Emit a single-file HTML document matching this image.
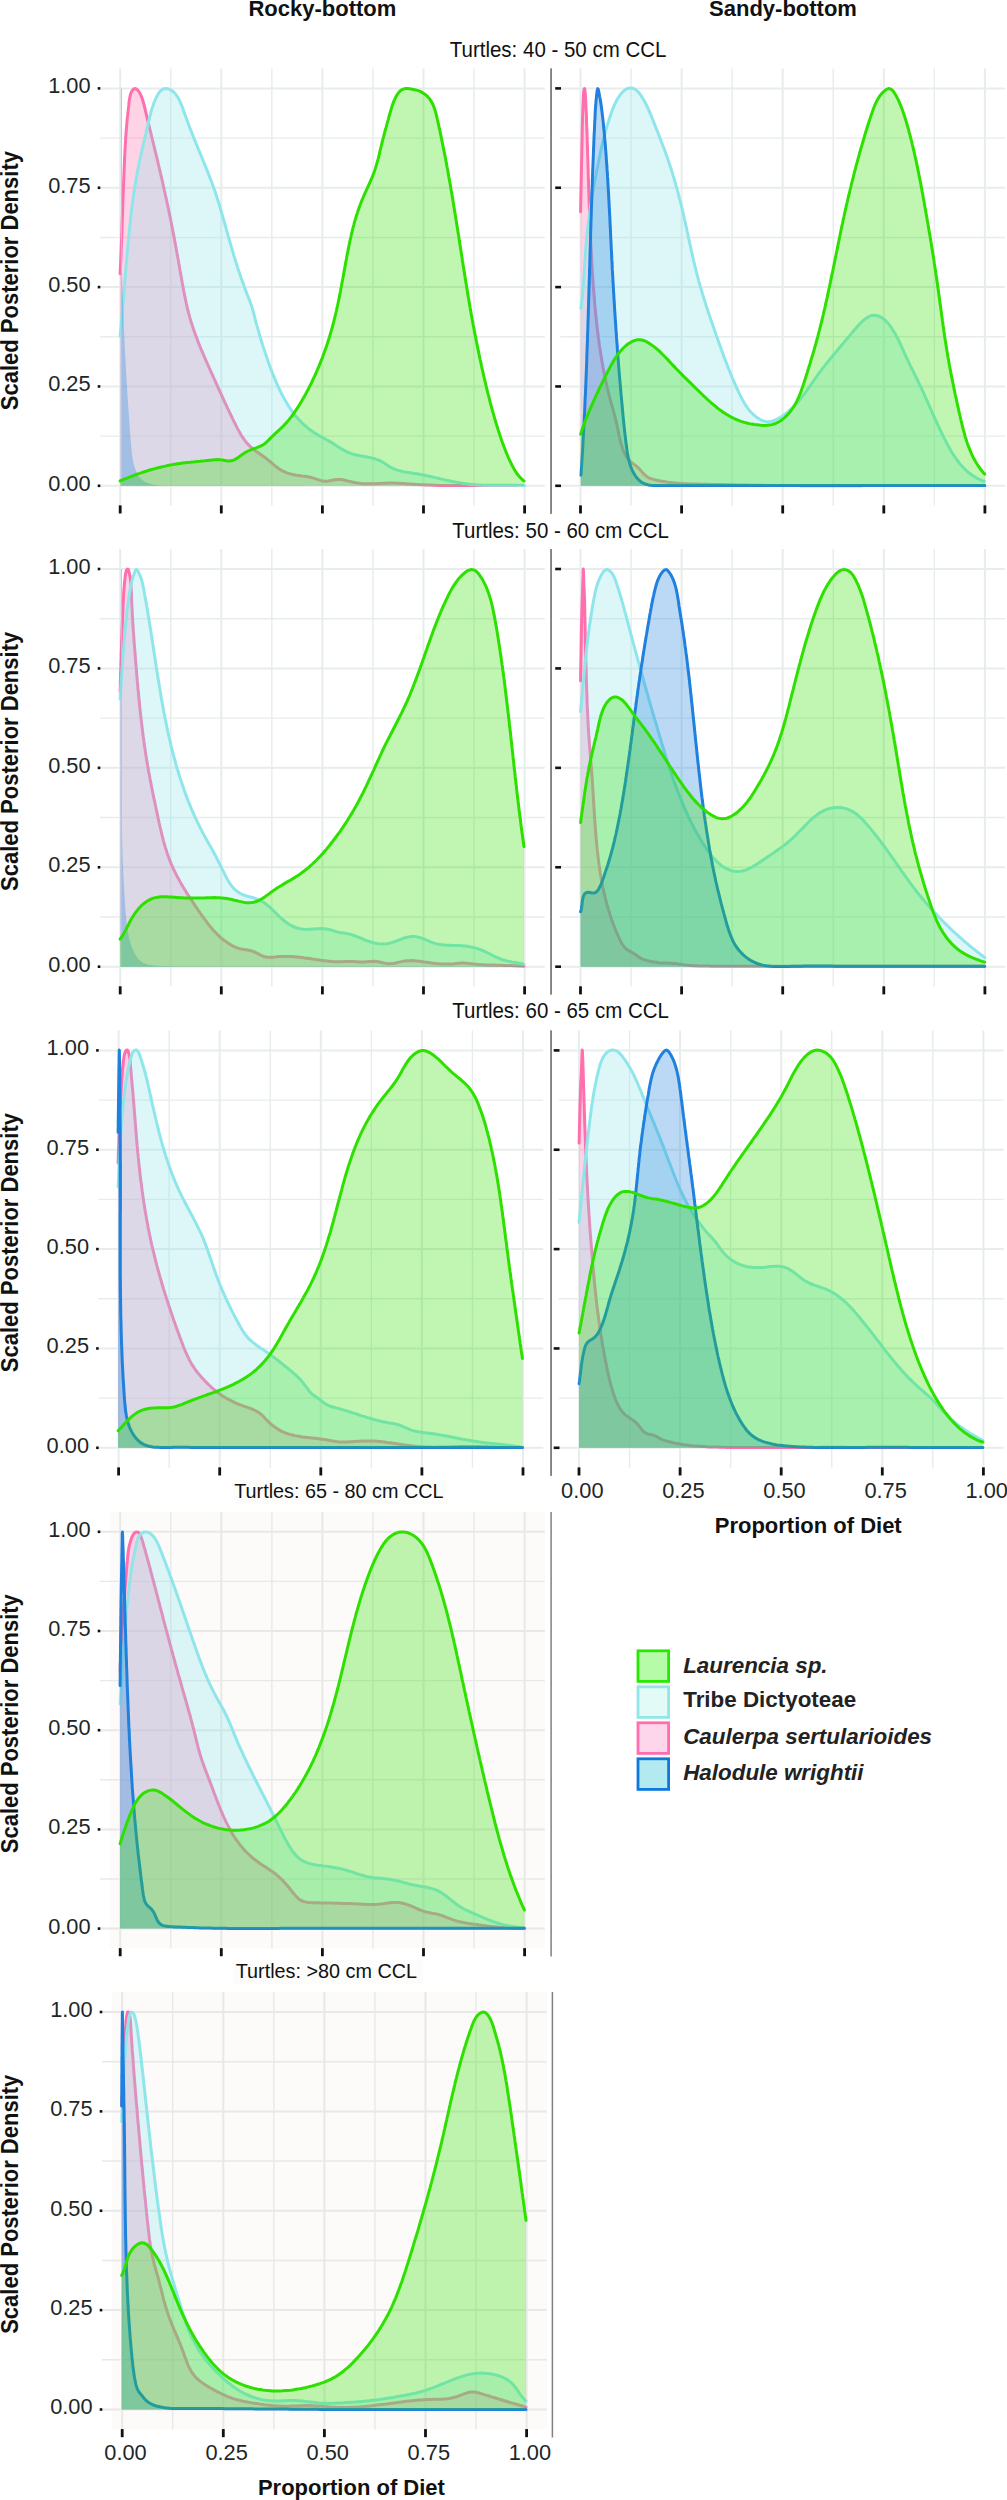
<!DOCTYPE html><html><head><meta charset="utf-8"><style>html,body{margin:0;padding:0;background:#fff;}svg{display:block;}</style></head><body>
<svg width="1007" height="2500" viewBox="0 0 1007 2500" font-family='"Liberation Sans", sans-serif'>
<rect width="1007" height="2500" fill="#fff"/>
<text x="322.4" y="16" font-size="22" font-weight="bold" text-anchor="middle" fill="#111">Rocky-bottom</text>
<text x="783" y="16" font-size="22" font-weight="bold" text-anchor="middle" fill="#111">Sandy-bottom</text>
<text transform="translate(558.1,56.6) scale(1,1.05)" font-size="20.5" text-anchor="middle" fill="#111">Turtles: 40 - 50 cm CCL</text>
<text transform="translate(560.6,537.8) scale(1,1.05)" font-size="20.5" text-anchor="middle" fill="#111">Turtles: 50 - 60 cm CCL</text>
<text transform="translate(560.6,1017.9) scale(1,1.05)" font-size="20.5" text-anchor="middle" fill="#111">Turtles: 60 - 65 cm CCL</text>
<rect x="233" y="1480" width="214" height="24" fill="#fcfcfb"/>
<text transform="translate(338.9,1497.9) scale(1,1.05)" font-size="19.8" text-anchor="middle" fill="#111">Turtles: 65 - 80 cm CCL</text>
<rect x="233" y="1960" width="190" height="24" fill="#fcfcfb"/>
<text transform="translate(326.4,1978.4) scale(1,1.05)" font-size="19.8" text-anchor="middle" fill="#111">Turtles: &gt;80 cm CCL</text>
<line x1="120.2" y1="68.53" x2="120.2" y2="505.67" stroke="#e6edeb" stroke-width="2.0"/>
<line x1="99.98" y1="485.8" x2="544.82" y2="485.8" stroke="#e6edeb" stroke-width="2.0"/>
<line x1="170.75" y1="68.53" x2="170.75" y2="505.67" stroke="#e6edeb" stroke-width="1.4"/>
<line x1="99.98" y1="436.12" x2="544.82" y2="436.12" stroke="#e6edeb" stroke-width="1.4"/>
<line x1="221.3" y1="68.53" x2="221.3" y2="505.67" stroke="#e6edeb" stroke-width="2.0"/>
<line x1="99.98" y1="386.45" x2="544.82" y2="386.45" stroke="#e6edeb" stroke-width="2.0"/>
<line x1="271.85" y1="68.53" x2="271.85" y2="505.67" stroke="#e6edeb" stroke-width="1.4"/>
<line x1="99.98" y1="336.78" x2="544.82" y2="336.78" stroke="#e6edeb" stroke-width="1.4"/>
<line x1="322.4" y1="68.53" x2="322.4" y2="505.67" stroke="#e6edeb" stroke-width="2.0"/>
<line x1="99.98" y1="287.1" x2="544.82" y2="287.1" stroke="#e6edeb" stroke-width="2.0"/>
<line x1="372.95" y1="68.53" x2="372.95" y2="505.67" stroke="#e6edeb" stroke-width="1.4"/>
<line x1="99.98" y1="237.43" x2="544.82" y2="237.43" stroke="#e6edeb" stroke-width="1.4"/>
<line x1="423.5" y1="68.53" x2="423.5" y2="505.67" stroke="#e6edeb" stroke-width="2.0"/>
<line x1="99.98" y1="187.75" x2="544.82" y2="187.75" stroke="#e6edeb" stroke-width="2.0"/>
<line x1="474.05" y1="68.53" x2="474.05" y2="505.67" stroke="#e6edeb" stroke-width="1.4"/>
<line x1="99.98" y1="138.08" x2="544.82" y2="138.08" stroke="#e6edeb" stroke-width="1.4"/>
<line x1="524.6" y1="68.53" x2="524.6" y2="505.67" stroke="#e6edeb" stroke-width="2.0"/>
<line x1="99.98" y1="88.4" x2="544.82" y2="88.4" stroke="#e6edeb" stroke-width="2.0"/>
<path d="M120.1,485.8 120.1,273.8 120.2,271.3 120.3,268.8 120.5,266.3 120.6,263.8 120.7,261.3 120.8,258.7 120.9,256.2 121.0,253.7 121.1,251.2 121.2,248.6 121.3,246.1 121.4,243.6 121.5,241.1 121.6,238.6 121.7,236.0 121.8,233.5 121.9,231.0 122.0,228.5 122.0,225.9 122.1,223.4 122.2,220.9 122.3,218.4 122.4,215.8 122.5,213.3 122.6,210.8 122.7,208.3 122.7,205.7 122.8,203.2 122.9,200.7 123.0,198.2 123.1,195.6 123.2,193.1 123.3,190.6 123.4,188.1 123.5,185.6 123.6,183.0 123.7,180.5 123.8,178.0 123.9,175.5 124.0,173.0 124.1,170.4 124.2,167.9 124.3,165.4 124.4,162.9 124.5,160.4 124.6,157.9 124.7,155.4 124.9,152.8 125.0,150.3 125.1,147.8 125.3,145.3 125.4,142.7 125.6,140.2 125.7,137.7 125.9,135.1 126.1,132.5 126.3,130.0 126.5,127.4 126.7,124.9 126.9,122.4 127.1,120.0 127.4,117.6 127.7,115.2 127.9,112.8 128.2,110.4 128.5,107.9 128.8,105.2 129.0,102.5 129.4,99.7 129.9,96.9 130.5,94.3 131.4,92.0 132.7,90.0 134.2,88.7 135.8,88.6 137.3,89.7 138.7,91.4 139.9,93.2 140.9,95.3 141.8,97.4 142.6,99.8 143.3,102.2 144.0,104.6 144.6,107.2 145.2,109.7 145.8,112.2 146.4,114.7 147.0,117.2 147.6,119.7 148.2,122.1 148.8,124.6 149.4,127.1 150.0,129.6 150.6,132.1 151.2,134.5 151.8,137.0 152.4,139.5 153.0,141.9 153.6,144.4 154.2,146.9 154.8,149.3 155.4,151.8 156.0,154.2 156.6,156.7 157.2,159.2 157.8,161.6 158.3,164.1 158.9,166.5 159.5,169.0 160.1,171.4 160.6,173.9 161.2,176.3 161.8,178.8 162.3,181.2 162.9,183.6 163.4,186.1 164.0,188.5 164.5,191.0 165.1,193.5 165.6,195.9 166.2,198.4 166.7,200.8 167.2,203.3 167.7,205.7 168.3,208.2 168.8,210.7 169.3,213.1 169.8,215.6 170.3,218.1 170.8,220.5 171.3,223.0 171.8,225.5 172.3,228.0 172.7,230.4 173.2,232.9 173.7,235.4 174.2,237.9 174.6,240.4 175.1,242.9 175.6,245.4 176.0,247.9 176.5,250.3 176.9,252.8 177.4,255.3 177.8,257.8 178.3,260.3 178.7,262.8 179.2,265.3 179.6,267.8 180.0,270.3 180.5,272.8 180.9,275.3 181.4,277.8 181.8,280.2 182.2,282.7 182.7,285.2 183.2,287.7 183.6,290.2 184.1,292.7 184.6,295.1 185.1,297.6 185.6,300.1 186.1,302.5 186.7,305.0 187.2,307.4 187.8,309.9 188.4,312.3 189.1,314.7 189.7,317.2 190.4,319.6 191.1,322.0 191.9,324.4 192.7,326.8 193.5,329.2 194.3,331.5 195.1,333.9 196.0,336.3 196.9,338.6 197.8,341.0 198.7,343.4 199.7,345.7 200.6,348.0 201.6,350.4 202.6,352.7 203.6,355.0 204.6,357.4 205.6,359.7 206.6,362.0 207.7,364.3 208.7,366.6 209.7,368.9 210.7,371.2 211.8,373.5 212.8,375.8 213.8,378.1 214.9,380.4 215.9,382.7 216.9,385.0 218.0,387.3 219.0,389.6 220.1,391.9 221.1,394.2 222.1,396.4 223.2,398.7 224.2,401.0 225.3,403.3 226.4,405.6 227.4,407.9 228.5,410.1 229.6,412.4 230.7,414.7 231.8,417.0 232.9,419.3 234.0,421.5 235.1,423.8 236.3,426.1 237.4,428.4 238.6,430.6 239.9,432.8 241.1,435.0 242.5,437.1 243.9,439.2 245.4,441.2 247.0,443.1 248.6,444.9 250.4,446.6 252.3,448.3 254.2,449.9 256.2,451.4 258.3,452.8 260.4,454.3 262.5,455.8 264.6,457.2 266.6,458.7 268.6,460.3 270.5,461.9 272.4,463.5 274.3,465.2 276.2,466.8 278.2,468.3 280.3,469.6 282.4,470.9 284.7,471.9 287.0,472.8 289.4,473.6 291.8,474.3 294.2,474.8 296.7,475.2 299.2,475.5 301.7,475.9 304.1,476.2 306.6,476.6 309.1,477.0 311.5,477.6 314.0,478.3 316.4,479.1 318.8,479.9 321.2,480.6 323.6,481.1 326.1,481.2 328.6,481.0 331.1,480.5 333.6,480.0 336.1,479.6 338.6,479.5 341.1,479.6 343.5,480.0 345.9,480.5 348.3,481.1 350.8,481.6 353.2,482.2 355.7,482.7 358.2,483.1 360.7,483.4 363.2,483.7 365.7,483.8 368.2,483.8 370.7,483.8 373.2,483.8 375.8,483.7 378.3,483.5 380.8,483.4 383.3,483.3 385.8,483.2 388.3,483.1 390.8,483.1 393.4,483.1 395.9,483.2 398.4,483.3 400.9,483.4 403.4,483.5 405.9,483.7 408.4,483.9 410.9,484.0 413.4,484.2 415.9,484.4 418.4,484.5 420.9,484.7 423.4,484.8 425.9,484.9 428.4,485.0 431.0,485.1 433.5,485.2 436.0,485.3 438.5,485.4 441.0,485.4 443.5,485.5 446.0,485.5 448.5,485.6 451.0,485.6 453.6,485.6 456.1,485.6 458.6,485.6 461.1,485.6 463.6,485.6 466.1,485.6 468.6,485.6 471.2,485.6 473.7,485.6 476.2,485.6 478.7,485.6 481.2,485.6 483.7,485.6 486.3,485.6 488.8,485.5 491.3,485.5 493.8,485.5 496.3,485.5 498.8,485.5 501.3,485.5 503.9,485.5 506.4,485.5 508.9,485.5 511.4,485.5 513.9,485.5 516.4,485.5 518.9,485.5 521.5,485.5 524.0,485.6 524.0,485.8 Z" fill="rgba(255,110,173,0.3)" stroke="none"/>
<path d="M120.1,273.8 120.2,271.3 120.3,268.8 120.5,266.3 120.6,263.8 120.7,261.3 120.8,258.7 120.9,256.2 121.0,253.7 121.1,251.2 121.2,248.6 121.3,246.1 121.4,243.6 121.5,241.1 121.6,238.6 121.7,236.0 121.8,233.5 121.9,231.0 122.0,228.5 122.0,225.9 122.1,223.4 122.2,220.9 122.3,218.4 122.4,215.8 122.5,213.3 122.6,210.8 122.7,208.3 122.7,205.7 122.8,203.2 122.9,200.7 123.0,198.2 123.1,195.6 123.2,193.1 123.3,190.6 123.4,188.1 123.5,185.6 123.6,183.0 123.7,180.5 123.8,178.0 123.9,175.5 124.0,173.0 124.1,170.4 124.2,167.9 124.3,165.4 124.4,162.9 124.5,160.4 124.6,157.9 124.7,155.4 124.9,152.8 125.0,150.3 125.1,147.8 125.3,145.3 125.4,142.7 125.6,140.2 125.7,137.7 125.9,135.1 126.1,132.5 126.3,130.0 126.5,127.4 126.7,124.9 126.9,122.4 127.1,120.0 127.4,117.6 127.7,115.2 127.9,112.8 128.2,110.4 128.5,107.9 128.8,105.2 129.0,102.5 129.4,99.7 129.9,96.9 130.5,94.3 131.4,92.0 132.7,90.0 134.2,88.7 135.8,88.6 137.3,89.7 138.7,91.4 139.9,93.2 140.9,95.3 141.8,97.4 142.6,99.8 143.3,102.2 144.0,104.6 144.6,107.2 145.2,109.7 145.8,112.2 146.4,114.7 147.0,117.2 147.6,119.7 148.2,122.1 148.8,124.6 149.4,127.1 150.0,129.6 150.6,132.1 151.2,134.5 151.8,137.0 152.4,139.5 153.0,141.9 153.6,144.4 154.2,146.9 154.8,149.3 155.4,151.8 156.0,154.2 156.6,156.7 157.2,159.2 157.8,161.6 158.3,164.1 158.9,166.5 159.5,169.0 160.1,171.4 160.6,173.9 161.2,176.3 161.8,178.8 162.3,181.2 162.9,183.6 163.4,186.1 164.0,188.5 164.5,191.0 165.1,193.5 165.6,195.9 166.2,198.4 166.7,200.8 167.2,203.3 167.7,205.7 168.3,208.2 168.8,210.7 169.3,213.1 169.8,215.6 170.3,218.1 170.8,220.5 171.3,223.0 171.8,225.5 172.3,228.0 172.7,230.4 173.2,232.9 173.7,235.4 174.2,237.9 174.6,240.4 175.1,242.9 175.6,245.4 176.0,247.9 176.5,250.3 176.9,252.8 177.4,255.3 177.8,257.8 178.3,260.3 178.7,262.8 179.2,265.3 179.6,267.8 180.0,270.3 180.5,272.8 180.9,275.3 181.4,277.8 181.8,280.2 182.2,282.7 182.7,285.2 183.2,287.7 183.6,290.2 184.1,292.7 184.6,295.1 185.1,297.6 185.6,300.1 186.1,302.5 186.7,305.0 187.2,307.4 187.8,309.9 188.4,312.3 189.1,314.7 189.7,317.2 190.4,319.6 191.1,322.0 191.9,324.4 192.7,326.8 193.5,329.2 194.3,331.5 195.1,333.9 196.0,336.3 196.9,338.6 197.8,341.0 198.7,343.4 199.7,345.7 200.6,348.0 201.6,350.4 202.6,352.7 203.6,355.0 204.6,357.4 205.6,359.7 206.6,362.0 207.7,364.3 208.7,366.6 209.7,368.9 210.7,371.2 211.8,373.5 212.8,375.8 213.8,378.1 214.9,380.4 215.9,382.7 216.9,385.0 218.0,387.3 219.0,389.6 220.1,391.9 221.1,394.2 222.1,396.4 223.2,398.7 224.2,401.0 225.3,403.3 226.4,405.6 227.4,407.9 228.5,410.1 229.6,412.4 230.7,414.7 231.8,417.0 232.9,419.3 234.0,421.5 235.1,423.8 236.3,426.1 237.4,428.4 238.6,430.6 239.9,432.8 241.1,435.0 242.5,437.1 243.9,439.2 245.4,441.2 247.0,443.1 248.6,444.9 250.4,446.6 252.3,448.3 254.2,449.9 256.2,451.4 258.3,452.8 260.4,454.3 262.5,455.8 264.6,457.2 266.6,458.7 268.6,460.3 270.5,461.9 272.4,463.5 274.3,465.2 276.2,466.8 278.2,468.3 280.3,469.6 282.4,470.9 284.7,471.9 287.0,472.8 289.4,473.6 291.8,474.3 294.2,474.8 296.7,475.2 299.2,475.5 301.7,475.9 304.1,476.2 306.6,476.6 309.1,477.0 311.5,477.6 314.0,478.3 316.4,479.1 318.8,479.9 321.2,480.6 323.6,481.1 326.1,481.2 328.6,481.0 331.1,480.5 333.6,480.0 336.1,479.6 338.6,479.5 341.1,479.6 343.5,480.0 345.9,480.5 348.3,481.1 350.8,481.6 353.2,482.2 355.7,482.7 358.2,483.1 360.7,483.4 363.2,483.7 365.7,483.8 368.2,483.8 370.7,483.8 373.2,483.8 375.8,483.7 378.3,483.5 380.8,483.4 383.3,483.3 385.8,483.2 388.3,483.1 390.8,483.1 393.4,483.1 395.9,483.2 398.4,483.3 400.9,483.4 403.4,483.5 405.9,483.7 408.4,483.9 410.9,484.0 413.4,484.2 415.9,484.4 418.4,484.5 420.9,484.7 423.4,484.8 425.9,484.9 428.4,485.0 431.0,485.1 433.5,485.2 436.0,485.3 438.5,485.4 441.0,485.4 443.5,485.5 446.0,485.5 448.5,485.6 451.0,485.6 453.6,485.6 456.1,485.6 458.6,485.6 461.1,485.6 463.6,485.6 466.1,485.6 468.6,485.6 471.2,485.6 473.7,485.6 476.2,485.6 478.7,485.6 481.2,485.6 483.7,485.6 486.3,485.6 488.8,485.5 491.3,485.5 493.8,485.5 496.3,485.5 498.8,485.5 501.3,485.5 503.9,485.5 506.4,485.5 508.9,485.5 511.4,485.5 513.9,485.5 516.4,485.5 518.9,485.5 521.5,485.5 524.0,485.6" fill="none" stroke="#ff6ead" stroke-width="3" stroke-linejoin="round" stroke-linecap="round"/>
<path d="M120.1,485.8 120.1,336.2 120.3,333.7 120.6,331.2 120.8,328.7 121.1,326.2 121.3,323.7 121.5,321.1 121.8,318.6 122.0,316.1 122.2,313.6 122.4,311.1 122.6,308.6 122.8,306.1 123.1,303.6 123.3,301.1 123.5,298.5 123.7,296.0 123.9,293.5 124.1,291.0 124.3,288.5 124.5,286.0 124.7,283.5 124.9,281.0 125.1,278.4 125.3,275.9 125.5,273.4 125.7,270.9 125.9,268.4 126.1,265.9 126.3,263.4 126.6,260.9 126.8,258.3 127.0,255.8 127.2,253.3 127.4,250.8 127.7,248.3 127.9,245.8 128.1,243.3 128.3,240.8 128.6,238.3 128.8,235.7 129.1,233.2 129.3,230.7 129.6,228.2 129.8,225.7 130.1,223.2 130.4,220.7 130.6,218.2 130.9,215.7 131.2,213.2 131.5,210.7 131.8,208.2 132.1,205.7 132.5,203.2 132.8,200.7 133.1,198.2 133.5,195.7 133.8,193.2 134.2,190.7 134.6,188.2 135.0,185.7 135.4,183.2 135.8,180.7 136.2,178.3 136.7,175.8 137.1,173.3 137.6,170.8 138.1,168.3 138.6,165.9 139.1,163.4 139.6,160.9 140.2,158.5 140.7,156.0 141.2,153.5 141.8,151.1 142.3,148.6 142.9,146.1 143.5,143.7 144.0,141.2 144.6,138.8 145.2,136.3 145.8,133.9 146.3,131.4 146.9,129.0 147.5,126.5 148.0,124.1 148.6,121.6 149.2,119.2 149.7,116.8 150.4,114.3 151.0,111.9 151.7,109.5 152.5,107.1 153.3,104.6 154.2,102.3 155.2,99.9 156.3,97.5 157.6,95.1 158.9,92.9 160.5,91.0 162.2,89.6 164.2,88.7 166.4,88.6 168.6,89.0 170.8,90.0 172.8,91.3 174.5,92.9 176.1,94.8 177.5,96.8 178.8,99.0 179.9,101.3 180.9,103.7 181.9,106.1 182.8,108.6 183.7,111.1 184.6,113.5 185.4,115.9 186.3,118.3 187.2,120.7 188.1,123.0 188.9,125.4 189.8,127.7 190.7,130.0 191.6,132.3 192.5,134.6 193.4,136.9 194.4,139.3 195.3,141.6 196.2,143.9 197.2,146.2 198.1,148.5 199.1,150.8 200.1,153.2 201.0,155.5 202.0,157.8 202.9,160.2 203.9,162.5 204.9,164.8 205.8,167.2 206.8,169.5 207.7,171.9 208.6,174.2 209.5,176.6 210.4,179.0 211.3,181.3 212.2,183.7 213.1,186.1 213.9,188.4 214.8,190.8 215.6,193.2 216.4,195.6 217.1,198.0 217.9,200.4 218.7,202.8 219.4,205.2 220.1,207.6 220.8,210.0 221.5,212.4 222.2,214.9 222.9,217.3 223.6,219.7 224.3,222.1 225.0,224.6 225.7,227.0 226.3,229.4 227.0,231.8 227.7,234.3 228.4,236.7 229.1,239.1 229.8,241.5 230.5,244.0 231.2,246.4 231.9,248.8 232.6,251.2 233.3,253.6 234.0,256.1 234.8,258.5 235.5,260.9 236.3,263.3 237.1,265.7 237.8,268.1 238.6,270.5 239.4,272.9 240.2,275.3 241.0,277.7 241.9,280.0 242.7,282.4 243.6,284.8 244.4,287.1 245.3,289.5 246.2,291.9 247.1,294.2 248.0,296.5 248.9,298.9 249.9,301.2 250.7,303.5 251.6,305.9 252.3,308.3 253.0,310.7 253.7,313.2 254.3,315.6 254.9,318.1 255.5,320.5 256.1,323.0 256.8,325.4 257.5,327.8 258.2,330.2 258.9,332.7 259.6,335.1 260.3,337.5 261.1,339.9 261.8,342.3 262.6,344.7 263.3,347.1 264.1,349.5 264.9,351.9 265.7,354.3 266.5,356.6 267.3,359.0 268.1,361.4 269.0,363.8 269.8,366.2 270.7,368.6 271.6,370.9 272.5,373.3 273.4,375.6 274.4,378.0 275.4,380.3 276.4,382.6 277.4,384.9 278.4,387.2 279.5,389.5 280.6,391.7 281.7,394.0 282.9,396.2 284.1,398.4 285.3,400.6 286.6,402.8 287.9,404.9 289.2,407.0 290.6,409.1 292.0,411.2 293.5,413.2 295.0,415.2 296.6,417.1 298.3,419.0 300.0,420.8 301.7,422.6 303.6,424.4 305.5,426.0 307.4,427.7 309.4,429.2 311.5,430.7 313.5,432.2 315.7,433.5 317.8,434.9 320.0,436.1 322.2,437.3 324.3,438.5 326.5,439.7 328.7,440.9 330.9,442.1 333.0,443.4 335.1,444.8 337.2,446.2 339.3,447.6 341.5,448.9 343.7,450.1 345.9,451.3 348.2,452.3 350.5,453.3 352.9,454.1 355.3,454.8 357.7,455.3 360.2,455.8 362.7,456.3 365.1,456.7 367.6,457.1 370.1,457.6 372.6,458.2 375.0,458.8 377.3,459.6 379.7,460.6 381.9,461.7 384.1,463.1 386.2,464.5 388.4,465.9 390.6,467.2 392.8,468.3 395.1,469.3 397.4,470.1 399.8,470.8 402.2,471.4 404.6,471.9 407.1,472.3 409.6,472.7 412.1,473.1 414.5,473.4 417.0,473.8 419.5,474.2 422.0,474.7 424.4,475.2 426.9,475.7 429.3,476.2 431.8,476.8 434.2,477.4 436.7,477.9 439.1,478.5 441.5,479.1 444.0,479.6 446.4,480.2 448.9,480.7 451.4,481.2 453.8,481.7 456.3,482.2 458.8,482.6 461.2,483.1 463.7,483.4 466.2,483.8 468.7,484.1 471.2,484.4 473.7,484.6 476.2,484.8 478.7,484.9 481.2,485.1 483.7,485.2 486.2,485.2 488.7,485.3 491.3,485.3 493.8,485.3 496.3,485.3 498.8,485.3 501.3,485.3 503.9,485.3 506.4,485.3 508.9,485.3 511.4,485.3 513.9,485.3 516.4,485.3 519.0,485.4 521.5,485.5 524.0,485.6 524.0,485.8 Z" fill="rgba(143,230,234,0.3)" stroke="none"/>
<path d="M120.1,336.2 120.3,333.7 120.6,331.2 120.8,328.7 121.1,326.2 121.3,323.7 121.5,321.1 121.8,318.6 122.0,316.1 122.2,313.6 122.4,311.1 122.6,308.6 122.8,306.1 123.1,303.6 123.3,301.1 123.5,298.5 123.7,296.0 123.9,293.5 124.1,291.0 124.3,288.5 124.5,286.0 124.7,283.5 124.9,281.0 125.1,278.4 125.3,275.9 125.5,273.4 125.7,270.9 125.9,268.4 126.1,265.9 126.3,263.4 126.6,260.9 126.8,258.3 127.0,255.8 127.2,253.3 127.4,250.8 127.7,248.3 127.9,245.8 128.1,243.3 128.3,240.8 128.6,238.3 128.8,235.7 129.1,233.2 129.3,230.7 129.6,228.2 129.8,225.7 130.1,223.2 130.4,220.7 130.6,218.2 130.9,215.7 131.2,213.2 131.5,210.7 131.8,208.2 132.1,205.7 132.5,203.2 132.8,200.7 133.1,198.2 133.5,195.7 133.8,193.2 134.2,190.7 134.6,188.2 135.0,185.7 135.4,183.2 135.8,180.7 136.2,178.3 136.7,175.8 137.1,173.3 137.6,170.8 138.1,168.3 138.6,165.9 139.1,163.4 139.6,160.9 140.2,158.5 140.7,156.0 141.2,153.5 141.8,151.1 142.3,148.6 142.9,146.1 143.5,143.7 144.0,141.2 144.6,138.8 145.2,136.3 145.8,133.9 146.3,131.4 146.9,129.0 147.5,126.5 148.0,124.1 148.6,121.6 149.2,119.2 149.7,116.8 150.4,114.3 151.0,111.9 151.7,109.5 152.5,107.1 153.3,104.6 154.2,102.3 155.2,99.9 156.3,97.5 157.6,95.1 158.9,92.9 160.5,91.0 162.2,89.6 164.2,88.7 166.4,88.6 168.6,89.0 170.8,90.0 172.8,91.3 174.5,92.9 176.1,94.8 177.5,96.8 178.8,99.0 179.9,101.3 180.9,103.7 181.9,106.1 182.8,108.6 183.7,111.1 184.6,113.5 185.4,115.9 186.3,118.3 187.2,120.7 188.1,123.0 188.9,125.4 189.8,127.7 190.7,130.0 191.6,132.3 192.5,134.6 193.4,136.9 194.4,139.3 195.3,141.6 196.2,143.9 197.2,146.2 198.1,148.5 199.1,150.8 200.1,153.2 201.0,155.5 202.0,157.8 202.9,160.2 203.9,162.5 204.9,164.8 205.8,167.2 206.8,169.5 207.7,171.9 208.6,174.2 209.5,176.6 210.4,179.0 211.3,181.3 212.2,183.7 213.1,186.1 213.9,188.4 214.8,190.8 215.6,193.2 216.4,195.6 217.1,198.0 217.9,200.4 218.7,202.8 219.4,205.2 220.1,207.6 220.8,210.0 221.5,212.4 222.2,214.9 222.9,217.3 223.6,219.7 224.3,222.1 225.0,224.6 225.7,227.0 226.3,229.4 227.0,231.8 227.7,234.3 228.4,236.7 229.1,239.1 229.8,241.5 230.5,244.0 231.2,246.4 231.9,248.8 232.6,251.2 233.3,253.6 234.0,256.1 234.8,258.5 235.5,260.9 236.3,263.3 237.1,265.7 237.8,268.1 238.6,270.5 239.4,272.9 240.2,275.3 241.0,277.7 241.9,280.0 242.7,282.4 243.6,284.8 244.4,287.1 245.3,289.5 246.2,291.9 247.1,294.2 248.0,296.5 248.9,298.9 249.9,301.2 250.7,303.5 251.6,305.9 252.3,308.3 253.0,310.7 253.7,313.2 254.3,315.6 254.9,318.1 255.5,320.5 256.1,323.0 256.8,325.4 257.5,327.8 258.2,330.2 258.9,332.7 259.6,335.1 260.3,337.5 261.1,339.9 261.8,342.3 262.6,344.7 263.3,347.1 264.1,349.5 264.9,351.9 265.7,354.3 266.5,356.6 267.3,359.0 268.1,361.4 269.0,363.8 269.8,366.2 270.7,368.6 271.6,370.9 272.5,373.3 273.4,375.6 274.4,378.0 275.4,380.3 276.4,382.6 277.4,384.9 278.4,387.2 279.5,389.5 280.6,391.7 281.7,394.0 282.9,396.2 284.1,398.4 285.3,400.6 286.6,402.8 287.9,404.9 289.2,407.0 290.6,409.1 292.0,411.2 293.5,413.2 295.0,415.2 296.6,417.1 298.3,419.0 300.0,420.8 301.7,422.6 303.6,424.4 305.5,426.0 307.4,427.7 309.4,429.2 311.5,430.7 313.5,432.2 315.7,433.5 317.8,434.9 320.0,436.1 322.2,437.3 324.3,438.5 326.5,439.7 328.7,440.9 330.9,442.1 333.0,443.4 335.1,444.8 337.2,446.2 339.3,447.6 341.5,448.9 343.7,450.1 345.9,451.3 348.2,452.3 350.5,453.3 352.9,454.1 355.3,454.8 357.7,455.3 360.2,455.8 362.7,456.3 365.1,456.7 367.6,457.1 370.1,457.6 372.6,458.2 375.0,458.8 377.3,459.6 379.7,460.6 381.9,461.7 384.1,463.1 386.2,464.5 388.4,465.9 390.6,467.2 392.8,468.3 395.1,469.3 397.4,470.1 399.8,470.8 402.2,471.4 404.6,471.9 407.1,472.3 409.6,472.7 412.1,473.1 414.5,473.4 417.0,473.8 419.5,474.2 422.0,474.7 424.4,475.2 426.9,475.7 429.3,476.2 431.8,476.8 434.2,477.4 436.7,477.9 439.1,478.5 441.5,479.1 444.0,479.6 446.4,480.2 448.9,480.7 451.4,481.2 453.8,481.7 456.3,482.2 458.8,482.6 461.2,483.1 463.7,483.4 466.2,483.8 468.7,484.1 471.2,484.4 473.7,484.6 476.2,484.8 478.7,484.9 481.2,485.1 483.7,485.2 486.2,485.2 488.7,485.3 491.3,485.3 493.8,485.3 496.3,485.3 498.8,485.3 501.3,485.3 503.9,485.3 506.4,485.3 508.9,485.3 511.4,485.3 513.9,485.3 516.4,485.3 519.0,485.4 521.5,485.5 524.0,485.6" fill="none" stroke="#8fe6ea" stroke-width="3" stroke-linejoin="round" stroke-linecap="round"/>
<path d="M121.2,485.8 121.2,88.6 121.3,91.1 121.3,93.6 121.3,96.1 121.4,98.6 121.4,101.1 121.4,103.6 121.4,106.2 121.4,108.7 121.5,111.2 121.5,113.7 121.5,116.2 121.5,118.7 121.5,121.2 121.5,123.7 121.5,126.3 121.5,128.8 121.5,131.3 121.5,133.8 121.5,136.3 121.5,138.8 121.5,141.3 121.5,143.9 121.5,146.4 121.5,148.9 121.5,151.4 121.5,153.9 121.4,156.4 121.4,158.9 121.4,161.4 121.4,164.0 121.4,166.5 121.4,169.0 121.4,171.5 121.4,174.0 121.4,176.5 121.3,179.0 121.3,181.5 121.3,184.1 121.3,186.6 121.3,189.1 121.3,191.6 121.3,194.1 121.3,196.6 121.3,199.1 121.3,201.6 121.3,204.2 121.3,206.7 121.3,209.2 121.3,211.7 121.3,214.2 121.3,216.7 121.3,219.2 121.3,221.7 121.3,224.3 121.4,226.8 121.4,229.3 121.4,231.8 121.4,234.3 121.4,236.8 121.5,239.3 121.5,241.8 121.5,244.4 121.6,246.9 121.6,249.4 121.7,251.9 121.7,254.4 121.7,256.9 121.8,259.4 121.8,262.0 121.9,264.5 121.9,267.0 122.0,269.5 122.1,272.0 122.1,274.5 122.2,277.0 122.3,279.6 122.3,282.1 122.4,284.6 122.5,287.1 122.5,289.6 122.6,292.1 122.7,294.6 122.8,297.1 122.9,299.7 123.0,302.2 123.0,304.7 123.1,307.2 123.2,309.7 123.3,312.2 123.4,314.7 123.5,317.2 123.6,319.7 123.7,322.3 123.8,324.8 123.9,327.3 124.0,329.8 124.1,332.3 124.3,334.8 124.4,337.3 124.5,339.8 124.6,342.3 124.7,344.8 124.8,347.4 125.0,349.9 125.1,352.4 125.2,354.9 125.3,357.4 125.5,359.9 125.6,362.4 125.7,364.9 125.9,367.4 126.0,369.9 126.2,372.4 126.3,374.9 126.4,377.4 126.6,379.9 126.7,382.4 126.9,384.9 127.0,387.4 127.2,389.9 127.3,392.4 127.5,395.0 127.6,397.5 127.8,400.0 128.0,402.5 128.1,405.0 128.3,407.5 128.5,410.0 128.6,412.5 128.8,415.0 129.0,417.5 129.2,420.0 129.3,422.5 129.5,425.1 129.7,427.6 129.9,430.1 130.1,432.6 130.3,435.1 130.5,437.7 130.7,440.2 130.9,442.7 131.1,445.3 131.3,447.8 131.6,450.3 131.8,452.8 132.1,455.3 132.5,457.8 132.9,460.3 133.4,462.7 134.0,465.1 134.7,467.4 135.4,469.7 136.4,471.9 137.4,474.1 138.6,476.2 140.0,478.1 141.7,479.7 143.7,481.1 145.9,482.3 148.3,483.2 150.8,484.0 153.3,484.5 155.8,484.9 158.3,485.2 160.8,485.3 163.3,485.4 165.8,485.4 168.3,485.5 170.8,485.5 173.3,485.5 175.8,485.5 178.3,485.5 180.8,485.5 183.3,485.5 185.9,485.6 188.4,485.6 190.9,485.6 193.4,485.6 195.9,485.6 198.4,485.6 200.9,485.6 203.4,485.6 205.9,485.6 208.4,485.6 211.0,485.6 213.5,485.6 216.0,485.6 218.5,485.6 221.0,485.6 223.5,485.6 226.0,485.6 228.5,485.6 231.1,485.6 233.6,485.6 236.1,485.6 238.6,485.6 241.1,485.6 243.6,485.6 246.2,485.6 248.7,485.6 251.2,485.6 253.7,485.6 256.2,485.5 258.7,485.5 261.3,485.5 263.8,485.5 266.3,485.5 268.8,485.5 271.3,485.5 273.8,485.5 276.3,485.5 278.9,485.5 281.4,485.5 283.9,485.5 286.4,485.5 288.9,485.5 291.4,485.5 293.9,485.5 296.4,485.5 298.9,485.5 301.5,485.6 304.0,485.6 304.0,485.8 Z" fill="rgba(31,128,222,0.3)" stroke="none"/>
<line x1="121.4" y1="88.4" x2="121.4" y2="485.8" stroke="#a8c8f0" stroke-width="1"/>
<path d="M120.1,485.8 120.1,481.0 122.4,480.0 124.7,479.0 127.1,478.1 129.4,477.2 131.7,476.3 134.1,475.4 136.4,474.5 138.8,473.7 141.2,472.8 143.6,472.0 145.9,471.3 148.3,470.5 150.7,469.8 153.2,469.1 155.6,468.4 158.0,467.8 160.4,467.2 162.9,466.6 165.3,466.1 167.7,465.5 170.2,465.1 172.7,464.6 175.1,464.2 177.6,463.8 180.1,463.4 182.6,463.1 185.1,462.8 187.6,462.5 190.1,462.3 192.6,462.0 195.1,461.8 197.6,461.5 200.0,461.3 202.5,461.0 205.0,460.8 207.5,460.5 210.0,460.2 212.4,459.9 214.9,459.7 217.4,459.6 219.9,459.8 222.4,460.1 224.9,460.5 227.4,460.9 229.8,461.0 232.1,460.6 234.3,459.8 236.4,458.7 238.5,457.3 240.6,455.7 242.7,454.2 244.9,452.8 247.1,451.5 249.3,450.5 251.6,449.5 254.0,448.6 256.3,447.8 258.7,446.9 261.0,445.9 263.2,444.7 265.2,443.3 267.0,441.7 268.8,439.9 270.5,438.1 272.3,436.3 274.1,434.6 276.0,432.9 277.9,431.2 279.7,429.5 281.6,427.7 283.4,426.0 285.1,424.1 286.8,422.3 288.4,420.4 290.0,418.4 291.5,416.5 293.0,414.5 294.4,412.4 295.8,410.4 297.2,408.3 298.6,406.2 299.9,404.0 301.2,401.9 302.4,399.7 303.7,397.5 304.9,395.4 306.1,393.2 307.3,390.9 308.5,388.7 309.6,386.5 310.8,384.2 311.9,382.0 312.9,379.7 314.0,377.4 315.1,375.1 316.1,372.8 317.1,370.5 318.1,368.2 319.1,365.9 320.0,363.6 320.9,361.2 321.9,358.9 322.8,356.5 323.6,354.2 324.5,351.8 325.3,349.5 326.2,347.1 327.0,344.7 327.8,342.3 328.5,339.9 329.3,337.5 330.0,335.1 330.7,332.7 331.4,330.3 332.1,327.9 332.8,325.5 333.4,323.0 334.0,320.6 334.6,318.2 335.2,315.7 335.8,313.3 336.4,310.8 336.9,308.4 337.5,305.9 338.0,303.5 338.5,301.0 339.0,298.6 339.5,296.1 340.0,293.6 340.5,291.2 340.9,288.7 341.4,286.2 341.8,283.8 342.3,281.3 342.8,278.8 343.2,276.3 343.7,273.9 344.1,271.4 344.6,268.9 345.0,266.4 345.5,263.9 345.9,261.5 346.4,259.0 346.8,256.5 347.3,254.0 347.8,251.6 348.3,249.1 348.8,246.6 349.3,244.2 349.8,241.7 350.3,239.3 350.9,236.8 351.4,234.4 352.0,231.9 352.6,229.5 353.2,227.1 353.9,224.6 354.5,222.2 355.2,219.8 355.9,217.4 356.7,215.0 357.5,212.6 358.2,210.3 359.1,207.9 359.9,205.5 360.8,203.2 361.7,200.9 362.7,198.5 363.7,196.2 364.7,193.9 365.7,191.6 366.8,189.3 367.8,187.1 368.8,184.8 369.9,182.5 370.9,180.2 371.9,177.8 372.8,175.5 373.7,173.2 374.6,170.8 375.4,168.4 376.1,166.0 376.8,163.6 377.5,161.2 378.2,158.8 378.8,156.3 379.4,153.9 379.9,151.4 380.5,149.0 381.1,146.5 381.7,144.1 382.3,141.6 382.9,139.2 383.6,136.8 384.2,134.3 384.8,131.9 385.5,129.5 386.2,127.1 386.8,124.7 387.5,122.2 388.2,119.8 388.8,117.4 389.5,115.0 390.2,112.6 390.9,110.1 391.6,107.7 392.3,105.3 393.2,102.9 394.1,100.6 395.2,98.3 396.3,96.0 397.7,93.9 399.2,91.9 400.9,90.3 402.8,89.2 405.0,88.6 407.3,88.6 409.7,88.8 412.2,89.2 414.8,89.7 417.3,90.4 419.7,91.2 422.0,92.4 424.1,93.7 426.1,95.2 427.9,96.9 429.4,98.7 430.8,100.7 432.0,102.8 433.1,104.9 434.0,107.2 434.8,109.5 435.5,111.9 436.2,114.3 436.8,116.8 437.3,119.3 437.9,121.7 438.4,124.2 439.0,126.7 439.5,129.2 440.1,131.7 440.6,134.1 441.1,136.6 441.6,139.1 442.1,141.6 442.6,144.0 443.1,146.5 443.6,149.0 444.1,151.5 444.6,153.9 445.1,156.4 445.6,158.9 446.0,161.4 446.5,163.8 446.9,166.3 447.4,168.8 447.9,171.3 448.3,173.7 448.7,176.2 449.2,178.7 449.6,181.2 450.1,183.6 450.5,186.1 450.9,188.6 451.3,191.1 451.8,193.5 452.2,196.0 452.6,198.5 453.0,201.0 453.4,203.4 453.8,205.9 454.2,208.4 454.6,210.9 455.0,213.3 455.4,215.8 455.8,218.3 456.2,220.8 456.6,223.3 457.0,225.7 457.4,228.2 457.8,230.7 458.2,233.2 458.6,235.6 459.0,238.1 459.3,240.6 459.7,243.1 460.1,245.6 460.5,248.1 460.9,250.5 461.3,253.0 461.7,255.5 462.1,258.0 462.4,260.5 462.8,263.0 463.2,265.5 463.6,267.9 464.0,270.4 464.4,272.9 464.8,275.4 465.2,277.9 465.6,280.4 466.0,282.9 466.4,285.3 466.8,287.8 467.2,290.3 467.6,292.8 468.0,295.3 468.4,297.8 468.9,300.3 469.3,302.7 469.7,305.2 470.1,307.7 470.6,310.2 471.0,312.6 471.4,315.1 471.9,317.6 472.3,320.1 472.8,322.5 473.2,325.0 473.7,327.5 474.2,329.9 474.6,332.4 475.1,334.9 475.6,337.3 476.1,339.8 476.6,342.3 477.1,344.7 477.6,347.2 478.1,349.6 478.6,352.1 479.1,354.6 479.6,357.0 480.1,359.5 480.7,361.9 481.2,364.4 481.7,366.8 482.3,369.3 482.8,371.7 483.4,374.2 483.9,376.7 484.5,379.1 485.1,381.6 485.7,384.0 486.2,386.4 486.8,388.9 487.4,391.3 488.0,393.8 488.7,396.2 489.3,398.7 489.9,401.1 490.5,403.5 491.2,406.0 491.8,408.4 492.5,410.8 493.2,413.2 493.9,415.7 494.6,418.1 495.3,420.5 496.0,422.9 496.7,425.3 497.5,427.7 498.2,430.1 499.0,432.5 499.8,434.9 500.6,437.2 501.4,439.6 502.2,442.0 503.1,444.3 504.0,446.7 504.9,449.0 505.8,451.4 506.7,453.7 507.7,456.0 508.7,458.3 509.8,460.6 510.9,462.9 512.0,465.2 513.2,467.4 514.4,469.6 515.7,471.7 517.1,473.8 518.7,475.7 520.3,477.6 522.1,479.3 524.0,481.0 524.0,485.8 Z" fill="rgba(45,224,0,0.3)" stroke="none"/>
<path d="M120.1,481.0 122.4,480.0 124.7,479.0 127.1,478.1 129.4,477.2 131.7,476.3 134.1,475.4 136.4,474.5 138.8,473.7 141.2,472.8 143.6,472.0 145.9,471.3 148.3,470.5 150.7,469.8 153.2,469.1 155.6,468.4 158.0,467.8 160.4,467.2 162.9,466.6 165.3,466.1 167.7,465.5 170.2,465.1 172.7,464.6 175.1,464.2 177.6,463.8 180.1,463.4 182.6,463.1 185.1,462.8 187.6,462.5 190.1,462.3 192.6,462.0 195.1,461.8 197.6,461.5 200.0,461.3 202.5,461.0 205.0,460.8 207.5,460.5 210.0,460.2 212.4,459.9 214.9,459.7 217.4,459.6 219.9,459.8 222.4,460.1 224.9,460.5 227.4,460.9 229.8,461.0 232.1,460.6 234.3,459.8 236.4,458.7 238.5,457.3 240.6,455.7 242.7,454.2 244.9,452.8 247.1,451.5 249.3,450.5 251.6,449.5 254.0,448.6 256.3,447.8 258.7,446.9 261.0,445.9 263.2,444.7 265.2,443.3 267.0,441.7 268.8,439.9 270.5,438.1 272.3,436.3 274.1,434.6 276.0,432.9 277.9,431.2 279.7,429.5 281.6,427.7 283.4,426.0 285.1,424.1 286.8,422.3 288.4,420.4 290.0,418.4 291.5,416.5 293.0,414.5 294.4,412.4 295.8,410.4 297.2,408.3 298.6,406.2 299.9,404.0 301.2,401.9 302.4,399.7 303.7,397.5 304.9,395.4 306.1,393.2 307.3,390.9 308.5,388.7 309.6,386.5 310.8,384.2 311.9,382.0 312.9,379.7 314.0,377.4 315.1,375.1 316.1,372.8 317.1,370.5 318.1,368.2 319.1,365.9 320.0,363.6 320.9,361.2 321.9,358.9 322.8,356.5 323.6,354.2 324.5,351.8 325.3,349.5 326.2,347.1 327.0,344.7 327.8,342.3 328.5,339.9 329.3,337.5 330.0,335.1 330.7,332.7 331.4,330.3 332.1,327.9 332.8,325.5 333.4,323.0 334.0,320.6 334.6,318.2 335.2,315.7 335.8,313.3 336.4,310.8 336.9,308.4 337.5,305.9 338.0,303.5 338.5,301.0 339.0,298.6 339.5,296.1 340.0,293.6 340.5,291.2 340.9,288.7 341.4,286.2 341.8,283.8 342.3,281.3 342.8,278.8 343.2,276.3 343.7,273.9 344.1,271.4 344.6,268.9 345.0,266.4 345.5,263.9 345.9,261.5 346.4,259.0 346.8,256.5 347.3,254.0 347.8,251.6 348.3,249.1 348.8,246.6 349.3,244.2 349.8,241.7 350.3,239.3 350.9,236.8 351.4,234.4 352.0,231.9 352.6,229.5 353.2,227.1 353.9,224.6 354.5,222.2 355.2,219.8 355.9,217.4 356.7,215.0 357.5,212.6 358.2,210.3 359.1,207.9 359.9,205.5 360.8,203.2 361.7,200.9 362.7,198.5 363.7,196.2 364.7,193.9 365.7,191.6 366.8,189.3 367.8,187.1 368.8,184.8 369.9,182.5 370.9,180.2 371.9,177.8 372.8,175.5 373.7,173.2 374.6,170.8 375.4,168.4 376.1,166.0 376.8,163.6 377.5,161.2 378.2,158.8 378.8,156.3 379.4,153.9 379.9,151.4 380.5,149.0 381.1,146.5 381.7,144.1 382.3,141.6 382.9,139.2 383.6,136.8 384.2,134.3 384.8,131.9 385.5,129.5 386.2,127.1 386.8,124.7 387.5,122.2 388.2,119.8 388.8,117.4 389.5,115.0 390.2,112.6 390.9,110.1 391.6,107.7 392.3,105.3 393.2,102.9 394.1,100.6 395.2,98.3 396.3,96.0 397.7,93.9 399.2,91.9 400.9,90.3 402.8,89.2 405.0,88.6 407.3,88.6 409.7,88.8 412.2,89.2 414.8,89.7 417.3,90.4 419.7,91.2 422.0,92.4 424.1,93.7 426.1,95.2 427.9,96.9 429.4,98.7 430.8,100.7 432.0,102.8 433.1,104.9 434.0,107.2 434.8,109.5 435.5,111.9 436.2,114.3 436.8,116.8 437.3,119.3 437.9,121.7 438.4,124.2 439.0,126.7 439.5,129.2 440.1,131.7 440.6,134.1 441.1,136.6 441.6,139.1 442.1,141.6 442.6,144.0 443.1,146.5 443.6,149.0 444.1,151.5 444.6,153.9 445.1,156.4 445.6,158.9 446.0,161.4 446.5,163.8 446.9,166.3 447.4,168.8 447.9,171.3 448.3,173.7 448.7,176.2 449.2,178.7 449.6,181.2 450.1,183.6 450.5,186.1 450.9,188.6 451.3,191.1 451.8,193.5 452.2,196.0 452.6,198.5 453.0,201.0 453.4,203.4 453.8,205.9 454.2,208.4 454.6,210.9 455.0,213.3 455.4,215.8 455.8,218.3 456.2,220.8 456.6,223.3 457.0,225.7 457.4,228.2 457.8,230.7 458.2,233.2 458.6,235.6 459.0,238.1 459.3,240.6 459.7,243.1 460.1,245.6 460.5,248.1 460.9,250.5 461.3,253.0 461.7,255.5 462.1,258.0 462.4,260.5 462.8,263.0 463.2,265.5 463.6,267.9 464.0,270.4 464.4,272.9 464.8,275.4 465.2,277.9 465.6,280.4 466.0,282.9 466.4,285.3 466.8,287.8 467.2,290.3 467.6,292.8 468.0,295.3 468.4,297.8 468.9,300.3 469.3,302.7 469.7,305.2 470.1,307.7 470.6,310.2 471.0,312.6 471.4,315.1 471.9,317.6 472.3,320.1 472.8,322.5 473.2,325.0 473.7,327.5 474.2,329.9 474.6,332.4 475.1,334.9 475.6,337.3 476.1,339.8 476.6,342.3 477.1,344.7 477.6,347.2 478.1,349.6 478.6,352.1 479.1,354.6 479.6,357.0 480.1,359.5 480.7,361.9 481.2,364.4 481.7,366.8 482.3,369.3 482.8,371.7 483.4,374.2 483.9,376.7 484.5,379.1 485.1,381.6 485.7,384.0 486.2,386.4 486.8,388.9 487.4,391.3 488.0,393.8 488.7,396.2 489.3,398.7 489.9,401.1 490.5,403.5 491.2,406.0 491.8,408.4 492.5,410.8 493.2,413.2 493.9,415.7 494.6,418.1 495.3,420.5 496.0,422.9 496.7,425.3 497.5,427.7 498.2,430.1 499.0,432.5 499.8,434.9 500.6,437.2 501.4,439.6 502.2,442.0 503.1,444.3 504.0,446.7 504.9,449.0 505.8,451.4 506.7,453.7 507.7,456.0 508.7,458.3 509.8,460.6 510.9,462.9 512.0,465.2 513.2,467.4 514.4,469.6 515.7,471.7 517.1,473.8 518.7,475.7 520.3,477.6 522.1,479.3 524.0,481.0" fill="none" stroke="#2de000" stroke-width="3" stroke-linejoin="round" stroke-linecap="round"/>
<rect x="97.7" y="484.5" width="2.6" height="2.6" fill="#111"/>
<text transform="translate(90.6,490.7) scale(1,1.02)" font-size="21.8" text-anchor="end" fill="#1c2626">0.00</text>
<rect x="97.7" y="385.15" width="2.6" height="2.6" fill="#111"/>
<text transform="translate(90.6,391.35) scale(1,1.02)" font-size="21.8" text-anchor="end" fill="#1c2626">0.25</text>
<rect x="97.7" y="285.8" width="2.6" height="2.6" fill="#111"/>
<text transform="translate(90.6,292) scale(1,1.02)" font-size="21.8" text-anchor="end" fill="#1c2626">0.50</text>
<rect x="97.7" y="186.45" width="2.6" height="2.6" fill="#111"/>
<text transform="translate(90.6,192.65) scale(1,1.02)" font-size="21.8" text-anchor="end" fill="#1c2626">0.75</text>
<rect x="97.7" y="87.1" width="2.6" height="2.6" fill="#111"/>
<text transform="translate(90.6,93.3) scale(1,1.02)" font-size="21.8" text-anchor="end" fill="#1c2626">1.00</text>
<rect x="118.8" y="505.37" width="2.8" height="8.1" fill="#111"/>
<rect x="219.9" y="505.37" width="2.8" height="8.1" fill="#111"/>
<rect x="321" y="505.37" width="2.8" height="8.1" fill="#111"/>
<rect x="422.1" y="505.37" width="2.8" height="8.1" fill="#111"/>
<rect x="523.2" y="505.37" width="2.8" height="8.1" fill="#111"/>
<line x1="551.1" y1="68.53" x2="551.1" y2="513.67" stroke="#808080" stroke-width="1.5"/>
<line x1="580.5" y1="68.53" x2="580.5" y2="505.67" stroke="#e6edeb" stroke-width="2.0"/>
<line x1="560.28" y1="485.8" x2="1005.12" y2="485.8" stroke="#e6edeb" stroke-width="2.0"/>
<line x1="631.05" y1="68.53" x2="631.05" y2="505.67" stroke="#e6edeb" stroke-width="1.4"/>
<line x1="560.28" y1="436.12" x2="1005.12" y2="436.12" stroke="#e6edeb" stroke-width="1.4"/>
<line x1="681.6" y1="68.53" x2="681.6" y2="505.67" stroke="#e6edeb" stroke-width="2.0"/>
<line x1="560.28" y1="386.45" x2="1005.12" y2="386.45" stroke="#e6edeb" stroke-width="2.0"/>
<line x1="732.15" y1="68.53" x2="732.15" y2="505.67" stroke="#e6edeb" stroke-width="1.4"/>
<line x1="560.28" y1="336.78" x2="1005.12" y2="336.78" stroke="#e6edeb" stroke-width="1.4"/>
<line x1="782.7" y1="68.53" x2="782.7" y2="505.67" stroke="#e6edeb" stroke-width="2.0"/>
<line x1="560.28" y1="287.1" x2="1005.12" y2="287.1" stroke="#e6edeb" stroke-width="2.0"/>
<line x1="833.25" y1="68.53" x2="833.25" y2="505.67" stroke="#e6edeb" stroke-width="1.4"/>
<line x1="560.28" y1="237.43" x2="1005.12" y2="237.43" stroke="#e6edeb" stroke-width="1.4"/>
<line x1="883.8" y1="68.53" x2="883.8" y2="505.67" stroke="#e6edeb" stroke-width="2.0"/>
<line x1="560.28" y1="187.75" x2="1005.12" y2="187.75" stroke="#e6edeb" stroke-width="2.0"/>
<line x1="934.35" y1="68.53" x2="934.35" y2="505.67" stroke="#e6edeb" stroke-width="1.4"/>
<line x1="560.28" y1="138.08" x2="1005.12" y2="138.08" stroke="#e6edeb" stroke-width="1.4"/>
<line x1="984.9" y1="68.53" x2="984.9" y2="505.67" stroke="#e6edeb" stroke-width="2.0"/>
<line x1="560.28" y1="88.4" x2="1005.12" y2="88.4" stroke="#e6edeb" stroke-width="2.0"/>
<path d="M580.6,485.8 580.6,211.8 580.6,209.3 580.7,206.8 580.7,204.3 580.8,201.8 580.8,199.2 580.9,196.7 580.9,194.2 581.0,191.6 581.0,189.1 581.1,186.6 581.2,184.0 581.2,181.5 581.3,179.0 581.3,176.4 581.4,173.9 581.4,171.3 581.5,168.8 581.5,166.3 581.6,163.7 581.6,161.2 581.7,158.7 581.7,156.2 581.8,153.7 581.8,151.2 581.9,148.6 581.9,146.1 582.0,143.6 582.0,141.1 582.1,138.6 582.1,136.1 582.2,133.6 582.2,131.1 582.3,128.6 582.3,126.1 582.4,123.6 582.5,121.0 582.5,118.5 582.6,115.9 582.7,113.4 582.8,110.8 582.9,108.2 583.0,105.6 583.1,103.0 583.2,100.4 583.3,97.8 583.4,95.2 583.6,92.7 583.9,90.5 584.2,88.9 584.5,88.6 584.9,89.8 585.1,92.1 585.4,95.0 585.6,97.8 585.7,100.4 585.8,102.9 585.9,105.5 586.0,108.0 586.1,110.6 586.3,113.1 586.4,115.6 586.5,118.1 586.5,120.6 586.6,123.2 586.7,125.7 586.8,128.2 586.9,130.7 587.0,133.2 587.1,135.7 587.2,138.3 587.2,140.8 587.3,143.3 587.4,145.8 587.5,148.3 587.6,150.9 587.6,153.4 587.7,155.9 587.8,158.4 587.9,161.0 587.9,163.5 588.0,166.0 588.1,168.5 588.2,171.1 588.2,173.6 588.3,176.1 588.4,178.6 588.5,181.2 588.6,183.7 588.6,186.2 588.7,188.7 588.8,191.3 588.9,193.8 589.0,196.3 589.0,198.8 589.1,201.4 589.2,203.9 589.3,206.4 589.4,208.9 589.5,211.5 589.6,214.0 589.7,216.5 589.7,219.0 589.8,221.6 589.9,224.1 590.0,226.6 590.1,229.1 590.3,231.6 590.4,234.2 590.5,236.7 590.6,239.2 590.7,241.7 590.8,244.3 590.9,246.8 591.1,249.3 591.2,251.8 591.3,254.3 591.5,256.9 591.6,259.4 591.7,261.9 591.9,264.4 592.0,266.9 592.2,269.5 592.3,272.0 592.5,274.5 592.7,277.0 592.8,279.5 593.0,282.1 593.2,284.6 593.4,287.1 593.6,289.6 593.8,292.1 594.0,294.6 594.2,297.2 594.4,299.7 594.6,302.2 594.8,304.7 595.0,307.2 595.3,309.7 595.5,312.2 595.7,314.8 596.0,317.3 596.3,319.8 596.5,322.3 596.8,324.8 597.1,327.3 597.4,329.8 597.7,332.3 598.0,334.8 598.3,337.3 598.7,339.8 599.0,342.3 599.3,344.8 599.7,347.3 600.1,349.8 600.5,352.3 600.9,354.8 601.3,357.3 601.7,359.8 602.1,362.3 602.6,364.7 603.0,367.2 603.5,369.7 604.0,372.2 604.5,374.7 605.0,377.1 605.5,379.6 606.0,382.1 606.6,384.5 607.1,387.0 607.7,389.4 608.3,391.9 608.9,394.4 609.6,396.8 610.2,399.2 610.9,401.7 611.5,404.1 612.2,406.6 612.9,409.0 613.6,411.5 614.2,413.9 614.9,416.3 615.5,418.8 616.1,421.2 616.7,423.7 617.2,426.1 617.7,428.6 618.2,431.1 618.7,433.5 619.2,436.0 619.8,438.4 620.3,440.9 621.0,443.3 621.7,445.8 622.5,448.2 623.4,450.6 624.4,453.0 625.5,455.3 626.8,457.4 628.3,459.4 630.0,461.1 631.9,462.7 633.8,464.1 635.8,465.6 637.7,467.3 639.5,469.1 641.3,471.1 643.0,473.1 644.8,474.9 646.7,476.5 648.8,477.8 651.1,478.7 653.4,479.4 655.8,480.0 658.3,480.5 660.7,481.0 663.2,481.4 665.6,481.8 668.1,482.2 670.6,482.5 673.1,482.8 675.5,483.0 678.0,483.2 680.5,483.4 683.0,483.6 685.5,483.7 688.1,483.8 690.6,483.9 693.1,484.0 695.6,484.1 698.1,484.1 700.6,484.2 703.2,484.2 705.7,484.3 708.2,484.3 710.7,484.4 713.2,484.4 715.7,484.5 718.3,484.5 720.8,484.6 723.3,484.6 725.8,484.7 728.3,484.7 730.8,484.8 733.3,484.8 735.9,484.9 738.4,484.9 740.9,485.0 743.4,485.0 745.9,485.1 748.4,485.1 750.9,485.2 753.4,485.2 755.9,485.2 758.5,485.3 761.0,485.3 763.5,485.3 766.0,485.4 768.5,485.4 771.0,485.4 773.5,485.5 776.0,485.5 778.5,485.5 781.1,485.5 783.6,485.6 786.1,485.6 788.6,485.6 791.1,485.6 793.6,485.6 796.1,485.6 798.7,485.6 801.2,485.7 803.7,485.7 806.2,485.7 808.7,485.7 811.2,485.7 813.7,485.7 816.2,485.7 818.8,485.7 821.3,485.7 823.8,485.7 826.3,485.7 828.8,485.7 831.3,485.7 833.8,485.7 836.4,485.7 838.9,485.7 841.4,485.7 843.9,485.7 846.4,485.7 848.9,485.7 851.4,485.7 854.0,485.7 856.5,485.7 859.0,485.7 861.5,485.7 864.0,485.6 866.5,485.6 869.0,485.6 871.6,485.6 874.1,485.6 876.6,485.6 879.1,485.6 881.6,485.6 884.1,485.6 886.6,485.6 889.2,485.6 891.7,485.6 894.2,485.5 896.7,485.5 899.2,485.5 901.7,485.5 904.2,485.5 906.8,485.5 909.3,485.5 911.8,485.5 914.3,485.5 916.8,485.5 919.3,485.5 921.8,485.5 924.4,485.5 926.9,485.4 929.4,485.4 931.9,485.4 934.4,485.4 936.9,485.4 939.4,485.4 941.9,485.4 944.5,485.4 947.0,485.4 949.5,485.4 952.0,485.4 954.5,485.4 957.0,485.4 959.5,485.5 962.1,485.5 964.6,485.5 967.1,485.5 969.6,485.5 972.1,485.5 974.6,485.5 977.1,485.5 979.6,485.5 982.2,485.6 984.7,485.6 984.7,485.8 Z" fill="rgba(255,110,173,0.3)" stroke="none"/>
<path d="M580.6,211.8 580.6,209.3 580.7,206.8 580.7,204.3 580.8,201.8 580.8,199.2 580.9,196.7 580.9,194.2 581.0,191.6 581.0,189.1 581.1,186.6 581.2,184.0 581.2,181.5 581.3,179.0 581.3,176.4 581.4,173.9 581.4,171.3 581.5,168.8 581.5,166.3 581.6,163.7 581.6,161.2 581.7,158.7 581.7,156.2 581.8,153.7 581.8,151.2 581.9,148.6 581.9,146.1 582.0,143.6 582.0,141.1 582.1,138.6 582.1,136.1 582.2,133.6 582.2,131.1 582.3,128.6 582.3,126.1 582.4,123.6 582.5,121.0 582.5,118.5 582.6,115.9 582.7,113.4 582.8,110.8 582.9,108.2 583.0,105.6 583.1,103.0 583.2,100.4 583.3,97.8 583.4,95.2 583.6,92.7 583.9,90.5 584.2,88.9 584.5,88.6 584.9,89.8 585.1,92.1 585.4,95.0 585.6,97.8 585.7,100.4 585.8,102.9 585.9,105.5 586.0,108.0 586.1,110.6 586.3,113.1 586.4,115.6 586.5,118.1 586.5,120.6 586.6,123.2 586.7,125.7 586.8,128.2 586.9,130.7 587.0,133.2 587.1,135.7 587.2,138.3 587.2,140.8 587.3,143.3 587.4,145.8 587.5,148.3 587.6,150.9 587.6,153.4 587.7,155.9 587.8,158.4 587.9,161.0 587.9,163.5 588.0,166.0 588.1,168.5 588.2,171.1 588.2,173.6 588.3,176.1 588.4,178.6 588.5,181.2 588.6,183.7 588.6,186.2 588.7,188.7 588.8,191.3 588.9,193.8 589.0,196.3 589.0,198.8 589.1,201.4 589.2,203.9 589.3,206.4 589.4,208.9 589.5,211.5 589.6,214.0 589.7,216.5 589.7,219.0 589.8,221.6 589.9,224.1 590.0,226.6 590.1,229.1 590.3,231.6 590.4,234.2 590.5,236.7 590.6,239.2 590.7,241.7 590.8,244.3 590.9,246.8 591.1,249.3 591.2,251.8 591.3,254.3 591.5,256.9 591.6,259.4 591.7,261.9 591.9,264.4 592.0,266.9 592.2,269.5 592.3,272.0 592.5,274.5 592.7,277.0 592.8,279.5 593.0,282.1 593.2,284.6 593.4,287.1 593.6,289.6 593.8,292.1 594.0,294.6 594.2,297.2 594.4,299.7 594.6,302.2 594.8,304.7 595.0,307.2 595.3,309.7 595.5,312.2 595.7,314.8 596.0,317.3 596.3,319.8 596.5,322.3 596.8,324.8 597.1,327.3 597.4,329.8 597.7,332.3 598.0,334.8 598.3,337.3 598.7,339.8 599.0,342.3 599.3,344.8 599.7,347.3 600.1,349.8 600.5,352.3 600.9,354.8 601.3,357.3 601.7,359.8 602.1,362.3 602.6,364.7 603.0,367.2 603.5,369.7 604.0,372.2 604.5,374.7 605.0,377.1 605.5,379.6 606.0,382.1 606.6,384.5 607.1,387.0 607.7,389.4 608.3,391.9 608.9,394.4 609.6,396.8 610.2,399.2 610.9,401.7 611.5,404.1 612.2,406.6 612.9,409.0 613.6,411.5 614.2,413.9 614.9,416.3 615.5,418.8 616.1,421.2 616.7,423.7 617.2,426.1 617.7,428.6 618.2,431.1 618.7,433.5 619.2,436.0 619.8,438.4 620.3,440.9 621.0,443.3 621.7,445.8 622.5,448.2 623.4,450.6 624.4,453.0 625.5,455.3 626.8,457.4 628.3,459.4 630.0,461.1 631.9,462.7 633.8,464.1 635.8,465.6 637.7,467.3 639.5,469.1 641.3,471.1 643.0,473.1 644.8,474.9 646.7,476.5 648.8,477.8 651.1,478.7 653.4,479.4 655.8,480.0 658.3,480.5 660.7,481.0 663.2,481.4 665.6,481.8 668.1,482.2 670.6,482.5 673.1,482.8 675.5,483.0 678.0,483.2 680.5,483.4 683.0,483.6 685.5,483.7 688.1,483.8 690.6,483.9 693.1,484.0 695.6,484.1 698.1,484.1 700.6,484.2 703.2,484.2 705.7,484.3 708.2,484.3 710.7,484.4 713.2,484.4 715.7,484.5 718.3,484.5 720.8,484.6 723.3,484.6 725.8,484.7 728.3,484.7 730.8,484.8 733.3,484.8 735.9,484.9 738.4,484.9 740.9,485.0 743.4,485.0 745.9,485.1 748.4,485.1 750.9,485.2 753.4,485.2 755.9,485.2 758.5,485.3 761.0,485.3 763.5,485.3 766.0,485.4 768.5,485.4 771.0,485.4 773.5,485.5 776.0,485.5 778.5,485.5 781.1,485.5 783.6,485.6 786.1,485.6 788.6,485.6 791.1,485.6 793.6,485.6 796.1,485.6 798.7,485.6 801.2,485.7 803.7,485.7 806.2,485.7 808.7,485.7 811.2,485.7 813.7,485.7 816.2,485.7 818.8,485.7 821.3,485.7 823.8,485.7 826.3,485.7 828.8,485.7 831.3,485.7 833.8,485.7 836.4,485.7 838.9,485.7 841.4,485.7 843.9,485.7 846.4,485.7 848.9,485.7 851.4,485.7 854.0,485.7 856.5,485.7 859.0,485.7 861.5,485.7 864.0,485.6 866.5,485.6 869.0,485.6 871.6,485.6 874.1,485.6 876.6,485.6 879.1,485.6 881.6,485.6 884.1,485.6 886.6,485.6 889.2,485.6 891.7,485.6 894.2,485.5 896.7,485.5 899.2,485.5 901.7,485.5 904.2,485.5 906.8,485.5 909.3,485.5 911.8,485.5 914.3,485.5 916.8,485.5 919.3,485.5 921.8,485.5 924.4,485.5 926.9,485.4 929.4,485.4 931.9,485.4 934.4,485.4 936.9,485.4 939.4,485.4 941.9,485.4 944.5,485.4 947.0,485.4 949.5,485.4 952.0,485.4 954.5,485.4 957.0,485.4 959.5,485.5 962.1,485.5 964.6,485.5 967.1,485.5 969.6,485.5 972.1,485.5 974.6,485.5 977.1,485.5 979.6,485.5 982.2,485.6 984.7,485.6" fill="none" stroke="#ff6ead" stroke-width="3" stroke-linejoin="round" stroke-linecap="round"/>
<path d="M581.0,485.8 581.0,308.1 581.3,305.6 581.6,303.2 581.9,300.7 582.2,298.2 582.4,295.7 582.7,293.2 582.9,290.7 583.1,288.2 583.3,285.6 583.5,283.1 583.6,280.6 583.8,278.1 584.0,275.6 584.1,273.1 584.3,270.6 584.4,268.1 584.6,265.6 584.8,263.0 584.9,260.5 585.1,258.0 585.2,255.5 585.4,253.0 585.6,250.5 585.8,248.0 586.0,245.5 586.2,243.0 586.4,240.5 586.6,238.0 586.9,235.5 587.1,233.0 587.4,230.5 587.7,228.0 588.0,225.5 588.3,223.0 588.6,220.5 588.9,218.0 589.2,215.5 589.6,213.1 590.0,210.6 590.3,208.1 590.7,205.6 591.1,203.1 591.5,200.7 591.9,198.2 592.3,195.7 592.7,193.2 593.1,190.7 593.6,188.3 594.0,185.8 594.4,183.3 594.9,180.8 595.3,178.4 595.8,175.9 596.3,173.4 596.7,170.9 597.2,168.5 597.7,166.0 598.2,163.5 598.6,161.0 599.1,158.6 599.7,156.1 600.2,153.6 600.7,151.2 601.3,148.7 601.8,146.3 602.4,143.8 603.0,141.4 603.6,138.9 604.2,136.5 604.8,134.1 605.5,131.7 606.1,129.3 606.8,126.8 607.5,124.5 608.3,122.1 609.0,119.7 609.8,117.3 610.6,115.0 611.4,112.6 612.3,110.3 613.2,107.9 614.1,105.6 615.2,103.3 616.3,101.1 617.6,98.8 619.0,96.6 620.5,94.5 622.2,92.5 624.0,90.7 626.0,89.2 628.1,88.3 630.3,87.9 632.5,88.2 634.5,89.0 636.5,90.3 638.2,92.0 639.9,94.0 641.4,96.2 642.8,98.5 644.2,100.7 645.4,103.0 646.5,105.2 647.6,107.5 648.7,109.8 649.7,112.1 650.6,114.4 651.6,116.7 652.5,119.0 653.4,121.3 654.3,123.6 655.2,125.9 656.1,128.2 657.1,130.6 658.0,132.9 658.9,135.2 659.8,137.6 660.7,139.9 661.6,142.3 662.5,144.6 663.4,147.0 664.3,149.3 665.2,151.7 666.0,154.1 666.9,156.5 667.7,158.8 668.5,161.2 669.3,163.6 670.1,166.0 670.9,168.4 671.7,170.8 672.4,173.2 673.1,175.6 673.9,178.0 674.6,180.4 675.3,182.8 675.9,185.2 676.6,187.6 677.3,190.0 677.9,192.5 678.6,194.9 679.2,197.3 679.8,199.8 680.5,202.2 681.1,204.6 681.7,207.1 682.3,209.5 682.8,211.9 683.4,214.4 684.0,216.8 684.5,219.3 685.1,221.8 685.6,224.2 686.2,226.7 686.7,229.1 687.2,231.6 687.8,234.0 688.3,236.5 688.8,239.0 689.4,241.4 689.9,243.9 690.4,246.3 691.0,248.8 691.5,251.3 692.1,253.7 692.6,256.2 693.2,258.6 693.7,261.1 694.3,263.5 694.9,266.0 695.5,268.4 696.1,270.8 696.7,273.3 697.3,275.7 698.0,278.1 698.6,280.6 699.3,283.0 700.0,285.4 700.7,287.8 701.4,290.2 702.1,292.6 702.8,295.0 703.6,297.4 704.3,299.8 705.1,302.2 705.8,304.6 706.6,307.0 707.4,309.3 708.2,311.7 709.0,314.1 709.8,316.5 710.6,318.9 711.4,321.2 712.2,323.6 713.0,326.0 713.9,328.3 714.7,330.7 715.5,333.1 716.3,335.5 717.2,337.8 718.0,340.2 718.9,342.6 719.7,344.9 720.6,347.3 721.4,349.7 722.3,352.0 723.1,354.4 724.0,356.7 724.9,359.1 725.8,361.5 726.7,363.8 727.6,366.1 728.5,368.5 729.5,370.8 730.4,373.1 731.4,375.5 732.3,377.8 733.3,380.1 734.3,382.4 735.3,384.7 736.3,387.0 737.4,389.3 738.4,391.6 739.5,393.8 740.6,396.1 741.7,398.3 742.9,400.6 744.1,402.7 745.4,404.8 746.8,406.9 748.2,408.9 749.8,410.9 751.5,412.7 753.3,414.5 755.2,416.1 757.3,417.7 759.5,419.1 761.8,420.3 764.1,421.2 766.5,421.7 769.0,421.7 771.4,421.3 773.7,420.6 776.0,419.6 778.3,418.4 780.5,417.2 782.6,415.8 784.6,414.4 786.6,412.9 788.5,411.4 790.3,409.7 792.1,408.0 793.9,406.3 795.6,404.5 797.2,402.6 798.9,400.7 800.5,398.8 802.0,396.8 803.6,394.8 805.1,392.8 806.6,390.8 808.1,388.7 809.5,386.6 811.0,384.6 812.5,382.5 813.9,380.4 815.4,378.3 816.8,376.3 818.3,374.2 819.8,372.2 821.3,370.2 822.8,368.2 824.4,366.2 825.9,364.2 827.5,362.3 829.0,360.3 830.6,358.4 832.2,356.5 833.8,354.5 835.4,352.6 837.0,350.7 838.6,348.8 840.2,346.9 841.8,345.0 843.4,343.1 845.0,341.1 846.6,339.2 848.3,337.3 849.9,335.4 851.5,333.4 853.1,331.5 854.8,329.5 856.4,327.6 858.1,325.7 859.8,323.8 861.6,322.0 863.5,320.3 865.4,318.8 867.5,317.4 869.7,316.2 871.9,315.4 874.3,315.2 876.6,315.5 878.8,316.2 880.9,317.1 882.9,318.4 884.8,319.9 886.6,321.7 888.3,323.6 889.9,325.6 891.4,327.8 892.8,330.0 894.2,332.2 895.5,334.5 896.7,336.7 897.9,339.0 899.0,341.2 900.1,343.4 901.1,345.7 902.1,347.9 903.1,350.1 904.1,352.4 905.1,354.6 906.2,356.9 907.2,359.1 908.3,361.4 909.3,363.6 910.4,365.9 911.6,368.2 912.7,370.4 913.8,372.7 915.0,375.0 916.1,377.3 917.2,379.5 918.3,381.8 919.4,384.1 920.5,386.4 921.6,388.7 922.6,390.9 923.7,393.2 924.7,395.5 925.7,397.8 926.8,400.1 927.8,402.4 928.8,404.7 929.8,407.0 930.8,409.2 931.8,411.5 932.8,413.8 933.9,416.1 934.9,418.4 935.9,420.7 936.9,422.9 938.0,425.2 939.0,427.5 940.1,429.8 941.2,432.0 942.3,434.3 943.4,436.6 944.5,438.8 945.7,441.1 946.8,443.3 948.0,445.6 949.3,447.8 950.5,450.0 951.8,452.2 953.1,454.3 954.5,456.4 955.9,458.5 957.4,460.5 958.9,462.5 960.4,464.4 962.1,466.3 963.8,468.1 965.5,469.8 967.3,471.5 969.2,473.0 971.2,474.5 973.2,475.9 975.3,477.2 977.5,478.5 979.8,479.6 982.2,480.6 984.7,481.4 984.7,485.8 Z" fill="rgba(143,230,234,0.3)" stroke="none"/>
<path d="M581.0,308.1 581.3,305.6 581.6,303.2 581.9,300.7 582.2,298.2 582.4,295.7 582.7,293.2 582.9,290.7 583.1,288.2 583.3,285.6 583.5,283.1 583.6,280.6 583.8,278.1 584.0,275.6 584.1,273.1 584.3,270.6 584.4,268.1 584.6,265.6 584.8,263.0 584.9,260.5 585.1,258.0 585.2,255.5 585.4,253.0 585.6,250.5 585.8,248.0 586.0,245.5 586.2,243.0 586.4,240.5 586.6,238.0 586.9,235.5 587.1,233.0 587.4,230.5 587.7,228.0 588.0,225.5 588.3,223.0 588.6,220.5 588.9,218.0 589.2,215.5 589.6,213.1 590.0,210.6 590.3,208.1 590.7,205.6 591.1,203.1 591.5,200.7 591.9,198.2 592.3,195.7 592.7,193.2 593.1,190.7 593.6,188.3 594.0,185.8 594.4,183.3 594.9,180.8 595.3,178.4 595.8,175.9 596.3,173.4 596.7,170.9 597.2,168.5 597.7,166.0 598.2,163.5 598.6,161.0 599.1,158.6 599.7,156.1 600.2,153.6 600.7,151.2 601.3,148.7 601.8,146.3 602.4,143.8 603.0,141.4 603.6,138.9 604.2,136.5 604.8,134.1 605.5,131.7 606.1,129.3 606.8,126.8 607.5,124.5 608.3,122.1 609.0,119.7 609.8,117.3 610.6,115.0 611.4,112.6 612.3,110.3 613.2,107.9 614.1,105.6 615.2,103.3 616.3,101.1 617.6,98.8 619.0,96.6 620.5,94.5 622.2,92.5 624.0,90.7 626.0,89.2 628.1,88.3 630.3,87.9 632.5,88.2 634.5,89.0 636.5,90.3 638.2,92.0 639.9,94.0 641.4,96.2 642.8,98.5 644.2,100.7 645.4,103.0 646.5,105.2 647.6,107.5 648.7,109.8 649.7,112.1 650.6,114.4 651.6,116.7 652.5,119.0 653.4,121.3 654.3,123.6 655.2,125.9 656.1,128.2 657.1,130.6 658.0,132.9 658.9,135.2 659.8,137.6 660.7,139.9 661.6,142.3 662.5,144.6 663.4,147.0 664.3,149.3 665.2,151.7 666.0,154.1 666.9,156.5 667.7,158.8 668.5,161.2 669.3,163.6 670.1,166.0 670.9,168.4 671.7,170.8 672.4,173.2 673.1,175.6 673.9,178.0 674.6,180.4 675.3,182.8 675.9,185.2 676.6,187.6 677.3,190.0 677.9,192.5 678.6,194.9 679.2,197.3 679.8,199.8 680.5,202.2 681.1,204.6 681.7,207.1 682.3,209.5 682.8,211.9 683.4,214.4 684.0,216.8 684.5,219.3 685.1,221.8 685.6,224.2 686.2,226.7 686.7,229.1 687.2,231.6 687.8,234.0 688.3,236.5 688.8,239.0 689.4,241.4 689.9,243.9 690.4,246.3 691.0,248.8 691.5,251.3 692.1,253.7 692.6,256.2 693.2,258.6 693.7,261.1 694.3,263.5 694.9,266.0 695.5,268.4 696.1,270.8 696.7,273.3 697.3,275.7 698.0,278.1 698.6,280.6 699.3,283.0 700.0,285.4 700.7,287.8 701.4,290.2 702.1,292.6 702.8,295.0 703.6,297.4 704.3,299.8 705.1,302.2 705.8,304.6 706.6,307.0 707.4,309.3 708.2,311.7 709.0,314.1 709.8,316.5 710.6,318.9 711.4,321.2 712.2,323.6 713.0,326.0 713.9,328.3 714.7,330.7 715.5,333.1 716.3,335.5 717.2,337.8 718.0,340.2 718.9,342.6 719.7,344.9 720.6,347.3 721.4,349.7 722.3,352.0 723.1,354.4 724.0,356.7 724.9,359.1 725.8,361.5 726.7,363.8 727.6,366.1 728.5,368.5 729.5,370.8 730.4,373.1 731.4,375.5 732.3,377.8 733.3,380.1 734.3,382.4 735.3,384.7 736.3,387.0 737.4,389.3 738.4,391.6 739.5,393.8 740.6,396.1 741.7,398.3 742.9,400.6 744.1,402.7 745.4,404.8 746.8,406.9 748.2,408.9 749.8,410.9 751.5,412.7 753.3,414.5 755.2,416.1 757.3,417.7 759.5,419.1 761.8,420.3 764.1,421.2 766.5,421.7 769.0,421.7 771.4,421.3 773.7,420.6 776.0,419.6 778.3,418.4 780.5,417.2 782.6,415.8 784.6,414.4 786.6,412.9 788.5,411.4 790.3,409.7 792.1,408.0 793.9,406.3 795.6,404.5 797.2,402.6 798.9,400.7 800.5,398.8 802.0,396.8 803.6,394.8 805.1,392.8 806.6,390.8 808.1,388.7 809.5,386.6 811.0,384.6 812.5,382.5 813.9,380.4 815.4,378.3 816.8,376.3 818.3,374.2 819.8,372.2 821.3,370.2 822.8,368.2 824.4,366.2 825.9,364.2 827.5,362.3 829.0,360.3 830.6,358.4 832.2,356.5 833.8,354.5 835.4,352.6 837.0,350.7 838.6,348.8 840.2,346.9 841.8,345.0 843.4,343.1 845.0,341.1 846.6,339.2 848.3,337.3 849.9,335.4 851.5,333.4 853.1,331.5 854.8,329.5 856.4,327.6 858.1,325.7 859.8,323.8 861.6,322.0 863.5,320.3 865.4,318.8 867.5,317.4 869.7,316.2 871.9,315.4 874.3,315.2 876.6,315.5 878.8,316.2 880.9,317.1 882.9,318.4 884.8,319.9 886.6,321.7 888.3,323.6 889.9,325.6 891.4,327.8 892.8,330.0 894.2,332.2 895.5,334.5 896.7,336.7 897.9,339.0 899.0,341.2 900.1,343.4 901.1,345.7 902.1,347.9 903.1,350.1 904.1,352.4 905.1,354.6 906.2,356.9 907.2,359.1 908.3,361.4 909.3,363.6 910.4,365.9 911.6,368.2 912.7,370.4 913.8,372.7 915.0,375.0 916.1,377.3 917.2,379.5 918.3,381.8 919.4,384.1 920.5,386.4 921.6,388.7 922.6,390.9 923.7,393.2 924.7,395.5 925.7,397.8 926.8,400.1 927.8,402.4 928.8,404.7 929.8,407.0 930.8,409.2 931.8,411.5 932.8,413.8 933.9,416.1 934.9,418.4 935.9,420.7 936.9,422.9 938.0,425.2 939.0,427.5 940.1,429.8 941.2,432.0 942.3,434.3 943.4,436.6 944.5,438.8 945.7,441.1 946.8,443.3 948.0,445.6 949.3,447.8 950.5,450.0 951.8,452.2 953.1,454.3 954.5,456.4 955.9,458.5 957.4,460.5 958.9,462.5 960.4,464.4 962.1,466.3 963.8,468.1 965.5,469.8 967.3,471.5 969.2,473.0 971.2,474.5 973.2,475.9 975.3,477.2 977.5,478.5 979.8,479.6 982.2,480.6 984.7,481.4" fill="none" stroke="#8fe6ea" stroke-width="3" stroke-linejoin="round" stroke-linecap="round"/>
<path d="M581.0,485.8 581.0,475.2 581.2,472.7 581.3,470.2 581.5,467.7 581.7,465.2 581.8,462.7 582.0,460.2 582.1,457.6 582.3,455.1 582.4,452.6 582.6,450.1 582.7,447.6 582.9,445.1 583.0,442.5 583.1,440.0 583.3,437.5 583.4,435.0 583.6,432.5 583.7,430.0 583.8,427.5 583.9,424.9 584.1,422.4 584.2,419.9 584.3,417.4 584.4,414.9 584.6,412.4 584.7,409.8 584.8,407.3 584.9,404.8 585.0,402.3 585.1,399.8 585.2,397.3 585.4,394.7 585.5,392.2 585.6,389.7 585.7,387.2 585.8,384.7 585.9,382.2 586.0,379.7 586.1,377.1 586.2,374.6 586.3,372.1 586.4,369.6 586.5,367.1 586.6,364.6 586.7,362.0 586.8,359.5 586.8,357.0 586.9,354.5 587.0,352.0 587.1,349.5 587.2,346.9 587.3,344.4 587.4,341.9 587.5,339.4 587.5,336.9 587.6,334.4 587.7,331.8 587.8,329.3 587.9,326.8 587.9,324.3 588.0,321.8 588.1,319.3 588.2,316.7 588.3,314.2 588.3,311.7 588.4,309.2 588.5,306.7 588.6,304.2 588.6,301.6 588.7,299.1 588.8,296.6 588.9,294.1 588.9,291.6 589.0,289.1 589.1,286.5 589.2,284.0 589.2,281.5 589.3,279.0 589.4,276.5 589.5,273.9 589.5,271.4 589.6,268.9 589.7,266.4 589.8,263.9 589.8,261.4 589.9,258.8 590.0,256.3 590.0,253.8 590.1,251.3 590.2,248.8 590.3,246.2 590.3,243.7 590.4,241.2 590.5,238.7 590.6,236.2 590.6,233.6 590.7,231.1 590.8,228.6 590.9,226.1 590.9,223.6 591.0,221.0 591.1,218.5 591.2,216.0 591.3,213.5 591.3,211.0 591.4,208.5 591.5,205.9 591.6,203.4 591.7,200.9 591.7,198.4 591.8,195.9 591.9,193.3 592.0,190.8 592.1,188.3 592.2,185.8 592.3,183.2 592.3,180.7 592.4,178.2 592.5,175.7 592.6,173.2 592.7,170.6 592.8,168.1 592.9,165.6 593.0,163.1 593.1,160.6 593.2,158.1 593.3,155.5 593.4,153.0 593.5,150.5 593.6,148.0 593.7,145.5 593.8,143.0 593.9,140.5 594.0,138.0 594.1,135.5 594.2,133.0 594.4,130.5 594.5,128.0 594.6,125.5 594.7,123.0 594.8,120.5 595.0,118.0 595.1,115.5 595.2,113.0 595.3,110.5 595.5,108.0 595.7,105.4 595.9,102.8 596.1,100.1 596.4,97.3 596.7,94.5 597.0,92.0 597.4,89.8 597.7,88.6 598.2,89.2 598.7,91.3 599.2,93.8 599.6,96.2 600.1,98.7 600.5,101.1 600.9,103.6 601.2,106.1 601.6,108.6 601.9,111.1 602.2,113.6 602.5,116.1 602.8,118.6 603.1,121.1 603.3,123.6 603.6,126.1 603.8,128.7 604.1,131.2 604.3,133.7 604.5,136.2 604.7,138.7 605.0,141.2 605.2,143.8 605.4,146.3 605.6,148.8 605.8,151.3 606.0,153.8 606.2,156.3 606.3,158.8 606.5,161.4 606.7,163.9 606.9,166.4 607.0,168.9 607.2,171.4 607.4,173.9 607.5,176.4 607.7,178.9 607.8,181.5 608.0,184.0 608.1,186.5 608.3,189.0 608.4,191.5 608.6,194.0 608.7,196.5 608.8,199.1 609.0,201.6 609.1,204.1 609.2,206.6 609.4,209.1 609.5,211.6 609.6,214.1 609.8,216.6 609.9,219.2 610.0,221.7 610.1,224.2 610.2,226.7 610.4,229.2 610.5,231.7 610.6,234.2 610.7,236.8 610.8,239.3 611.0,241.8 611.1,244.3 611.2,246.8 611.3,249.3 611.5,251.8 611.6,254.4 611.7,256.9 611.8,259.4 612.0,261.9 612.1,264.4 612.2,266.9 612.3,269.4 612.5,272.0 612.6,274.5 612.8,277.0 612.9,279.5 613.0,282.0 613.2,284.5 613.3,287.1 613.5,289.6 613.6,292.1 613.8,294.6 613.9,297.1 614.1,299.6 614.2,302.2 614.4,304.7 614.5,307.2 614.7,309.7 614.8,312.2 615.0,314.7 615.2,317.3 615.3,319.8 615.5,322.3 615.7,324.8 615.8,327.3 616.0,329.8 616.2,332.4 616.4,334.9 616.5,337.4 616.7,339.9 616.9,342.4 617.1,344.9 617.3,347.4 617.4,349.9 617.6,352.5 617.8,355.0 618.0,357.5 618.2,360.0 618.4,362.5 618.6,365.0 618.8,367.5 619.0,370.0 619.2,372.5 619.4,375.0 619.6,377.6 619.8,380.1 620.1,382.6 620.3,385.1 620.5,387.6 620.7,390.1 620.9,392.6 621.1,395.1 621.4,397.6 621.6,400.1 621.8,402.6 622.1,405.1 622.3,407.6 622.5,410.1 622.8,412.6 623.0,415.1 623.2,417.6 623.5,420.1 623.7,422.6 624.0,425.1 624.3,427.6 624.5,430.1 624.8,432.6 625.1,435.1 625.4,437.7 625.7,440.2 626.0,442.7 626.3,445.3 626.7,447.8 627.0,450.3 627.4,452.9 627.8,455.4 628.3,457.9 628.9,460.3 629.5,462.7 630.2,465.1 631.0,467.4 631.9,469.6 633.0,471.8 634.1,473.9 635.4,475.9 636.8,477.8 638.4,479.6 640.1,481.1 642.0,482.5 644.0,483.5 646.2,484.3 648.4,484.9 650.8,485.3 653.3,485.5 655.8,485.6 658.3,485.6 660.8,485.6 663.4,485.6 665.9,485.6 668.5,485.6 671.0,485.6 673.5,485.6 676.0,485.6 678.6,485.6 681.1,485.6 683.6,485.6 686.1,485.6 688.6,485.6 691.1,485.6 693.6,485.6 696.1,485.6 698.6,485.6 701.1,485.6 703.6,485.6 706.1,485.6 708.7,485.6 711.2,485.6 713.7,485.6 716.2,485.6 718.7,485.6 721.2,485.6 723.7,485.6 726.2,485.6 728.7,485.6 731.2,485.6 733.7,485.6 736.2,485.6 738.7,485.6 741.2,485.6 743.8,485.6 746.3,485.6 748.8,485.6 751.3,485.6 753.8,485.6 756.3,485.6 758.8,485.6 761.3,485.6 763.8,485.6 766.3,485.6 768.8,485.6 771.4,485.6 773.9,485.6 776.4,485.6 778.9,485.6 781.4,485.6 783.9,485.6 786.4,485.6 788.9,485.6 791.4,485.6 793.9,485.6 796.4,485.6 799.0,485.6 801.5,485.6 804.0,485.6 806.5,485.6 809.0,485.6 811.5,485.6 814.0,485.6 816.5,485.6 819.0,485.6 821.5,485.6 824.1,485.6 826.6,485.6 829.1,485.6 831.6,485.6 834.1,485.6 836.6,485.6 839.1,485.6 841.6,485.6 844.1,485.6 846.6,485.6 849.2,485.6 851.7,485.6 854.2,485.6 856.7,485.6 859.2,485.6 861.7,485.6 864.2,485.6 866.7,485.6 869.2,485.6 871.7,485.6 874.3,485.6 876.8,485.6 879.3,485.6 881.8,485.6 884.3,485.6 886.8,485.6 889.3,485.6 891.8,485.6 894.3,485.6 896.8,485.6 899.4,485.6 901.9,485.6 904.4,485.6 906.9,485.6 909.4,485.6 911.9,485.6 914.4,485.6 916.9,485.6 919.4,485.6 921.9,485.6 924.5,485.6 927.0,485.6 929.5,485.6 932.0,485.6 934.5,485.6 937.0,485.6 939.5,485.6 942.0,485.6 944.5,485.6 947.0,485.6 949.5,485.6 952.1,485.6 954.6,485.6 957.1,485.6 959.6,485.6 962.1,485.6 964.6,485.6 967.1,485.6 969.6,485.6 972.1,485.6 974.6,485.6 977.1,485.6 979.7,485.6 982.2,485.6 984.7,485.6 984.7,485.8 Z" fill="rgba(31,128,222,0.3)" stroke="none"/>
<path d="M581.0,475.2 581.2,472.7 581.3,470.2 581.5,467.7 581.7,465.2 581.8,462.7 582.0,460.2 582.1,457.6 582.3,455.1 582.4,452.6 582.6,450.1 582.7,447.6 582.9,445.1 583.0,442.5 583.1,440.0 583.3,437.5 583.4,435.0 583.6,432.5 583.7,430.0 583.8,427.5 583.9,424.9 584.1,422.4 584.2,419.9 584.3,417.4 584.4,414.9 584.6,412.4 584.7,409.8 584.8,407.3 584.9,404.8 585.0,402.3 585.1,399.8 585.2,397.3 585.4,394.7 585.5,392.2 585.6,389.7 585.7,387.2 585.8,384.7 585.9,382.2 586.0,379.7 586.1,377.1 586.2,374.6 586.3,372.1 586.4,369.6 586.5,367.1 586.6,364.6 586.7,362.0 586.8,359.5 586.8,357.0 586.9,354.5 587.0,352.0 587.1,349.5 587.2,346.9 587.3,344.4 587.4,341.9 587.5,339.4 587.5,336.9 587.6,334.4 587.7,331.8 587.8,329.3 587.9,326.8 587.9,324.3 588.0,321.8 588.1,319.3 588.2,316.7 588.3,314.2 588.3,311.7 588.4,309.2 588.5,306.7 588.6,304.2 588.6,301.6 588.7,299.1 588.8,296.6 588.9,294.1 588.9,291.6 589.0,289.1 589.1,286.5 589.2,284.0 589.2,281.5 589.3,279.0 589.4,276.5 589.5,273.9 589.5,271.4 589.6,268.9 589.7,266.4 589.8,263.9 589.8,261.4 589.9,258.8 590.0,256.3 590.0,253.8 590.1,251.3 590.2,248.8 590.3,246.2 590.3,243.7 590.4,241.2 590.5,238.7 590.6,236.2 590.6,233.6 590.7,231.1 590.8,228.6 590.9,226.1 590.9,223.6 591.0,221.0 591.1,218.5 591.2,216.0 591.3,213.5 591.3,211.0 591.4,208.5 591.5,205.9 591.6,203.4 591.7,200.9 591.7,198.4 591.8,195.9 591.9,193.3 592.0,190.8 592.1,188.3 592.2,185.8 592.3,183.2 592.3,180.7 592.4,178.2 592.5,175.7 592.6,173.2 592.7,170.6 592.8,168.1 592.9,165.6 593.0,163.1 593.1,160.6 593.2,158.1 593.3,155.5 593.4,153.0 593.5,150.5 593.6,148.0 593.7,145.5 593.8,143.0 593.9,140.5 594.0,138.0 594.1,135.5 594.2,133.0 594.4,130.5 594.5,128.0 594.6,125.5 594.7,123.0 594.8,120.5 595.0,118.0 595.1,115.5 595.2,113.0 595.3,110.5 595.5,108.0 595.7,105.4 595.9,102.8 596.1,100.1 596.4,97.3 596.7,94.5 597.0,92.0 597.4,89.8 597.7,88.6 598.2,89.2 598.7,91.3 599.2,93.8 599.6,96.2 600.1,98.7 600.5,101.1 600.9,103.6 601.2,106.1 601.6,108.6 601.9,111.1 602.2,113.6 602.5,116.1 602.8,118.6 603.1,121.1 603.3,123.6 603.6,126.1 603.8,128.7 604.1,131.2 604.3,133.7 604.5,136.2 604.7,138.7 605.0,141.2 605.2,143.8 605.4,146.3 605.6,148.8 605.8,151.3 606.0,153.8 606.2,156.3 606.3,158.8 606.5,161.4 606.7,163.9 606.9,166.4 607.0,168.9 607.2,171.4 607.4,173.9 607.5,176.4 607.7,178.9 607.8,181.5 608.0,184.0 608.1,186.5 608.3,189.0 608.4,191.5 608.6,194.0 608.7,196.5 608.8,199.1 609.0,201.6 609.1,204.1 609.2,206.6 609.4,209.1 609.5,211.6 609.6,214.1 609.8,216.6 609.9,219.2 610.0,221.7 610.1,224.2 610.2,226.7 610.4,229.2 610.5,231.7 610.6,234.2 610.7,236.8 610.8,239.3 611.0,241.8 611.1,244.3 611.2,246.8 611.3,249.3 611.5,251.8 611.6,254.4 611.7,256.9 611.8,259.4 612.0,261.9 612.1,264.4 612.2,266.9 612.3,269.4 612.5,272.0 612.6,274.5 612.8,277.0 612.9,279.5 613.0,282.0 613.2,284.5 613.3,287.1 613.5,289.6 613.6,292.1 613.8,294.6 613.9,297.1 614.1,299.6 614.2,302.2 614.4,304.7 614.5,307.2 614.7,309.7 614.8,312.2 615.0,314.7 615.2,317.3 615.3,319.8 615.5,322.3 615.7,324.8 615.8,327.3 616.0,329.8 616.2,332.4 616.4,334.9 616.5,337.4 616.7,339.9 616.9,342.4 617.1,344.9 617.3,347.4 617.4,349.9 617.6,352.5 617.8,355.0 618.0,357.5 618.2,360.0 618.4,362.5 618.6,365.0 618.8,367.5 619.0,370.0 619.2,372.5 619.4,375.0 619.6,377.6 619.8,380.1 620.1,382.6 620.3,385.1 620.5,387.6 620.7,390.1 620.9,392.6 621.1,395.1 621.4,397.6 621.6,400.1 621.8,402.6 622.1,405.1 622.3,407.6 622.5,410.1 622.8,412.6 623.0,415.1 623.2,417.6 623.5,420.1 623.7,422.6 624.0,425.1 624.3,427.6 624.5,430.1 624.8,432.6 625.1,435.1 625.4,437.7 625.7,440.2 626.0,442.7 626.3,445.3 626.7,447.8 627.0,450.3 627.4,452.9 627.8,455.4 628.3,457.9 628.9,460.3 629.5,462.7 630.2,465.1 631.0,467.4 631.9,469.6 633.0,471.8 634.1,473.9 635.4,475.9 636.8,477.8 638.4,479.6 640.1,481.1 642.0,482.5 644.0,483.5 646.2,484.3 648.4,484.9 650.8,485.3 653.3,485.5 655.8,485.6 658.3,485.6 660.8,485.6 663.4,485.6 665.9,485.6 668.5,485.6 671.0,485.6 673.5,485.6 676.0,485.6 678.6,485.6 681.1,485.6 683.6,485.6 686.1,485.6 688.6,485.6 691.1,485.6 693.6,485.6 696.1,485.6 698.6,485.6 701.1,485.6 703.6,485.6 706.1,485.6 708.7,485.6 711.2,485.6 713.7,485.6 716.2,485.6 718.7,485.6 721.2,485.6 723.7,485.6 726.2,485.6 728.7,485.6 731.2,485.6 733.7,485.6 736.2,485.6 738.7,485.6 741.2,485.6 743.8,485.6 746.3,485.6 748.8,485.6 751.3,485.6 753.8,485.6 756.3,485.6 758.8,485.6 761.3,485.6 763.8,485.6 766.3,485.6 768.8,485.6 771.4,485.6 773.9,485.6 776.4,485.6 778.9,485.6 781.4,485.6 783.9,485.6 786.4,485.6 788.9,485.6 791.4,485.6 793.9,485.6 796.4,485.6 799.0,485.6 801.5,485.6 804.0,485.6 806.5,485.6 809.0,485.6 811.5,485.6 814.0,485.6 816.5,485.6 819.0,485.6 821.5,485.6 824.1,485.6 826.6,485.6 829.1,485.6 831.6,485.6 834.1,485.6 836.6,485.6 839.1,485.6 841.6,485.6 844.1,485.6 846.6,485.6 849.2,485.6 851.7,485.6 854.2,485.6 856.7,485.6 859.2,485.6 861.7,485.6 864.2,485.6 866.7,485.6 869.2,485.6 871.7,485.6 874.3,485.6 876.8,485.6 879.3,485.6 881.8,485.6 884.3,485.6 886.8,485.6 889.3,485.6 891.8,485.6 894.3,485.6 896.8,485.6 899.4,485.6 901.9,485.6 904.4,485.6 906.9,485.6 909.4,485.6 911.9,485.6 914.4,485.6 916.9,485.6 919.4,485.6 921.9,485.6 924.5,485.6 927.0,485.6 929.5,485.6 932.0,485.6 934.5,485.6 937.0,485.6 939.5,485.6 942.0,485.6 944.5,485.6 947.0,485.6 949.5,485.6 952.1,485.6 954.6,485.6 957.1,485.6 959.6,485.6 962.1,485.6 964.6,485.6 967.1,485.6 969.6,485.6 972.1,485.6 974.6,485.6 977.1,485.6 979.7,485.6 982.2,485.6 984.7,485.6" fill="none" stroke="#1f80de" stroke-width="3" stroke-linejoin="round" stroke-linecap="round"/>
<path d="M580.6,485.8 580.6,434.1 581.4,431.7 582.2,429.3 583.1,426.9 583.9,424.5 584.8,422.2 585.7,419.8 586.7,417.5 587.6,415.2 588.5,412.8 589.5,410.5 590.5,408.2 591.5,405.9 592.5,403.6 593.5,401.3 594.5,399.0 595.6,396.7 596.6,394.5 597.7,392.2 598.7,389.9 599.8,387.6 600.9,385.4 602.0,383.1 603.1,380.9 604.2,378.6 605.4,376.3 606.5,374.1 607.6,371.8 608.8,369.6 610.0,367.4 611.1,365.1 612.4,362.9 613.6,360.8 614.9,358.6 616.3,356.5 617.7,354.5 619.3,352.5 620.9,350.6 622.6,348.8 624.4,347.0 626.3,345.3 628.3,343.8 630.5,342.4 632.7,341.2 635.0,340.4 637.3,339.8 639.6,339.7 641.9,340.0 644.2,340.7 646.5,341.7 648.7,343.0 650.8,344.4 652.9,345.9 654.9,347.4 656.9,349.0 658.8,350.7 660.6,352.4 662.4,354.2 664.2,356.0 666.0,357.8 667.7,359.6 669.4,361.4 671.1,363.3 672.8,365.1 674.5,366.9 676.2,368.7 678.0,370.5 679.7,372.3 681.5,374.1 683.2,375.9 685.0,377.6 686.8,379.4 688.6,381.1 690.4,382.9 692.1,384.6 693.9,386.4 695.7,388.2 697.6,390.0 699.4,391.7 701.2,393.5 703.0,395.3 704.9,397.0 706.7,398.8 708.6,400.5 710.5,402.2 712.4,403.8 714.3,405.4 716.2,407.0 718.2,408.6 720.2,410.1 722.2,411.5 724.3,412.9 726.4,414.3 728.5,415.5 730.6,416.8 732.8,417.9 735.1,419.0 737.3,419.9 739.6,420.9 742.0,421.7 744.4,422.4 746.8,423.0 749.3,423.6 751.8,424.1 754.3,424.5 756.9,424.8 759.4,425.1 761.9,425.3 764.4,425.4 766.9,425.3 769.4,425.1 771.7,424.6 774.1,424.0 776.3,423.1 778.5,422.0 780.6,420.7 782.6,419.2 784.6,417.6 786.4,415.9 788.2,414.0 789.8,412.1 791.4,410.0 792.9,407.9 794.3,405.8 795.5,403.6 796.7,401.4 797.8,399.1 798.9,396.8 799.8,394.5 800.7,392.2 801.6,389.9 802.4,387.5 803.2,385.1 804.0,382.8 804.7,380.4 805.5,378.0 806.2,375.6 807.0,373.2 807.7,370.8 808.5,368.4 809.2,366.0 810.0,363.6 810.7,361.2 811.4,358.7 812.2,356.3 812.9,353.9 813.6,351.5 814.3,349.1 815.0,346.6 815.7,344.2 816.3,341.8 817.0,339.4 817.7,336.9 818.3,334.5 818.9,332.1 819.6,329.6 820.2,327.2 820.8,324.7 821.4,322.3 822.0,319.9 822.6,317.4 823.2,315.0 823.7,312.5 824.3,310.1 824.9,307.6 825.4,305.2 826.0,302.7 826.5,300.3 827.1,297.8 827.6,295.4 828.1,292.9 828.6,290.4 829.2,288.0 829.7,285.5 830.2,283.1 830.7,280.6 831.2,278.1 831.7,275.7 832.2,273.2 832.8,270.8 833.3,268.3 833.8,265.8 834.3,263.4 834.8,260.9 835.3,258.4 835.8,256.0 836.3,253.5 836.8,251.0 837.3,248.6 837.8,246.1 838.3,243.6 838.8,241.2 839.3,238.7 839.8,236.2 840.3,233.8 840.8,231.3 841.3,228.9 841.8,226.4 842.4,223.9 842.9,221.5 843.4,219.0 844.0,216.5 844.5,214.1 845.0,211.6 845.6,209.2 846.1,206.7 846.7,204.2 847.3,201.8 847.8,199.3 848.4,196.9 849.0,194.4 849.6,192.0 850.2,189.5 850.8,187.1 851.3,184.6 852.0,182.2 852.6,179.7 853.2,177.3 853.8,174.9 854.4,172.4 855.1,170.0 855.7,167.6 856.3,165.1 857.0,162.7 857.6,160.3 858.3,157.9 859.0,155.4 859.6,153.0 860.3,150.6 861.0,148.2 861.7,145.8 862.4,143.4 863.1,141.0 863.8,138.6 864.5,136.2 865.2,133.8 865.9,131.4 866.7,129.0 867.4,126.6 868.2,124.2 869.0,121.8 869.8,119.4 870.6,116.9 871.4,114.5 872.2,112.1 873.1,109.7 874.0,107.3 874.9,104.9 876.0,102.6 877.1,100.4 878.3,98.3 879.7,96.2 881.1,94.3 882.7,92.5 884.5,90.9 886.4,89.4 888.5,88.6 890.5,88.9 892.4,90.3 894.0,92.3 895.4,94.5 896.7,96.8 897.9,99.2 899.0,101.5 900.0,103.8 900.9,106.1 901.8,108.4 902.7,110.7 903.5,113.1 904.3,115.4 905.0,117.8 905.8,120.2 906.5,122.6 907.2,125.0 907.9,127.4 908.6,129.8 909.2,132.3 909.9,134.7 910.5,137.1 911.1,139.6 911.8,142.0 912.3,144.5 912.9,146.9 913.5,149.4 914.1,151.8 914.6,154.3 915.2,156.8 915.7,159.2 916.3,161.7 916.8,164.1 917.3,166.6 917.8,169.1 918.3,171.5 918.8,174.0 919.3,176.5 919.8,178.9 920.3,181.4 920.8,183.9 921.2,186.4 921.7,188.8 922.1,191.3 922.6,193.8 923.1,196.2 923.5,198.7 924.0,201.2 924.4,203.7 924.8,206.2 925.3,208.6 925.7,211.1 926.1,213.6 926.6,216.1 927.0,218.5 927.4,221.0 927.9,223.5 928.3,226.0 928.7,228.5 929.1,230.9 929.5,233.4 930.0,235.9 930.4,238.4 930.8,240.9 931.2,243.3 931.6,245.8 932.0,248.3 932.4,250.8 932.8,253.3 933.2,255.8 933.6,258.2 934.0,260.7 934.3,263.2 934.7,265.7 935.1,268.2 935.5,270.7 935.8,273.2 936.2,275.7 936.6,278.1 936.9,280.6 937.3,283.1 937.6,285.6 938.0,288.1 938.3,290.6 938.7,293.1 939.0,295.6 939.4,298.1 939.7,300.6 940.0,303.1 940.4,305.6 940.7,308.1 941.1,310.6 941.4,313.1 941.7,315.6 942.1,318.1 942.4,320.5 942.8,323.0 943.1,325.5 943.5,328.0 943.8,330.5 944.2,333.0 944.5,335.5 944.9,338.0 945.3,340.5 945.7,343.0 946.1,345.4 946.5,347.9 946.9,350.4 947.3,352.9 947.7,355.4 948.1,357.8 948.6,360.3 949.0,362.8 949.4,365.3 949.9,367.7 950.4,370.2 950.8,372.7 951.3,375.1 951.8,377.6 952.3,380.1 952.8,382.5 953.3,385.0 953.8,387.5 954.3,389.9 954.8,392.4 955.3,394.8 955.9,397.3 956.4,399.8 956.9,402.2 957.5,404.7 958.0,407.2 958.6,409.6 959.1,412.1 959.7,414.5 960.3,417.0 960.8,419.5 961.4,421.9 962.0,424.4 962.6,426.8 963.2,429.3 963.9,431.7 964.6,434.1 965.2,436.6 966.0,439.0 966.7,441.4 967.5,443.7 968.4,446.1 969.3,448.4 970.2,450.7 971.2,453.0 972.2,455.3 973.3,457.5 974.5,459.7 975.7,461.9 977.0,464.0 978.4,466.1 979.8,468.2 981.4,470.2 983.0,472.2 984.7,474.1 984.7,485.8 Z" fill="rgba(45,224,0,0.3)" stroke="none"/>
<path d="M580.6,434.1 581.4,431.7 582.2,429.3 583.1,426.9 583.9,424.5 584.8,422.2 585.7,419.8 586.7,417.5 587.6,415.2 588.5,412.8 589.5,410.5 590.5,408.2 591.5,405.9 592.5,403.6 593.5,401.3 594.5,399.0 595.6,396.7 596.6,394.5 597.7,392.2 598.7,389.9 599.8,387.6 600.9,385.4 602.0,383.1 603.1,380.9 604.2,378.6 605.4,376.3 606.5,374.1 607.6,371.8 608.8,369.6 610.0,367.4 611.1,365.1 612.4,362.9 613.6,360.8 614.9,358.6 616.3,356.5 617.7,354.5 619.3,352.5 620.9,350.6 622.6,348.8 624.4,347.0 626.3,345.3 628.3,343.8 630.5,342.4 632.7,341.2 635.0,340.4 637.3,339.8 639.6,339.7 641.9,340.0 644.2,340.7 646.5,341.7 648.7,343.0 650.8,344.4 652.9,345.9 654.9,347.4 656.9,349.0 658.8,350.7 660.6,352.4 662.4,354.2 664.2,356.0 666.0,357.8 667.7,359.6 669.4,361.4 671.1,363.3 672.8,365.1 674.5,366.9 676.2,368.7 678.0,370.5 679.7,372.3 681.5,374.1 683.2,375.9 685.0,377.6 686.8,379.4 688.6,381.1 690.4,382.9 692.1,384.6 693.9,386.4 695.7,388.2 697.6,390.0 699.4,391.7 701.2,393.5 703.0,395.3 704.9,397.0 706.7,398.8 708.6,400.5 710.5,402.2 712.4,403.8 714.3,405.4 716.2,407.0 718.2,408.6 720.2,410.1 722.2,411.5 724.3,412.9 726.4,414.3 728.5,415.5 730.6,416.8 732.8,417.9 735.1,419.0 737.3,419.9 739.6,420.9 742.0,421.7 744.4,422.4 746.8,423.0 749.3,423.6 751.8,424.1 754.3,424.5 756.9,424.8 759.4,425.1 761.9,425.3 764.4,425.4 766.9,425.3 769.4,425.1 771.7,424.6 774.1,424.0 776.3,423.1 778.5,422.0 780.6,420.7 782.6,419.2 784.6,417.6 786.4,415.9 788.2,414.0 789.8,412.1 791.4,410.0 792.9,407.9 794.3,405.8 795.5,403.6 796.7,401.4 797.8,399.1 798.9,396.8 799.8,394.5 800.7,392.2 801.6,389.9 802.4,387.5 803.2,385.1 804.0,382.8 804.7,380.4 805.5,378.0 806.2,375.6 807.0,373.2 807.7,370.8 808.5,368.4 809.2,366.0 810.0,363.6 810.7,361.2 811.4,358.7 812.2,356.3 812.9,353.9 813.6,351.5 814.3,349.1 815.0,346.6 815.7,344.2 816.3,341.8 817.0,339.4 817.7,336.9 818.3,334.5 818.9,332.1 819.6,329.6 820.2,327.2 820.8,324.7 821.4,322.3 822.0,319.9 822.6,317.4 823.2,315.0 823.7,312.5 824.3,310.1 824.9,307.6 825.4,305.2 826.0,302.7 826.5,300.3 827.1,297.8 827.6,295.4 828.1,292.9 828.6,290.4 829.2,288.0 829.7,285.5 830.2,283.1 830.7,280.6 831.2,278.1 831.7,275.7 832.2,273.2 832.8,270.8 833.3,268.3 833.8,265.8 834.3,263.4 834.8,260.9 835.3,258.4 835.8,256.0 836.3,253.5 836.8,251.0 837.3,248.6 837.8,246.1 838.3,243.6 838.8,241.2 839.3,238.7 839.8,236.2 840.3,233.8 840.8,231.3 841.3,228.9 841.8,226.4 842.4,223.9 842.9,221.5 843.4,219.0 844.0,216.5 844.5,214.1 845.0,211.6 845.6,209.2 846.1,206.7 846.7,204.2 847.3,201.8 847.8,199.3 848.4,196.9 849.0,194.4 849.6,192.0 850.2,189.5 850.8,187.1 851.3,184.6 852.0,182.2 852.6,179.7 853.2,177.3 853.8,174.9 854.4,172.4 855.1,170.0 855.7,167.6 856.3,165.1 857.0,162.7 857.6,160.3 858.3,157.9 859.0,155.4 859.6,153.0 860.3,150.6 861.0,148.2 861.7,145.8 862.4,143.4 863.1,141.0 863.8,138.6 864.5,136.2 865.2,133.8 865.9,131.4 866.7,129.0 867.4,126.6 868.2,124.2 869.0,121.8 869.8,119.4 870.6,116.9 871.4,114.5 872.2,112.1 873.1,109.7 874.0,107.3 874.9,104.9 876.0,102.6 877.1,100.4 878.3,98.3 879.7,96.2 881.1,94.3 882.7,92.5 884.5,90.9 886.4,89.4 888.5,88.6 890.5,88.9 892.4,90.3 894.0,92.3 895.4,94.5 896.7,96.8 897.9,99.2 899.0,101.5 900.0,103.8 900.9,106.1 901.8,108.4 902.7,110.7 903.5,113.1 904.3,115.4 905.0,117.8 905.8,120.2 906.5,122.6 907.2,125.0 907.9,127.4 908.6,129.8 909.2,132.3 909.9,134.7 910.5,137.1 911.1,139.6 911.8,142.0 912.3,144.5 912.9,146.9 913.5,149.4 914.1,151.8 914.6,154.3 915.2,156.8 915.7,159.2 916.3,161.7 916.8,164.1 917.3,166.6 917.8,169.1 918.3,171.5 918.8,174.0 919.3,176.5 919.8,178.9 920.3,181.4 920.8,183.9 921.2,186.4 921.7,188.8 922.1,191.3 922.6,193.8 923.1,196.2 923.5,198.7 924.0,201.2 924.4,203.7 924.8,206.2 925.3,208.6 925.7,211.1 926.1,213.6 926.6,216.1 927.0,218.5 927.4,221.0 927.9,223.5 928.3,226.0 928.7,228.5 929.1,230.9 929.5,233.4 930.0,235.9 930.4,238.4 930.8,240.9 931.2,243.3 931.6,245.8 932.0,248.3 932.4,250.8 932.8,253.3 933.2,255.8 933.6,258.2 934.0,260.7 934.3,263.2 934.7,265.7 935.1,268.2 935.5,270.7 935.8,273.2 936.2,275.7 936.6,278.1 936.9,280.6 937.3,283.1 937.6,285.6 938.0,288.1 938.3,290.6 938.7,293.1 939.0,295.6 939.4,298.1 939.7,300.6 940.0,303.1 940.4,305.6 940.7,308.1 941.1,310.6 941.4,313.1 941.7,315.6 942.1,318.1 942.4,320.5 942.8,323.0 943.1,325.5 943.5,328.0 943.8,330.5 944.2,333.0 944.5,335.5 944.9,338.0 945.3,340.5 945.7,343.0 946.1,345.4 946.5,347.9 946.9,350.4 947.3,352.9 947.7,355.4 948.1,357.8 948.6,360.3 949.0,362.8 949.4,365.3 949.9,367.7 950.4,370.2 950.8,372.7 951.3,375.1 951.8,377.6 952.3,380.1 952.8,382.5 953.3,385.0 953.8,387.5 954.3,389.9 954.8,392.4 955.3,394.8 955.9,397.3 956.4,399.8 956.9,402.2 957.5,404.7 958.0,407.2 958.6,409.6 959.1,412.1 959.7,414.5 960.3,417.0 960.8,419.5 961.4,421.9 962.0,424.4 962.6,426.8 963.2,429.3 963.9,431.7 964.6,434.1 965.2,436.6 966.0,439.0 966.7,441.4 967.5,443.7 968.4,446.1 969.3,448.4 970.2,450.7 971.2,453.0 972.2,455.3 973.3,457.5 974.5,459.7 975.7,461.9 977.0,464.0 978.4,466.1 979.8,468.2 981.4,470.2 983.0,472.2 984.7,474.1" fill="none" stroke="#2de000" stroke-width="3" stroke-linejoin="round" stroke-linecap="round"/>
<rect x="555.2" y="484.5" width="5.8" height="2.6" fill="#111"/>
<rect x="555.2" y="385.15" width="5.8" height="2.6" fill="#111"/>
<rect x="555.2" y="285.8" width="5.8" height="2.6" fill="#111"/>
<rect x="555.2" y="186.45" width="5.8" height="2.6" fill="#111"/>
<rect x="555.2" y="87.1" width="5.8" height="2.6" fill="#111"/>
<rect x="579.1" y="505.37" width="2.8" height="8.1" fill="#111"/>
<rect x="680.2" y="505.37" width="2.8" height="8.1" fill="#111"/>
<rect x="781.3" y="505.37" width="2.8" height="8.1" fill="#111"/>
<rect x="882.4" y="505.37" width="2.8" height="8.1" fill="#111"/>
<rect x="983.5" y="505.37" width="2.8" height="8.1" fill="#111"/>
<line x1="551.1" y1="68.53" x2="551.1" y2="513.67" stroke="#808080" stroke-width="1.5"/>
<line x1="120.2" y1="549.12" x2="120.2" y2="986.59" stroke="#e6edeb" stroke-width="2.0"/>
<line x1="99.98" y1="966.7" x2="544.82" y2="966.7" stroke="#e6edeb" stroke-width="2.0"/>
<line x1="170.75" y1="549.12" x2="170.75" y2="986.59" stroke="#e6edeb" stroke-width="1.4"/>
<line x1="99.98" y1="916.99" x2="544.82" y2="916.99" stroke="#e6edeb" stroke-width="1.4"/>
<line x1="221.3" y1="549.12" x2="221.3" y2="986.59" stroke="#e6edeb" stroke-width="2.0"/>
<line x1="99.98" y1="867.28" x2="544.82" y2="867.28" stroke="#e6edeb" stroke-width="2.0"/>
<line x1="271.85" y1="549.12" x2="271.85" y2="986.59" stroke="#e6edeb" stroke-width="1.4"/>
<line x1="99.98" y1="817.56" x2="544.82" y2="817.56" stroke="#e6edeb" stroke-width="1.4"/>
<line x1="322.4" y1="549.12" x2="322.4" y2="986.59" stroke="#e6edeb" stroke-width="2.0"/>
<line x1="99.98" y1="767.85" x2="544.82" y2="767.85" stroke="#e6edeb" stroke-width="2.0"/>
<line x1="372.95" y1="549.12" x2="372.95" y2="986.59" stroke="#e6edeb" stroke-width="1.4"/>
<line x1="99.98" y1="718.14" x2="544.82" y2="718.14" stroke="#e6edeb" stroke-width="1.4"/>
<line x1="423.5" y1="549.12" x2="423.5" y2="986.59" stroke="#e6edeb" stroke-width="2.0"/>
<line x1="99.98" y1="668.42" x2="544.82" y2="668.42" stroke="#e6edeb" stroke-width="2.0"/>
<line x1="474.05" y1="549.12" x2="474.05" y2="986.59" stroke="#e6edeb" stroke-width="1.4"/>
<line x1="99.98" y1="618.71" x2="544.82" y2="618.71" stroke="#e6edeb" stroke-width="1.4"/>
<line x1="524.6" y1="549.12" x2="524.6" y2="986.59" stroke="#e6edeb" stroke-width="2.0"/>
<line x1="99.98" y1="569" x2="544.82" y2="569" stroke="#e6edeb" stroke-width="2.0"/>
<path d="M120.1,966.7 120.1,692.0 120.2,689.5 120.3,687.0 120.3,684.5 120.4,682.0 120.5,679.4 120.6,676.9 120.6,674.4 120.7,671.9 120.8,669.4 120.9,666.9 120.9,664.3 121.0,661.8 121.1,659.3 121.2,656.8 121.2,654.3 121.3,651.8 121.4,649.2 121.5,646.7 121.6,644.2 121.6,641.7 121.7,639.2 121.8,636.7 121.9,634.2 122.0,631.6 122.1,629.1 122.2,626.6 122.3,624.1 122.4,621.6 122.5,619.1 122.6,616.6 122.7,614.1 122.8,611.5 122.9,609.0 123.0,606.5 123.1,604.0 123.2,601.4 123.3,598.9 123.5,596.4 123.6,593.9 123.8,591.4 124.0,588.9 124.2,586.5 124.4,584.0 124.6,581.6 124.9,579.1 125.2,576.3 125.6,573.5 126.3,570.8 127.3,569.1 128.2,569.3 128.9,571.2 129.4,573.6 129.9,576.0 130.3,578.4 130.6,580.9 130.8,583.4 131.0,585.9 131.2,588.4 131.3,590.9 131.5,593.5 131.5,596.0 131.6,598.6 131.7,601.1 131.8,603.6 131.9,606.2 132.0,608.7 132.2,611.2 132.3,613.7 132.4,616.3 132.6,618.8 132.7,621.3 132.9,623.8 133.1,626.3 133.2,628.8 133.4,631.3 133.6,633.8 133.8,636.3 133.9,638.8 134.1,641.3 134.3,643.8 134.5,646.3 134.7,648.8 134.9,651.3 135.1,653.8 135.3,656.3 135.5,658.8 135.7,661.3 135.9,663.8 136.1,666.4 136.3,668.9 136.5,671.4 136.7,673.9 136.9,676.4 137.1,678.9 137.3,681.4 137.6,683.9 137.8,686.4 138.0,688.9 138.3,691.5 138.5,694.0 138.7,696.5 139.0,699.0 139.2,701.5 139.5,704.0 139.7,706.5 140.0,709.0 140.3,711.5 140.5,714.0 140.8,716.5 141.1,719.0 141.4,721.5 141.7,724.0 142.0,726.5 142.3,729.0 142.6,731.5 142.9,734.0 143.2,736.5 143.6,739.0 143.9,741.5 144.3,744.0 144.6,746.5 145.0,749.0 145.4,751.5 145.7,754.0 146.1,756.4 146.5,758.9 146.9,761.4 147.4,763.9 147.8,766.3 148.2,768.8 148.6,771.3 149.1,773.8 149.6,776.2 150.0,778.7 150.5,781.1 151.0,783.6 151.4,786.1 151.9,788.5 152.4,791.0 152.9,793.5 153.4,795.9 153.9,798.4 154.5,800.8 155.0,803.3 155.5,805.8 156.0,808.2 156.5,810.7 157.1,813.2 157.6,815.6 158.1,818.1 158.7,820.6 159.2,823.1 159.8,825.5 160.3,828.0 160.9,830.5 161.5,833.0 162.1,835.4 162.7,837.9 163.3,840.3 164.0,842.7 164.7,845.2 165.4,847.6 166.2,850.0 166.9,852.4 167.7,854.7 168.6,857.1 169.4,859.4 170.4,861.8 171.3,864.1 172.3,866.4 173.3,868.6 174.4,870.9 175.5,873.1 176.6,875.3 177.8,877.5 179.0,879.7 180.2,881.9 181.4,884.1 182.7,886.2 184.0,888.4 185.3,890.5 186.6,892.7 188.0,894.8 189.3,896.9 190.7,899.0 192.1,901.1 193.5,903.2 194.9,905.3 196.3,907.4 197.8,909.5 199.2,911.6 200.6,913.7 202.1,915.8 203.6,917.9 205.1,919.9 206.6,921.9 208.1,923.9 209.7,925.9 211.3,927.8 212.9,929.7 214.6,931.5 216.3,933.3 218.1,935.1 219.9,936.8 221.7,938.4 223.7,940.0 225.6,941.4 227.7,942.9 229.8,944.2 232.0,945.5 234.2,946.6 236.5,947.6 238.9,948.4 241.2,949.1 243.7,949.5 246.1,949.8 248.5,950.2 250.9,950.7 253.3,951.5 255.6,952.5 257.9,953.7 260.2,954.9 262.5,956.0 264.9,956.8 267.3,957.2 269.7,957.3 272.2,957.2 274.8,957.0 277.3,956.7 279.8,956.5 282.3,956.4 284.8,956.4 287.3,956.4 289.8,956.5 292.3,956.6 294.8,956.8 297.3,957.0 299.8,957.3 302.2,957.6 304.7,957.9 307.2,958.2 309.7,958.6 312.2,959.0 314.6,959.3 317.1,959.7 319.6,960.1 322.1,960.4 324.6,960.7 327.1,961.1 329.6,961.3 332.0,961.6 334.5,961.7 337.0,961.8 339.5,961.8 342.0,961.7 344.5,961.5 347.0,961.4 349.5,961.4 352.0,961.4 354.5,961.6 357.0,961.7 359.5,961.9 362.0,962.0 364.5,962.0 367.0,961.8 369.4,961.6 371.9,961.4 374.4,961.3 376.9,961.5 379.4,962.0 381.8,962.5 384.3,963.1 386.8,963.6 389.2,963.8 391.7,963.6 394.1,963.3 396.6,962.7 399.1,962.1 401.6,961.6 404.1,961.1 406.6,960.8 409.1,960.7 411.6,960.6 414.1,960.7 416.6,960.9 419.0,961.2 421.5,961.5 424.0,961.9 426.5,962.2 428.9,962.6 431.4,963.0 433.9,963.3 436.4,963.6 438.9,963.8 441.4,964.0 443.9,964.1 446.4,964.1 448.9,964.1 451.4,963.9 453.9,963.7 456.4,963.4 458.9,963.2 461.4,963.1 463.9,963.1 466.4,963.2 468.9,963.4 471.3,963.7 473.8,964.0 476.3,964.2 478.8,964.4 481.4,964.6 483.9,964.7 486.4,964.9 488.9,965.0 491.4,965.1 493.9,965.1 496.4,965.2 498.9,965.3 501.4,965.3 503.9,965.4 506.4,965.4 508.9,965.5 511.4,965.6 513.9,965.7 516.4,965.8 519.0,965.9 521.5,966.1 524.0,966.2 524.0,966.7 Z" fill="rgba(255,110,173,0.3)" stroke="none"/>
<path d="M120.1,692.0 120.2,689.5 120.3,687.0 120.3,684.5 120.4,682.0 120.5,679.4 120.6,676.9 120.6,674.4 120.7,671.9 120.8,669.4 120.9,666.9 120.9,664.3 121.0,661.8 121.1,659.3 121.2,656.8 121.2,654.3 121.3,651.8 121.4,649.2 121.5,646.7 121.6,644.2 121.6,641.7 121.7,639.2 121.8,636.7 121.9,634.2 122.0,631.6 122.1,629.1 122.2,626.6 122.3,624.1 122.4,621.6 122.5,619.1 122.6,616.6 122.7,614.1 122.8,611.5 122.9,609.0 123.0,606.5 123.1,604.0 123.2,601.4 123.3,598.9 123.5,596.4 123.6,593.9 123.8,591.4 124.0,588.9 124.2,586.5 124.4,584.0 124.6,581.6 124.9,579.1 125.2,576.3 125.6,573.5 126.3,570.8 127.3,569.1 128.2,569.3 128.9,571.2 129.4,573.6 129.9,576.0 130.3,578.4 130.6,580.9 130.8,583.4 131.0,585.9 131.2,588.4 131.3,590.9 131.5,593.5 131.5,596.0 131.6,598.6 131.7,601.1 131.8,603.6 131.9,606.2 132.0,608.7 132.2,611.2 132.3,613.7 132.4,616.3 132.6,618.8 132.7,621.3 132.9,623.8 133.1,626.3 133.2,628.8 133.4,631.3 133.6,633.8 133.8,636.3 133.9,638.8 134.1,641.3 134.3,643.8 134.5,646.3 134.7,648.8 134.9,651.3 135.1,653.8 135.3,656.3 135.5,658.8 135.7,661.3 135.9,663.8 136.1,666.4 136.3,668.9 136.5,671.4 136.7,673.9 136.9,676.4 137.1,678.9 137.3,681.4 137.6,683.9 137.8,686.4 138.0,688.9 138.3,691.5 138.5,694.0 138.7,696.5 139.0,699.0 139.2,701.5 139.5,704.0 139.7,706.5 140.0,709.0 140.3,711.5 140.5,714.0 140.8,716.5 141.1,719.0 141.4,721.5 141.7,724.0 142.0,726.5 142.3,729.0 142.6,731.5 142.9,734.0 143.2,736.5 143.6,739.0 143.9,741.5 144.3,744.0 144.6,746.5 145.0,749.0 145.4,751.5 145.7,754.0 146.1,756.4 146.5,758.9 146.9,761.4 147.4,763.9 147.8,766.3 148.2,768.8 148.6,771.3 149.1,773.8 149.6,776.2 150.0,778.7 150.5,781.1 151.0,783.6 151.4,786.1 151.9,788.5 152.4,791.0 152.9,793.5 153.4,795.9 153.9,798.4 154.5,800.8 155.0,803.3 155.5,805.8 156.0,808.2 156.5,810.7 157.1,813.2 157.6,815.6 158.1,818.1 158.7,820.6 159.2,823.1 159.8,825.5 160.3,828.0 160.9,830.5 161.5,833.0 162.1,835.4 162.7,837.9 163.3,840.3 164.0,842.7 164.7,845.2 165.4,847.6 166.2,850.0 166.9,852.4 167.7,854.7 168.6,857.1 169.4,859.4 170.4,861.8 171.3,864.1 172.3,866.4 173.3,868.6 174.4,870.9 175.5,873.1 176.6,875.3 177.8,877.5 179.0,879.7 180.2,881.9 181.4,884.1 182.7,886.2 184.0,888.4 185.3,890.5 186.6,892.7 188.0,894.8 189.3,896.9 190.7,899.0 192.1,901.1 193.5,903.2 194.9,905.3 196.3,907.4 197.8,909.5 199.2,911.6 200.6,913.7 202.1,915.8 203.6,917.9 205.1,919.9 206.6,921.9 208.1,923.9 209.7,925.9 211.3,927.8 212.9,929.7 214.6,931.5 216.3,933.3 218.1,935.1 219.9,936.8 221.7,938.4 223.7,940.0 225.6,941.4 227.7,942.9 229.8,944.2 232.0,945.5 234.2,946.6 236.5,947.6 238.9,948.4 241.2,949.1 243.7,949.5 246.1,949.8 248.5,950.2 250.9,950.7 253.3,951.5 255.6,952.5 257.9,953.7 260.2,954.9 262.5,956.0 264.9,956.8 267.3,957.2 269.7,957.3 272.2,957.2 274.8,957.0 277.3,956.7 279.8,956.5 282.3,956.4 284.8,956.4 287.3,956.4 289.8,956.5 292.3,956.6 294.8,956.8 297.3,957.0 299.8,957.3 302.2,957.6 304.7,957.9 307.2,958.2 309.7,958.6 312.2,959.0 314.6,959.3 317.1,959.7 319.6,960.1 322.1,960.4 324.6,960.7 327.1,961.1 329.6,961.3 332.0,961.6 334.5,961.7 337.0,961.8 339.5,961.8 342.0,961.7 344.5,961.5 347.0,961.4 349.5,961.4 352.0,961.4 354.5,961.6 357.0,961.7 359.5,961.9 362.0,962.0 364.5,962.0 367.0,961.8 369.4,961.6 371.9,961.4 374.4,961.3 376.9,961.5 379.4,962.0 381.8,962.5 384.3,963.1 386.8,963.6 389.2,963.8 391.7,963.6 394.1,963.3 396.6,962.7 399.1,962.1 401.6,961.6 404.1,961.1 406.6,960.8 409.1,960.7 411.6,960.6 414.1,960.7 416.6,960.9 419.0,961.2 421.5,961.5 424.0,961.9 426.5,962.2 428.9,962.6 431.4,963.0 433.9,963.3 436.4,963.6 438.9,963.8 441.4,964.0 443.9,964.1 446.4,964.1 448.9,964.1 451.4,963.9 453.9,963.7 456.4,963.4 458.9,963.2 461.4,963.1 463.9,963.1 466.4,963.2 468.9,963.4 471.3,963.7 473.8,964.0 476.3,964.2 478.8,964.4 481.4,964.6 483.9,964.7 486.4,964.9 488.9,965.0 491.4,965.1 493.9,965.1 496.4,965.2 498.9,965.3 501.4,965.3 503.9,965.4 506.4,965.4 508.9,965.5 511.4,965.6 513.9,965.7 516.4,965.8 519.0,965.9 521.5,966.1 524.0,966.2" fill="none" stroke="#ff6ead" stroke-width="3" stroke-linejoin="round" stroke-linecap="round"/>
<path d="M120.1,966.7 120.1,698.9 120.3,696.4 120.4,693.9 120.6,691.3 120.8,688.8 120.9,686.3 121.1,683.8 121.3,681.3 121.4,678.8 121.6,676.3 121.8,673.8 121.9,671.3 122.1,668.7 122.3,666.2 122.5,663.7 122.6,661.2 122.8,658.7 123.0,656.2 123.2,653.7 123.4,651.2 123.6,648.7 123.8,646.2 123.9,643.7 124.2,641.2 124.4,638.6 124.6,636.1 124.8,633.6 125.0,631.1 125.2,628.6 125.5,626.1 125.7,623.6 126.0,621.1 126.2,618.5 126.5,616.0 126.8,613.5 127.1,611.0 127.4,608.6 127.7,606.1 128.0,603.6 128.3,601.1 128.7,598.6 129.0,596.2 129.4,593.7 129.8,591.2 130.2,588.8 130.7,586.3 131.2,583.8 131.8,581.3 132.5,578.8 133.3,576.2 134.1,573.8 134.9,571.4 135.8,569.7 136.8,569.6 138.0,571.1 139.2,573.6 140.3,576.1 141.2,578.5 141.9,580.9 142.5,583.4 143.0,585.8 143.5,588.3 144.0,590.8 144.4,593.2 144.9,595.7 145.3,598.1 145.8,600.6 146.2,603.1 146.6,605.6 147.1,608.0 147.5,610.5 147.9,613.0 148.3,615.5 148.7,618.0 149.1,620.4 149.5,622.9 149.9,625.4 150.3,627.9 150.7,630.4 151.1,632.9 151.5,635.4 151.9,637.9 152.2,640.3 152.6,642.8 153.0,645.3 153.4,647.8 153.7,650.3 154.1,652.8 154.5,655.3 154.9,657.8 155.3,660.3 155.6,662.8 156.0,665.2 156.4,667.7 156.8,670.2 157.2,672.7 157.6,675.2 158.0,677.7 158.4,680.2 158.8,682.6 159.2,685.1 159.6,687.6 160.0,690.1 160.4,692.6 160.8,695.1 161.2,697.5 161.7,700.0 162.1,702.5 162.6,705.0 163.0,707.4 163.5,709.9 163.9,712.4 164.4,714.8 164.9,717.3 165.4,719.8 165.9,722.2 166.4,724.7 166.9,727.2 167.4,729.6 167.9,732.1 168.5,734.5 169.0,737.0 169.6,739.5 170.2,741.9 170.7,744.4 171.3,746.8 171.9,749.2 172.6,751.7 173.2,754.1 173.8,756.6 174.5,759.0 175.2,761.4 175.8,763.8 176.5,766.3 177.2,768.7 178.0,771.1 178.7,773.5 179.4,775.9 180.2,778.3 181.0,780.7 181.8,783.1 182.6,785.5 183.4,787.8 184.2,790.2 185.1,792.6 185.9,794.9 186.8,797.3 187.7,799.6 188.6,802.0 189.6,804.3 190.5,806.6 191.5,809.0 192.5,811.3 193.5,813.6 194.5,815.9 195.6,818.1 196.6,820.4 197.7,822.7 198.8,825.0 199.9,827.2 201.1,829.4 202.2,831.7 203.4,833.9 204.6,836.1 205.8,838.3 207.0,840.5 208.3,842.7 209.5,844.9 210.7,847.1 212.0,849.3 213.2,851.5 214.4,853.7 215.6,855.9 216.7,858.2 217.9,860.4 219.0,862.6 220.1,864.9 221.2,867.1 222.3,869.4 223.5,871.6 224.6,873.9 225.7,876.2 226.9,878.4 228.1,880.6 229.4,882.7 230.8,884.8 232.3,886.8 234.0,888.7 235.8,890.4 237.8,891.9 239.9,893.2 242.1,894.4 244.4,895.3 246.7,896.0 249.2,896.7 251.6,897.3 254.0,898.0 256.4,898.8 258.7,899.8 261.0,900.9 263.2,902.2 265.3,903.6 267.3,905.1 269.2,906.7 271.0,908.4 272.8,910.1 274.6,911.9 276.4,913.7 278.2,915.4 280.0,917.2 281.9,918.9 283.8,920.5 285.8,922.0 287.8,923.5 290.0,924.8 292.1,926.0 294.4,927.0 296.7,927.9 299.0,928.6 301.4,929.0 303.8,929.3 306.3,929.4 308.8,929.3 311.4,929.2 313.9,929.0 316.5,928.8 319.0,928.7 321.5,928.6 324.1,928.7 326.5,929.0 329.0,929.4 331.4,930.1 333.8,930.8 336.2,931.6 338.6,932.2 341.1,932.7 343.6,933.0 346.1,933.4 348.5,933.9 350.9,934.5 353.3,935.3 355.7,936.2 358.0,937.1 360.4,938.0 362.7,939.0 365.0,940.0 367.4,940.8 369.8,941.7 372.1,942.4 374.5,943.0 377.0,943.5 379.4,943.8 381.9,943.9 384.3,943.9 386.7,943.7 389.2,943.2 391.6,942.6 394.1,941.8 396.5,940.9 398.9,940.0 401.3,939.1 403.8,938.2 406.2,937.5 408.6,936.9 411.0,936.5 413.4,936.4 415.7,936.6 418.1,937.1 420.5,937.8 422.9,938.7 425.3,939.7 427.7,940.7 430.1,941.7 432.5,942.6 434.9,943.4 437.3,944.0 439.8,944.4 442.2,944.8 444.7,945.0 447.2,945.2 449.6,945.3 452.1,945.4 454.6,945.4 457.1,945.5 459.6,945.6 462.0,945.8 464.5,946.0 467.0,946.3 469.4,946.7 471.8,947.2 474.3,947.7 476.6,948.4 479.0,949.2 481.3,950.0 483.7,951.0 485.9,952.1 488.2,953.2 490.5,954.3 492.7,955.5 495.0,956.6 497.3,957.6 499.6,958.6 501.9,959.5 504.3,960.2 506.7,960.9 509.2,961.4 511.7,961.9 514.2,962.3 516.6,962.7 519.1,963.2 521.6,963.8 524.0,964.4 524.0,966.7 Z" fill="rgba(143,230,234,0.3)" stroke="none"/>
<path d="M120.1,698.9 120.3,696.4 120.4,693.9 120.6,691.3 120.8,688.8 120.9,686.3 121.1,683.8 121.3,681.3 121.4,678.8 121.6,676.3 121.8,673.8 121.9,671.3 122.1,668.7 122.3,666.2 122.5,663.7 122.6,661.2 122.8,658.7 123.0,656.2 123.2,653.7 123.4,651.2 123.6,648.7 123.8,646.2 123.9,643.7 124.2,641.2 124.4,638.6 124.6,636.1 124.8,633.6 125.0,631.1 125.2,628.6 125.5,626.1 125.7,623.6 126.0,621.1 126.2,618.5 126.5,616.0 126.8,613.5 127.1,611.0 127.4,608.6 127.7,606.1 128.0,603.6 128.3,601.1 128.7,598.6 129.0,596.2 129.4,593.7 129.8,591.2 130.2,588.8 130.7,586.3 131.2,583.8 131.8,581.3 132.5,578.8 133.3,576.2 134.1,573.8 134.9,571.4 135.8,569.7 136.8,569.6 138.0,571.1 139.2,573.6 140.3,576.1 141.2,578.5 141.9,580.9 142.5,583.4 143.0,585.8 143.5,588.3 144.0,590.8 144.4,593.2 144.9,595.7 145.3,598.1 145.8,600.6 146.2,603.1 146.6,605.6 147.1,608.0 147.5,610.5 147.9,613.0 148.3,615.5 148.7,618.0 149.1,620.4 149.5,622.9 149.9,625.4 150.3,627.9 150.7,630.4 151.1,632.9 151.5,635.4 151.9,637.9 152.2,640.3 152.6,642.8 153.0,645.3 153.4,647.8 153.7,650.3 154.1,652.8 154.5,655.3 154.9,657.8 155.3,660.3 155.6,662.8 156.0,665.2 156.4,667.7 156.8,670.2 157.2,672.7 157.6,675.2 158.0,677.7 158.4,680.2 158.8,682.6 159.2,685.1 159.6,687.6 160.0,690.1 160.4,692.6 160.8,695.1 161.2,697.5 161.7,700.0 162.1,702.5 162.6,705.0 163.0,707.4 163.5,709.9 163.9,712.4 164.4,714.8 164.9,717.3 165.4,719.8 165.9,722.2 166.4,724.7 166.9,727.2 167.4,729.6 167.9,732.1 168.5,734.5 169.0,737.0 169.6,739.5 170.2,741.9 170.7,744.4 171.3,746.8 171.9,749.2 172.6,751.7 173.2,754.1 173.8,756.6 174.5,759.0 175.2,761.4 175.8,763.8 176.5,766.3 177.2,768.7 178.0,771.1 178.7,773.5 179.4,775.9 180.2,778.3 181.0,780.7 181.8,783.1 182.6,785.5 183.4,787.8 184.2,790.2 185.1,792.6 185.9,794.9 186.8,797.3 187.7,799.6 188.6,802.0 189.6,804.3 190.5,806.6 191.5,809.0 192.5,811.3 193.5,813.6 194.5,815.9 195.6,818.1 196.6,820.4 197.7,822.7 198.8,825.0 199.9,827.2 201.1,829.4 202.2,831.7 203.4,833.9 204.6,836.1 205.8,838.3 207.0,840.5 208.3,842.7 209.5,844.9 210.7,847.1 212.0,849.3 213.2,851.5 214.4,853.7 215.6,855.9 216.7,858.2 217.9,860.4 219.0,862.6 220.1,864.9 221.2,867.1 222.3,869.4 223.5,871.6 224.6,873.9 225.7,876.2 226.9,878.4 228.1,880.6 229.4,882.7 230.8,884.8 232.3,886.8 234.0,888.7 235.8,890.4 237.8,891.9 239.9,893.2 242.1,894.4 244.4,895.3 246.7,896.0 249.2,896.7 251.6,897.3 254.0,898.0 256.4,898.8 258.7,899.8 261.0,900.9 263.2,902.2 265.3,903.6 267.3,905.1 269.2,906.7 271.0,908.4 272.8,910.1 274.6,911.9 276.4,913.7 278.2,915.4 280.0,917.2 281.9,918.9 283.8,920.5 285.8,922.0 287.8,923.5 290.0,924.8 292.1,926.0 294.4,927.0 296.7,927.9 299.0,928.6 301.4,929.0 303.8,929.3 306.3,929.4 308.8,929.3 311.4,929.2 313.9,929.0 316.5,928.8 319.0,928.7 321.5,928.6 324.1,928.7 326.5,929.0 329.0,929.4 331.4,930.1 333.8,930.8 336.2,931.6 338.6,932.2 341.1,932.7 343.6,933.0 346.1,933.4 348.5,933.9 350.9,934.5 353.3,935.3 355.7,936.2 358.0,937.1 360.4,938.0 362.7,939.0 365.0,940.0 367.4,940.8 369.8,941.7 372.1,942.4 374.5,943.0 377.0,943.5 379.4,943.8 381.9,943.9 384.3,943.9 386.7,943.7 389.2,943.2 391.6,942.6 394.1,941.8 396.5,940.9 398.9,940.0 401.3,939.1 403.8,938.2 406.2,937.5 408.6,936.9 411.0,936.5 413.4,936.4 415.7,936.6 418.1,937.1 420.5,937.8 422.9,938.7 425.3,939.7 427.7,940.7 430.1,941.7 432.5,942.6 434.9,943.4 437.3,944.0 439.8,944.4 442.2,944.8 444.7,945.0 447.2,945.2 449.6,945.3 452.1,945.4 454.6,945.4 457.1,945.5 459.6,945.6 462.0,945.8 464.5,946.0 467.0,946.3 469.4,946.7 471.8,947.2 474.3,947.7 476.6,948.4 479.0,949.2 481.3,950.0 483.7,951.0 485.9,952.1 488.2,953.2 490.5,954.3 492.7,955.5 495.0,956.6 497.3,957.6 499.6,958.6 501.9,959.5 504.3,960.2 506.7,960.9 509.2,961.4 511.7,961.9 514.2,962.3 516.6,962.7 519.1,963.2 521.6,963.8 524.0,964.4" fill="none" stroke="#8fe6ea" stroke-width="3" stroke-linejoin="round" stroke-linecap="round"/>
<path d="M120.8,966.7 120.8,569.6 120.8,572.1 120.8,574.6 120.8,577.1 120.8,579.6 120.8,582.1 120.8,584.6 120.8,587.1 120.8,589.7 120.8,592.2 120.8,594.7 120.8,597.2 120.8,599.7 120.9,602.2 120.9,604.7 120.9,607.2 120.9,609.7 120.9,612.2 120.9,614.8 120.9,617.3 120.9,619.8 120.9,622.3 120.9,624.8 120.9,627.3 120.9,629.8 120.9,632.3 120.9,634.8 120.9,637.3 120.9,639.8 120.9,642.4 120.9,644.9 120.9,647.4 120.9,649.9 120.9,652.4 120.9,654.9 120.9,657.4 120.9,659.9 120.9,662.4 120.9,664.9 120.9,667.4 120.9,669.9 120.9,672.4 121.0,674.9 121.0,677.5 121.0,680.0 121.0,682.5 121.0,685.0 121.0,687.5 121.0,690.0 121.0,692.5 121.0,695.0 121.0,697.5 121.0,700.0 121.0,702.5 121.0,705.0 121.0,707.5 121.0,710.1 121.0,712.6 121.0,715.1 121.0,717.6 121.0,720.1 121.1,722.6 121.1,725.1 121.1,727.6 121.1,730.1 121.1,732.6 121.1,735.2 121.1,737.7 121.1,740.2 121.1,742.7 121.1,745.2 121.1,747.7 121.2,750.2 121.2,752.7 121.2,755.2 121.2,757.8 121.2,760.3 121.2,762.8 121.2,765.3 121.2,767.8 121.3,770.3 121.3,772.8 121.3,775.4 121.3,777.9 121.3,780.4 121.3,782.9 121.4,785.4 121.4,787.9 121.4,790.4 121.4,793.0 121.4,795.5 121.5,798.0 121.5,800.5 121.5,803.0 121.6,805.5 121.6,808.0 121.6,810.5 121.7,813.1 121.7,815.6 121.7,818.1 121.8,820.6 121.8,823.1 121.9,825.6 121.9,828.1 122.0,830.6 122.0,833.1 122.1,835.6 122.1,838.1 122.2,840.6 122.3,843.1 122.3,845.6 122.4,848.1 122.5,850.6 122.5,853.1 122.6,855.6 122.7,858.1 122.8,860.6 122.9,863.1 123.0,865.6 123.1,868.1 123.2,870.6 123.3,873.1 123.4,875.6 123.5,878.1 123.6,880.5 123.8,883.0 123.9,885.5 124.0,888.0 124.2,890.5 124.3,893.0 124.5,895.5 124.6,898.1 124.8,900.6 125.0,903.1 125.1,905.6 125.3,908.2 125.5,910.7 125.7,913.3 125.9,915.8 126.2,918.4 126.4,920.9 126.7,923.5 127.0,926.0 127.3,928.5 127.7,931.0 128.2,933.5 128.7,936.0 129.2,938.4 129.8,940.8 130.5,943.2 131.3,945.5 132.1,947.7 133.0,950.0 134.0,952.2 135.1,954.3 136.3,956.3 137.7,958.2 139.2,960.0 140.9,961.5 142.8,962.8 144.9,963.7 147.3,964.4 149.7,964.9 152.3,965.2 154.8,965.5 157.4,965.7 159.9,965.9 162.4,966.0 165.0,966.1 167.5,966.1 170.1,966.1 172.6,966.2 175.1,966.2 177.6,966.2 180.2,966.2 182.7,966.2 185.2,966.2 187.7,966.2 190.2,966.2 192.8,966.2 195.3,966.2 197.8,966.2 200.3,966.2 202.8,966.2 205.3,966.2 207.8,966.2 210.3,966.2 212.8,966.2 215.3,966.2 217.8,966.2 220.3,966.2 222.8,966.2 225.3,966.2 227.8,966.2 230.3,966.2 232.9,966.2 235.4,966.3 237.9,966.3 240.4,966.3 242.9,966.3 245.4,966.3 247.9,966.3 250.4,966.3 252.9,966.3 255.4,966.3 257.9,966.3 260.4,966.3 262.9,966.3 265.5,966.3 268.0,966.3 270.5,966.3 273.0,966.3 275.5,966.3 278.0,966.3 280.5,966.3 283.0,966.3 285.5,966.3 288.0,966.3 290.6,966.3 293.1,966.3 295.6,966.3 298.1,966.3 300.6,966.3 303.1,966.3 305.6,966.3 308.1,966.3 310.6,966.3 313.2,966.2 315.7,966.2 318.2,966.2 320.7,966.2 323.2,966.2 325.7,966.2 328.2,966.2 330.7,966.2 333.2,966.2 335.8,966.2 338.3,966.2 340.8,966.2 343.3,966.2 345.8,966.2 348.3,966.2 350.8,966.2 353.3,966.2 355.8,966.2 358.3,966.2 360.9,966.2 363.4,966.2 365.9,966.2 368.4,966.2 370.9,966.2 373.4,966.2 375.9,966.2 378.4,966.2 380.9,966.2 383.4,966.2 385.9,966.2 388.5,966.2 391.0,966.2 393.5,966.2 396.0,966.2 398.5,966.2 401.0,966.2 403.5,966.2 406.0,966.2 408.5,966.2 411.0,966.2 413.5,966.2 416.1,966.2 418.6,966.2 421.1,966.2 423.6,966.2 426.1,966.2 428.6,966.2 431.1,966.2 433.6,966.2 436.1,966.2 438.6,966.2 441.1,966.2 443.7,966.2 446.2,966.2 448.7,966.2 451.2,966.3 453.7,966.3 456.2,966.3 458.7,966.3 461.2,966.3 463.7,966.3 466.2,966.3 468.7,966.3 471.3,966.3 473.8,966.3 476.3,966.3 478.8,966.3 481.3,966.3 483.8,966.3 486.3,966.3 488.8,966.3 491.3,966.3 493.8,966.3 496.3,966.3 498.9,966.3 501.4,966.3 503.9,966.3 506.4,966.3 508.9,966.3 511.4,966.2 513.9,966.2 516.4,966.2 518.9,966.2 521.5,966.2 524.0,966.2 524.0,966.7 Z" fill="rgba(31,128,222,0.3)" stroke="none"/>
<line x1="121.4" y1="569" x2="121.4" y2="966.7" stroke="#a8c8f0" stroke-width="1"/>
<path d="M120.1,966.7 120.1,939.2 121.5,937.1 122.9,935.0 124.2,932.8 125.4,930.6 126.5,928.4 127.6,926.2 128.8,924.0 129.9,921.7 131.1,919.5 132.3,917.4 133.7,915.2 135.1,913.1 136.6,911.1 138.2,909.1 139.9,907.2 141.7,905.4 143.6,903.7 145.6,902.2 147.7,900.8 149.8,899.7 152.0,898.7 154.3,897.9 156.7,897.4 159.1,897.0 161.5,896.8 164.0,896.8 166.6,896.8 169.1,896.9 171.7,897.1 174.3,897.3 176.8,897.5 179.4,897.7 181.9,897.8 184.5,897.9 187.0,898.0 189.5,898.1 192.0,898.1 194.5,898.1 197.0,898.1 199.5,898.0 201.9,898.0 204.4,897.9 206.9,897.8 209.4,897.7 211.8,897.7 214.3,897.6 216.8,897.7 219.3,897.7 221.8,897.9 224.3,898.2 226.8,898.5 229.3,899.0 231.9,899.5 234.4,900.2 236.9,900.8 239.4,901.4 241.9,901.9 244.4,902.4 246.8,902.7 249.2,902.8 251.6,902.6 253.9,902.2 256.2,901.5 258.4,900.6 260.6,899.5 262.7,898.3 264.8,896.9 266.9,895.4 269.0,893.9 271.1,892.3 273.2,890.8 275.4,889.3 277.5,887.8 279.6,886.5 281.8,885.2 283.9,883.9 286.1,882.6 288.2,881.4 290.4,880.2 292.5,878.9 294.6,877.6 296.7,876.3 298.8,874.9 300.8,873.5 302.8,872.0 304.8,870.5 306.8,868.9 308.7,867.3 310.6,865.6 312.4,864.0 314.3,862.2 316.1,860.5 317.8,858.7 319.6,856.9 321.3,855.0 323.0,853.2 324.6,851.3 326.3,849.4 327.9,847.4 329.5,845.5 331.0,843.5 332.6,841.5 334.1,839.5 335.6,837.5 337.1,835.5 338.6,833.5 340.1,831.4 341.5,829.3 342.9,827.3 344.3,825.2 345.7,823.1 347.1,821.0 348.4,818.8 349.7,816.7 351.0,814.6 352.3,812.4 353.6,810.2 354.8,808.1 356.1,805.9 357.3,803.7 358.5,801.5 359.7,799.3 360.8,797.0 362.0,794.8 363.1,792.6 364.2,790.3 365.3,788.0 366.4,785.8 367.5,783.5 368.5,781.2 369.6,778.9 370.6,776.7 371.7,774.4 372.7,772.1 373.8,769.8 374.8,767.5 375.8,765.2 376.9,762.9 377.9,760.6 379.0,758.3 380.0,756.1 381.1,753.8 382.1,751.5 383.2,749.2 384.3,747.0 385.4,744.7 386.5,742.4 387.7,740.2 388.8,737.9 390.0,735.7 391.1,733.5 392.3,731.2 393.4,729.0 394.6,726.7 395.7,724.5 396.9,722.3 398.0,720.0 399.1,717.8 400.3,715.5 401.4,713.3 402.5,711.0 403.6,708.7 404.7,706.5 405.7,704.2 406.8,701.9 407.8,699.6 408.8,697.3 409.8,695.0 410.7,692.7 411.7,690.3 412.6,688.0 413.5,685.7 414.4,683.3 415.3,681.0 416.2,678.6 417.1,676.3 418.0,673.9 418.8,671.6 419.7,669.2 420.5,666.8 421.4,664.5 422.2,662.1 423.0,659.7 423.9,657.3 424.7,655.0 425.5,652.6 426.4,650.2 427.2,647.8 428.0,645.5 428.9,643.1 429.7,640.7 430.6,638.4 431.4,636.0 432.3,633.6 433.1,631.3 434.0,628.9 434.9,626.6 435.8,624.2 436.7,621.9 437.6,619.5 438.6,617.2 439.5,614.9 440.5,612.5 441.5,610.2 442.5,607.9 443.5,605.6 444.6,603.3 445.6,601.0 446.7,598.8 447.8,596.5 448.9,594.2 450.1,592.0 451.3,589.8 452.6,587.6 453.9,585.4 455.3,583.3 456.7,581.3 458.3,579.2 460.0,577.3 461.8,575.4 463.7,573.6 465.7,572.0 467.8,570.6 470.0,569.8 472.1,569.6 474.1,570.0 476.0,571.1 477.7,572.7 479.3,574.7 480.7,576.8 482.1,578.9 483.3,581.1 484.5,583.4 485.6,585.6 486.6,587.9 487.5,590.2 488.4,592.6 489.2,594.9 489.9,597.3 490.6,599.7 491.3,602.1 491.9,604.6 492.5,607.0 493.0,609.5 493.5,611.9 494.0,614.4 494.5,616.9 495.0,619.4 495.4,621.9 495.8,624.4 496.3,626.9 496.7,629.3 497.1,631.8 497.5,634.3 497.9,636.8 498.3,639.3 498.7,641.8 499.1,644.3 499.5,646.8 499.9,649.3 500.2,651.8 500.6,654.3 501.0,656.8 501.3,659.2 501.7,661.7 502.0,664.2 502.4,666.7 502.7,669.2 503.1,671.7 503.4,674.2 503.7,676.7 504.1,679.2 504.4,681.7 504.7,684.2 505.0,686.7 505.3,689.2 505.6,691.7 505.9,694.2 506.2,696.7 506.5,699.2 506.8,701.7 507.1,704.2 507.4,706.7 507.7,709.2 508.0,711.7 508.3,714.2 508.6,716.7 508.9,719.2 509.2,721.7 509.4,724.2 509.7,726.7 510.0,729.2 510.3,731.7 510.6,734.2 510.8,736.7 511.1,739.2 511.4,741.7 511.7,744.2 511.9,746.7 512.2,749.2 512.5,751.7 512.8,754.2 513.0,756.7 513.3,759.2 513.6,761.7 513.8,764.2 514.1,766.7 514.4,769.2 514.7,771.7 515.0,774.2 515.2,776.7 515.5,779.1 515.8,781.6 516.1,784.1 516.4,786.6 516.6,789.1 516.9,791.6 517.2,794.1 517.5,796.6 517.8,799.1 518.1,801.6 518.4,804.1 518.7,806.6 519.0,809.1 519.3,811.6 519.6,814.1 519.9,816.6 520.3,819.1 520.6,821.6 520.9,824.1 521.2,826.6 521.5,829.1 521.9,831.6 522.2,834.1 522.6,836.6 522.9,839.1 523.3,841.6 523.6,844.1 524.0,846.6 524.0,966.7 Z" fill="rgba(45,224,0,0.3)" stroke="none"/>
<path d="M120.1,939.2 121.5,937.1 122.9,935.0 124.2,932.8 125.4,930.6 126.5,928.4 127.6,926.2 128.8,924.0 129.9,921.7 131.1,919.5 132.3,917.4 133.7,915.2 135.1,913.1 136.6,911.1 138.2,909.1 139.9,907.2 141.7,905.4 143.6,903.7 145.6,902.2 147.7,900.8 149.8,899.7 152.0,898.7 154.3,897.9 156.7,897.4 159.1,897.0 161.5,896.8 164.0,896.8 166.6,896.8 169.1,896.9 171.7,897.1 174.3,897.3 176.8,897.5 179.4,897.7 181.9,897.8 184.5,897.9 187.0,898.0 189.5,898.1 192.0,898.1 194.5,898.1 197.0,898.1 199.5,898.0 201.9,898.0 204.4,897.9 206.9,897.8 209.4,897.7 211.8,897.7 214.3,897.6 216.8,897.7 219.3,897.7 221.8,897.9 224.3,898.2 226.8,898.5 229.3,899.0 231.9,899.5 234.4,900.2 236.9,900.8 239.4,901.4 241.9,901.9 244.4,902.4 246.8,902.7 249.2,902.8 251.6,902.6 253.9,902.2 256.2,901.5 258.4,900.6 260.6,899.5 262.7,898.3 264.8,896.9 266.9,895.4 269.0,893.9 271.1,892.3 273.2,890.8 275.4,889.3 277.5,887.8 279.6,886.5 281.8,885.2 283.9,883.9 286.1,882.6 288.2,881.4 290.4,880.2 292.5,878.9 294.6,877.6 296.7,876.3 298.8,874.9 300.8,873.5 302.8,872.0 304.8,870.5 306.8,868.9 308.7,867.3 310.6,865.6 312.4,864.0 314.3,862.2 316.1,860.5 317.8,858.7 319.6,856.9 321.3,855.0 323.0,853.2 324.6,851.3 326.3,849.4 327.9,847.4 329.5,845.5 331.0,843.5 332.6,841.5 334.1,839.5 335.6,837.5 337.1,835.5 338.6,833.5 340.1,831.4 341.5,829.3 342.9,827.3 344.3,825.2 345.7,823.1 347.1,821.0 348.4,818.8 349.7,816.7 351.0,814.6 352.3,812.4 353.6,810.2 354.8,808.1 356.1,805.9 357.3,803.7 358.5,801.5 359.7,799.3 360.8,797.0 362.0,794.8 363.1,792.6 364.2,790.3 365.3,788.0 366.4,785.8 367.5,783.5 368.5,781.2 369.6,778.9 370.6,776.7 371.7,774.4 372.7,772.1 373.8,769.8 374.8,767.5 375.8,765.2 376.9,762.9 377.9,760.6 379.0,758.3 380.0,756.1 381.1,753.8 382.1,751.5 383.2,749.2 384.3,747.0 385.4,744.7 386.5,742.4 387.7,740.2 388.8,737.9 390.0,735.7 391.1,733.5 392.3,731.2 393.4,729.0 394.6,726.7 395.7,724.5 396.9,722.3 398.0,720.0 399.1,717.8 400.3,715.5 401.4,713.3 402.5,711.0 403.6,708.7 404.7,706.5 405.7,704.2 406.8,701.9 407.8,699.6 408.8,697.3 409.8,695.0 410.7,692.7 411.7,690.3 412.6,688.0 413.5,685.7 414.4,683.3 415.3,681.0 416.2,678.6 417.1,676.3 418.0,673.9 418.8,671.6 419.7,669.2 420.5,666.8 421.4,664.5 422.2,662.1 423.0,659.7 423.9,657.3 424.7,655.0 425.5,652.6 426.4,650.2 427.2,647.8 428.0,645.5 428.9,643.1 429.7,640.7 430.6,638.4 431.4,636.0 432.3,633.6 433.1,631.3 434.0,628.9 434.9,626.6 435.8,624.2 436.7,621.9 437.6,619.5 438.6,617.2 439.5,614.9 440.5,612.5 441.5,610.2 442.5,607.9 443.5,605.6 444.6,603.3 445.6,601.0 446.7,598.8 447.8,596.5 448.9,594.2 450.1,592.0 451.3,589.8 452.6,587.6 453.9,585.4 455.3,583.3 456.7,581.3 458.3,579.2 460.0,577.3 461.8,575.4 463.7,573.6 465.7,572.0 467.8,570.6 470.0,569.8 472.1,569.6 474.1,570.0 476.0,571.1 477.7,572.7 479.3,574.7 480.7,576.8 482.1,578.9 483.3,581.1 484.5,583.4 485.6,585.6 486.6,587.9 487.5,590.2 488.4,592.6 489.2,594.9 489.9,597.3 490.6,599.7 491.3,602.1 491.9,604.6 492.5,607.0 493.0,609.5 493.5,611.9 494.0,614.4 494.5,616.9 495.0,619.4 495.4,621.9 495.8,624.4 496.3,626.9 496.7,629.3 497.1,631.8 497.5,634.3 497.9,636.8 498.3,639.3 498.7,641.8 499.1,644.3 499.5,646.8 499.9,649.3 500.2,651.8 500.6,654.3 501.0,656.8 501.3,659.2 501.7,661.7 502.0,664.2 502.4,666.7 502.7,669.2 503.1,671.7 503.4,674.2 503.7,676.7 504.1,679.2 504.4,681.7 504.7,684.2 505.0,686.7 505.3,689.2 505.6,691.7 505.9,694.2 506.2,696.7 506.5,699.2 506.8,701.7 507.1,704.2 507.4,706.7 507.7,709.2 508.0,711.7 508.3,714.2 508.6,716.7 508.9,719.2 509.2,721.7 509.4,724.2 509.7,726.7 510.0,729.2 510.3,731.7 510.6,734.2 510.8,736.7 511.1,739.2 511.4,741.7 511.7,744.2 511.9,746.7 512.2,749.2 512.5,751.7 512.8,754.2 513.0,756.7 513.3,759.2 513.6,761.7 513.8,764.2 514.1,766.7 514.4,769.2 514.7,771.7 515.0,774.2 515.2,776.7 515.5,779.1 515.8,781.6 516.1,784.1 516.4,786.6 516.6,789.1 516.9,791.6 517.2,794.1 517.5,796.6 517.8,799.1 518.1,801.6 518.4,804.1 518.7,806.6 519.0,809.1 519.3,811.6 519.6,814.1 519.9,816.6 520.3,819.1 520.6,821.6 520.9,824.1 521.2,826.6 521.5,829.1 521.9,831.6 522.2,834.1 522.6,836.6 522.9,839.1 523.3,841.6 523.6,844.1 524.0,846.6" fill="none" stroke="#2de000" stroke-width="3" stroke-linejoin="round" stroke-linecap="round"/>
<rect x="97.7" y="965.4" width="2.6" height="2.6" fill="#111"/>
<text transform="translate(90.6,971.6) scale(1,1.02)" font-size="21.8" text-anchor="end" fill="#1c2626">0.00</text>
<rect x="97.7" y="865.98" width="2.6" height="2.6" fill="#111"/>
<text transform="translate(90.6,872.18) scale(1,1.02)" font-size="21.8" text-anchor="end" fill="#1c2626">0.25</text>
<rect x="97.7" y="766.55" width="2.6" height="2.6" fill="#111"/>
<text transform="translate(90.6,772.75) scale(1,1.02)" font-size="21.8" text-anchor="end" fill="#1c2626">0.50</text>
<rect x="97.7" y="667.12" width="2.6" height="2.6" fill="#111"/>
<text transform="translate(90.6,673.32) scale(1,1.02)" font-size="21.8" text-anchor="end" fill="#1c2626">0.75</text>
<rect x="97.7" y="567.7" width="2.6" height="2.6" fill="#111"/>
<text transform="translate(90.6,573.9) scale(1,1.02)" font-size="21.8" text-anchor="end" fill="#1c2626">1.00</text>
<rect x="118.8" y="986.29" width="2.8" height="8.1" fill="#111"/>
<rect x="219.9" y="986.29" width="2.8" height="8.1" fill="#111"/>
<rect x="321" y="986.29" width="2.8" height="8.1" fill="#111"/>
<rect x="422.1" y="986.29" width="2.8" height="8.1" fill="#111"/>
<rect x="523.2" y="986.29" width="2.8" height="8.1" fill="#111"/>
<line x1="551.1" y1="549.12" x2="551.1" y2="994.59" stroke="#808080" stroke-width="1.5"/>
<line x1="580.5" y1="549.12" x2="580.5" y2="986.59" stroke="#e6edeb" stroke-width="2.0"/>
<line x1="560.28" y1="966.7" x2="1005.12" y2="966.7" stroke="#e6edeb" stroke-width="2.0"/>
<line x1="631.05" y1="549.12" x2="631.05" y2="986.59" stroke="#e6edeb" stroke-width="1.4"/>
<line x1="560.28" y1="916.99" x2="1005.12" y2="916.99" stroke="#e6edeb" stroke-width="1.4"/>
<line x1="681.6" y1="549.12" x2="681.6" y2="986.59" stroke="#e6edeb" stroke-width="2.0"/>
<line x1="560.28" y1="867.28" x2="1005.12" y2="867.28" stroke="#e6edeb" stroke-width="2.0"/>
<line x1="732.15" y1="549.12" x2="732.15" y2="986.59" stroke="#e6edeb" stroke-width="1.4"/>
<line x1="560.28" y1="817.56" x2="1005.12" y2="817.56" stroke="#e6edeb" stroke-width="1.4"/>
<line x1="782.7" y1="549.12" x2="782.7" y2="986.59" stroke="#e6edeb" stroke-width="2.0"/>
<line x1="560.28" y1="767.85" x2="1005.12" y2="767.85" stroke="#e6edeb" stroke-width="2.0"/>
<line x1="833.25" y1="549.12" x2="833.25" y2="986.59" stroke="#e6edeb" stroke-width="1.4"/>
<line x1="560.28" y1="718.14" x2="1005.12" y2="718.14" stroke="#e6edeb" stroke-width="1.4"/>
<line x1="883.8" y1="549.12" x2="883.8" y2="986.59" stroke="#e6edeb" stroke-width="2.0"/>
<line x1="560.28" y1="668.42" x2="1005.12" y2="668.42" stroke="#e6edeb" stroke-width="2.0"/>
<line x1="934.35" y1="549.12" x2="934.35" y2="986.59" stroke="#e6edeb" stroke-width="1.4"/>
<line x1="560.28" y1="618.71" x2="1005.12" y2="618.71" stroke="#e6edeb" stroke-width="1.4"/>
<line x1="984.9" y1="549.12" x2="984.9" y2="986.59" stroke="#e6edeb" stroke-width="2.0"/>
<line x1="560.28" y1="569" x2="1005.12" y2="569" stroke="#e6edeb" stroke-width="2.0"/>
<path d="M580.6,966.7 580.6,680.7 580.6,678.2 580.6,675.7 580.7,673.1 580.7,670.6 580.8,668.1 580.8,665.6 580.9,663.0 580.9,660.5 581.0,658.0 581.0,655.5 581.1,652.9 581.1,650.4 581.1,647.9 581.2,645.4 581.2,642.9 581.3,640.4 581.3,637.9 581.3,635.4 581.4,632.8 581.4,630.3 581.5,627.8 581.5,625.3 581.6,622.8 581.6,620.2 581.7,617.7 581.8,615.2 581.8,612.6 581.9,610.1 582.0,607.6 582.1,605.0 582.1,602.5 582.2,600.0 582.3,597.5 582.4,595.0 582.5,592.5 582.6,590.1 582.7,587.6 582.7,585.1 582.8,582.6 582.9,580.0 583.0,577.2 583.1,574.5 583.1,571.8 583.2,569.7 583.3,569.1 583.4,570.4 583.5,573.1 583.6,576.2 583.7,579.0 583.8,581.5 583.8,583.8 583.9,586.3 584.1,588.8 584.2,591.3 584.3,593.8 584.4,596.3 584.5,598.9 584.6,601.4 584.6,603.9 584.7,606.4 584.7,609.0 584.8,611.5 584.8,614.0 584.9,616.5 584.9,619.1 585.0,621.6 585.0,624.1 585.1,626.6 585.1,629.1 585.2,631.6 585.2,634.2 585.3,636.7 585.3,639.2 585.4,641.7 585.4,644.2 585.5,646.7 585.6,649.3 585.6,651.8 585.7,654.3 585.8,656.8 585.8,659.3 585.9,661.8 586.0,664.4 586.0,666.9 586.1,669.4 586.2,671.9 586.3,674.4 586.3,677.0 586.4,679.5 586.5,682.0 586.6,684.5 586.6,687.0 586.7,689.6 586.8,692.1 586.9,694.6 587.0,697.1 587.1,699.7 587.1,702.2 587.2,704.7 587.3,707.2 587.4,709.7 587.6,712.3 587.7,714.8 587.8,717.3 587.9,719.8 588.1,722.3 588.2,724.8 588.3,727.4 588.5,729.9 588.6,732.4 588.8,734.9 589.0,737.4 589.2,739.9 589.3,742.4 589.5,744.9 589.7,747.4 589.9,749.9 590.1,752.4 590.3,754.9 590.5,757.4 590.7,759.9 590.9,762.4 591.1,764.9 591.3,767.4 591.5,769.9 591.7,772.4 591.9,774.9 592.1,777.4 592.2,779.9 592.4,782.4 592.6,785.0 592.7,787.5 592.9,790.0 593.1,792.5 593.2,795.0 593.4,797.5 593.5,800.0 593.7,802.6 593.8,805.1 594.0,807.6 594.1,810.1 594.3,812.6 594.5,815.2 594.6,817.7 594.8,820.2 595.0,822.7 595.1,825.2 595.3,827.8 595.5,830.3 595.7,832.8 595.9,835.3 596.1,837.8 596.3,840.3 596.6,842.8 596.8,845.3 597.1,847.9 597.3,850.4 597.6,852.9 597.9,855.4 598.2,857.9 598.5,860.4 598.8,862.9 599.1,865.3 599.5,867.8 599.9,870.3 600.2,872.8 600.6,875.3 601.1,877.8 601.5,880.2 602.0,882.7 602.4,885.2 602.9,887.6 603.5,890.1 604.0,892.5 604.6,895.0 605.1,897.4 605.8,899.9 606.4,902.3 607.0,904.7 607.7,907.1 608.4,909.6 609.2,912.0 609.9,914.4 610.7,916.8 611.5,919.2 612.3,921.6 613.2,923.9 614.1,926.3 615.0,928.7 616.0,931.0 617.0,933.4 618.0,935.7 619.1,938.0 620.2,940.4 621.3,942.6 622.6,944.7 624.0,946.7 625.6,948.5 627.4,949.9 629.4,951.1 631.5,952.2 633.6,953.4 635.7,954.8 637.7,956.3 639.7,957.7 641.9,958.8 644.1,959.7 646.5,960.4 648.8,961.0 651.3,961.5 653.7,961.9 656.2,962.3 658.6,962.7 661.1,962.9 663.5,963.0 665.9,963.1 668.4,963.1 670.8,963.2 673.2,963.4 675.7,963.6 678.2,964.0 680.7,964.3 683.2,964.7 685.7,965.0 688.2,965.3 690.7,965.5 693.2,965.7 695.7,965.8 698.2,965.9 700.7,966.0 703.3,966.1 705.8,966.1 708.3,966.1 710.8,966.2 713.3,966.2 715.8,966.2 718.3,966.2 720.8,966.2 723.3,966.2 725.8,966.2 728.4,966.3 730.9,966.3 733.4,966.3 735.9,966.3 738.4,966.3 740.9,966.3 743.4,966.3 745.9,966.3 748.5,966.3 751.0,966.3 753.5,966.3 756.0,966.3 758.5,966.3 761.0,966.3 763.5,966.3 766.1,966.3 768.6,966.3 771.1,966.3 773.6,966.3 776.1,966.3 778.6,966.3 781.1,966.2 783.6,966.2 786.2,966.2 788.7,966.2 791.2,966.2 793.7,966.2 796.2,966.2 798.7,966.2 801.2,966.2 803.7,966.2 806.3,966.2 808.8,966.2 811.3,966.2 813.8,966.2 816.3,966.2 818.8,966.2 821.3,966.2 823.9,966.2 826.4,966.2 828.9,966.2 831.4,966.2 833.9,966.2 836.4,966.2 838.9,966.2 841.4,966.2 844.0,966.2 846.5,966.2 849.0,966.2 851.5,966.2 854.0,966.2 856.5,966.2 859.0,966.2 861.5,966.2 864.1,966.2 866.6,966.2 869.1,966.2 871.6,966.2 874.1,966.2 876.6,966.2 879.1,966.2 881.6,966.2 884.2,966.2 886.7,966.2 889.2,966.2 891.7,966.2 894.2,966.2 896.7,966.2 899.2,966.2 901.7,966.2 904.3,966.2 906.8,966.2 909.3,966.2 911.8,966.3 914.3,966.3 916.8,966.3 919.3,966.3 921.9,966.3 924.4,966.3 926.9,966.3 929.4,966.3 931.9,966.3 934.4,966.3 936.9,966.3 939.4,966.3 942.0,966.3 944.5,966.3 947.0,966.3 949.5,966.3 952.0,966.3 954.5,966.3 957.0,966.3 959.5,966.3 962.1,966.3 964.6,966.3 967.1,966.3 969.6,966.3 972.1,966.3 974.6,966.2 977.1,966.2 979.6,966.2 982.2,966.2 984.7,966.2 984.7,966.7 Z" fill="rgba(255,110,173,0.3)" stroke="none"/>
<path d="M580.6,680.7 580.6,678.2 580.6,675.7 580.7,673.1 580.7,670.6 580.8,668.1 580.8,665.6 580.9,663.0 580.9,660.5 581.0,658.0 581.0,655.5 581.1,652.9 581.1,650.4 581.1,647.9 581.2,645.4 581.2,642.9 581.3,640.4 581.3,637.9 581.3,635.4 581.4,632.8 581.4,630.3 581.5,627.8 581.5,625.3 581.6,622.8 581.6,620.2 581.7,617.7 581.8,615.2 581.8,612.6 581.9,610.1 582.0,607.6 582.1,605.0 582.1,602.5 582.2,600.0 582.3,597.5 582.4,595.0 582.5,592.5 582.6,590.1 582.7,587.6 582.7,585.1 582.8,582.6 582.9,580.0 583.0,577.2 583.1,574.5 583.1,571.8 583.2,569.7 583.3,569.1 583.4,570.4 583.5,573.1 583.6,576.2 583.7,579.0 583.8,581.5 583.8,583.8 583.9,586.3 584.1,588.8 584.2,591.3 584.3,593.8 584.4,596.3 584.5,598.9 584.6,601.4 584.6,603.9 584.7,606.4 584.7,609.0 584.8,611.5 584.8,614.0 584.9,616.5 584.9,619.1 585.0,621.6 585.0,624.1 585.1,626.6 585.1,629.1 585.2,631.6 585.2,634.2 585.3,636.7 585.3,639.2 585.4,641.7 585.4,644.2 585.5,646.7 585.6,649.3 585.6,651.8 585.7,654.3 585.8,656.8 585.8,659.3 585.9,661.8 586.0,664.4 586.0,666.9 586.1,669.4 586.2,671.9 586.3,674.4 586.3,677.0 586.4,679.5 586.5,682.0 586.6,684.5 586.6,687.0 586.7,689.6 586.8,692.1 586.9,694.6 587.0,697.1 587.1,699.7 587.1,702.2 587.2,704.7 587.3,707.2 587.4,709.7 587.6,712.3 587.7,714.8 587.8,717.3 587.9,719.8 588.1,722.3 588.2,724.8 588.3,727.4 588.5,729.9 588.6,732.4 588.8,734.9 589.0,737.4 589.2,739.9 589.3,742.4 589.5,744.9 589.7,747.4 589.9,749.9 590.1,752.4 590.3,754.9 590.5,757.4 590.7,759.9 590.9,762.4 591.1,764.9 591.3,767.4 591.5,769.9 591.7,772.4 591.9,774.9 592.1,777.4 592.2,779.9 592.4,782.4 592.6,785.0 592.7,787.5 592.9,790.0 593.1,792.5 593.2,795.0 593.4,797.5 593.5,800.0 593.7,802.6 593.8,805.1 594.0,807.6 594.1,810.1 594.3,812.6 594.5,815.2 594.6,817.7 594.8,820.2 595.0,822.7 595.1,825.2 595.3,827.8 595.5,830.3 595.7,832.8 595.9,835.3 596.1,837.8 596.3,840.3 596.6,842.8 596.8,845.3 597.1,847.9 597.3,850.4 597.6,852.9 597.9,855.4 598.2,857.9 598.5,860.4 598.8,862.9 599.1,865.3 599.5,867.8 599.9,870.3 600.2,872.8 600.6,875.3 601.1,877.8 601.5,880.2 602.0,882.7 602.4,885.2 602.9,887.6 603.5,890.1 604.0,892.5 604.6,895.0 605.1,897.4 605.8,899.9 606.4,902.3 607.0,904.7 607.7,907.1 608.4,909.6 609.2,912.0 609.9,914.4 610.7,916.8 611.5,919.2 612.3,921.6 613.2,923.9 614.1,926.3 615.0,928.7 616.0,931.0 617.0,933.4 618.0,935.7 619.1,938.0 620.2,940.4 621.3,942.6 622.6,944.7 624.0,946.7 625.6,948.5 627.4,949.9 629.4,951.1 631.5,952.2 633.6,953.4 635.7,954.8 637.7,956.3 639.7,957.7 641.9,958.8 644.1,959.7 646.5,960.4 648.8,961.0 651.3,961.5 653.7,961.9 656.2,962.3 658.6,962.7 661.1,962.9 663.5,963.0 665.9,963.1 668.4,963.1 670.8,963.2 673.2,963.4 675.7,963.6 678.2,964.0 680.7,964.3 683.2,964.7 685.7,965.0 688.2,965.3 690.7,965.5 693.2,965.7 695.7,965.8 698.2,965.9 700.7,966.0 703.3,966.1 705.8,966.1 708.3,966.1 710.8,966.2 713.3,966.2 715.8,966.2 718.3,966.2 720.8,966.2 723.3,966.2 725.8,966.2 728.4,966.3 730.9,966.3 733.4,966.3 735.9,966.3 738.4,966.3 740.9,966.3 743.4,966.3 745.9,966.3 748.5,966.3 751.0,966.3 753.5,966.3 756.0,966.3 758.5,966.3 761.0,966.3 763.5,966.3 766.1,966.3 768.6,966.3 771.1,966.3 773.6,966.3 776.1,966.3 778.6,966.3 781.1,966.2 783.6,966.2 786.2,966.2 788.7,966.2 791.2,966.2 793.7,966.2 796.2,966.2 798.7,966.2 801.2,966.2 803.7,966.2 806.3,966.2 808.8,966.2 811.3,966.2 813.8,966.2 816.3,966.2 818.8,966.2 821.3,966.2 823.9,966.2 826.4,966.2 828.9,966.2 831.4,966.2 833.9,966.2 836.4,966.2 838.9,966.2 841.4,966.2 844.0,966.2 846.5,966.2 849.0,966.2 851.5,966.2 854.0,966.2 856.5,966.2 859.0,966.2 861.5,966.2 864.1,966.2 866.6,966.2 869.1,966.2 871.6,966.2 874.1,966.2 876.6,966.2 879.1,966.2 881.6,966.2 884.2,966.2 886.7,966.2 889.2,966.2 891.7,966.2 894.2,966.2 896.7,966.2 899.2,966.2 901.7,966.2 904.3,966.2 906.8,966.2 909.3,966.2 911.8,966.3 914.3,966.3 916.8,966.3 919.3,966.3 921.9,966.3 924.4,966.3 926.9,966.3 929.4,966.3 931.9,966.3 934.4,966.3 936.9,966.3 939.4,966.3 942.0,966.3 944.5,966.3 947.0,966.3 949.5,966.3 952.0,966.3 954.5,966.3 957.0,966.3 959.5,966.3 962.1,966.3 964.6,966.3 967.1,966.3 969.6,966.3 972.1,966.3 974.6,966.2 977.1,966.2 979.6,966.2 982.2,966.2 984.7,966.2" fill="none" stroke="#ff6ead" stroke-width="3" stroke-linejoin="round" stroke-linecap="round"/>
<path d="M580.6,966.7 580.6,711.7 580.8,709.2 581.0,706.7 581.3,704.2 581.5,701.7 581.7,699.2 581.9,696.7 582.2,694.2 582.4,691.7 582.6,689.2 582.9,686.6 583.1,684.1 583.3,681.6 583.6,679.1 583.8,676.6 584.0,674.1 584.3,671.6 584.5,669.1 584.8,666.6 585.0,664.1 585.3,661.6 585.6,659.1 585.8,656.6 586.1,654.1 586.4,651.6 586.6,649.1 586.9,646.6 587.2,644.1 587.5,641.6 587.8,639.1 588.1,636.6 588.4,634.1 588.8,631.6 589.1,629.1 589.4,626.6 589.8,624.1 590.2,621.6 590.5,619.1 590.9,616.7 591.3,614.2 591.7,611.7 592.1,609.2 592.5,606.7 592.9,604.2 593.4,601.7 593.8,599.2 594.3,596.7 594.8,594.2 595.3,591.8 595.9,589.3 596.5,586.9 597.3,584.5 598.1,582.1 599.0,579.8 600.0,577.6 601.2,575.3 602.5,573.2 603.9,571.2 605.6,569.8 607.4,569.6 609.4,570.6 611.3,572.3 612.8,574.3 613.9,576.5 614.9,578.8 615.8,581.2 616.6,583.6 617.4,586.0 618.2,588.4 618.9,590.9 619.7,593.3 620.4,595.7 621.1,598.1 621.8,600.6 622.5,603.0 623.2,605.4 623.9,607.8 624.5,610.3 625.2,612.7 625.9,615.1 626.5,617.6 627.2,620.0 627.8,622.4 628.4,624.9 629.1,627.3 629.7,629.7 630.4,632.2 631.0,634.6 631.7,637.0 632.3,639.4 633.0,641.9 633.6,644.3 634.3,646.7 634.9,649.2 635.6,651.6 636.3,654.0 636.9,656.4 637.6,658.9 638.2,661.3 638.9,663.7 639.6,666.1 640.3,668.6 640.9,671.0 641.6,673.4 642.3,675.8 643.0,678.2 643.6,680.7 644.3,683.1 645.0,685.5 645.7,687.9 646.4,690.3 647.1,692.8 647.8,695.2 648.4,697.6 649.1,700.0 649.8,702.4 650.5,704.9 651.2,707.3 651.9,709.7 652.6,712.1 653.3,714.5 654.0,717.0 654.7,719.4 655.5,721.8 656.2,724.2 656.9,726.6 657.6,729.1 658.3,731.5 659.0,733.9 659.7,736.3 660.5,738.7 661.2,741.1 661.9,743.6 662.6,746.0 663.4,748.4 664.1,750.8 664.8,753.2 665.6,755.6 666.3,758.0 667.1,760.4 667.8,762.8 668.6,765.2 669.4,767.6 670.2,770.0 671.0,772.4 671.8,774.8 672.6,777.2 673.4,779.6 674.2,781.9 675.1,784.3 676.0,786.7 676.8,789.0 677.7,791.4 678.6,793.7 679.5,796.0 680.4,798.4 681.4,800.7 682.3,803.0 683.3,805.3 684.3,807.6 685.3,809.9 686.3,812.2 687.4,814.5 688.4,816.8 689.5,819.0 690.6,821.3 691.7,823.5 692.9,825.8 694.0,828.0 695.2,830.2 696.4,832.4 697.6,834.6 698.9,836.8 700.2,839.0 701.5,841.1 702.8,843.3 704.2,845.4 705.6,847.5 707.1,849.6 708.5,851.6 710.1,853.7 711.7,855.7 713.3,857.6 715.0,859.6 716.7,861.4 718.5,863.1 720.4,864.7 722.3,866.2 724.4,867.6 726.5,868.7 728.7,869.7 731.0,870.5 733.4,871.1 735.9,871.4 738.4,871.5 740.9,871.3 743.3,870.8 745.7,870.1 748.0,869.1 750.3,867.9 752.5,866.7 754.7,865.4 756.9,864.0 759.0,862.7 761.1,861.3 763.1,859.9 765.2,858.5 767.3,857.1 769.3,855.7 771.4,854.3 773.5,852.9 775.5,851.5 777.6,850.0 779.7,848.6 781.7,847.1 783.8,845.6 785.8,844.0 787.7,842.5 789.6,840.9 791.5,839.2 793.3,837.5 795.1,835.8 796.8,834.1 798.6,832.3 800.3,830.5 802.1,828.7 803.8,826.9 805.6,825.1 807.4,823.3 809.2,821.5 811.1,819.7 813.0,818.0 815.0,816.4 817.0,814.8 819.0,813.4 821.2,812.1 823.3,810.9 825.6,809.9 827.9,809.0 830.3,808.3 832.7,807.9 835.2,807.6 837.7,807.5 840.2,807.6 842.7,807.9 845.1,808.4 847.5,809.2 849.7,810.1 851.9,811.1 854.0,812.4 856.1,813.8 858.0,815.3 859.9,817.0 861.7,818.8 863.5,820.6 865.2,822.5 866.9,824.4 868.6,826.4 870.2,828.4 871.8,830.3 873.4,832.3 875.0,834.3 876.6,836.2 878.1,838.2 879.6,840.2 881.1,842.2 882.6,844.2 884.1,846.2 885.6,848.2 887.0,850.2 888.5,852.3 890.0,854.3 891.4,856.3 892.9,858.4 894.3,860.4 895.7,862.5 897.2,864.6 898.6,866.6 900.1,868.7 901.5,870.8 903.0,872.8 904.4,874.9 905.9,876.9 907.4,879.0 908.8,881.0 910.3,883.1 911.8,885.1 913.3,887.1 914.9,889.1 916.4,891.1 917.9,893.1 919.5,895.1 921.1,897.0 922.7,899.0 924.3,900.9 925.9,902.8 927.6,904.7 929.2,906.6 930.9,908.5 932.6,910.4 934.3,912.2 936.0,914.1 937.7,915.9 939.4,917.7 941.2,919.5 942.9,921.3 944.7,923.1 946.5,924.9 948.3,926.6 950.1,928.4 951.9,930.1 953.8,931.8 955.6,933.5 957.5,935.2 959.4,936.9 961.3,938.5 963.1,940.2 965.1,941.8 967.0,943.4 968.9,945.1 970.8,946.7 972.8,948.3 974.7,949.8 976.7,951.4 978.7,953.0 980.7,954.5 982.7,956.0 984.7,957.5 984.7,966.7 Z" fill="rgba(143,230,234,0.3)" stroke="none"/>
<path d="M580.6,711.7 580.8,709.2 581.0,706.7 581.3,704.2 581.5,701.7 581.7,699.2 581.9,696.7 582.2,694.2 582.4,691.7 582.6,689.2 582.9,686.6 583.1,684.1 583.3,681.6 583.6,679.1 583.8,676.6 584.0,674.1 584.3,671.6 584.5,669.1 584.8,666.6 585.0,664.1 585.3,661.6 585.6,659.1 585.8,656.6 586.1,654.1 586.4,651.6 586.6,649.1 586.9,646.6 587.2,644.1 587.5,641.6 587.8,639.1 588.1,636.6 588.4,634.1 588.8,631.6 589.1,629.1 589.4,626.6 589.8,624.1 590.2,621.6 590.5,619.1 590.9,616.7 591.3,614.2 591.7,611.7 592.1,609.2 592.5,606.7 592.9,604.2 593.4,601.7 593.8,599.2 594.3,596.7 594.8,594.2 595.3,591.8 595.9,589.3 596.5,586.9 597.3,584.5 598.1,582.1 599.0,579.8 600.0,577.6 601.2,575.3 602.5,573.2 603.9,571.2 605.6,569.8 607.4,569.6 609.4,570.6 611.3,572.3 612.8,574.3 613.9,576.5 614.9,578.8 615.8,581.2 616.6,583.6 617.4,586.0 618.2,588.4 618.9,590.9 619.7,593.3 620.4,595.7 621.1,598.1 621.8,600.6 622.5,603.0 623.2,605.4 623.9,607.8 624.5,610.3 625.2,612.7 625.9,615.1 626.5,617.6 627.2,620.0 627.8,622.4 628.4,624.9 629.1,627.3 629.7,629.7 630.4,632.2 631.0,634.6 631.7,637.0 632.3,639.4 633.0,641.9 633.6,644.3 634.3,646.7 634.9,649.2 635.6,651.6 636.3,654.0 636.9,656.4 637.6,658.9 638.2,661.3 638.9,663.7 639.6,666.1 640.3,668.6 640.9,671.0 641.6,673.4 642.3,675.8 643.0,678.2 643.6,680.7 644.3,683.1 645.0,685.5 645.7,687.9 646.4,690.3 647.1,692.8 647.8,695.2 648.4,697.6 649.1,700.0 649.8,702.4 650.5,704.9 651.2,707.3 651.9,709.7 652.6,712.1 653.3,714.5 654.0,717.0 654.7,719.4 655.5,721.8 656.2,724.2 656.9,726.6 657.6,729.1 658.3,731.5 659.0,733.9 659.7,736.3 660.5,738.7 661.2,741.1 661.9,743.6 662.6,746.0 663.4,748.4 664.1,750.8 664.8,753.2 665.6,755.6 666.3,758.0 667.1,760.4 667.8,762.8 668.6,765.2 669.4,767.6 670.2,770.0 671.0,772.4 671.8,774.8 672.6,777.2 673.4,779.6 674.2,781.9 675.1,784.3 676.0,786.7 676.8,789.0 677.7,791.4 678.6,793.7 679.5,796.0 680.4,798.4 681.4,800.7 682.3,803.0 683.3,805.3 684.3,807.6 685.3,809.9 686.3,812.2 687.4,814.5 688.4,816.8 689.5,819.0 690.6,821.3 691.7,823.5 692.9,825.8 694.0,828.0 695.2,830.2 696.4,832.4 697.6,834.6 698.9,836.8 700.2,839.0 701.5,841.1 702.8,843.3 704.2,845.4 705.6,847.5 707.1,849.6 708.5,851.6 710.1,853.7 711.7,855.7 713.3,857.6 715.0,859.6 716.7,861.4 718.5,863.1 720.4,864.7 722.3,866.2 724.4,867.6 726.5,868.7 728.7,869.7 731.0,870.5 733.4,871.1 735.9,871.4 738.4,871.5 740.9,871.3 743.3,870.8 745.7,870.1 748.0,869.1 750.3,867.9 752.5,866.7 754.7,865.4 756.9,864.0 759.0,862.7 761.1,861.3 763.1,859.9 765.2,858.5 767.3,857.1 769.3,855.7 771.4,854.3 773.5,852.9 775.5,851.5 777.6,850.0 779.7,848.6 781.7,847.1 783.8,845.6 785.8,844.0 787.7,842.5 789.6,840.9 791.5,839.2 793.3,837.5 795.1,835.8 796.8,834.1 798.6,832.3 800.3,830.5 802.1,828.7 803.8,826.9 805.6,825.1 807.4,823.3 809.2,821.5 811.1,819.7 813.0,818.0 815.0,816.4 817.0,814.8 819.0,813.4 821.2,812.1 823.3,810.9 825.6,809.9 827.9,809.0 830.3,808.3 832.7,807.9 835.2,807.6 837.7,807.5 840.2,807.6 842.7,807.9 845.1,808.4 847.5,809.2 849.7,810.1 851.9,811.1 854.0,812.4 856.1,813.8 858.0,815.3 859.9,817.0 861.7,818.8 863.5,820.6 865.2,822.5 866.9,824.4 868.6,826.4 870.2,828.4 871.8,830.3 873.4,832.3 875.0,834.3 876.6,836.2 878.1,838.2 879.6,840.2 881.1,842.2 882.6,844.2 884.1,846.2 885.6,848.2 887.0,850.2 888.5,852.3 890.0,854.3 891.4,856.3 892.9,858.4 894.3,860.4 895.7,862.5 897.2,864.6 898.6,866.6 900.1,868.7 901.5,870.8 903.0,872.8 904.4,874.9 905.9,876.9 907.4,879.0 908.8,881.0 910.3,883.1 911.8,885.1 913.3,887.1 914.9,889.1 916.4,891.1 917.9,893.1 919.5,895.1 921.1,897.0 922.7,899.0 924.3,900.9 925.9,902.8 927.6,904.7 929.2,906.6 930.9,908.5 932.6,910.4 934.3,912.2 936.0,914.1 937.7,915.9 939.4,917.7 941.2,919.5 942.9,921.3 944.7,923.1 946.5,924.9 948.3,926.6 950.1,928.4 951.9,930.1 953.8,931.8 955.6,933.5 957.5,935.2 959.4,936.9 961.3,938.5 963.1,940.2 965.1,941.8 967.0,943.4 968.9,945.1 970.8,946.7 972.8,948.3 974.7,949.8 976.7,951.4 978.7,953.0 980.7,954.5 982.7,956.0 984.7,957.5" fill="none" stroke="#8fe6ea" stroke-width="3" stroke-linejoin="round" stroke-linecap="round"/>
<path d="M580.6,966.7 580.6,911.8 581.3,909.6 581.7,907.1 582.0,904.5 582.3,901.7 582.7,899.0 583.3,896.6 584.3,894.4 585.8,892.8 587.6,892.2 589.8,892.5 592.0,893.0 594.0,893.0 595.8,892.3 597.4,890.9 598.7,889.0 599.9,886.8 601.0,884.3 602.0,881.7 602.9,879.2 603.8,876.7 604.6,874.3 605.4,871.9 606.2,869.6 607.0,867.2 607.8,864.9 608.5,862.5 609.2,860.1 609.9,857.8 610.6,855.4 611.3,853.0 611.9,850.6 612.6,848.1 613.2,845.7 613.8,843.3 614.4,840.9 614.9,838.4 615.5,836.0 616.1,833.5 616.6,831.1 617.1,828.6 617.6,826.1 618.1,823.7 618.6,821.2 619.1,818.7 619.6,816.3 620.1,813.8 620.5,811.3 621.0,808.8 621.4,806.4 621.8,803.9 622.3,801.4 622.7,798.9 623.1,796.4 623.5,793.9 623.9,791.5 624.3,789.0 624.7,786.5 625.1,784.0 625.5,781.5 625.8,779.0 626.2,776.5 626.6,774.1 626.9,771.6 627.3,769.1 627.7,766.6 628.0,764.1 628.4,761.6 628.7,759.1 629.1,756.6 629.4,754.2 629.7,751.7 630.1,749.2 630.4,746.7 630.7,744.2 631.1,741.7 631.4,739.2 631.7,736.7 632.1,734.2 632.4,731.8 632.7,729.3 633.0,726.8 633.4,724.3 633.7,721.8 634.0,719.3 634.3,716.8 634.7,714.3 635.0,711.8 635.3,709.4 635.7,706.9 636.0,704.4 636.3,701.9 636.7,699.4 637.0,696.9 637.4,694.4 637.7,691.9 638.0,689.5 638.4,687.0 638.7,684.5 639.1,682.0 639.5,679.5 639.8,677.0 640.2,674.5 640.6,672.0 640.9,669.6 641.3,667.1 641.7,664.6 642.1,662.1 642.5,659.6 642.8,657.1 643.2,654.7 643.6,652.2 644.0,649.7 644.4,647.2 644.8,644.7 645.2,642.2 645.6,639.8 646.0,637.3 646.5,634.8 646.9,632.3 647.3,629.8 647.7,627.3 648.1,624.9 648.6,622.4 649.0,619.9 649.4,617.4 649.8,614.9 650.3,612.5 650.7,610.0 651.2,607.5 651.6,605.0 652.1,602.6 652.6,600.1 653.1,597.7 653.7,595.3 654.2,592.8 654.8,590.4 655.4,588.0 656.0,585.7 656.7,583.3 657.5,580.9 658.5,578.6 659.6,576.2 661.0,573.9 662.7,571.6 664.4,570.0 666.2,569.6 667.8,570.6 669.3,572.5 670.7,574.5 671.8,576.7 672.9,578.9 673.8,581.2 674.6,583.5 675.3,585.9 676.0,588.3 676.5,590.7 677.0,593.2 677.5,595.7 677.9,598.2 678.3,600.7 678.7,603.2 679.0,605.7 679.4,608.2 679.8,610.7 680.2,613.2 680.6,615.7 681.0,618.2 681.4,620.6 681.8,623.1 682.2,625.6 682.5,628.1 682.9,630.5 683.3,633.0 683.6,635.5 684.0,638.0 684.4,640.5 684.7,642.9 685.0,645.4 685.4,647.9 685.7,650.4 686.0,652.9 686.4,655.4 686.7,657.9 687.0,660.4 687.3,662.9 687.6,665.4 687.9,667.8 688.2,670.3 688.5,672.8 688.8,675.3 689.1,677.8 689.4,680.3 689.6,682.8 689.9,685.3 690.2,687.8 690.5,690.3 690.7,692.8 691.0,695.3 691.3,697.8 691.5,700.3 691.8,702.8 692.1,705.3 692.3,707.8 692.6,710.3 692.8,712.8 693.1,715.3 693.3,717.8 693.6,720.3 693.9,722.8 694.1,725.3 694.4,727.8 694.6,730.3 694.9,732.8 695.1,735.3 695.4,737.8 695.6,740.3 695.9,742.8 696.2,745.3 696.4,747.8 696.7,750.3 696.9,752.8 697.2,755.3 697.5,757.8 697.7,760.3 698.0,762.8 698.3,765.3 698.6,767.8 698.8,770.3 699.1,772.8 699.4,775.3 699.7,777.8 700.0,780.3 700.2,782.8 700.5,785.3 700.8,787.8 701.1,790.3 701.4,792.8 701.7,795.2 702.0,797.7 702.4,800.2 702.7,802.7 703.0,805.2 703.3,807.7 703.7,810.2 704.0,812.7 704.3,815.2 704.7,817.7 705.0,820.2 705.4,822.6 705.8,825.1 706.1,827.6 706.5,830.1 706.9,832.6 707.3,835.1 707.7,837.6 708.1,840.1 708.5,842.5 708.9,845.0 709.3,847.5 709.7,850.0 710.2,852.5 710.6,854.9 711.0,857.4 711.5,859.9 712.0,862.3 712.4,864.8 712.9,867.3 713.4,869.7 713.9,872.2 714.4,874.7 715.0,877.1 715.5,879.6 716.0,882.0 716.6,884.5 717.1,886.9 717.7,889.3 718.3,891.8 718.9,894.2 719.5,896.6 720.1,899.1 720.7,901.5 721.3,903.9 722.0,906.3 722.6,908.8 723.3,911.2 723.9,913.6 724.6,916.1 725.3,918.5 725.9,920.9 726.6,923.4 727.3,925.8 728.1,928.2 728.8,930.6 729.7,933.0 730.5,935.4 731.5,937.7 732.5,940.0 733.6,942.2 734.8,944.4 736.1,946.5 737.6,948.5 739.1,950.5 740.8,952.3 742.5,954.1 744.4,955.8 746.3,957.4 748.3,958.9 750.4,960.2 752.6,961.4 754.8,962.5 757.1,963.5 759.4,964.2 761.7,964.9 764.1,965.4 766.5,965.8 769.0,966.1 771.4,966.3 773.9,966.4 776.4,966.5 779.0,966.5 781.5,966.5 784.0,966.5 786.6,966.4 789.1,966.4 791.6,966.3 794.2,966.3 796.7,966.2 799.2,966.2 801.7,966.2 804.3,966.1 806.8,966.1 809.3,966.1 811.8,966.1 814.3,966.1 816.8,966.1 819.3,966.1 821.8,966.1 824.3,966.1 826.8,966.1 829.3,966.1 831.8,966.1 834.3,966.2 836.8,966.2 839.3,966.2 841.8,966.2 844.3,966.2 846.8,966.2 849.3,966.2 851.8,966.3 854.3,966.3 856.8,966.3 859.3,966.3 861.8,966.3 864.3,966.3 866.8,966.3 869.3,966.3 871.8,966.3 874.3,966.3 876.8,966.3 879.4,966.3 881.9,966.3 884.4,966.3 886.9,966.3 889.4,966.3 891.9,966.3 894.4,966.3 896.9,966.3 899.4,966.3 901.9,966.3 904.4,966.3 906.9,966.3 909.5,966.3 912.0,966.3 914.5,966.3 917.0,966.3 919.5,966.3 922.0,966.2 924.5,966.2 927.0,966.2 929.5,966.2 932.0,966.2 934.6,966.2 937.1,966.2 939.6,966.2 942.1,966.2 944.6,966.2 947.1,966.2 949.6,966.2 952.1,966.2 954.6,966.2 957.1,966.2 959.6,966.2 962.1,966.2 964.6,966.2 967.2,966.2 969.7,966.2 972.2,966.2 974.7,966.2 977.2,966.2 979.7,966.2 982.2,966.2 984.7,966.2 984.7,966.7 Z" fill="rgba(31,128,222,0.3)" stroke="none"/>
<path d="M580.6,911.8 581.3,909.6 581.7,907.1 582.0,904.5 582.3,901.7 582.7,899.0 583.3,896.6 584.3,894.4 585.8,892.8 587.6,892.2 589.8,892.5 592.0,893.0 594.0,893.0 595.8,892.3 597.4,890.9 598.7,889.0 599.9,886.8 601.0,884.3 602.0,881.7 602.9,879.2 603.8,876.7 604.6,874.3 605.4,871.9 606.2,869.6 607.0,867.2 607.8,864.9 608.5,862.5 609.2,860.1 609.9,857.8 610.6,855.4 611.3,853.0 611.9,850.6 612.6,848.1 613.2,845.7 613.8,843.3 614.4,840.9 614.9,838.4 615.5,836.0 616.1,833.5 616.6,831.1 617.1,828.6 617.6,826.1 618.1,823.7 618.6,821.2 619.1,818.7 619.6,816.3 620.1,813.8 620.5,811.3 621.0,808.8 621.4,806.4 621.8,803.9 622.3,801.4 622.7,798.9 623.1,796.4 623.5,793.9 623.9,791.5 624.3,789.0 624.7,786.5 625.1,784.0 625.5,781.5 625.8,779.0 626.2,776.5 626.6,774.1 626.9,771.6 627.3,769.1 627.7,766.6 628.0,764.1 628.4,761.6 628.7,759.1 629.1,756.6 629.4,754.2 629.7,751.7 630.1,749.2 630.4,746.7 630.7,744.2 631.1,741.7 631.4,739.2 631.7,736.7 632.1,734.2 632.4,731.8 632.7,729.3 633.0,726.8 633.4,724.3 633.7,721.8 634.0,719.3 634.3,716.8 634.7,714.3 635.0,711.8 635.3,709.4 635.7,706.9 636.0,704.4 636.3,701.9 636.7,699.4 637.0,696.9 637.4,694.4 637.7,691.9 638.0,689.5 638.4,687.0 638.7,684.5 639.1,682.0 639.5,679.5 639.8,677.0 640.2,674.5 640.6,672.0 640.9,669.6 641.3,667.1 641.7,664.6 642.1,662.1 642.5,659.6 642.8,657.1 643.2,654.7 643.6,652.2 644.0,649.7 644.4,647.2 644.8,644.7 645.2,642.2 645.6,639.8 646.0,637.3 646.5,634.8 646.9,632.3 647.3,629.8 647.7,627.3 648.1,624.9 648.6,622.4 649.0,619.9 649.4,617.4 649.8,614.9 650.3,612.5 650.7,610.0 651.2,607.5 651.6,605.0 652.1,602.6 652.6,600.1 653.1,597.7 653.7,595.3 654.2,592.8 654.8,590.4 655.4,588.0 656.0,585.7 656.7,583.3 657.5,580.9 658.5,578.6 659.6,576.2 661.0,573.9 662.7,571.6 664.4,570.0 666.2,569.6 667.8,570.6 669.3,572.5 670.7,574.5 671.8,576.7 672.9,578.9 673.8,581.2 674.6,583.5 675.3,585.9 676.0,588.3 676.5,590.7 677.0,593.2 677.5,595.7 677.9,598.2 678.3,600.7 678.7,603.2 679.0,605.7 679.4,608.2 679.8,610.7 680.2,613.2 680.6,615.7 681.0,618.2 681.4,620.6 681.8,623.1 682.2,625.6 682.5,628.1 682.9,630.5 683.3,633.0 683.6,635.5 684.0,638.0 684.4,640.5 684.7,642.9 685.0,645.4 685.4,647.9 685.7,650.4 686.0,652.9 686.4,655.4 686.7,657.9 687.0,660.4 687.3,662.9 687.6,665.4 687.9,667.8 688.2,670.3 688.5,672.8 688.8,675.3 689.1,677.8 689.4,680.3 689.6,682.8 689.9,685.3 690.2,687.8 690.5,690.3 690.7,692.8 691.0,695.3 691.3,697.8 691.5,700.3 691.8,702.8 692.1,705.3 692.3,707.8 692.6,710.3 692.8,712.8 693.1,715.3 693.3,717.8 693.6,720.3 693.9,722.8 694.1,725.3 694.4,727.8 694.6,730.3 694.9,732.8 695.1,735.3 695.4,737.8 695.6,740.3 695.9,742.8 696.2,745.3 696.4,747.8 696.7,750.3 696.9,752.8 697.2,755.3 697.5,757.8 697.7,760.3 698.0,762.8 698.3,765.3 698.6,767.8 698.8,770.3 699.1,772.8 699.4,775.3 699.7,777.8 700.0,780.3 700.2,782.8 700.5,785.3 700.8,787.8 701.1,790.3 701.4,792.8 701.7,795.2 702.0,797.7 702.4,800.2 702.7,802.7 703.0,805.2 703.3,807.7 703.7,810.2 704.0,812.7 704.3,815.2 704.7,817.7 705.0,820.2 705.4,822.6 705.8,825.1 706.1,827.6 706.5,830.1 706.9,832.6 707.3,835.1 707.7,837.6 708.1,840.1 708.5,842.5 708.9,845.0 709.3,847.5 709.7,850.0 710.2,852.5 710.6,854.9 711.0,857.4 711.5,859.9 712.0,862.3 712.4,864.8 712.9,867.3 713.4,869.7 713.9,872.2 714.4,874.7 715.0,877.1 715.5,879.6 716.0,882.0 716.6,884.5 717.1,886.9 717.7,889.3 718.3,891.8 718.9,894.2 719.5,896.6 720.1,899.1 720.7,901.5 721.3,903.9 722.0,906.3 722.6,908.8 723.3,911.2 723.9,913.6 724.6,916.1 725.3,918.5 725.9,920.9 726.6,923.4 727.3,925.8 728.1,928.2 728.8,930.6 729.7,933.0 730.5,935.4 731.5,937.7 732.5,940.0 733.6,942.2 734.8,944.4 736.1,946.5 737.6,948.5 739.1,950.5 740.8,952.3 742.5,954.1 744.4,955.8 746.3,957.4 748.3,958.9 750.4,960.2 752.6,961.4 754.8,962.5 757.1,963.5 759.4,964.2 761.7,964.9 764.1,965.4 766.5,965.8 769.0,966.1 771.4,966.3 773.9,966.4 776.4,966.5 779.0,966.5 781.5,966.5 784.0,966.5 786.6,966.4 789.1,966.4 791.6,966.3 794.2,966.3 796.7,966.2 799.2,966.2 801.7,966.2 804.3,966.1 806.8,966.1 809.3,966.1 811.8,966.1 814.3,966.1 816.8,966.1 819.3,966.1 821.8,966.1 824.3,966.1 826.8,966.1 829.3,966.1 831.8,966.1 834.3,966.2 836.8,966.2 839.3,966.2 841.8,966.2 844.3,966.2 846.8,966.2 849.3,966.2 851.8,966.3 854.3,966.3 856.8,966.3 859.3,966.3 861.8,966.3 864.3,966.3 866.8,966.3 869.3,966.3 871.8,966.3 874.3,966.3 876.8,966.3 879.4,966.3 881.9,966.3 884.4,966.3 886.9,966.3 889.4,966.3 891.9,966.3 894.4,966.3 896.9,966.3 899.4,966.3 901.9,966.3 904.4,966.3 906.9,966.3 909.5,966.3 912.0,966.3 914.5,966.3 917.0,966.3 919.5,966.3 922.0,966.2 924.5,966.2 927.0,966.2 929.5,966.2 932.0,966.2 934.6,966.2 937.1,966.2 939.6,966.2 942.1,966.2 944.6,966.2 947.1,966.2 949.6,966.2 952.1,966.2 954.6,966.2 957.1,966.2 959.6,966.2 962.1,966.2 964.6,966.2 967.2,966.2 969.7,966.2 972.2,966.2 974.7,966.2 977.2,966.2 979.7,966.2 982.2,966.2 984.7,966.2" fill="none" stroke="#1f80de" stroke-width="3" stroke-linejoin="round" stroke-linecap="round"/>
<path d="M580.6,966.7 580.6,822.6 580.9,820.1 581.2,817.7 581.6,815.2 581.9,812.7 582.3,810.2 582.6,807.8 583.0,805.3 583.3,802.8 583.7,800.3 584.0,797.8 584.4,795.3 584.7,792.8 585.1,790.2 585.5,787.7 585.9,785.2 586.3,782.7 586.7,780.2 587.1,777.8 587.6,775.3 588.0,772.8 588.5,770.3 588.9,767.9 589.4,765.4 589.9,763.0 590.4,760.5 591.0,758.1 591.5,755.7 592.0,753.3 592.6,750.9 593.2,748.5 593.8,746.0 594.3,743.6 594.9,741.2 595.5,738.8 596.1,736.3 596.6,733.8 597.2,731.3 597.8,728.8 598.3,726.3 598.9,723.7 599.4,721.2 600.1,718.7 600.7,716.2 601.5,713.7 602.3,711.4 603.2,709.1 604.2,706.9 605.4,704.8 606.7,702.8 608.2,701.0 609.8,699.3 611.7,697.9 613.7,697.1 615.8,696.9 618.0,697.5 620.2,698.7 622.3,700.1 624.1,701.9 625.8,703.8 627.4,705.8 629.0,707.9 630.5,710.0 632.0,712.1 633.5,714.1 635.0,716.2 636.5,718.2 638.0,720.2 639.6,722.2 641.1,724.2 642.6,726.2 644.1,728.2 645.6,730.2 647.0,732.2 648.5,734.2 650.0,736.3 651.4,738.3 652.8,740.3 654.3,742.4 655.7,744.5 657.1,746.5 658.4,748.6 659.8,750.7 661.2,752.8 662.6,754.9 664.0,757.0 665.3,759.1 666.7,761.3 668.1,763.4 669.4,765.5 670.8,767.6 672.2,769.7 673.6,771.8 675.0,773.9 676.4,776.0 677.8,778.1 679.2,780.1 680.6,782.2 682.1,784.2 683.5,786.3 685.0,788.3 686.5,790.3 688.0,792.3 689.6,794.3 691.1,796.2 692.7,798.2 694.3,800.1 696.0,801.9 697.7,803.7 699.5,805.5 701.3,807.3 703.1,808.9 705.1,810.5 707.1,812.1 709.2,813.6 711.3,815.0 713.6,816.2 715.8,817.3 718.2,818.1 720.5,818.6 722.9,818.8 725.2,818.6 727.5,818.0 729.8,817.0 732.1,815.8 734.2,814.5 736.3,813.0 738.3,811.4 740.1,809.7 741.9,808.0 743.6,806.2 745.3,804.3 746.9,802.4 748.4,800.4 749.9,798.4 751.3,796.3 752.7,794.2 754.0,792.1 755.3,790.0 756.6,787.8 757.9,785.6 759.2,783.5 760.5,781.3 761.7,779.1 762.9,776.9 764.2,774.7 765.3,772.5 766.5,770.2 767.6,768.0 768.8,765.7 769.8,763.5 770.9,761.2 771.9,758.9 772.9,756.6 773.9,754.3 774.8,752.0 775.8,749.7 776.6,747.3 777.5,745.0 778.3,742.6 779.2,740.2 779.9,737.9 780.7,735.5 781.5,733.1 782.2,730.7 782.9,728.3 783.6,725.9 784.3,723.4 785.0,721.0 785.7,718.6 786.3,716.2 787.0,713.7 787.6,711.3 788.2,708.9 788.9,706.4 789.5,704.0 790.1,701.5 790.7,699.1 791.3,696.7 791.9,694.2 792.5,691.8 793.2,689.3 793.8,686.9 794.4,684.5 795.0,682.0 795.6,679.6 796.2,677.2 796.9,674.7 797.5,672.3 798.1,669.9 798.8,667.4 799.4,665.0 800.1,662.6 800.7,660.2 801.4,657.7 802.0,655.3 802.7,652.9 803.4,650.5 804.0,648.1 804.7,645.7 805.4,643.2 806.1,640.8 806.8,638.4 807.6,636.0 808.3,633.6 809.0,631.2 809.8,628.8 810.5,626.4 811.3,624.0 812.1,621.6 812.9,619.2 813.7,616.8 814.5,614.5 815.4,612.1 816.2,609.7 817.1,607.4 818.0,605.1 818.9,602.7 819.8,600.4 820.8,598.1 821.8,595.8 822.8,593.6 823.9,591.3 825.1,589.1 826.3,586.9 827.6,584.7 829.0,582.6 830.4,580.5 832.0,578.4 833.6,576.4 835.4,574.4 837.2,572.6 839.2,571.1 841.2,570.1 843.3,569.6 845.4,569.7 847.6,570.4 849.7,571.7 851.5,573.4 853.1,575.4 854.4,577.6 855.6,579.8 856.7,582.1 857.8,584.4 858.8,586.7 859.7,589.0 860.6,591.4 861.5,593.8 862.3,596.1 863.1,598.5 863.8,600.9 864.5,603.3 865.2,605.8 865.9,608.2 866.6,610.6 867.2,613.0 867.9,615.4 868.6,617.9 869.2,620.3 869.9,622.7 870.5,625.1 871.1,627.6 871.7,630.0 872.3,632.4 873.0,634.9 873.6,637.3 874.2,639.8 874.7,642.2 875.3,644.6 875.9,647.1 876.5,649.5 877.0,652.0 877.6,654.4 878.2,656.9 878.7,659.3 879.2,661.8 879.8,664.2 880.3,666.7 880.8,669.1 881.4,671.6 881.9,674.1 882.4,676.5 882.9,679.0 883.4,681.4 883.9,683.9 884.4,686.4 884.9,688.8 885.4,691.3 885.9,693.8 886.3,696.2 886.8,698.7 887.3,701.2 887.7,703.6 888.2,706.1 888.7,708.6 889.1,711.0 889.6,713.5 890.0,716.0 890.5,718.5 890.9,720.9 891.3,723.4 891.8,725.9 892.2,728.4 892.6,730.8 893.1,733.3 893.5,735.8 893.9,738.3 894.3,740.8 894.8,743.2 895.2,745.7 895.6,748.2 896.0,750.7 896.4,753.2 896.8,755.6 897.2,758.1 897.6,760.6 898.0,763.1 898.4,765.6 898.9,768.0 899.3,770.5 899.7,773.0 900.1,775.5 900.5,778.0 900.9,780.4 901.3,782.9 901.8,785.4 902.2,787.9 902.6,790.3 903.0,792.8 903.5,795.3 903.9,797.8 904.3,800.2 904.8,802.7 905.2,805.2 905.7,807.7 906.2,810.1 906.6,812.6 907.1,815.1 907.6,817.5 908.1,820.0 908.5,822.5 909.0,824.9 909.5,827.4 910.1,829.8 910.6,832.3 911.1,834.7 911.6,837.2 912.2,839.6 912.7,842.1 913.3,844.5 913.9,847.0 914.5,849.4 915.0,851.9 915.6,854.3 916.3,856.7 916.9,859.2 917.5,861.6 918.2,864.0 918.8,866.5 919.5,868.9 920.2,871.3 920.9,873.7 921.6,876.1 922.3,878.5 923.0,880.9 923.7,883.4 924.5,885.8 925.2,888.2 926.0,890.6 926.8,893.0 927.5,895.4 928.3,897.8 929.1,900.1 929.9,902.5 930.7,904.9 931.5,907.3 932.4,909.7 933.2,912.0 934.1,914.4 935.0,916.7 936.0,919.0 937.0,921.3 938.1,923.6 939.2,925.8 940.3,928.0 941.6,930.2 942.9,932.3 944.3,934.4 945.7,936.5 947.2,938.5 948.8,940.5 950.4,942.3 952.1,944.2 953.9,945.9 955.8,947.6 957.7,949.2 959.7,950.7 961.7,952.1 963.9,953.4 966.1,954.7 968.3,955.8 970.6,956.9 972.9,957.9 975.2,958.8 977.6,959.7 980.0,960.6 982.3,961.4 984.7,962.1 984.7,966.7 Z" fill="rgba(45,224,0,0.3)" stroke="none"/>
<path d="M580.6,822.6 580.9,820.1 581.2,817.7 581.6,815.2 581.9,812.7 582.3,810.2 582.6,807.8 583.0,805.3 583.3,802.8 583.7,800.3 584.0,797.8 584.4,795.3 584.7,792.8 585.1,790.2 585.5,787.7 585.9,785.2 586.3,782.7 586.7,780.2 587.1,777.8 587.6,775.3 588.0,772.8 588.5,770.3 588.9,767.9 589.4,765.4 589.9,763.0 590.4,760.5 591.0,758.1 591.5,755.7 592.0,753.3 592.6,750.9 593.2,748.5 593.8,746.0 594.3,743.6 594.9,741.2 595.5,738.8 596.1,736.3 596.6,733.8 597.2,731.3 597.8,728.8 598.3,726.3 598.9,723.7 599.4,721.2 600.1,718.7 600.7,716.2 601.5,713.7 602.3,711.4 603.2,709.1 604.2,706.9 605.4,704.8 606.7,702.8 608.2,701.0 609.8,699.3 611.7,697.9 613.7,697.1 615.8,696.9 618.0,697.5 620.2,698.7 622.3,700.1 624.1,701.9 625.8,703.8 627.4,705.8 629.0,707.9 630.5,710.0 632.0,712.1 633.5,714.1 635.0,716.2 636.5,718.2 638.0,720.2 639.6,722.2 641.1,724.2 642.6,726.2 644.1,728.2 645.6,730.2 647.0,732.2 648.5,734.2 650.0,736.3 651.4,738.3 652.8,740.3 654.3,742.4 655.7,744.5 657.1,746.5 658.4,748.6 659.8,750.7 661.2,752.8 662.6,754.9 664.0,757.0 665.3,759.1 666.7,761.3 668.1,763.4 669.4,765.5 670.8,767.6 672.2,769.7 673.6,771.8 675.0,773.9 676.4,776.0 677.8,778.1 679.2,780.1 680.6,782.2 682.1,784.2 683.5,786.3 685.0,788.3 686.5,790.3 688.0,792.3 689.6,794.3 691.1,796.2 692.7,798.2 694.3,800.1 696.0,801.9 697.7,803.7 699.5,805.5 701.3,807.3 703.1,808.9 705.1,810.5 707.1,812.1 709.2,813.6 711.3,815.0 713.6,816.2 715.8,817.3 718.2,818.1 720.5,818.6 722.9,818.8 725.2,818.6 727.5,818.0 729.8,817.0 732.1,815.8 734.2,814.5 736.3,813.0 738.3,811.4 740.1,809.7 741.9,808.0 743.6,806.2 745.3,804.3 746.9,802.4 748.4,800.4 749.9,798.4 751.3,796.3 752.7,794.2 754.0,792.1 755.3,790.0 756.6,787.8 757.9,785.6 759.2,783.5 760.5,781.3 761.7,779.1 762.9,776.9 764.2,774.7 765.3,772.5 766.5,770.2 767.6,768.0 768.8,765.7 769.8,763.5 770.9,761.2 771.9,758.9 772.9,756.6 773.9,754.3 774.8,752.0 775.8,749.7 776.6,747.3 777.5,745.0 778.3,742.6 779.2,740.2 779.9,737.9 780.7,735.5 781.5,733.1 782.2,730.7 782.9,728.3 783.6,725.9 784.3,723.4 785.0,721.0 785.7,718.6 786.3,716.2 787.0,713.7 787.6,711.3 788.2,708.9 788.9,706.4 789.5,704.0 790.1,701.5 790.7,699.1 791.3,696.7 791.9,694.2 792.5,691.8 793.2,689.3 793.8,686.9 794.4,684.5 795.0,682.0 795.6,679.6 796.2,677.2 796.9,674.7 797.5,672.3 798.1,669.9 798.8,667.4 799.4,665.0 800.1,662.6 800.7,660.2 801.4,657.7 802.0,655.3 802.7,652.9 803.4,650.5 804.0,648.1 804.7,645.7 805.4,643.2 806.1,640.8 806.8,638.4 807.6,636.0 808.3,633.6 809.0,631.2 809.8,628.8 810.5,626.4 811.3,624.0 812.1,621.6 812.9,619.2 813.7,616.8 814.5,614.5 815.4,612.1 816.2,609.7 817.1,607.4 818.0,605.1 818.9,602.7 819.8,600.4 820.8,598.1 821.8,595.8 822.8,593.6 823.9,591.3 825.1,589.1 826.3,586.9 827.6,584.7 829.0,582.6 830.4,580.5 832.0,578.4 833.6,576.4 835.4,574.4 837.2,572.6 839.2,571.1 841.2,570.1 843.3,569.6 845.4,569.7 847.6,570.4 849.7,571.7 851.5,573.4 853.1,575.4 854.4,577.6 855.6,579.8 856.7,582.1 857.8,584.4 858.8,586.7 859.7,589.0 860.6,591.4 861.5,593.8 862.3,596.1 863.1,598.5 863.8,600.9 864.5,603.3 865.2,605.8 865.9,608.2 866.6,610.6 867.2,613.0 867.9,615.4 868.6,617.9 869.2,620.3 869.9,622.7 870.5,625.1 871.1,627.6 871.7,630.0 872.3,632.4 873.0,634.9 873.6,637.3 874.2,639.8 874.7,642.2 875.3,644.6 875.9,647.1 876.5,649.5 877.0,652.0 877.6,654.4 878.2,656.9 878.7,659.3 879.2,661.8 879.8,664.2 880.3,666.7 880.8,669.1 881.4,671.6 881.9,674.1 882.4,676.5 882.9,679.0 883.4,681.4 883.9,683.9 884.4,686.4 884.9,688.8 885.4,691.3 885.9,693.8 886.3,696.2 886.8,698.7 887.3,701.2 887.7,703.6 888.2,706.1 888.7,708.6 889.1,711.0 889.6,713.5 890.0,716.0 890.5,718.5 890.9,720.9 891.3,723.4 891.8,725.9 892.2,728.4 892.6,730.8 893.1,733.3 893.5,735.8 893.9,738.3 894.3,740.8 894.8,743.2 895.2,745.7 895.6,748.2 896.0,750.7 896.4,753.2 896.8,755.6 897.2,758.1 897.6,760.6 898.0,763.1 898.4,765.6 898.9,768.0 899.3,770.5 899.7,773.0 900.1,775.5 900.5,778.0 900.9,780.4 901.3,782.9 901.8,785.4 902.2,787.9 902.6,790.3 903.0,792.8 903.5,795.3 903.9,797.8 904.3,800.2 904.8,802.7 905.2,805.2 905.7,807.7 906.2,810.1 906.6,812.6 907.1,815.1 907.6,817.5 908.1,820.0 908.5,822.5 909.0,824.9 909.5,827.4 910.1,829.8 910.6,832.3 911.1,834.7 911.6,837.2 912.2,839.6 912.7,842.1 913.3,844.5 913.9,847.0 914.5,849.4 915.0,851.9 915.6,854.3 916.3,856.7 916.9,859.2 917.5,861.6 918.2,864.0 918.8,866.5 919.5,868.9 920.2,871.3 920.9,873.7 921.6,876.1 922.3,878.5 923.0,880.9 923.7,883.4 924.5,885.8 925.2,888.2 926.0,890.6 926.8,893.0 927.5,895.4 928.3,897.8 929.1,900.1 929.9,902.5 930.7,904.9 931.5,907.3 932.4,909.7 933.2,912.0 934.1,914.4 935.0,916.7 936.0,919.0 937.0,921.3 938.1,923.6 939.2,925.8 940.3,928.0 941.6,930.2 942.9,932.3 944.3,934.4 945.7,936.5 947.2,938.5 948.8,940.5 950.4,942.3 952.1,944.2 953.9,945.9 955.8,947.6 957.7,949.2 959.7,950.7 961.7,952.1 963.9,953.4 966.1,954.7 968.3,955.8 970.6,956.9 972.9,957.9 975.2,958.8 977.6,959.7 980.0,960.6 982.3,961.4 984.7,962.1" fill="none" stroke="#2de000" stroke-width="3" stroke-linejoin="round" stroke-linecap="round"/>
<rect x="555.2" y="965.4" width="5.8" height="2.6" fill="#111"/>
<rect x="555.2" y="865.98" width="5.8" height="2.6" fill="#111"/>
<rect x="555.2" y="766.55" width="5.8" height="2.6" fill="#111"/>
<rect x="555.2" y="667.12" width="5.8" height="2.6" fill="#111"/>
<rect x="555.2" y="567.7" width="5.8" height="2.6" fill="#111"/>
<rect x="579.1" y="986.29" width="2.8" height="8.1" fill="#111"/>
<rect x="680.2" y="986.29" width="2.8" height="8.1" fill="#111"/>
<rect x="781.3" y="986.29" width="2.8" height="8.1" fill="#111"/>
<rect x="882.4" y="986.29" width="2.8" height="8.1" fill="#111"/>
<rect x="983.5" y="986.29" width="2.8" height="8.1" fill="#111"/>
<line x1="551.1" y1="549.12" x2="551.1" y2="994.59" stroke="#808080" stroke-width="1.5"/>
<line x1="118.6" y1="1030.53" x2="118.6" y2="1467.67" stroke="#e6edeb" stroke-width="2.0"/>
<line x1="98.38" y1="1447.8" x2="543.22" y2="1447.8" stroke="#e6edeb" stroke-width="2.0"/>
<line x1="169.15" y1="1030.53" x2="169.15" y2="1467.67" stroke="#e6edeb" stroke-width="1.4"/>
<line x1="98.38" y1="1398.12" x2="543.22" y2="1398.12" stroke="#e6edeb" stroke-width="1.4"/>
<line x1="219.7" y1="1030.53" x2="219.7" y2="1467.67" stroke="#e6edeb" stroke-width="2.0"/>
<line x1="98.38" y1="1348.45" x2="543.22" y2="1348.45" stroke="#e6edeb" stroke-width="2.0"/>
<line x1="270.25" y1="1030.53" x2="270.25" y2="1467.67" stroke="#e6edeb" stroke-width="1.4"/>
<line x1="98.38" y1="1298.78" x2="543.22" y2="1298.78" stroke="#e6edeb" stroke-width="1.4"/>
<line x1="320.8" y1="1030.53" x2="320.8" y2="1467.67" stroke="#e6edeb" stroke-width="2.0"/>
<line x1="98.38" y1="1249.1" x2="543.22" y2="1249.1" stroke="#e6edeb" stroke-width="2.0"/>
<line x1="371.35" y1="1030.53" x2="371.35" y2="1467.67" stroke="#e6edeb" stroke-width="1.4"/>
<line x1="98.38" y1="1199.42" x2="543.22" y2="1199.42" stroke="#e6edeb" stroke-width="1.4"/>
<line x1="421.9" y1="1030.53" x2="421.9" y2="1467.67" stroke="#e6edeb" stroke-width="2.0"/>
<line x1="98.38" y1="1149.75" x2="543.22" y2="1149.75" stroke="#e6edeb" stroke-width="2.0"/>
<line x1="472.45" y1="1030.53" x2="472.45" y2="1467.67" stroke="#e6edeb" stroke-width="1.4"/>
<line x1="98.38" y1="1100.08" x2="543.22" y2="1100.08" stroke="#e6edeb" stroke-width="1.4"/>
<line x1="523" y1="1030.53" x2="523" y2="1467.67" stroke="#e6edeb" stroke-width="2.0"/>
<line x1="98.38" y1="1050.4" x2="543.22" y2="1050.4" stroke="#e6edeb" stroke-width="2.0"/>
<path d="M118.1,1447.8 118.1,1162.9 118.2,1160.4 118.3,1157.9 118.3,1155.3 118.4,1152.8 118.5,1150.3 118.6,1147.8 118.7,1145.3 118.8,1142.7 118.9,1140.2 119.0,1137.7 119.1,1135.2 119.2,1132.6 119.4,1130.1 119.5,1127.6 119.6,1125.1 119.7,1122.5 119.8,1120.0 119.9,1117.5 120.0,1115.0 120.1,1112.5 120.2,1109.9 120.4,1107.4 120.5,1104.9 120.6,1102.4 120.7,1099.9 120.8,1097.4 120.9,1094.9 121.0,1092.4 121.1,1089.9 121.3,1087.3 121.4,1084.8 121.6,1082.3 121.7,1079.8 121.9,1077.3 122.1,1074.8 122.3,1072.2 122.5,1069.7 122.8,1067.2 123.1,1064.6 123.3,1062.1 123.6,1059.5 124.0,1057.0 124.4,1054.5 125.2,1052.2 126.3,1050.3 127.5,1050.1 128.4,1052.0 129.1,1054.7 129.7,1057.4 130.1,1060.1 130.3,1062.6 130.5,1065.0 130.7,1067.5 130.9,1070.0 131.1,1072.5 131.3,1075.0 131.5,1077.5 131.7,1080.0 132.0,1082.5 132.2,1085.0 132.4,1087.6 132.7,1090.1 132.9,1092.6 133.1,1095.1 133.3,1097.6 133.5,1100.2 133.7,1102.7 133.9,1105.2 134.1,1107.7 134.3,1110.2 134.5,1112.7 134.7,1115.2 134.9,1117.7 135.1,1120.3 135.3,1122.8 135.5,1125.3 135.7,1127.8 135.9,1130.3 136.1,1132.8 136.3,1135.3 136.5,1137.8 136.7,1140.3 136.9,1142.9 137.1,1145.4 137.4,1147.9 137.6,1150.4 137.8,1152.9 138.1,1155.4 138.3,1157.9 138.6,1160.4 138.8,1162.9 139.1,1165.5 139.4,1168.0 139.7,1170.5 139.9,1173.0 140.2,1175.5 140.5,1178.0 140.8,1180.5 141.2,1183.0 141.5,1185.5 141.8,1188.0 142.1,1190.5 142.5,1193.0 142.8,1195.5 143.2,1198.0 143.6,1200.5 143.9,1203.0 144.3,1205.5 144.7,1208.0 145.1,1210.5 145.5,1212.9 146.0,1215.4 146.4,1217.9 146.8,1220.4 147.3,1222.9 147.8,1225.3 148.2,1227.8 148.7,1230.3 149.2,1232.8 149.7,1235.2 150.2,1237.7 150.8,1240.2 151.3,1242.6 151.8,1245.1 152.4,1247.5 153.0,1250.0 153.6,1252.4 154.2,1254.9 154.8,1257.3 155.4,1259.8 156.0,1262.2 156.6,1264.6 157.3,1267.1 157.9,1269.5 158.6,1271.9 159.3,1274.4 160.0,1276.8 160.7,1279.2 161.4,1281.6 162.1,1284.1 162.8,1286.5 163.5,1288.9 164.3,1291.3 165.0,1293.7 165.8,1296.1 166.5,1298.5 167.3,1300.9 168.1,1303.3 168.9,1305.7 169.7,1308.1 170.5,1310.5 171.3,1312.9 172.1,1315.3 172.9,1317.7 173.7,1320.1 174.6,1322.5 175.4,1324.8 176.3,1327.2 177.1,1329.6 178.0,1332.0 178.9,1334.3 179.7,1336.7 180.6,1339.1 181.5,1341.4 182.4,1343.8 183.3,1346.2 184.2,1348.5 185.2,1350.8 186.2,1353.1 187.2,1355.4 188.3,1357.7 189.4,1359.9 190.6,1362.1 191.8,1364.3 193.2,1366.4 194.6,1368.5 196.0,1370.5 197.5,1372.5 199.1,1374.4 200.7,1376.3 202.4,1378.2 204.1,1380.1 205.9,1381.9 207.6,1383.7 209.5,1385.5 211.3,1387.2 213.2,1388.8 215.2,1390.5 217.1,1392.0 219.2,1393.6 221.2,1395.0 223.3,1396.4 225.4,1397.7 227.6,1398.9 229.8,1400.1 232.0,1401.2 234.3,1402.3 236.6,1403.3 238.9,1404.3 241.3,1405.2 243.6,1406.1 246.0,1406.9 248.4,1407.7 250.8,1408.6 253.1,1409.5 255.3,1410.5 257.5,1411.7 259.5,1413.1 261.5,1414.7 263.3,1416.4 265.0,1418.3 266.8,1420.1 268.6,1421.9 270.5,1423.6 272.4,1425.3 274.4,1426.8 276.5,1428.2 278.6,1429.6 280.7,1430.8 283.0,1431.9 285.3,1432.8 287.6,1433.7 290.0,1434.4 292.4,1435.0 294.9,1435.6 297.4,1436.1 299.9,1436.5 302.4,1436.9 304.9,1437.2 307.4,1437.5 309.9,1437.8 312.4,1438.0 314.9,1438.3 317.3,1438.6 319.8,1438.9 322.3,1439.2 324.8,1439.5 327.3,1440.0 329.8,1440.4 332.3,1440.9 334.8,1441.3 337.3,1441.7 339.8,1442.0 342.3,1442.1 344.7,1442.1 347.2,1442.0 349.7,1441.8 352.2,1441.7 354.6,1441.5 357.1,1441.3 359.6,1441.2 362.1,1441.0 364.6,1441.0 367.1,1440.9 369.6,1440.9 372.1,1441.0 374.6,1441.1 377.1,1441.3 379.6,1441.5 382.1,1441.7 384.6,1442.0 387.1,1442.4 389.6,1442.7 392.1,1443.1 394.5,1443.4 397.0,1443.8 399.5,1444.2 402.0,1444.6 404.5,1445.0 407.0,1445.3 409.4,1445.6 411.9,1445.9 414.4,1446.2 416.9,1446.5 419.4,1446.7 421.9,1446.8 424.4,1447.0 426.9,1447.1 429.4,1447.1 431.9,1447.2 434.4,1447.2 436.9,1447.2 439.4,1447.1 441.9,1447.1 444.4,1447.0 447.0,1447.0 449.5,1446.9 452.0,1446.8 454.5,1446.7 457.0,1446.7 459.6,1446.6 462.1,1446.5 464.6,1446.5 467.1,1446.5 469.6,1446.5 472.1,1446.5 474.7,1446.5 477.2,1446.5 479.7,1446.6 482.2,1446.7 484.7,1446.8 487.2,1446.8 489.7,1446.9 492.2,1447.0 494.7,1447.1 497.3,1447.2 499.8,1447.3 502.3,1447.4 504.8,1447.4 507.3,1447.5 509.8,1447.5 512.3,1447.5 514.9,1447.5 517.4,1447.5 519.9,1447.5 522.4,1447.4 522.4,1447.8 Z" fill="rgba(255,110,173,0.3)" stroke="none"/>
<path d="M118.1,1162.9 118.2,1160.4 118.3,1157.9 118.3,1155.3 118.4,1152.8 118.5,1150.3 118.6,1147.8 118.7,1145.3 118.8,1142.7 118.9,1140.2 119.0,1137.7 119.1,1135.2 119.2,1132.6 119.4,1130.1 119.5,1127.6 119.6,1125.1 119.7,1122.5 119.8,1120.0 119.9,1117.5 120.0,1115.0 120.1,1112.5 120.2,1109.9 120.4,1107.4 120.5,1104.9 120.6,1102.4 120.7,1099.9 120.8,1097.4 120.9,1094.9 121.0,1092.4 121.1,1089.9 121.3,1087.3 121.4,1084.8 121.6,1082.3 121.7,1079.8 121.9,1077.3 122.1,1074.8 122.3,1072.2 122.5,1069.7 122.8,1067.2 123.1,1064.6 123.3,1062.1 123.6,1059.5 124.0,1057.0 124.4,1054.5 125.2,1052.2 126.3,1050.3 127.5,1050.1 128.4,1052.0 129.1,1054.7 129.7,1057.4 130.1,1060.1 130.3,1062.6 130.5,1065.0 130.7,1067.5 130.9,1070.0 131.1,1072.5 131.3,1075.0 131.5,1077.5 131.7,1080.0 132.0,1082.5 132.2,1085.0 132.4,1087.6 132.7,1090.1 132.9,1092.6 133.1,1095.1 133.3,1097.6 133.5,1100.2 133.7,1102.7 133.9,1105.2 134.1,1107.7 134.3,1110.2 134.5,1112.7 134.7,1115.2 134.9,1117.7 135.1,1120.3 135.3,1122.8 135.5,1125.3 135.7,1127.8 135.9,1130.3 136.1,1132.8 136.3,1135.3 136.5,1137.8 136.7,1140.3 136.9,1142.9 137.1,1145.4 137.4,1147.9 137.6,1150.4 137.8,1152.9 138.1,1155.4 138.3,1157.9 138.6,1160.4 138.8,1162.9 139.1,1165.5 139.4,1168.0 139.7,1170.5 139.9,1173.0 140.2,1175.5 140.5,1178.0 140.8,1180.5 141.2,1183.0 141.5,1185.5 141.8,1188.0 142.1,1190.5 142.5,1193.0 142.8,1195.5 143.2,1198.0 143.6,1200.5 143.9,1203.0 144.3,1205.5 144.7,1208.0 145.1,1210.5 145.5,1212.9 146.0,1215.4 146.4,1217.9 146.8,1220.4 147.3,1222.9 147.8,1225.3 148.2,1227.8 148.7,1230.3 149.2,1232.8 149.7,1235.2 150.2,1237.7 150.8,1240.2 151.3,1242.6 151.8,1245.1 152.4,1247.5 153.0,1250.0 153.6,1252.4 154.2,1254.9 154.8,1257.3 155.4,1259.8 156.0,1262.2 156.6,1264.6 157.3,1267.1 157.9,1269.5 158.6,1271.9 159.3,1274.4 160.0,1276.8 160.7,1279.2 161.4,1281.6 162.1,1284.1 162.8,1286.5 163.5,1288.9 164.3,1291.3 165.0,1293.7 165.8,1296.1 166.5,1298.5 167.3,1300.9 168.1,1303.3 168.9,1305.7 169.7,1308.1 170.5,1310.5 171.3,1312.9 172.1,1315.3 172.9,1317.7 173.7,1320.1 174.6,1322.5 175.4,1324.8 176.3,1327.2 177.1,1329.6 178.0,1332.0 178.9,1334.3 179.7,1336.7 180.6,1339.1 181.5,1341.4 182.4,1343.8 183.3,1346.2 184.2,1348.5 185.2,1350.8 186.2,1353.1 187.2,1355.4 188.3,1357.7 189.4,1359.9 190.6,1362.1 191.8,1364.3 193.2,1366.4 194.6,1368.5 196.0,1370.5 197.5,1372.5 199.1,1374.4 200.7,1376.3 202.4,1378.2 204.1,1380.1 205.9,1381.9 207.6,1383.7 209.5,1385.5 211.3,1387.2 213.2,1388.8 215.2,1390.5 217.1,1392.0 219.2,1393.6 221.2,1395.0 223.3,1396.4 225.4,1397.7 227.6,1398.9 229.8,1400.1 232.0,1401.2 234.3,1402.3 236.6,1403.3 238.9,1404.3 241.3,1405.2 243.6,1406.1 246.0,1406.9 248.4,1407.7 250.8,1408.6 253.1,1409.5 255.3,1410.5 257.5,1411.7 259.5,1413.1 261.5,1414.7 263.3,1416.4 265.0,1418.3 266.8,1420.1 268.6,1421.9 270.5,1423.6 272.4,1425.3 274.4,1426.8 276.5,1428.2 278.6,1429.6 280.7,1430.8 283.0,1431.9 285.3,1432.8 287.6,1433.7 290.0,1434.4 292.4,1435.0 294.9,1435.6 297.4,1436.1 299.9,1436.5 302.4,1436.9 304.9,1437.2 307.4,1437.5 309.9,1437.8 312.4,1438.0 314.9,1438.3 317.3,1438.6 319.8,1438.9 322.3,1439.2 324.8,1439.5 327.3,1440.0 329.8,1440.4 332.3,1440.9 334.8,1441.3 337.3,1441.7 339.8,1442.0 342.3,1442.1 344.7,1442.1 347.2,1442.0 349.7,1441.8 352.2,1441.7 354.6,1441.5 357.1,1441.3 359.6,1441.2 362.1,1441.0 364.6,1441.0 367.1,1440.9 369.6,1440.9 372.1,1441.0 374.6,1441.1 377.1,1441.3 379.6,1441.5 382.1,1441.7 384.6,1442.0 387.1,1442.4 389.6,1442.7 392.1,1443.1 394.5,1443.4 397.0,1443.8 399.5,1444.2 402.0,1444.6 404.5,1445.0 407.0,1445.3 409.4,1445.6 411.9,1445.9 414.4,1446.2 416.9,1446.5 419.4,1446.7 421.9,1446.8 424.4,1447.0 426.9,1447.1 429.4,1447.1 431.9,1447.2 434.4,1447.2 436.9,1447.2 439.4,1447.1 441.9,1447.1 444.4,1447.0 447.0,1447.0 449.5,1446.9 452.0,1446.8 454.5,1446.7 457.0,1446.7 459.6,1446.6 462.1,1446.5 464.6,1446.5 467.1,1446.5 469.6,1446.5 472.1,1446.5 474.7,1446.5 477.2,1446.5 479.7,1446.6 482.2,1446.7 484.7,1446.8 487.2,1446.8 489.7,1446.9 492.2,1447.0 494.7,1447.1 497.3,1447.2 499.8,1447.3 502.3,1447.4 504.8,1447.4 507.3,1447.5 509.8,1447.5 512.3,1447.5 514.9,1447.5 517.4,1447.5 519.9,1447.5 522.4,1447.4" fill="none" stroke="#ff6ead" stroke-width="3" stroke-linejoin="round" stroke-linecap="round"/>
<path d="M118.1,1447.8 118.1,1186.8 118.2,1184.3 118.4,1181.7 118.5,1179.2 118.6,1176.7 118.7,1174.2 118.9,1171.6 119.0,1169.1 119.1,1166.6 119.2,1164.1 119.3,1161.6 119.5,1159.1 119.6,1156.6 119.7,1154.0 119.8,1151.5 120.0,1149.0 120.1,1146.5 120.2,1144.0 120.4,1141.5 120.5,1139.0 120.7,1136.4 120.8,1133.9 121.0,1131.4 121.1,1128.9 121.3,1126.4 121.5,1123.8 121.7,1121.3 121.9,1118.8 122.1,1116.3 122.3,1113.7 122.6,1111.2 122.8,1108.7 123.0,1106.2 123.3,1103.7 123.6,1101.2 123.8,1098.7 124.1,1096.2 124.4,1093.7 124.7,1091.2 125.0,1088.7 125.4,1086.2 125.7,1083.7 126.1,1081.3 126.5,1078.8 126.9,1076.3 127.3,1073.9 127.7,1071.4 128.2,1068.9 128.7,1066.4 129.3,1063.9 129.9,1061.4 130.5,1058.8 131.3,1056.2 132.1,1053.7 133.2,1051.6 134.7,1050.3 136.5,1050.1 137.9,1051.3 139.0,1053.4 139.9,1055.8 140.7,1058.2 141.6,1060.7 142.3,1063.2 143.1,1065.6 143.8,1068.1 144.5,1070.5 145.2,1072.9 145.8,1075.4 146.4,1077.8 147.0,1080.3 147.6,1082.7 148.2,1085.2 148.7,1087.6 149.3,1090.1 149.8,1092.5 150.4,1095.0 150.9,1097.4 151.4,1099.9 152.0,1102.4 152.5,1104.8 153.1,1107.3 153.6,1109.7 154.2,1112.2 154.8,1114.6 155.3,1117.1 155.9,1119.6 156.5,1122.0 157.1,1124.5 157.7,1126.9 158.3,1129.4 158.9,1131.8 159.6,1134.3 160.2,1136.7 160.9,1139.1 161.5,1141.6 162.2,1144.0 162.9,1146.4 163.6,1148.9 164.3,1151.3 165.1,1153.7 165.8,1156.1 166.6,1158.5 167.4,1160.9 168.2,1163.3 169.0,1165.6 169.9,1168.0 170.7,1170.4 171.6,1172.7 172.5,1175.1 173.4,1177.4 174.4,1179.8 175.3,1182.1 176.3,1184.4 177.3,1186.7 178.3,1189.0 179.4,1191.3 180.5,1193.5 181.6,1195.8 182.7,1198.1 183.9,1200.3 185.0,1202.5 186.2,1204.8 187.4,1207.0 188.6,1209.2 189.8,1211.4 191.0,1213.7 192.2,1215.9 193.3,1218.1 194.5,1220.4 195.7,1222.6 196.8,1224.8 197.9,1227.1 199.0,1229.4 200.1,1231.6 201.2,1233.9 202.2,1236.2 203.2,1238.5 204.1,1240.9 205.0,1243.2 205.9,1245.6 206.8,1247.9 207.7,1250.3 208.5,1252.7 209.3,1255.1 210.2,1257.4 211.0,1259.8 211.8,1262.2 212.6,1264.6 213.4,1267.0 214.3,1269.4 215.1,1271.8 215.9,1274.2 216.8,1276.5 217.7,1278.9 218.6,1281.2 219.5,1283.6 220.5,1285.9 221.4,1288.2 222.4,1290.6 223.4,1292.9 224.4,1295.2 225.5,1297.5 226.5,1299.8 227.6,1302.0 228.7,1304.3 229.8,1306.6 230.9,1308.8 232.0,1311.1 233.2,1313.4 234.3,1315.6 235.5,1317.8 236.7,1320.1 237.9,1322.3 239.1,1324.5 240.3,1326.7 241.6,1328.9 242.9,1331.0 244.3,1333.1 245.7,1335.1 247.3,1337.0 249.0,1338.9 250.8,1340.6 252.6,1342.2 254.6,1343.8 256.6,1345.3 258.7,1346.7 260.8,1348.2 263.0,1349.6 265.1,1351.0 267.2,1352.4 269.3,1353.9 271.3,1355.4 273.3,1356.9 275.3,1358.4 277.3,1359.9 279.3,1361.5 281.2,1363.0 283.2,1364.6 285.1,1366.2 287.1,1367.7 289.0,1369.3 290.9,1370.9 292.8,1372.5 294.7,1374.2 296.6,1375.8 298.4,1377.6 300.1,1379.4 301.8,1381.3 303.5,1383.3 305.0,1385.3 306.5,1387.4 308.0,1389.5 309.6,1391.5 311.2,1393.3 313.0,1394.8 314.9,1396.1 316.9,1397.4 318.9,1398.8 320.8,1400.3 322.7,1401.9 324.7,1403.3 326.8,1404.7 329.0,1405.7 331.3,1406.5 333.7,1407.2 336.2,1407.9 338.6,1408.5 341.0,1409.2 343.4,1409.9 345.8,1410.6 348.2,1411.4 350.6,1412.2 353.0,1412.9 355.4,1413.7 357.8,1414.5 360.2,1415.3 362.6,1416.1 365.0,1416.8 367.4,1417.6 369.8,1418.3 372.2,1419.0 374.6,1419.7 377.0,1420.3 379.5,1420.9 381.9,1421.5 384.4,1422.0 386.9,1422.5 389.3,1422.9 391.8,1423.3 394.3,1423.8 396.7,1424.3 399.1,1425.0 401.5,1425.9 403.8,1426.9 406.1,1427.9 408.4,1428.9 410.8,1429.8 413.2,1430.6 415.6,1431.2 418.0,1431.7 420.5,1432.1 423.0,1432.4 425.5,1432.8 428.0,1433.1 430.5,1433.4 433.0,1433.7 435.5,1434.1 438.0,1434.5 440.4,1434.9 442.9,1435.4 445.4,1435.8 447.9,1436.3 450.3,1436.8 452.8,1437.2 455.3,1437.7 457.7,1438.2 460.2,1438.7 462.7,1439.2 465.1,1439.6 467.6,1440.1 470.1,1440.5 472.5,1440.9 475.0,1441.3 477.5,1441.7 480.0,1442.1 482.5,1442.4 485.0,1442.7 487.5,1443.0 490.0,1443.3 492.5,1443.5 495.0,1443.8 497.5,1444.1 500.0,1444.3 502.5,1444.6 505.0,1444.9 507.5,1445.2 510.0,1445.5 512.5,1445.8 515.0,1446.2 517.5,1446.5 519.9,1446.9 522.4,1447.4 522.4,1447.8 Z" fill="rgba(143,230,234,0.3)" stroke="none"/>
<path d="M118.1,1186.8 118.2,1184.3 118.4,1181.7 118.5,1179.2 118.6,1176.7 118.7,1174.2 118.9,1171.6 119.0,1169.1 119.1,1166.6 119.2,1164.1 119.3,1161.6 119.5,1159.1 119.6,1156.6 119.7,1154.0 119.8,1151.5 120.0,1149.0 120.1,1146.5 120.2,1144.0 120.4,1141.5 120.5,1139.0 120.7,1136.4 120.8,1133.9 121.0,1131.4 121.1,1128.9 121.3,1126.4 121.5,1123.8 121.7,1121.3 121.9,1118.8 122.1,1116.3 122.3,1113.7 122.6,1111.2 122.8,1108.7 123.0,1106.2 123.3,1103.7 123.6,1101.2 123.8,1098.7 124.1,1096.2 124.4,1093.7 124.7,1091.2 125.0,1088.7 125.4,1086.2 125.7,1083.7 126.1,1081.3 126.5,1078.8 126.9,1076.3 127.3,1073.9 127.7,1071.4 128.2,1068.9 128.7,1066.4 129.3,1063.9 129.9,1061.4 130.5,1058.8 131.3,1056.2 132.1,1053.7 133.2,1051.6 134.7,1050.3 136.5,1050.1 137.9,1051.3 139.0,1053.4 139.9,1055.8 140.7,1058.2 141.6,1060.7 142.3,1063.2 143.1,1065.6 143.8,1068.1 144.5,1070.5 145.2,1072.9 145.8,1075.4 146.4,1077.8 147.0,1080.3 147.6,1082.7 148.2,1085.2 148.7,1087.6 149.3,1090.1 149.8,1092.5 150.4,1095.0 150.9,1097.4 151.4,1099.9 152.0,1102.4 152.5,1104.8 153.1,1107.3 153.6,1109.7 154.2,1112.2 154.8,1114.6 155.3,1117.1 155.9,1119.6 156.5,1122.0 157.1,1124.5 157.7,1126.9 158.3,1129.4 158.9,1131.8 159.6,1134.3 160.2,1136.7 160.9,1139.1 161.5,1141.6 162.2,1144.0 162.9,1146.4 163.6,1148.9 164.3,1151.3 165.1,1153.7 165.8,1156.1 166.6,1158.5 167.4,1160.9 168.2,1163.3 169.0,1165.6 169.9,1168.0 170.7,1170.4 171.6,1172.7 172.5,1175.1 173.4,1177.4 174.4,1179.8 175.3,1182.1 176.3,1184.4 177.3,1186.7 178.3,1189.0 179.4,1191.3 180.5,1193.5 181.6,1195.8 182.7,1198.1 183.9,1200.3 185.0,1202.5 186.2,1204.8 187.4,1207.0 188.6,1209.2 189.8,1211.4 191.0,1213.7 192.2,1215.9 193.3,1218.1 194.5,1220.4 195.7,1222.6 196.8,1224.8 197.9,1227.1 199.0,1229.4 200.1,1231.6 201.2,1233.9 202.2,1236.2 203.2,1238.5 204.1,1240.9 205.0,1243.2 205.9,1245.6 206.8,1247.9 207.7,1250.3 208.5,1252.7 209.3,1255.1 210.2,1257.4 211.0,1259.8 211.8,1262.2 212.6,1264.6 213.4,1267.0 214.3,1269.4 215.1,1271.8 215.9,1274.2 216.8,1276.5 217.7,1278.9 218.6,1281.2 219.5,1283.6 220.5,1285.9 221.4,1288.2 222.4,1290.6 223.4,1292.9 224.4,1295.2 225.5,1297.5 226.5,1299.8 227.6,1302.0 228.7,1304.3 229.8,1306.6 230.9,1308.8 232.0,1311.1 233.2,1313.4 234.3,1315.6 235.5,1317.8 236.7,1320.1 237.9,1322.3 239.1,1324.5 240.3,1326.7 241.6,1328.9 242.9,1331.0 244.3,1333.1 245.7,1335.1 247.3,1337.0 249.0,1338.9 250.8,1340.6 252.6,1342.2 254.6,1343.8 256.6,1345.3 258.7,1346.7 260.8,1348.2 263.0,1349.6 265.1,1351.0 267.2,1352.4 269.3,1353.9 271.3,1355.4 273.3,1356.9 275.3,1358.4 277.3,1359.9 279.3,1361.5 281.2,1363.0 283.2,1364.6 285.1,1366.2 287.1,1367.7 289.0,1369.3 290.9,1370.9 292.8,1372.5 294.7,1374.2 296.6,1375.8 298.4,1377.6 300.1,1379.4 301.8,1381.3 303.5,1383.3 305.0,1385.3 306.5,1387.4 308.0,1389.5 309.6,1391.5 311.2,1393.3 313.0,1394.8 314.9,1396.1 316.9,1397.4 318.9,1398.8 320.8,1400.3 322.7,1401.9 324.7,1403.3 326.8,1404.7 329.0,1405.7 331.3,1406.5 333.7,1407.2 336.2,1407.9 338.6,1408.5 341.0,1409.2 343.4,1409.9 345.8,1410.6 348.2,1411.4 350.6,1412.2 353.0,1412.9 355.4,1413.7 357.8,1414.5 360.2,1415.3 362.6,1416.1 365.0,1416.8 367.4,1417.6 369.8,1418.3 372.2,1419.0 374.6,1419.7 377.0,1420.3 379.5,1420.9 381.9,1421.5 384.4,1422.0 386.9,1422.5 389.3,1422.9 391.8,1423.3 394.3,1423.8 396.7,1424.3 399.1,1425.0 401.5,1425.9 403.8,1426.9 406.1,1427.9 408.4,1428.9 410.8,1429.8 413.2,1430.6 415.6,1431.2 418.0,1431.7 420.5,1432.1 423.0,1432.4 425.5,1432.8 428.0,1433.1 430.5,1433.4 433.0,1433.7 435.5,1434.1 438.0,1434.5 440.4,1434.9 442.9,1435.4 445.4,1435.8 447.9,1436.3 450.3,1436.8 452.8,1437.2 455.3,1437.7 457.7,1438.2 460.2,1438.7 462.7,1439.2 465.1,1439.6 467.6,1440.1 470.1,1440.5 472.5,1440.9 475.0,1441.3 477.5,1441.7 480.0,1442.1 482.5,1442.4 485.0,1442.7 487.5,1443.0 490.0,1443.3 492.5,1443.5 495.0,1443.8 497.5,1444.1 500.0,1444.3 502.5,1444.6 505.0,1444.9 507.5,1445.2 510.0,1445.5 512.5,1445.8 515.0,1446.2 517.5,1446.5 519.9,1446.9 522.4,1447.4" fill="none" stroke="#8fe6ea" stroke-width="3" stroke-linejoin="round" stroke-linecap="round"/>
<path d="M118.1,1447.8 118.1,1132.3 118.1,1129.7 118.2,1127.1 118.2,1124.6 118.2,1122.1 118.3,1119.6 118.3,1117.1 118.3,1114.6 118.4,1112.1 118.4,1109.6 118.4,1107.1 118.5,1104.6 118.5,1102.0 118.5,1099.5 118.6,1096.9 118.6,1094.3 118.6,1091.8 118.7,1089.2 118.7,1086.7 118.7,1084.1 118.8,1081.7 118.8,1079.2 118.8,1076.8 118.9,1074.4 118.9,1072.0 118.9,1069.5 119.0,1067.0 119.0,1064.3 119.1,1061.4 119.1,1058.5 119.1,1055.6 119.2,1053.1 119.2,1051.2 119.2,1050.1 119.3,1050.3 119.3,1051.6 119.4,1053.8 119.4,1056.5 119.5,1059.3 119.6,1062.1 119.6,1064.7 119.7,1067.3 119.7,1069.9 119.7,1072.4 119.7,1074.9 119.8,1077.4 119.8,1079.9 119.8,1082.4 119.8,1084.9 119.8,1087.4 119.9,1090.0 119.9,1092.5 119.9,1095.0 119.9,1097.5 119.9,1100.0 120.0,1102.6 120.0,1105.1 120.0,1107.6 120.0,1110.1 120.0,1112.6 120.1,1115.2 120.1,1117.7 120.1,1120.2 120.1,1122.7 120.1,1125.2 120.2,1127.8 120.2,1130.3 120.2,1132.8 120.2,1135.3 120.2,1137.9 120.2,1140.4 120.3,1142.9 120.3,1145.4 120.3,1147.9 120.3,1150.5 120.3,1153.0 120.3,1155.5 120.3,1158.0 120.3,1160.6 120.4,1163.1 120.4,1165.6 120.4,1168.1 120.4,1170.7 120.4,1173.2 120.4,1175.7 120.4,1178.2 120.4,1180.8 120.4,1183.3 120.4,1185.8 120.4,1188.4 120.4,1190.9 120.4,1193.4 120.4,1195.9 120.4,1198.5 120.4,1201.0 120.4,1203.5 120.4,1206.0 120.4,1208.6 120.4,1211.1 120.3,1213.6 120.3,1216.1 120.3,1218.7 120.3,1221.2 120.3,1223.7 120.3,1226.2 120.3,1228.8 120.3,1231.3 120.3,1233.8 120.3,1236.3 120.3,1238.9 120.3,1241.4 120.3,1243.9 120.3,1246.4 120.3,1249.0 120.3,1251.5 120.3,1254.0 120.3,1256.5 120.3,1259.1 120.3,1261.6 120.3,1264.1 120.3,1266.6 120.3,1269.2 120.3,1271.7 120.3,1274.2 120.3,1276.7 120.4,1279.3 120.4,1281.8 120.4,1284.3 120.4,1286.8 120.4,1289.4 120.5,1291.9 120.5,1294.4 120.5,1296.9 120.6,1299.4 120.6,1302.0 120.6,1304.5 120.7,1307.0 120.7,1309.5 120.7,1312.1 120.8,1314.6 120.8,1317.1 120.9,1319.6 121.0,1322.2 121.0,1324.7 121.1,1327.2 121.1,1329.7 121.2,1332.2 121.3,1334.8 121.4,1337.3 121.4,1339.8 121.5,1342.3 121.6,1344.8 121.7,1347.4 121.8,1349.9 121.9,1352.4 122.0,1354.9 122.1,1357.4 122.2,1360.0 122.3,1362.5 122.4,1365.0 122.6,1367.5 122.7,1370.0 122.8,1372.6 123.0,1375.1 123.1,1377.6 123.2,1380.1 123.4,1382.6 123.6,1385.2 123.7,1387.7 123.9,1390.2 124.0,1392.7 124.2,1395.2 124.4,1397.8 124.6,1400.3 124.8,1402.8 125.0,1405.3 125.3,1407.8 125.5,1410.3 125.9,1412.8 126.3,1415.3 126.8,1417.8 127.4,1420.2 128.0,1422.7 128.8,1425.1 129.7,1427.5 130.8,1429.9 131.9,1432.2 133.2,1434.4 134.6,1436.5 136.1,1438.4 137.8,1440.2 139.6,1441.8 141.5,1443.2 143.6,1444.3 145.8,1445.3 148.1,1446.0 150.5,1446.5 152.9,1446.9 155.4,1447.2 158.0,1447.3 160.6,1447.4 163.2,1447.4 165.8,1447.4 168.4,1447.4 171.0,1447.4 173.5,1447.3 176.1,1447.3 178.6,1447.3 181.1,1447.3 183.6,1447.3 186.1,1447.3 188.6,1447.3 191.1,1447.4 193.6,1447.4 196.1,1447.4 198.6,1447.4 201.1,1447.4 203.6,1447.4 206.1,1447.4 208.6,1447.4 211.1,1447.4 213.6,1447.4 216.1,1447.4 218.6,1447.4 221.1,1447.4 223.6,1447.4 226.1,1447.4 228.6,1447.4 231.1,1447.4 233.6,1447.4 236.1,1447.4 238.6,1447.4 241.1,1447.4 243.7,1447.4 246.2,1447.4 248.7,1447.4 251.2,1447.4 253.7,1447.4 256.2,1447.4 258.7,1447.4 261.2,1447.4 263.7,1447.4 266.3,1447.4 268.8,1447.4 271.3,1447.4 273.8,1447.4 276.3,1447.4 278.8,1447.4 281.3,1447.4 283.9,1447.4 286.4,1447.4 288.9,1447.4 291.4,1447.4 293.9,1447.4 296.4,1447.4 298.9,1447.4 301.5,1447.4 304.0,1447.4 306.5,1447.4 309.0,1447.4 311.5,1447.4 314.0,1447.4 316.5,1447.4 319.0,1447.4 321.6,1447.4 324.1,1447.4 326.6,1447.4 329.1,1447.4 331.6,1447.4 334.1,1447.4 336.6,1447.4 339.1,1447.4 341.7,1447.4 344.2,1447.4 346.7,1447.4 349.2,1447.4 351.7,1447.4 354.2,1447.4 356.7,1447.4 359.2,1447.4 361.7,1447.4 364.3,1447.4 366.8,1447.4 369.3,1447.4 371.8,1447.4 374.3,1447.4 376.8,1447.4 379.3,1447.4 381.8,1447.4 384.3,1447.4 386.8,1447.4 389.4,1447.4 391.9,1447.4 394.4,1447.4 396.9,1447.4 399.4,1447.4 401.9,1447.4 404.4,1447.4 406.9,1447.4 409.4,1447.4 411.9,1447.4 414.5,1447.4 417.0,1447.4 419.5,1447.4 422.0,1447.4 424.5,1447.4 427.0,1447.4 429.5,1447.4 432.0,1447.4 434.5,1447.4 437.0,1447.4 439.5,1447.4 442.1,1447.4 444.6,1447.4 447.1,1447.4 449.6,1447.4 452.1,1447.4 454.6,1447.4 457.1,1447.4 459.6,1447.4 462.1,1447.4 464.6,1447.4 467.2,1447.4 469.7,1447.4 472.2,1447.4 474.7,1447.4 477.2,1447.4 479.7,1447.4 482.2,1447.4 484.7,1447.4 487.2,1447.4 489.8,1447.4 492.3,1447.4 494.8,1447.4 497.3,1447.4 499.8,1447.4 502.3,1447.4 504.8,1447.4 507.3,1447.4 509.9,1447.4 512.4,1447.4 514.9,1447.4 517.4,1447.4 519.9,1447.4 522.4,1447.4 522.4,1447.8 Z" fill="rgba(31,128,222,0.3)" stroke="none"/>
<path d="M118.1,1132.3 118.1,1129.7 118.2,1127.1 118.2,1124.6 118.2,1122.1 118.3,1119.6 118.3,1117.1 118.3,1114.6 118.4,1112.1 118.4,1109.6 118.4,1107.1 118.5,1104.6 118.5,1102.0 118.5,1099.5 118.6,1096.9 118.6,1094.3 118.6,1091.8 118.7,1089.2 118.7,1086.7 118.7,1084.1 118.8,1081.7 118.8,1079.2 118.8,1076.8 118.9,1074.4 118.9,1072.0 118.9,1069.5 119.0,1067.0 119.0,1064.3 119.1,1061.4 119.1,1058.5 119.1,1055.6 119.2,1053.1 119.2,1051.2 119.2,1050.1 119.3,1050.3 119.3,1051.6 119.4,1053.8 119.4,1056.5 119.5,1059.3 119.6,1062.1 119.6,1064.7 119.7,1067.3 119.7,1069.9 119.7,1072.4 119.7,1074.9 119.8,1077.4 119.8,1079.9 119.8,1082.4 119.8,1084.9 119.8,1087.4 119.9,1090.0 119.9,1092.5 119.9,1095.0 119.9,1097.5 119.9,1100.0 120.0,1102.6 120.0,1105.1 120.0,1107.6 120.0,1110.1 120.0,1112.6 120.1,1115.2 120.1,1117.7 120.1,1120.2 120.1,1122.7 120.1,1125.2 120.2,1127.8 120.2,1130.3 120.2,1132.8 120.2,1135.3 120.2,1137.9 120.2,1140.4 120.3,1142.9 120.3,1145.4 120.3,1147.9 120.3,1150.5 120.3,1153.0 120.3,1155.5 120.3,1158.0 120.3,1160.6 120.4,1163.1 120.4,1165.6 120.4,1168.1 120.4,1170.7 120.4,1173.2 120.4,1175.7 120.4,1178.2 120.4,1180.8 120.4,1183.3 120.4,1185.8 120.4,1188.4 120.4,1190.9 120.4,1193.4 120.4,1195.9 120.4,1198.5 120.4,1201.0 120.4,1203.5 120.4,1206.0 120.4,1208.6 120.4,1211.1 120.3,1213.6 120.3,1216.1 120.3,1218.7 120.3,1221.2 120.3,1223.7 120.3,1226.2 120.3,1228.8 120.3,1231.3 120.3,1233.8 120.3,1236.3 120.3,1238.9 120.3,1241.4 120.3,1243.9 120.3,1246.4 120.3,1249.0 120.3,1251.5 120.3,1254.0 120.3,1256.5 120.3,1259.1 120.3,1261.6 120.3,1264.1 120.3,1266.6 120.3,1269.2 120.3,1271.7 120.3,1274.2 120.3,1276.7 120.4,1279.3 120.4,1281.8 120.4,1284.3 120.4,1286.8 120.4,1289.4 120.5,1291.9 120.5,1294.4 120.5,1296.9 120.6,1299.4 120.6,1302.0 120.6,1304.5 120.7,1307.0 120.7,1309.5 120.7,1312.1 120.8,1314.6 120.8,1317.1 120.9,1319.6 121.0,1322.2 121.0,1324.7 121.1,1327.2 121.1,1329.7 121.2,1332.2 121.3,1334.8 121.4,1337.3 121.4,1339.8 121.5,1342.3 121.6,1344.8 121.7,1347.4 121.8,1349.9 121.9,1352.4 122.0,1354.9 122.1,1357.4 122.2,1360.0 122.3,1362.5 122.4,1365.0 122.6,1367.5 122.7,1370.0 122.8,1372.6 123.0,1375.1 123.1,1377.6 123.2,1380.1 123.4,1382.6 123.6,1385.2 123.7,1387.7 123.9,1390.2 124.0,1392.7 124.2,1395.2 124.4,1397.8 124.6,1400.3 124.8,1402.8 125.0,1405.3 125.3,1407.8 125.5,1410.3 125.9,1412.8 126.3,1415.3 126.8,1417.8 127.4,1420.2 128.0,1422.7 128.8,1425.1 129.7,1427.5 130.8,1429.9 131.9,1432.2 133.2,1434.4 134.6,1436.5 136.1,1438.4 137.8,1440.2 139.6,1441.8 141.5,1443.2 143.6,1444.3 145.8,1445.3 148.1,1446.0 150.5,1446.5 152.9,1446.9 155.4,1447.2 158.0,1447.3 160.6,1447.4 163.2,1447.4 165.8,1447.4 168.4,1447.4 171.0,1447.4 173.5,1447.3 176.1,1447.3 178.6,1447.3 181.1,1447.3 183.6,1447.3 186.1,1447.3 188.6,1447.3 191.1,1447.4 193.6,1447.4 196.1,1447.4 198.6,1447.4 201.1,1447.4 203.6,1447.4 206.1,1447.4 208.6,1447.4 211.1,1447.4 213.6,1447.4 216.1,1447.4 218.6,1447.4 221.1,1447.4 223.6,1447.4 226.1,1447.4 228.6,1447.4 231.1,1447.4 233.6,1447.4 236.1,1447.4 238.6,1447.4 241.1,1447.4 243.7,1447.4 246.2,1447.4 248.7,1447.4 251.2,1447.4 253.7,1447.4 256.2,1447.4 258.7,1447.4 261.2,1447.4 263.7,1447.4 266.3,1447.4 268.8,1447.4 271.3,1447.4 273.8,1447.4 276.3,1447.4 278.8,1447.4 281.3,1447.4 283.9,1447.4 286.4,1447.4 288.9,1447.4 291.4,1447.4 293.9,1447.4 296.4,1447.4 298.9,1447.4 301.5,1447.4 304.0,1447.4 306.5,1447.4 309.0,1447.4 311.5,1447.4 314.0,1447.4 316.5,1447.4 319.0,1447.4 321.6,1447.4 324.1,1447.4 326.6,1447.4 329.1,1447.4 331.6,1447.4 334.1,1447.4 336.6,1447.4 339.1,1447.4 341.7,1447.4 344.2,1447.4 346.7,1447.4 349.2,1447.4 351.7,1447.4 354.2,1447.4 356.7,1447.4 359.2,1447.4 361.7,1447.4 364.3,1447.4 366.8,1447.4 369.3,1447.4 371.8,1447.4 374.3,1447.4 376.8,1447.4 379.3,1447.4 381.8,1447.4 384.3,1447.4 386.8,1447.4 389.4,1447.4 391.9,1447.4 394.4,1447.4 396.9,1447.4 399.4,1447.4 401.9,1447.4 404.4,1447.4 406.9,1447.4 409.4,1447.4 411.9,1447.4 414.5,1447.4 417.0,1447.4 419.5,1447.4 422.0,1447.4 424.5,1447.4 427.0,1447.4 429.5,1447.4 432.0,1447.4 434.5,1447.4 437.0,1447.4 439.5,1447.4 442.1,1447.4 444.6,1447.4 447.1,1447.4 449.6,1447.4 452.1,1447.4 454.6,1447.4 457.1,1447.4 459.6,1447.4 462.1,1447.4 464.6,1447.4 467.2,1447.4 469.7,1447.4 472.2,1447.4 474.7,1447.4 477.2,1447.4 479.7,1447.4 482.2,1447.4 484.7,1447.4 487.2,1447.4 489.8,1447.4 492.3,1447.4 494.8,1447.4 497.3,1447.4 499.8,1447.4 502.3,1447.4 504.8,1447.4 507.3,1447.4 509.9,1447.4 512.4,1447.4 514.9,1447.4 517.4,1447.4 519.9,1447.4 522.4,1447.4" fill="none" stroke="#1f80de" stroke-width="3" stroke-linejoin="round" stroke-linecap="round"/>
<path d="M118.1,1447.8 118.1,1430.7 119.8,1429.0 121.5,1427.2 123.2,1425.3 124.9,1423.4 126.7,1421.6 128.5,1419.7 130.4,1417.9 132.3,1416.2 134.2,1414.6 136.3,1413.1 138.4,1411.8 140.6,1410.8 142.9,1409.9 145.2,1409.2 147.6,1408.7 150.1,1408.3 152.6,1408.0 155.1,1407.9 157.6,1407.8 160.1,1407.8 162.7,1407.8 165.2,1407.8 167.7,1407.7 170.2,1407.6 172.6,1407.2 175.0,1406.7 177.3,1406.0 179.7,1405.2 182.0,1404.3 184.3,1403.3 186.7,1402.4 189.0,1401.5 191.3,1400.6 193.7,1399.7 196.0,1398.8 198.4,1397.9 200.8,1397.1 203.1,1396.2 205.5,1395.4 207.9,1394.5 210.2,1393.7 212.6,1392.8 215.0,1392.0 217.3,1391.1 219.7,1390.2 222.0,1389.3 224.3,1388.3 226.7,1387.4 229.0,1386.4 231.2,1385.3 233.5,1384.3 235.7,1383.2 238.0,1382.0 240.1,1380.8 242.3,1379.6 244.4,1378.3 246.5,1377.0 248.6,1375.6 250.6,1374.1 252.6,1372.6 254.6,1371.0 256.5,1369.4 258.3,1367.7 260.2,1365.9 261.9,1364.1 263.7,1362.2 265.3,1360.3 267.0,1358.3 268.5,1356.3 270.0,1354.3 271.5,1352.2 272.9,1350.2 274.3,1348.0 275.6,1345.9 276.9,1343.8 278.1,1341.6 279.4,1339.5 280.6,1337.3 281.8,1335.1 283.0,1332.9 284.2,1330.7 285.4,1328.5 286.7,1326.4 287.9,1324.2 289.2,1322.0 290.4,1319.8 291.7,1317.6 293.0,1315.5 294.3,1313.3 295.6,1311.1 296.8,1308.9 298.1,1306.8 299.4,1304.6 300.7,1302.4 301.9,1300.2 303.2,1298.0 304.4,1295.8 305.6,1293.6 306.9,1291.4 308.1,1289.2 309.2,1286.9 310.4,1284.7 311.5,1282.4 312.6,1280.2 313.7,1277.9 314.7,1275.6 315.7,1273.3 316.7,1271.0 317.7,1268.7 318.7,1266.4 319.6,1264.1 320.5,1261.8 321.4,1259.4 322.2,1257.1 323.1,1254.7 323.9,1252.3 324.7,1250.0 325.5,1247.6 326.3,1245.2 327.0,1242.8 327.8,1240.4 328.5,1238.0 329.2,1235.6 330.0,1233.2 330.7,1230.8 331.3,1228.3 332.0,1225.9 332.7,1223.5 333.4,1221.1 334.0,1218.6 334.7,1216.2 335.3,1213.7 336.0,1211.3 336.6,1208.9 337.2,1206.4 337.9,1204.0 338.5,1201.5 339.2,1199.1 339.8,1196.6 340.5,1194.2 341.1,1191.8 341.8,1189.3 342.4,1186.9 343.1,1184.4 343.8,1182.0 344.4,1179.6 345.1,1177.2 345.8,1174.7 346.6,1172.3 347.3,1169.9 348.0,1167.5 348.8,1165.1 349.6,1162.7 350.4,1160.3 351.2,1158.0 352.0,1155.6 352.8,1153.2 353.7,1150.9 354.6,1148.5 355.5,1146.2 356.4,1143.9 357.4,1141.6 358.4,1139.2 359.4,1137.0 360.4,1134.7 361.5,1132.4 362.5,1130.1 363.7,1127.9 364.8,1125.6 366.0,1123.4 367.2,1121.2 368.5,1119.0 369.7,1116.8 371.0,1114.7 372.4,1112.5 373.8,1110.4 375.1,1108.3 376.6,1106.2 378.0,1104.2 379.5,1102.1 381.0,1100.1 382.5,1098.1 384.1,1096.2 385.7,1094.3 387.2,1092.3 388.8,1090.4 390.4,1088.4 391.9,1086.5 393.4,1084.5 394.9,1082.5 396.3,1080.4 397.7,1078.3 399.0,1076.1 400.3,1073.9 401.5,1071.7 402.7,1069.4 404.0,1067.2 405.3,1064.9 406.7,1062.8 408.1,1060.7 409.7,1058.7 411.3,1056.8 413.2,1055.1 415.1,1053.5 417.2,1052.2 419.3,1051.2 421.5,1050.6 423.7,1050.6 425.9,1051.0 428.1,1051.8 430.2,1052.9 432.2,1054.2 434.2,1055.7 436.1,1057.3 438.0,1058.9 439.9,1060.6 441.7,1062.4 443.5,1064.2 445.3,1066.0 447.2,1067.8 449.0,1069.6 450.9,1071.4 452.8,1073.1 454.7,1074.7 456.7,1076.3 458.6,1077.9 460.5,1079.5 462.4,1081.1 464.3,1082.8 466.1,1084.5 467.8,1086.3 469.3,1088.1 470.8,1090.1 472.2,1092.1 473.5,1094.3 474.8,1096.5 475.9,1098.7 477.0,1101.0 478.0,1103.3 478.9,1105.7 479.8,1108.1 480.7,1110.5 481.6,1112.9 482.4,1115.3 483.2,1117.7 483.9,1120.1 484.7,1122.5 485.4,1124.9 486.1,1127.4 486.7,1129.8 487.4,1132.2 488.0,1134.6 488.7,1137.1 489.3,1139.5 489.8,1141.9 490.4,1144.4 491.0,1146.8 491.5,1149.3 492.1,1151.7 492.6,1154.2 493.1,1156.6 493.6,1159.1 494.1,1161.6 494.6,1164.0 495.1,1166.5 495.5,1169.0 496.0,1171.4 496.4,1173.9 496.9,1176.4 497.3,1178.9 497.7,1181.3 498.1,1183.8 498.5,1186.3 498.9,1188.8 499.3,1191.3 499.7,1193.8 500.0,1196.3 500.4,1198.8 500.8,1201.3 501.1,1203.7 501.5,1206.2 501.8,1208.7 502.2,1211.2 502.5,1213.7 502.8,1216.2 503.2,1218.7 503.5,1221.2 503.8,1223.7 504.1,1226.2 504.5,1228.7 504.8,1231.2 505.1,1233.7 505.4,1236.2 505.7,1238.7 506.1,1241.2 506.4,1243.7 506.7,1246.2 507.0,1248.7 507.4,1251.2 507.7,1253.7 508.0,1256.2 508.3,1258.7 508.7,1261.2 509.0,1263.7 509.3,1266.2 509.7,1268.7 510.0,1271.2 510.4,1273.7 510.7,1276.2 511.0,1278.7 511.4,1281.2 511.7,1283.7 512.1,1286.2 512.4,1288.7 512.8,1291.2 513.1,1293.6 513.5,1296.1 513.8,1298.6 514.2,1301.1 514.5,1303.6 514.9,1306.1 515.2,1308.6 515.6,1311.1 515.9,1313.6 516.3,1316.1 516.6,1318.6 517.0,1321.0 517.4,1323.5 517.7,1326.0 518.1,1328.5 518.4,1331.0 518.8,1333.5 519.2,1336.0 519.5,1338.5 519.9,1341.0 520.2,1343.5 520.6,1346.0 521.0,1348.5 521.3,1351.0 521.7,1353.5 522.1,1356.0 522.4,1358.4 522.4,1447.8 Z" fill="rgba(45,224,0,0.3)" stroke="none"/>
<path d="M118.1,1430.7 119.8,1429.0 121.5,1427.2 123.2,1425.3 124.9,1423.4 126.7,1421.6 128.5,1419.7 130.4,1417.9 132.3,1416.2 134.2,1414.6 136.3,1413.1 138.4,1411.8 140.6,1410.8 142.9,1409.9 145.2,1409.2 147.6,1408.7 150.1,1408.3 152.6,1408.0 155.1,1407.9 157.6,1407.8 160.1,1407.8 162.7,1407.8 165.2,1407.8 167.7,1407.7 170.2,1407.6 172.6,1407.2 175.0,1406.7 177.3,1406.0 179.7,1405.2 182.0,1404.3 184.3,1403.3 186.7,1402.4 189.0,1401.5 191.3,1400.6 193.7,1399.7 196.0,1398.8 198.4,1397.9 200.8,1397.1 203.1,1396.2 205.5,1395.4 207.9,1394.5 210.2,1393.7 212.6,1392.8 215.0,1392.0 217.3,1391.1 219.7,1390.2 222.0,1389.3 224.3,1388.3 226.7,1387.4 229.0,1386.4 231.2,1385.3 233.5,1384.3 235.7,1383.2 238.0,1382.0 240.1,1380.8 242.3,1379.6 244.4,1378.3 246.5,1377.0 248.6,1375.6 250.6,1374.1 252.6,1372.6 254.6,1371.0 256.5,1369.4 258.3,1367.7 260.2,1365.9 261.9,1364.1 263.7,1362.2 265.3,1360.3 267.0,1358.3 268.5,1356.3 270.0,1354.3 271.5,1352.2 272.9,1350.2 274.3,1348.0 275.6,1345.9 276.9,1343.8 278.1,1341.6 279.4,1339.5 280.6,1337.3 281.8,1335.1 283.0,1332.9 284.2,1330.7 285.4,1328.5 286.7,1326.4 287.9,1324.2 289.2,1322.0 290.4,1319.8 291.7,1317.6 293.0,1315.5 294.3,1313.3 295.6,1311.1 296.8,1308.9 298.1,1306.8 299.4,1304.6 300.7,1302.4 301.9,1300.2 303.2,1298.0 304.4,1295.8 305.6,1293.6 306.9,1291.4 308.1,1289.2 309.2,1286.9 310.4,1284.7 311.5,1282.4 312.6,1280.2 313.7,1277.9 314.7,1275.6 315.7,1273.3 316.7,1271.0 317.7,1268.7 318.7,1266.4 319.6,1264.1 320.5,1261.8 321.4,1259.4 322.2,1257.1 323.1,1254.7 323.9,1252.3 324.7,1250.0 325.5,1247.6 326.3,1245.2 327.0,1242.8 327.8,1240.4 328.5,1238.0 329.2,1235.6 330.0,1233.2 330.7,1230.8 331.3,1228.3 332.0,1225.9 332.7,1223.5 333.4,1221.1 334.0,1218.6 334.7,1216.2 335.3,1213.7 336.0,1211.3 336.6,1208.9 337.2,1206.4 337.9,1204.0 338.5,1201.5 339.2,1199.1 339.8,1196.6 340.5,1194.2 341.1,1191.8 341.8,1189.3 342.4,1186.9 343.1,1184.4 343.8,1182.0 344.4,1179.6 345.1,1177.2 345.8,1174.7 346.6,1172.3 347.3,1169.9 348.0,1167.5 348.8,1165.1 349.6,1162.7 350.4,1160.3 351.2,1158.0 352.0,1155.6 352.8,1153.2 353.7,1150.9 354.6,1148.5 355.5,1146.2 356.4,1143.9 357.4,1141.6 358.4,1139.2 359.4,1137.0 360.4,1134.7 361.5,1132.4 362.5,1130.1 363.7,1127.9 364.8,1125.6 366.0,1123.4 367.2,1121.2 368.5,1119.0 369.7,1116.8 371.0,1114.7 372.4,1112.5 373.8,1110.4 375.1,1108.3 376.6,1106.2 378.0,1104.2 379.5,1102.1 381.0,1100.1 382.5,1098.1 384.1,1096.2 385.7,1094.3 387.2,1092.3 388.8,1090.4 390.4,1088.4 391.9,1086.5 393.4,1084.5 394.9,1082.5 396.3,1080.4 397.7,1078.3 399.0,1076.1 400.3,1073.9 401.5,1071.7 402.7,1069.4 404.0,1067.2 405.3,1064.9 406.7,1062.8 408.1,1060.7 409.7,1058.7 411.3,1056.8 413.2,1055.1 415.1,1053.5 417.2,1052.2 419.3,1051.2 421.5,1050.6 423.7,1050.6 425.9,1051.0 428.1,1051.8 430.2,1052.9 432.2,1054.2 434.2,1055.7 436.1,1057.3 438.0,1058.9 439.9,1060.6 441.7,1062.4 443.5,1064.2 445.3,1066.0 447.2,1067.8 449.0,1069.6 450.9,1071.4 452.8,1073.1 454.7,1074.7 456.7,1076.3 458.6,1077.9 460.5,1079.5 462.4,1081.1 464.3,1082.8 466.1,1084.5 467.8,1086.3 469.3,1088.1 470.8,1090.1 472.2,1092.1 473.5,1094.3 474.8,1096.5 475.9,1098.7 477.0,1101.0 478.0,1103.3 478.9,1105.7 479.8,1108.1 480.7,1110.5 481.6,1112.9 482.4,1115.3 483.2,1117.7 483.9,1120.1 484.7,1122.5 485.4,1124.9 486.1,1127.4 486.7,1129.8 487.4,1132.2 488.0,1134.6 488.7,1137.1 489.3,1139.5 489.8,1141.9 490.4,1144.4 491.0,1146.8 491.5,1149.3 492.1,1151.7 492.6,1154.2 493.1,1156.6 493.6,1159.1 494.1,1161.6 494.6,1164.0 495.1,1166.5 495.5,1169.0 496.0,1171.4 496.4,1173.9 496.9,1176.4 497.3,1178.9 497.7,1181.3 498.1,1183.8 498.5,1186.3 498.9,1188.8 499.3,1191.3 499.7,1193.8 500.0,1196.3 500.4,1198.8 500.8,1201.3 501.1,1203.7 501.5,1206.2 501.8,1208.7 502.2,1211.2 502.5,1213.7 502.8,1216.2 503.2,1218.7 503.5,1221.2 503.8,1223.7 504.1,1226.2 504.5,1228.7 504.8,1231.2 505.1,1233.7 505.4,1236.2 505.7,1238.7 506.1,1241.2 506.4,1243.7 506.7,1246.2 507.0,1248.7 507.4,1251.2 507.7,1253.7 508.0,1256.2 508.3,1258.7 508.7,1261.2 509.0,1263.7 509.3,1266.2 509.7,1268.7 510.0,1271.2 510.4,1273.7 510.7,1276.2 511.0,1278.7 511.4,1281.2 511.7,1283.7 512.1,1286.2 512.4,1288.7 512.8,1291.2 513.1,1293.6 513.5,1296.1 513.8,1298.6 514.2,1301.1 514.5,1303.6 514.9,1306.1 515.2,1308.6 515.6,1311.1 515.9,1313.6 516.3,1316.1 516.6,1318.6 517.0,1321.0 517.4,1323.5 517.7,1326.0 518.1,1328.5 518.4,1331.0 518.8,1333.5 519.2,1336.0 519.5,1338.5 519.9,1341.0 520.2,1343.5 520.6,1346.0 521.0,1348.5 521.3,1351.0 521.7,1353.5 522.1,1356.0 522.4,1358.4" fill="none" stroke="#2de000" stroke-width="3" stroke-linejoin="round" stroke-linecap="round"/>
<rect x="96.1" y="1446.5" width="2.6" height="2.6" fill="#111"/>
<text transform="translate(89,1452.7) scale(1,1.02)" font-size="21.8" text-anchor="end" fill="#1c2626">0.00</text>
<rect x="96.1" y="1347.15" width="2.6" height="2.6" fill="#111"/>
<text transform="translate(89,1353.35) scale(1,1.02)" font-size="21.8" text-anchor="end" fill="#1c2626">0.25</text>
<rect x="96.1" y="1247.8" width="2.6" height="2.6" fill="#111"/>
<text transform="translate(89,1254) scale(1,1.02)" font-size="21.8" text-anchor="end" fill="#1c2626">0.50</text>
<rect x="96.1" y="1148.45" width="2.6" height="2.6" fill="#111"/>
<text transform="translate(89,1154.65) scale(1,1.02)" font-size="21.8" text-anchor="end" fill="#1c2626">0.75</text>
<rect x="96.1" y="1049.1" width="2.6" height="2.6" fill="#111"/>
<text transform="translate(89,1055.3) scale(1,1.02)" font-size="21.8" text-anchor="end" fill="#1c2626">1.00</text>
<rect x="117.2" y="1467.37" width="2.8" height="8.1" fill="#111"/>
<rect x="218.3" y="1467.37" width="2.8" height="8.1" fill="#111"/>
<rect x="319.4" y="1467.37" width="2.8" height="8.1" fill="#111"/>
<rect x="420.5" y="1467.37" width="2.8" height="8.1" fill="#111"/>
<rect x="521.6" y="1467.37" width="2.8" height="8.1" fill="#111"/>
<line x1="551.1" y1="1030.53" x2="551.1" y2="1475.67" stroke="#808080" stroke-width="1.5"/>
<line x1="579" y1="1030.53" x2="579" y2="1467.67" stroke="#e6edeb" stroke-width="2.0"/>
<line x1="558.78" y1="1447.8" x2="1003.62" y2="1447.8" stroke="#e6edeb" stroke-width="2.0"/>
<line x1="629.55" y1="1030.53" x2="629.55" y2="1467.67" stroke="#e6edeb" stroke-width="1.4"/>
<line x1="558.78" y1="1398.12" x2="1003.62" y2="1398.12" stroke="#e6edeb" stroke-width="1.4"/>
<line x1="680.1" y1="1030.53" x2="680.1" y2="1467.67" stroke="#e6edeb" stroke-width="2.0"/>
<line x1="558.78" y1="1348.45" x2="1003.62" y2="1348.45" stroke="#e6edeb" stroke-width="2.0"/>
<line x1="730.65" y1="1030.53" x2="730.65" y2="1467.67" stroke="#e6edeb" stroke-width="1.4"/>
<line x1="558.78" y1="1298.78" x2="1003.62" y2="1298.78" stroke="#e6edeb" stroke-width="1.4"/>
<line x1="781.2" y1="1030.53" x2="781.2" y2="1467.67" stroke="#e6edeb" stroke-width="2.0"/>
<line x1="558.78" y1="1249.1" x2="1003.62" y2="1249.1" stroke="#e6edeb" stroke-width="2.0"/>
<line x1="831.75" y1="1030.53" x2="831.75" y2="1467.67" stroke="#e6edeb" stroke-width="1.4"/>
<line x1="558.78" y1="1199.42" x2="1003.62" y2="1199.42" stroke="#e6edeb" stroke-width="1.4"/>
<line x1="882.3" y1="1030.53" x2="882.3" y2="1467.67" stroke="#e6edeb" stroke-width="2.0"/>
<line x1="558.78" y1="1149.75" x2="1003.62" y2="1149.75" stroke="#e6edeb" stroke-width="2.0"/>
<line x1="932.85" y1="1030.53" x2="932.85" y2="1467.67" stroke="#e6edeb" stroke-width="1.4"/>
<line x1="558.78" y1="1100.08" x2="1003.62" y2="1100.08" stroke="#e6edeb" stroke-width="1.4"/>
<line x1="983.4" y1="1030.53" x2="983.4" y2="1467.67" stroke="#e6edeb" stroke-width="2.0"/>
<line x1="558.78" y1="1050.4" x2="1003.62" y2="1050.4" stroke="#e6edeb" stroke-width="2.0"/>
<path d="M579.1,1447.8 579.1,1143.1 579.2,1140.6 579.2,1138.1 579.3,1135.6 579.4,1133.1 579.4,1130.6 579.5,1128.0 579.5,1125.5 579.6,1123.0 579.7,1120.4 579.7,1117.9 579.8,1115.4 579.8,1112.9 579.9,1110.3 580.0,1107.8 580.0,1105.3 580.1,1102.7 580.2,1100.2 580.3,1097.7 580.4,1095.2 580.4,1092.7 580.5,1090.2 580.6,1087.7 580.7,1085.2 580.8,1082.7 580.9,1080.3 581.1,1077.8 581.2,1075.3 581.3,1072.8 581.4,1070.2 581.5,1067.7 581.6,1065.1 581.7,1062.5 581.8,1059.8 581.9,1057.1 582.0,1054.4 582.1,1051.9 582.2,1050.1 582.3,1050.2 582.5,1052.1 582.6,1054.7 582.7,1057.2 582.8,1059.7 582.9,1062.3 582.9,1064.8 583.0,1067.3 583.1,1069.9 583.2,1072.4 583.2,1074.9 583.3,1077.4 583.4,1080.0 583.5,1082.5 583.5,1085.0 583.6,1087.5 583.7,1090.1 583.8,1092.6 583.9,1095.1 583.9,1097.6 584.0,1100.2 584.1,1102.7 584.2,1105.2 584.2,1107.7 584.3,1110.2 584.4,1112.7 584.5,1115.3 584.6,1117.8 584.6,1120.3 584.7,1122.8 584.8,1125.3 584.9,1127.8 585.0,1130.4 585.1,1132.9 585.2,1135.4 585.3,1137.9 585.3,1140.4 585.4,1142.9 585.5,1145.4 585.6,1148.0 585.7,1150.5 585.8,1153.0 585.9,1155.5 586.0,1158.0 586.1,1160.5 586.3,1163.0 586.4,1165.6 586.5,1168.1 586.6,1170.6 586.7,1173.1 586.8,1175.6 587.0,1178.1 587.1,1180.6 587.2,1183.1 587.3,1185.7 587.5,1188.2 587.6,1190.7 587.7,1193.2 587.9,1195.7 588.0,1198.2 588.2,1200.7 588.3,1203.3 588.5,1205.8 588.6,1208.3 588.8,1210.8 588.9,1213.3 589.1,1215.8 589.3,1218.3 589.4,1220.8 589.6,1223.4 589.8,1225.9 589.9,1228.4 590.1,1230.9 590.3,1233.4 590.5,1235.9 590.7,1238.4 590.9,1240.9 591.1,1243.4 591.3,1246.0 591.5,1248.5 591.7,1251.0 591.9,1253.5 592.1,1256.0 592.3,1258.5 592.5,1261.0 592.7,1263.5 592.9,1266.0 593.2,1268.5 593.4,1271.1 593.6,1273.6 593.9,1276.1 594.1,1278.6 594.3,1281.1 594.6,1283.6 594.8,1286.1 595.1,1288.6 595.3,1291.1 595.6,1293.6 595.9,1296.1 596.2,1298.6 596.4,1301.1 596.7,1303.6 597.0,1306.1 597.3,1308.6 597.6,1311.1 597.9,1313.6 598.3,1316.1 598.6,1318.6 598.9,1321.1 599.3,1323.6 599.6,1326.1 600.0,1328.6 600.4,1331.1 600.7,1333.5 601.1,1336.0 601.5,1338.5 601.9,1341.0 602.3,1343.5 602.7,1346.0 603.2,1348.4 603.6,1350.9 604.1,1353.4 604.5,1355.9 605.0,1358.3 605.5,1360.8 606.0,1363.3 606.5,1365.7 607.0,1368.2 607.5,1370.6 608.0,1373.1 608.6,1375.5 609.1,1378.0 609.7,1380.4 610.3,1382.9 611.0,1385.3 611.7,1387.7 612.4,1390.2 613.1,1392.6 613.9,1395.0 614.8,1397.4 615.6,1399.8 616.6,1402.1 617.7,1404.4 618.8,1406.6 620.1,1408.8 621.5,1410.8 623.0,1412.6 624.7,1414.4 626.6,1415.9 628.7,1417.3 630.8,1418.7 632.9,1420.0 634.9,1421.6 636.8,1423.3 638.4,1425.2 640.0,1427.3 641.5,1429.3 643.1,1431.2 644.9,1432.7 646.9,1433.7 649.2,1434.3 651.7,1434.8 654.1,1435.4 656.3,1436.4 658.4,1437.7 660.6,1438.9 662.9,1439.8 665.2,1440.6 667.6,1441.3 669.9,1441.9 672.3,1442.5 674.7,1443.1 677.1,1443.6 679.6,1444.0 682.0,1444.4 684.5,1444.8 686.9,1445.1 689.4,1445.4 691.9,1445.7 694.4,1445.9 696.9,1446.1 699.4,1446.3 701.9,1446.5 704.4,1446.6 706.9,1446.8 709.4,1446.9 711.9,1447.0 714.4,1447.1 716.9,1447.1 719.4,1447.2 722.0,1447.3 724.5,1447.3 727.0,1447.4 729.5,1447.4 732.0,1447.4 734.5,1447.4 737.0,1447.5 739.5,1447.5 742.0,1447.5 744.5,1447.5 747.0,1447.5 749.6,1447.5 752.1,1447.5 754.6,1447.5 757.1,1447.5 759.6,1447.5 762.1,1447.5 764.6,1447.5 767.1,1447.4 769.6,1447.4 772.1,1447.4 774.6,1447.4 777.1,1447.4 779.6,1447.4 782.2,1447.4 784.7,1447.4 787.2,1447.4 789.7,1447.4 792.2,1447.4 794.7,1447.4 797.2,1447.4 799.7,1447.4 802.2,1447.4 804.7,1447.4 807.2,1447.4 809.7,1447.4 812.3,1447.4 814.8,1447.4 817.3,1447.4 819.8,1447.3 822.3,1447.3 824.8,1447.3 827.3,1447.3 829.8,1447.3 832.3,1447.3 834.8,1447.3 837.3,1447.3 839.8,1447.3 842.4,1447.3 844.9,1447.3 847.4,1447.4 849.9,1447.4 852.4,1447.4 854.9,1447.4 857.4,1447.4 859.9,1447.4 862.4,1447.4 864.9,1447.4 867.4,1447.4 870.0,1447.4 872.5,1447.4 875.0,1447.4 877.5,1447.4 880.0,1447.4 882.5,1447.4 885.0,1447.4 887.5,1447.4 890.0,1447.4 892.5,1447.4 895.0,1447.4 897.6,1447.4 900.1,1447.4 902.6,1447.4 905.1,1447.4 907.6,1447.4 910.1,1447.4 912.6,1447.4 915.1,1447.4 917.6,1447.4 920.1,1447.4 922.6,1447.4 925.2,1447.4 927.7,1447.4 930.2,1447.4 932.7,1447.4 935.2,1447.4 937.7,1447.4 940.2,1447.4 942.7,1447.4 945.2,1447.4 947.7,1447.4 950.2,1447.4 952.7,1447.4 955.3,1447.4 957.8,1447.4 960.3,1447.4 962.8,1447.4 965.3,1447.4 967.8,1447.4 970.3,1447.4 972.8,1447.4 975.3,1447.4 977.8,1447.4 980.3,1447.4 982.8,1447.4 982.8,1447.8 Z" fill="rgba(255,110,173,0.3)" stroke="none"/>
<path d="M579.1,1143.1 579.2,1140.6 579.2,1138.1 579.3,1135.6 579.4,1133.1 579.4,1130.6 579.5,1128.0 579.5,1125.5 579.6,1123.0 579.7,1120.4 579.7,1117.9 579.8,1115.4 579.8,1112.9 579.9,1110.3 580.0,1107.8 580.0,1105.3 580.1,1102.7 580.2,1100.2 580.3,1097.7 580.4,1095.2 580.4,1092.7 580.5,1090.2 580.6,1087.7 580.7,1085.2 580.8,1082.7 580.9,1080.3 581.1,1077.8 581.2,1075.3 581.3,1072.8 581.4,1070.2 581.5,1067.7 581.6,1065.1 581.7,1062.5 581.8,1059.8 581.9,1057.1 582.0,1054.4 582.1,1051.9 582.2,1050.1 582.3,1050.2 582.5,1052.1 582.6,1054.7 582.7,1057.2 582.8,1059.7 582.9,1062.3 582.9,1064.8 583.0,1067.3 583.1,1069.9 583.2,1072.4 583.2,1074.9 583.3,1077.4 583.4,1080.0 583.5,1082.5 583.5,1085.0 583.6,1087.5 583.7,1090.1 583.8,1092.6 583.9,1095.1 583.9,1097.6 584.0,1100.2 584.1,1102.7 584.2,1105.2 584.2,1107.7 584.3,1110.2 584.4,1112.7 584.5,1115.3 584.6,1117.8 584.6,1120.3 584.7,1122.8 584.8,1125.3 584.9,1127.8 585.0,1130.4 585.1,1132.9 585.2,1135.4 585.3,1137.9 585.3,1140.4 585.4,1142.9 585.5,1145.4 585.6,1148.0 585.7,1150.5 585.8,1153.0 585.9,1155.5 586.0,1158.0 586.1,1160.5 586.3,1163.0 586.4,1165.6 586.5,1168.1 586.6,1170.6 586.7,1173.1 586.8,1175.6 587.0,1178.1 587.1,1180.6 587.2,1183.1 587.3,1185.7 587.5,1188.2 587.6,1190.7 587.7,1193.2 587.9,1195.7 588.0,1198.2 588.2,1200.7 588.3,1203.3 588.5,1205.8 588.6,1208.3 588.8,1210.8 588.9,1213.3 589.1,1215.8 589.3,1218.3 589.4,1220.8 589.6,1223.4 589.8,1225.9 589.9,1228.4 590.1,1230.9 590.3,1233.4 590.5,1235.9 590.7,1238.4 590.9,1240.9 591.1,1243.4 591.3,1246.0 591.5,1248.5 591.7,1251.0 591.9,1253.5 592.1,1256.0 592.3,1258.5 592.5,1261.0 592.7,1263.5 592.9,1266.0 593.2,1268.5 593.4,1271.1 593.6,1273.6 593.9,1276.1 594.1,1278.6 594.3,1281.1 594.6,1283.6 594.8,1286.1 595.1,1288.6 595.3,1291.1 595.6,1293.6 595.9,1296.1 596.2,1298.6 596.4,1301.1 596.7,1303.6 597.0,1306.1 597.3,1308.6 597.6,1311.1 597.9,1313.6 598.3,1316.1 598.6,1318.6 598.9,1321.1 599.3,1323.6 599.6,1326.1 600.0,1328.6 600.4,1331.1 600.7,1333.5 601.1,1336.0 601.5,1338.5 601.9,1341.0 602.3,1343.5 602.7,1346.0 603.2,1348.4 603.6,1350.9 604.1,1353.4 604.5,1355.9 605.0,1358.3 605.5,1360.8 606.0,1363.3 606.5,1365.7 607.0,1368.2 607.5,1370.6 608.0,1373.1 608.6,1375.5 609.1,1378.0 609.7,1380.4 610.3,1382.9 611.0,1385.3 611.7,1387.7 612.4,1390.2 613.1,1392.6 613.9,1395.0 614.8,1397.4 615.6,1399.8 616.6,1402.1 617.7,1404.4 618.8,1406.6 620.1,1408.8 621.5,1410.8 623.0,1412.6 624.7,1414.4 626.6,1415.9 628.7,1417.3 630.8,1418.7 632.9,1420.0 634.9,1421.6 636.8,1423.3 638.4,1425.2 640.0,1427.3 641.5,1429.3 643.1,1431.2 644.9,1432.7 646.9,1433.7 649.2,1434.3 651.7,1434.8 654.1,1435.4 656.3,1436.4 658.4,1437.7 660.6,1438.9 662.9,1439.8 665.2,1440.6 667.6,1441.3 669.9,1441.9 672.3,1442.5 674.7,1443.1 677.1,1443.6 679.6,1444.0 682.0,1444.4 684.5,1444.8 686.9,1445.1 689.4,1445.4 691.9,1445.7 694.4,1445.9 696.9,1446.1 699.4,1446.3 701.9,1446.5 704.4,1446.6 706.9,1446.8 709.4,1446.9 711.9,1447.0 714.4,1447.1 716.9,1447.1 719.4,1447.2 722.0,1447.3 724.5,1447.3 727.0,1447.4 729.5,1447.4 732.0,1447.4 734.5,1447.4 737.0,1447.5 739.5,1447.5 742.0,1447.5 744.5,1447.5 747.0,1447.5 749.6,1447.5 752.1,1447.5 754.6,1447.5 757.1,1447.5 759.6,1447.5 762.1,1447.5 764.6,1447.5 767.1,1447.4 769.6,1447.4 772.1,1447.4 774.6,1447.4 777.1,1447.4 779.6,1447.4 782.2,1447.4 784.7,1447.4 787.2,1447.4 789.7,1447.4 792.2,1447.4 794.7,1447.4 797.2,1447.4 799.7,1447.4 802.2,1447.4 804.7,1447.4 807.2,1447.4 809.7,1447.4 812.3,1447.4 814.8,1447.4 817.3,1447.4 819.8,1447.3 822.3,1447.3 824.8,1447.3 827.3,1447.3 829.8,1447.3 832.3,1447.3 834.8,1447.3 837.3,1447.3 839.8,1447.3 842.4,1447.3 844.9,1447.3 847.4,1447.4 849.9,1447.4 852.4,1447.4 854.9,1447.4 857.4,1447.4 859.9,1447.4 862.4,1447.4 864.9,1447.4 867.4,1447.4 870.0,1447.4 872.5,1447.4 875.0,1447.4 877.5,1447.4 880.0,1447.4 882.5,1447.4 885.0,1447.4 887.5,1447.4 890.0,1447.4 892.5,1447.4 895.0,1447.4 897.6,1447.4 900.1,1447.4 902.6,1447.4 905.1,1447.4 907.6,1447.4 910.1,1447.4 912.6,1447.4 915.1,1447.4 917.6,1447.4 920.1,1447.4 922.6,1447.4 925.2,1447.4 927.7,1447.4 930.2,1447.4 932.7,1447.4 935.2,1447.4 937.7,1447.4 940.2,1447.4 942.7,1447.4 945.2,1447.4 947.7,1447.4 950.2,1447.4 952.7,1447.4 955.3,1447.4 957.8,1447.4 960.3,1447.4 962.8,1447.4 965.3,1447.4 967.8,1447.4 970.3,1447.4 972.8,1447.4 975.3,1447.4 977.8,1447.4 980.3,1447.4 982.8,1447.4" fill="none" stroke="#ff6ead" stroke-width="3" stroke-linejoin="round" stroke-linecap="round"/>
<path d="M579.1,1447.8 579.1,1222.3 579.3,1219.7 579.6,1217.2 579.8,1214.7 580.1,1212.2 580.3,1209.7 580.5,1207.2 580.8,1204.7 581.0,1202.2 581.3,1199.6 581.5,1197.1 581.8,1194.6 582.0,1192.1 582.3,1189.6 582.5,1187.1 582.8,1184.6 583.0,1182.1 583.3,1179.6 583.5,1177.0 583.8,1174.5 584.0,1172.0 584.3,1169.5 584.6,1167.0 584.8,1164.5 585.1,1162.0 585.4,1159.5 585.6,1157.0 585.9,1154.5 586.2,1152.0 586.5,1149.5 586.7,1146.9 587.0,1144.4 587.3,1141.9 587.6,1139.4 587.9,1136.9 588.2,1134.4 588.5,1131.9 588.8,1129.4 589.1,1126.9 589.4,1124.4 589.7,1121.9 590.0,1119.4 590.3,1116.9 590.6,1114.3 591.0,1111.8 591.3,1109.3 591.6,1106.8 592.0,1104.3 592.4,1101.8 592.8,1099.4 593.1,1096.9 593.6,1094.4 594.0,1091.9 594.4,1089.4 594.9,1087.0 595.4,1084.5 595.9,1082.1 596.4,1079.6 596.9,1077.1 597.5,1074.7 598.1,1072.2 598.7,1069.8 599.4,1067.3 600.1,1064.9 600.9,1062.5 601.9,1060.0 603.0,1057.6 604.4,1055.3 605.9,1053.3 607.6,1051.8 609.6,1050.7 611.7,1050.1 613.8,1050.1 615.9,1050.6 617.8,1051.7 619.7,1053.3 621.4,1055.2 623.0,1057.3 624.6,1059.4 626.0,1061.5 627.5,1063.7 628.8,1065.9 630.1,1068.1 631.3,1070.3 632.5,1072.6 633.7,1074.8 634.8,1077.1 635.8,1079.4 636.9,1081.7 637.9,1084.0 638.8,1086.3 639.8,1088.6 640.8,1090.9 641.7,1093.2 642.6,1095.6 643.6,1097.9 644.5,1100.2 645.4,1102.6 646.4,1104.9 647.3,1107.2 648.3,1109.6 649.3,1111.9 650.2,1114.2 651.2,1116.5 652.1,1118.9 653.1,1121.2 654.1,1123.5 655.0,1125.9 656.0,1128.2 656.9,1130.5 657.9,1132.9 658.8,1135.2 659.8,1137.6 660.7,1139.9 661.6,1142.3 662.6,1144.6 663.5,1147.0 664.4,1149.4 665.3,1151.7 666.1,1154.1 667.0,1156.5 667.9,1158.8 668.8,1161.2 669.7,1163.6 670.6,1165.9 671.5,1168.3 672.4,1170.6 673.3,1173.0 674.2,1175.3 675.1,1177.7 676.1,1180.0 677.0,1182.4 678.0,1184.7 679.0,1187.0 680.0,1189.3 681.1,1191.6 682.1,1193.8 683.2,1196.1 684.3,1198.4 685.5,1200.6 686.6,1202.8 687.8,1205.0 689.1,1207.2 690.3,1209.4 691.6,1211.5 692.9,1213.7 694.3,1215.8 695.7,1217.9 697.1,1220.0 698.6,1222.0 700.1,1224.0 701.6,1226.0 703.2,1228.0 704.8,1229.9 706.4,1231.9 708.1,1233.8 709.9,1235.6 711.6,1237.5 713.3,1239.4 714.9,1241.3 716.5,1243.2 717.9,1245.2 719.4,1247.3 720.8,1249.3 722.3,1251.3 723.9,1253.2 725.6,1255.0 727.4,1256.8 729.4,1258.4 731.4,1259.9 733.6,1261.3 735.8,1262.6 738.0,1263.7 740.4,1264.7 742.7,1265.5 745.1,1266.2 747.5,1266.7 749.9,1267.1 752.3,1267.4 754.8,1267.5 757.3,1267.6 759.8,1267.5 762.3,1267.4 764.8,1267.2 767.4,1266.9 770.0,1266.6 772.6,1266.4 775.1,1266.2 777.6,1266.2 780.1,1266.3 782.4,1266.7 784.7,1267.3 787.0,1268.2 789.1,1269.2 791.2,1270.5 793.3,1272.0 795.3,1273.5 797.3,1275.1 799.4,1276.7 801.4,1278.3 803.5,1279.8 805.7,1281.2 807.9,1282.4 810.2,1283.5 812.6,1284.5 815.0,1285.4 817.4,1286.2 819.8,1287.0 822.2,1287.8 824.6,1288.6 826.9,1289.6 829.2,1290.6 831.4,1291.7 833.5,1293.0 835.6,1294.3 837.6,1295.7 839.6,1297.2 841.5,1298.7 843.4,1300.3 845.3,1302.0 847.1,1303.7 848.9,1305.5 850.6,1307.3 852.3,1309.1 854.0,1311.0 855.7,1312.9 857.3,1314.9 859.0,1316.8 860.6,1318.7 862.2,1320.7 863.8,1322.7 865.4,1324.7 866.9,1326.6 868.5,1328.6 870.1,1330.6 871.6,1332.6 873.1,1334.6 874.7,1336.6 876.2,1338.6 877.8,1340.6 879.3,1342.6 880.8,1344.6 882.4,1346.6 883.9,1348.6 885.4,1350.6 887.0,1352.6 888.6,1354.6 890.1,1356.5 891.7,1358.5 893.3,1360.4 894.9,1362.4 896.5,1364.3 898.1,1366.2 899.8,1368.1 901.4,1370.0 903.1,1371.9 904.8,1373.7 906.5,1375.6 908.2,1377.4 910.0,1379.2 911.8,1380.9 913.6,1382.7 915.4,1384.4 917.3,1386.1 919.2,1387.8 921.1,1389.5 923.0,1391.1 924.9,1392.8 926.8,1394.5 928.7,1396.1 930.6,1397.8 932.4,1399.6 934.2,1401.4 935.9,1403.2 937.6,1405.1 939.3,1406.9 941.0,1408.8 942.7,1410.7 944.4,1412.5 946.1,1414.3 947.9,1416.1 949.7,1417.8 951.5,1419.5 953.4,1421.2 955.4,1422.8 957.3,1424.4 959.3,1425.9 961.4,1427.4 963.4,1428.8 965.5,1430.2 967.7,1431.6 969.8,1433.0 971.9,1434.3 974.1,1435.6 976.3,1436.9 978.5,1438.1 980.7,1439.3 982.8,1440.5 982.8,1447.8 Z" fill="rgba(143,230,234,0.3)" stroke="none"/>
<path d="M579.1,1222.3 579.3,1219.7 579.6,1217.2 579.8,1214.7 580.1,1212.2 580.3,1209.7 580.5,1207.2 580.8,1204.7 581.0,1202.2 581.3,1199.6 581.5,1197.1 581.8,1194.6 582.0,1192.1 582.3,1189.6 582.5,1187.1 582.8,1184.6 583.0,1182.1 583.3,1179.6 583.5,1177.0 583.8,1174.5 584.0,1172.0 584.3,1169.5 584.6,1167.0 584.8,1164.5 585.1,1162.0 585.4,1159.5 585.6,1157.0 585.9,1154.5 586.2,1152.0 586.5,1149.5 586.7,1146.9 587.0,1144.4 587.3,1141.9 587.6,1139.4 587.9,1136.9 588.2,1134.4 588.5,1131.9 588.8,1129.4 589.1,1126.9 589.4,1124.4 589.7,1121.9 590.0,1119.4 590.3,1116.9 590.6,1114.3 591.0,1111.8 591.3,1109.3 591.6,1106.8 592.0,1104.3 592.4,1101.8 592.8,1099.4 593.1,1096.9 593.6,1094.4 594.0,1091.9 594.4,1089.4 594.9,1087.0 595.4,1084.5 595.9,1082.1 596.4,1079.6 596.9,1077.1 597.5,1074.7 598.1,1072.2 598.7,1069.8 599.4,1067.3 600.1,1064.9 600.9,1062.5 601.9,1060.0 603.0,1057.6 604.4,1055.3 605.9,1053.3 607.6,1051.8 609.6,1050.7 611.7,1050.1 613.8,1050.1 615.9,1050.6 617.8,1051.7 619.7,1053.3 621.4,1055.2 623.0,1057.3 624.6,1059.4 626.0,1061.5 627.5,1063.7 628.8,1065.9 630.1,1068.1 631.3,1070.3 632.5,1072.6 633.7,1074.8 634.8,1077.1 635.8,1079.4 636.9,1081.7 637.9,1084.0 638.8,1086.3 639.8,1088.6 640.8,1090.9 641.7,1093.2 642.6,1095.6 643.6,1097.9 644.5,1100.2 645.4,1102.6 646.4,1104.9 647.3,1107.2 648.3,1109.6 649.3,1111.9 650.2,1114.2 651.2,1116.5 652.1,1118.9 653.1,1121.2 654.1,1123.5 655.0,1125.9 656.0,1128.2 656.9,1130.5 657.9,1132.9 658.8,1135.2 659.8,1137.6 660.7,1139.9 661.6,1142.3 662.6,1144.6 663.5,1147.0 664.4,1149.4 665.3,1151.7 666.1,1154.1 667.0,1156.5 667.9,1158.8 668.8,1161.2 669.7,1163.6 670.6,1165.9 671.5,1168.3 672.4,1170.6 673.3,1173.0 674.2,1175.3 675.1,1177.7 676.1,1180.0 677.0,1182.4 678.0,1184.7 679.0,1187.0 680.0,1189.3 681.1,1191.6 682.1,1193.8 683.2,1196.1 684.3,1198.4 685.5,1200.6 686.6,1202.8 687.8,1205.0 689.1,1207.2 690.3,1209.4 691.6,1211.5 692.9,1213.7 694.3,1215.8 695.7,1217.9 697.1,1220.0 698.6,1222.0 700.1,1224.0 701.6,1226.0 703.2,1228.0 704.8,1229.9 706.4,1231.9 708.1,1233.8 709.9,1235.6 711.6,1237.5 713.3,1239.4 714.9,1241.3 716.5,1243.2 717.9,1245.2 719.4,1247.3 720.8,1249.3 722.3,1251.3 723.9,1253.2 725.6,1255.0 727.4,1256.8 729.4,1258.4 731.4,1259.9 733.6,1261.3 735.8,1262.6 738.0,1263.7 740.4,1264.7 742.7,1265.5 745.1,1266.2 747.5,1266.7 749.9,1267.1 752.3,1267.4 754.8,1267.5 757.3,1267.6 759.8,1267.5 762.3,1267.4 764.8,1267.2 767.4,1266.9 770.0,1266.6 772.6,1266.4 775.1,1266.2 777.6,1266.2 780.1,1266.3 782.4,1266.7 784.7,1267.3 787.0,1268.2 789.1,1269.2 791.2,1270.5 793.3,1272.0 795.3,1273.5 797.3,1275.1 799.4,1276.7 801.4,1278.3 803.5,1279.8 805.7,1281.2 807.9,1282.4 810.2,1283.5 812.6,1284.5 815.0,1285.4 817.4,1286.2 819.8,1287.0 822.2,1287.8 824.6,1288.6 826.9,1289.6 829.2,1290.6 831.4,1291.7 833.5,1293.0 835.6,1294.3 837.6,1295.7 839.6,1297.2 841.5,1298.7 843.4,1300.3 845.3,1302.0 847.1,1303.7 848.9,1305.5 850.6,1307.3 852.3,1309.1 854.0,1311.0 855.7,1312.9 857.3,1314.9 859.0,1316.8 860.6,1318.7 862.2,1320.7 863.8,1322.7 865.4,1324.7 866.9,1326.6 868.5,1328.6 870.1,1330.6 871.6,1332.6 873.1,1334.6 874.7,1336.6 876.2,1338.6 877.8,1340.6 879.3,1342.6 880.8,1344.6 882.4,1346.6 883.9,1348.6 885.4,1350.6 887.0,1352.6 888.6,1354.6 890.1,1356.5 891.7,1358.5 893.3,1360.4 894.9,1362.4 896.5,1364.3 898.1,1366.2 899.8,1368.1 901.4,1370.0 903.1,1371.9 904.8,1373.7 906.5,1375.6 908.2,1377.4 910.0,1379.2 911.8,1380.9 913.6,1382.7 915.4,1384.4 917.3,1386.1 919.2,1387.8 921.1,1389.5 923.0,1391.1 924.9,1392.8 926.8,1394.5 928.7,1396.1 930.6,1397.8 932.4,1399.6 934.2,1401.4 935.9,1403.2 937.6,1405.1 939.3,1406.9 941.0,1408.8 942.7,1410.7 944.4,1412.5 946.1,1414.3 947.9,1416.1 949.7,1417.8 951.5,1419.5 953.4,1421.2 955.4,1422.8 957.3,1424.4 959.3,1425.9 961.4,1427.4 963.4,1428.8 965.5,1430.2 967.7,1431.6 969.8,1433.0 971.9,1434.3 974.1,1435.6 976.3,1436.9 978.5,1438.1 980.7,1439.3 982.8,1440.5" fill="none" stroke="#8fe6ea" stroke-width="3" stroke-linejoin="round" stroke-linecap="round"/>
<path d="M579.1,1447.8 579.1,1383.7 579.5,1381.2 579.8,1378.7 580.1,1376.2 580.4,1373.7 580.7,1371.2 581.0,1368.7 581.3,1366.2 581.6,1363.7 582.0,1361.3 582.4,1358.8 582.8,1356.3 583.3,1353.8 583.9,1351.3 584.5,1348.8 585.3,1346.4 586.3,1344.1 587.6,1342.2 589.5,1340.8 591.6,1339.5 593.6,1338.2 595.4,1336.6 597.0,1334.7 598.3,1332.6 599.5,1330.4 600.6,1328.1 601.6,1325.8 602.6,1323.4 603.4,1321.0 604.2,1318.7 605.0,1316.3 605.7,1313.8 606.4,1311.4 607.1,1309.0 607.8,1306.6 608.4,1304.2 609.1,1301.7 609.8,1299.3 610.5,1296.9 611.2,1294.5 612.0,1292.1 612.8,1289.7 613.6,1287.3 614.4,1284.9 615.2,1282.5 616.0,1280.1 616.8,1277.7 617.6,1275.4 618.4,1273.0 619.2,1270.6 619.9,1268.2 620.7,1265.8 621.4,1263.4 622.2,1261.0 622.9,1258.5 623.6,1256.1 624.3,1253.7 624.9,1251.3 625.6,1248.9 626.2,1246.4 626.9,1244.0 627.5,1241.6 628.0,1239.1 628.6,1236.7 629.2,1234.2 629.7,1231.8 630.2,1229.3 630.7,1226.9 631.2,1224.4 631.6,1221.9 632.1,1219.4 632.5,1217.0 632.9,1214.5 633.3,1212.0 633.7,1209.5 634.0,1207.0 634.4,1204.5 634.7,1202.0 635.0,1199.5 635.3,1197.0 635.6,1194.5 635.8,1192.0 636.1,1189.5 636.4,1187.0 636.6,1184.5 636.9,1182.0 637.1,1179.5 637.4,1177.0 637.6,1174.4 637.9,1171.9 638.1,1169.4 638.4,1166.9 638.6,1164.4 638.9,1161.9 639.1,1159.4 639.4,1156.9 639.7,1154.4 639.9,1151.9 640.2,1149.4 640.5,1146.9 640.8,1144.4 641.2,1141.9 641.5,1139.4 641.8,1136.9 642.1,1134.4 642.5,1131.9 642.8,1129.4 643.2,1126.9 643.5,1124.4 643.9,1122.0 644.3,1119.5 644.6,1117.0 645.0,1114.5 645.4,1112.0 645.8,1109.5 646.2,1107.0 646.6,1104.5 647.0,1102.1 647.4,1099.6 647.8,1097.1 648.3,1094.6 648.7,1092.1 649.1,1089.6 649.5,1087.1 650.0,1084.6 650.5,1082.2 651.0,1079.7 651.6,1077.3 652.2,1074.9 652.9,1072.5 653.7,1070.2 654.6,1067.8 655.6,1065.5 656.6,1063.2 657.8,1060.9 659.0,1058.5 660.4,1056.3 661.8,1054.1 663.3,1052.2 664.8,1050.7 666.4,1050.1 668.0,1050.9 669.5,1052.7 670.9,1055.0 672.1,1057.4 673.2,1059.6 674.1,1061.9 674.9,1064.3 675.7,1066.7 676.4,1069.0 677.0,1071.5 677.5,1073.9 678.1,1076.4 678.5,1078.8 678.9,1081.3 679.3,1083.8 679.7,1086.3 680.0,1088.8 680.4,1091.3 680.7,1093.8 681.0,1096.3 681.3,1098.8 681.7,1101.3 682.0,1103.8 682.3,1106.3 682.6,1108.8 682.9,1111.3 683.2,1113.8 683.5,1116.3 683.9,1118.8 684.2,1121.3 684.5,1123.8 684.8,1126.3 685.1,1128.8 685.5,1131.3 685.8,1133.8 686.1,1136.3 686.4,1138.8 686.8,1141.3 687.1,1143.8 687.4,1146.3 687.8,1148.8 688.1,1151.2 688.4,1153.7 688.7,1156.2 689.1,1158.7 689.4,1161.2 689.7,1163.7 690.1,1166.2 690.4,1168.7 690.7,1171.2 691.0,1173.7 691.4,1176.2 691.7,1178.7 692.0,1181.2 692.3,1183.7 692.6,1186.2 693.0,1188.7 693.3,1191.2 693.6,1193.7 693.9,1196.2 694.2,1198.7 694.5,1201.2 694.8,1203.7 695.2,1206.2 695.5,1208.7 695.8,1211.2 696.1,1213.7 696.4,1216.2 696.7,1218.7 697.0,1221.2 697.3,1223.7 697.6,1226.2 697.9,1228.7 698.3,1231.2 698.6,1233.7 698.9,1236.2 699.2,1238.7 699.5,1241.2 699.8,1243.7 700.2,1246.2 700.5,1248.7 700.8,1251.2 701.1,1253.7 701.5,1256.2 701.8,1258.7 702.1,1261.2 702.5,1263.7 702.8,1266.2 703.1,1268.6 703.5,1271.1 703.8,1273.6 704.2,1276.1 704.5,1278.6 704.9,1281.1 705.2,1283.6 705.6,1286.1 706.0,1288.6 706.3,1291.1 706.7,1293.6 707.1,1296.1 707.5,1298.5 707.9,1301.0 708.3,1303.5 708.6,1306.0 709.0,1308.5 709.4,1311.0 709.9,1313.5 710.3,1315.9 710.7,1318.4 711.1,1320.9 711.6,1323.4 712.0,1325.9 712.4,1328.3 712.9,1330.8 713.3,1333.3 713.8,1335.8 714.3,1338.2 714.8,1340.7 715.3,1343.2 715.8,1345.6 716.3,1348.1 716.8,1350.6 717.3,1353.0 717.8,1355.5 718.4,1358.0 719.0,1360.4 719.5,1362.9 720.1,1365.3 720.7,1367.8 721.3,1370.2 721.9,1372.7 722.5,1375.1 723.2,1377.6 723.8,1380.0 724.5,1382.4 725.2,1384.8 725.9,1387.2 726.7,1389.6 727.4,1392.0 728.3,1394.4 729.1,1396.8 730.0,1399.1 730.9,1401.5 731.8,1403.8 732.8,1406.1 733.8,1408.4 734.8,1410.7 735.9,1412.9 737.1,1415.1 738.3,1417.3 739.5,1419.5 740.8,1421.7 742.1,1423.8 743.5,1425.9 745.0,1428.0 746.5,1430.0 748.2,1431.9 749.9,1433.7 751.7,1435.3 753.7,1436.8 755.8,1438.2 757.9,1439.3 760.2,1440.4 762.6,1441.3 764.9,1442.1 767.3,1442.8 769.8,1443.4 772.2,1444.0 774.6,1444.4 777.1,1444.9 779.6,1445.2 782.1,1445.5 784.6,1445.8 787.1,1446.0 789.6,1446.2 792.1,1446.4 794.6,1446.6 797.1,1446.7 799.6,1446.9 802.1,1447.0 804.6,1447.1 807.1,1447.2 809.6,1447.2 812.1,1447.3 814.6,1447.4 817.2,1447.4 819.7,1447.4 822.2,1447.5 824.7,1447.5 827.2,1447.5 829.7,1447.5 832.2,1447.5 834.7,1447.5 837.2,1447.5 839.7,1447.5 842.3,1447.5 844.8,1447.5 847.3,1447.4 849.8,1447.4 852.3,1447.4 854.8,1447.4 857.3,1447.4 859.8,1447.4 862.3,1447.4 864.8,1447.4 867.4,1447.3 869.9,1447.3 872.4,1447.3 874.9,1447.3 877.4,1447.3 879.9,1447.3 882.4,1447.3 884.9,1447.3 887.4,1447.3 890.0,1447.3 892.5,1447.3 895.0,1447.3 897.5,1447.3 900.0,1447.3 902.5,1447.3 905.0,1447.3 907.5,1447.3 910.0,1447.4 912.6,1447.4 915.1,1447.4 917.6,1447.4 920.1,1447.4 922.6,1447.4 925.1,1447.4 927.6,1447.4 930.1,1447.4 932.6,1447.4 935.1,1447.4 937.7,1447.4 940.2,1447.4 942.7,1447.4 945.2,1447.4 947.7,1447.4 950.2,1447.4 952.7,1447.4 955.2,1447.4 957.7,1447.4 960.2,1447.4 962.8,1447.4 965.3,1447.4 967.8,1447.4 970.3,1447.4 972.8,1447.4 975.3,1447.4 977.8,1447.4 980.3,1447.4 982.8,1447.4 982.8,1447.8 Z" fill="rgba(31,128,222,0.3)" stroke="none"/>
<path d="M579.1,1383.7 579.5,1381.2 579.8,1378.7 580.1,1376.2 580.4,1373.7 580.7,1371.2 581.0,1368.7 581.3,1366.2 581.6,1363.7 582.0,1361.3 582.4,1358.8 582.8,1356.3 583.3,1353.8 583.9,1351.3 584.5,1348.8 585.3,1346.4 586.3,1344.1 587.6,1342.2 589.5,1340.8 591.6,1339.5 593.6,1338.2 595.4,1336.6 597.0,1334.7 598.3,1332.6 599.5,1330.4 600.6,1328.1 601.6,1325.8 602.6,1323.4 603.4,1321.0 604.2,1318.7 605.0,1316.3 605.7,1313.8 606.4,1311.4 607.1,1309.0 607.8,1306.6 608.4,1304.2 609.1,1301.7 609.8,1299.3 610.5,1296.9 611.2,1294.5 612.0,1292.1 612.8,1289.7 613.6,1287.3 614.4,1284.9 615.2,1282.5 616.0,1280.1 616.8,1277.7 617.6,1275.4 618.4,1273.0 619.2,1270.6 619.9,1268.2 620.7,1265.8 621.4,1263.4 622.2,1261.0 622.9,1258.5 623.6,1256.1 624.3,1253.7 624.9,1251.3 625.6,1248.9 626.2,1246.4 626.9,1244.0 627.5,1241.6 628.0,1239.1 628.6,1236.7 629.2,1234.2 629.7,1231.8 630.2,1229.3 630.7,1226.9 631.2,1224.4 631.6,1221.9 632.1,1219.4 632.5,1217.0 632.9,1214.5 633.3,1212.0 633.7,1209.5 634.0,1207.0 634.4,1204.5 634.7,1202.0 635.0,1199.5 635.3,1197.0 635.6,1194.5 635.8,1192.0 636.1,1189.5 636.4,1187.0 636.6,1184.5 636.9,1182.0 637.1,1179.5 637.4,1177.0 637.6,1174.4 637.9,1171.9 638.1,1169.4 638.4,1166.9 638.6,1164.4 638.9,1161.9 639.1,1159.4 639.4,1156.9 639.7,1154.4 639.9,1151.9 640.2,1149.4 640.5,1146.9 640.8,1144.4 641.2,1141.9 641.5,1139.4 641.8,1136.9 642.1,1134.4 642.5,1131.9 642.8,1129.4 643.2,1126.9 643.5,1124.4 643.9,1122.0 644.3,1119.5 644.6,1117.0 645.0,1114.5 645.4,1112.0 645.8,1109.5 646.2,1107.0 646.6,1104.5 647.0,1102.1 647.4,1099.6 647.8,1097.1 648.3,1094.6 648.7,1092.1 649.1,1089.6 649.5,1087.1 650.0,1084.6 650.5,1082.2 651.0,1079.7 651.6,1077.3 652.2,1074.9 652.9,1072.5 653.7,1070.2 654.6,1067.8 655.6,1065.5 656.6,1063.2 657.8,1060.9 659.0,1058.5 660.4,1056.3 661.8,1054.1 663.3,1052.2 664.8,1050.7 666.4,1050.1 668.0,1050.9 669.5,1052.7 670.9,1055.0 672.1,1057.4 673.2,1059.6 674.1,1061.9 674.9,1064.3 675.7,1066.7 676.4,1069.0 677.0,1071.5 677.5,1073.9 678.1,1076.4 678.5,1078.8 678.9,1081.3 679.3,1083.8 679.7,1086.3 680.0,1088.8 680.4,1091.3 680.7,1093.8 681.0,1096.3 681.3,1098.8 681.7,1101.3 682.0,1103.8 682.3,1106.3 682.6,1108.8 682.9,1111.3 683.2,1113.8 683.5,1116.3 683.9,1118.8 684.2,1121.3 684.5,1123.8 684.8,1126.3 685.1,1128.8 685.5,1131.3 685.8,1133.8 686.1,1136.3 686.4,1138.8 686.8,1141.3 687.1,1143.8 687.4,1146.3 687.8,1148.8 688.1,1151.2 688.4,1153.7 688.7,1156.2 689.1,1158.7 689.4,1161.2 689.7,1163.7 690.1,1166.2 690.4,1168.7 690.7,1171.2 691.0,1173.7 691.4,1176.2 691.7,1178.7 692.0,1181.2 692.3,1183.7 692.6,1186.2 693.0,1188.7 693.3,1191.2 693.6,1193.7 693.9,1196.2 694.2,1198.7 694.5,1201.2 694.8,1203.7 695.2,1206.2 695.5,1208.7 695.8,1211.2 696.1,1213.7 696.4,1216.2 696.7,1218.7 697.0,1221.2 697.3,1223.7 697.6,1226.2 697.9,1228.7 698.3,1231.2 698.6,1233.7 698.9,1236.2 699.2,1238.7 699.5,1241.2 699.8,1243.7 700.2,1246.2 700.5,1248.7 700.8,1251.2 701.1,1253.7 701.5,1256.2 701.8,1258.7 702.1,1261.2 702.5,1263.7 702.8,1266.2 703.1,1268.6 703.5,1271.1 703.8,1273.6 704.2,1276.1 704.5,1278.6 704.9,1281.1 705.2,1283.6 705.6,1286.1 706.0,1288.6 706.3,1291.1 706.7,1293.6 707.1,1296.1 707.5,1298.5 707.9,1301.0 708.3,1303.5 708.6,1306.0 709.0,1308.5 709.4,1311.0 709.9,1313.5 710.3,1315.9 710.7,1318.4 711.1,1320.9 711.6,1323.4 712.0,1325.9 712.4,1328.3 712.9,1330.8 713.3,1333.3 713.8,1335.8 714.3,1338.2 714.8,1340.7 715.3,1343.2 715.8,1345.6 716.3,1348.1 716.8,1350.6 717.3,1353.0 717.8,1355.5 718.4,1358.0 719.0,1360.4 719.5,1362.9 720.1,1365.3 720.7,1367.8 721.3,1370.2 721.9,1372.7 722.5,1375.1 723.2,1377.6 723.8,1380.0 724.5,1382.4 725.2,1384.8 725.9,1387.2 726.7,1389.6 727.4,1392.0 728.3,1394.4 729.1,1396.8 730.0,1399.1 730.9,1401.5 731.8,1403.8 732.8,1406.1 733.8,1408.4 734.8,1410.7 735.9,1412.9 737.1,1415.1 738.3,1417.3 739.5,1419.5 740.8,1421.7 742.1,1423.8 743.5,1425.9 745.0,1428.0 746.5,1430.0 748.2,1431.9 749.9,1433.7 751.7,1435.3 753.7,1436.8 755.8,1438.2 757.9,1439.3 760.2,1440.4 762.6,1441.3 764.9,1442.1 767.3,1442.8 769.8,1443.4 772.2,1444.0 774.6,1444.4 777.1,1444.9 779.6,1445.2 782.1,1445.5 784.6,1445.8 787.1,1446.0 789.6,1446.2 792.1,1446.4 794.6,1446.6 797.1,1446.7 799.6,1446.9 802.1,1447.0 804.6,1447.1 807.1,1447.2 809.6,1447.2 812.1,1447.3 814.6,1447.4 817.2,1447.4 819.7,1447.4 822.2,1447.5 824.7,1447.5 827.2,1447.5 829.7,1447.5 832.2,1447.5 834.7,1447.5 837.2,1447.5 839.7,1447.5 842.3,1447.5 844.8,1447.5 847.3,1447.4 849.8,1447.4 852.3,1447.4 854.8,1447.4 857.3,1447.4 859.8,1447.4 862.3,1447.4 864.8,1447.4 867.4,1447.3 869.9,1447.3 872.4,1447.3 874.9,1447.3 877.4,1447.3 879.9,1447.3 882.4,1447.3 884.9,1447.3 887.4,1447.3 890.0,1447.3 892.5,1447.3 895.0,1447.3 897.5,1447.3 900.0,1447.3 902.5,1447.3 905.0,1447.3 907.5,1447.3 910.0,1447.4 912.6,1447.4 915.1,1447.4 917.6,1447.4 920.1,1447.4 922.6,1447.4 925.1,1447.4 927.6,1447.4 930.1,1447.4 932.6,1447.4 935.1,1447.4 937.7,1447.4 940.2,1447.4 942.7,1447.4 945.2,1447.4 947.7,1447.4 950.2,1447.4 952.7,1447.4 955.2,1447.4 957.7,1447.4 960.2,1447.4 962.8,1447.4 965.3,1447.4 967.8,1447.4 970.3,1447.4 972.8,1447.4 975.3,1447.4 977.8,1447.4 980.3,1447.4 982.8,1447.4" fill="none" stroke="#1f80de" stroke-width="3" stroke-linejoin="round" stroke-linecap="round"/>
<path d="M579.1,1447.8 579.1,1333.0 579.6,1330.5 580.0,1328.1 580.5,1325.6 581.0,1323.1 581.4,1320.6 581.9,1318.2 582.3,1315.7 582.8,1313.2 583.2,1310.8 583.7,1308.3 584.1,1305.8 584.6,1303.4 585.1,1300.9 585.5,1298.5 586.0,1296.0 586.4,1293.5 586.9,1291.1 587.4,1288.6 587.8,1286.1 588.3,1283.7 588.8,1281.2 589.3,1278.7 589.7,1276.2 590.2,1273.8 590.7,1271.3 591.2,1268.8 591.7,1266.4 592.3,1263.9 592.8,1261.4 593.3,1259.0 593.9,1256.5 594.4,1254.1 595.0,1251.6 595.6,1249.2 596.2,1246.8 596.8,1244.4 597.4,1242.0 598.1,1239.6 598.7,1237.2 599.4,1234.8 600.1,1232.4 600.8,1230.0 601.5,1227.6 602.2,1225.1 602.9,1222.7 603.7,1220.3 604.5,1217.9 605.3,1215.5 606.2,1213.1 607.1,1210.7 608.1,1208.4 609.2,1206.1 610.4,1203.9 611.7,1201.7 613.1,1199.6 614.6,1197.6 616.3,1195.8 618.1,1194.2 620.0,1192.9 622.1,1191.9 624.3,1191.4 626.6,1191.4 629.0,1191.6 631.4,1192.1 633.9,1192.8 636.3,1193.7 638.7,1194.7 641.1,1195.6 643.6,1196.5 646.0,1197.3 648.4,1197.9 650.9,1198.4 653.3,1198.8 655.7,1199.1 658.2,1199.5 660.6,1200.0 663.0,1200.5 665.5,1201.1 667.9,1201.7 670.3,1202.4 672.7,1203.1 675.1,1203.8 677.6,1204.5 680.0,1205.2 682.4,1205.9 684.9,1206.5 687.4,1207.1 689.8,1207.6 692.3,1207.9 694.7,1208.0 697.1,1207.8 699.4,1207.3 701.7,1206.4 703.8,1205.2 705.9,1203.9 707.9,1202.3 709.7,1200.7 711.5,1198.9 713.1,1197.1 714.7,1195.1 716.3,1193.1 717.7,1191.1 719.2,1189.0 720.6,1186.9 722.0,1184.8 723.3,1182.6 724.7,1180.5 726.1,1178.4 727.5,1176.2 728.8,1174.1 730.2,1172.0 731.6,1170.0 733.1,1167.9 734.5,1165.8 735.9,1163.7 737.3,1161.7 738.7,1159.6 740.2,1157.6 741.6,1155.5 743.1,1153.5 744.5,1151.5 745.9,1149.4 747.4,1147.4 748.8,1145.4 750.3,1143.3 751.7,1141.3 753.2,1139.2 754.6,1137.2 756.1,1135.2 757.5,1133.1 758.9,1131.0 760.4,1129.0 761.8,1126.9 763.3,1124.8 764.7,1122.7 766.1,1120.7 767.5,1118.6 768.9,1116.5 770.3,1114.4 771.7,1112.2 773.0,1110.1 774.4,1108.0 775.7,1105.9 777.0,1103.7 778.3,1101.6 779.6,1099.4 780.9,1097.3 782.1,1095.1 783.3,1092.9 784.5,1090.7 785.7,1088.5 786.8,1086.3 788.0,1084.1 789.1,1081.9 790.2,1079.7 791.3,1077.5 792.4,1075.3 793.6,1073.1 794.8,1070.9 796.1,1068.7 797.5,1066.5 798.9,1064.3 800.4,1062.2 802.0,1060.1 803.7,1058.1 805.5,1056.2 807.4,1054.5 809.3,1053.0 811.3,1051.7 813.4,1050.8 815.6,1050.3 817.8,1050.1 820.1,1050.4 822.3,1051.1 824.6,1052.1 826.7,1053.5 828.7,1055.1 830.5,1056.9 832.1,1058.9 833.6,1061.0 834.9,1063.2 836.1,1065.4 837.2,1067.7 838.3,1070.0 839.3,1072.3 840.3,1074.6 841.3,1076.9 842.2,1079.3 843.0,1081.6 843.9,1083.9 844.7,1086.3 845.5,1088.7 846.3,1091.0 847.1,1093.4 847.9,1095.8 848.6,1098.2 849.4,1100.6 850.1,1103.0 850.9,1105.4 851.6,1107.8 852.3,1110.2 853.0,1112.6 853.7,1115.0 854.5,1117.4 855.1,1119.8 855.8,1122.2 856.5,1124.6 857.2,1127.0 857.9,1129.5 858.5,1131.9 859.2,1134.3 859.9,1136.7 860.5,1139.2 861.2,1141.6 861.8,1144.0 862.5,1146.5 863.1,1148.9 863.7,1151.3 864.4,1153.7 865.0,1156.2 865.6,1158.6 866.2,1161.0 866.9,1163.5 867.5,1165.9 868.1,1168.4 868.7,1170.8 869.3,1173.2 869.9,1175.7 870.5,1178.1 871.1,1180.5 871.7,1183.0 872.3,1185.4 872.9,1187.9 873.5,1190.3 874.1,1192.7 874.7,1195.2 875.2,1197.6 875.8,1200.1 876.4,1202.5 877.0,1205.0 877.5,1207.4 878.1,1209.8 878.7,1212.3 879.3,1214.7 879.8,1217.2 880.4,1219.6 881.0,1222.1 881.5,1224.5 882.1,1227.0 882.7,1229.4 883.2,1231.9 883.8,1234.3 884.4,1236.7 884.9,1239.2 885.5,1241.6 886.0,1244.1 886.6,1246.5 887.2,1249.0 887.7,1251.4 888.3,1253.9 888.8,1256.3 889.4,1258.8 890.0,1261.2 890.5,1263.7 891.1,1266.1 891.6,1268.6 892.2,1271.0 892.8,1273.5 893.4,1275.9 893.9,1278.4 894.5,1280.8 895.1,1283.2 895.7,1285.7 896.3,1288.1 896.9,1290.6 897.5,1293.0 898.1,1295.4 898.7,1297.9 899.3,1300.3 899.9,1302.7 900.6,1305.1 901.2,1307.6 901.9,1310.0 902.5,1312.4 903.2,1314.8 903.9,1317.3 904.5,1319.7 905.2,1322.1 905.9,1324.5 906.6,1326.9 907.4,1329.3 908.1,1331.7 908.9,1334.1 909.6,1336.5 910.4,1338.9 911.2,1341.2 912.0,1343.6 912.8,1346.0 913.6,1348.4 914.4,1350.7 915.3,1353.1 916.1,1355.5 917.0,1357.8 917.9,1360.2 918.8,1362.5 919.8,1364.8 920.7,1367.2 921.7,1369.5 922.7,1371.8 923.7,1374.1 924.7,1376.4 925.7,1378.7 926.8,1381.0 927.9,1383.3 929.0,1385.6 930.1,1387.8 931.3,1390.0 932.5,1392.2 933.7,1394.4 934.9,1396.6 936.2,1398.8 937.5,1400.9 938.8,1403.0 940.2,1405.1 941.6,1407.2 943.0,1409.3 944.4,1411.3 945.9,1413.3 947.5,1415.3 949.0,1417.3 950.6,1419.2 952.3,1421.1 954.0,1422.9 955.7,1424.7 957.5,1426.4 959.3,1428.1 961.1,1429.7 963.1,1431.3 965.0,1432.8 967.1,1434.3 969.1,1435.6 971.3,1436.9 973.5,1438.1 975.7,1439.3 978.0,1440.3 980.4,1441.3 982.9,1442.1 982.9,1447.8 Z" fill="rgba(45,224,0,0.3)" stroke="none"/>
<path d="M579.1,1333.0 579.6,1330.5 580.0,1328.1 580.5,1325.6 581.0,1323.1 581.4,1320.6 581.9,1318.2 582.3,1315.7 582.8,1313.2 583.2,1310.8 583.7,1308.3 584.1,1305.8 584.6,1303.4 585.1,1300.9 585.5,1298.5 586.0,1296.0 586.4,1293.5 586.9,1291.1 587.4,1288.6 587.8,1286.1 588.3,1283.7 588.8,1281.2 589.3,1278.7 589.7,1276.2 590.2,1273.8 590.7,1271.3 591.2,1268.8 591.7,1266.4 592.3,1263.9 592.8,1261.4 593.3,1259.0 593.9,1256.5 594.4,1254.1 595.0,1251.6 595.6,1249.2 596.2,1246.8 596.8,1244.4 597.4,1242.0 598.1,1239.6 598.7,1237.2 599.4,1234.8 600.1,1232.4 600.8,1230.0 601.5,1227.6 602.2,1225.1 602.9,1222.7 603.7,1220.3 604.5,1217.9 605.3,1215.5 606.2,1213.1 607.1,1210.7 608.1,1208.4 609.2,1206.1 610.4,1203.9 611.7,1201.7 613.1,1199.6 614.6,1197.6 616.3,1195.8 618.1,1194.2 620.0,1192.9 622.1,1191.9 624.3,1191.4 626.6,1191.4 629.0,1191.6 631.4,1192.1 633.9,1192.8 636.3,1193.7 638.7,1194.7 641.1,1195.6 643.6,1196.5 646.0,1197.3 648.4,1197.9 650.9,1198.4 653.3,1198.8 655.7,1199.1 658.2,1199.5 660.6,1200.0 663.0,1200.5 665.5,1201.1 667.9,1201.7 670.3,1202.4 672.7,1203.1 675.1,1203.8 677.6,1204.5 680.0,1205.2 682.4,1205.9 684.9,1206.5 687.4,1207.1 689.8,1207.6 692.3,1207.9 694.7,1208.0 697.1,1207.8 699.4,1207.3 701.7,1206.4 703.8,1205.2 705.9,1203.9 707.9,1202.3 709.7,1200.7 711.5,1198.9 713.1,1197.1 714.7,1195.1 716.3,1193.1 717.7,1191.1 719.2,1189.0 720.6,1186.9 722.0,1184.8 723.3,1182.6 724.7,1180.5 726.1,1178.4 727.5,1176.2 728.8,1174.1 730.2,1172.0 731.6,1170.0 733.1,1167.9 734.5,1165.8 735.9,1163.7 737.3,1161.7 738.7,1159.6 740.2,1157.6 741.6,1155.5 743.1,1153.5 744.5,1151.5 745.9,1149.4 747.4,1147.4 748.8,1145.4 750.3,1143.3 751.7,1141.3 753.2,1139.2 754.6,1137.2 756.1,1135.2 757.5,1133.1 758.9,1131.0 760.4,1129.0 761.8,1126.9 763.3,1124.8 764.7,1122.7 766.1,1120.7 767.5,1118.6 768.9,1116.5 770.3,1114.4 771.7,1112.2 773.0,1110.1 774.4,1108.0 775.7,1105.9 777.0,1103.7 778.3,1101.6 779.6,1099.4 780.9,1097.3 782.1,1095.1 783.3,1092.9 784.5,1090.7 785.7,1088.5 786.8,1086.3 788.0,1084.1 789.1,1081.9 790.2,1079.7 791.3,1077.5 792.4,1075.3 793.6,1073.1 794.8,1070.9 796.1,1068.7 797.5,1066.5 798.9,1064.3 800.4,1062.2 802.0,1060.1 803.7,1058.1 805.5,1056.2 807.4,1054.5 809.3,1053.0 811.3,1051.7 813.4,1050.8 815.6,1050.3 817.8,1050.1 820.1,1050.4 822.3,1051.1 824.6,1052.1 826.7,1053.5 828.7,1055.1 830.5,1056.9 832.1,1058.9 833.6,1061.0 834.9,1063.2 836.1,1065.4 837.2,1067.7 838.3,1070.0 839.3,1072.3 840.3,1074.6 841.3,1076.9 842.2,1079.3 843.0,1081.6 843.9,1083.9 844.7,1086.3 845.5,1088.7 846.3,1091.0 847.1,1093.4 847.9,1095.8 848.6,1098.2 849.4,1100.6 850.1,1103.0 850.9,1105.4 851.6,1107.8 852.3,1110.2 853.0,1112.6 853.7,1115.0 854.5,1117.4 855.1,1119.8 855.8,1122.2 856.5,1124.6 857.2,1127.0 857.9,1129.5 858.5,1131.9 859.2,1134.3 859.9,1136.7 860.5,1139.2 861.2,1141.6 861.8,1144.0 862.5,1146.5 863.1,1148.9 863.7,1151.3 864.4,1153.7 865.0,1156.2 865.6,1158.6 866.2,1161.0 866.9,1163.5 867.5,1165.9 868.1,1168.4 868.7,1170.8 869.3,1173.2 869.9,1175.7 870.5,1178.1 871.1,1180.5 871.7,1183.0 872.3,1185.4 872.9,1187.9 873.5,1190.3 874.1,1192.7 874.7,1195.2 875.2,1197.6 875.8,1200.1 876.4,1202.5 877.0,1205.0 877.5,1207.4 878.1,1209.8 878.7,1212.3 879.3,1214.7 879.8,1217.2 880.4,1219.6 881.0,1222.1 881.5,1224.5 882.1,1227.0 882.7,1229.4 883.2,1231.9 883.8,1234.3 884.4,1236.7 884.9,1239.2 885.5,1241.6 886.0,1244.1 886.6,1246.5 887.2,1249.0 887.7,1251.4 888.3,1253.9 888.8,1256.3 889.4,1258.8 890.0,1261.2 890.5,1263.7 891.1,1266.1 891.6,1268.6 892.2,1271.0 892.8,1273.5 893.4,1275.9 893.9,1278.4 894.5,1280.8 895.1,1283.2 895.7,1285.7 896.3,1288.1 896.9,1290.6 897.5,1293.0 898.1,1295.4 898.7,1297.9 899.3,1300.3 899.9,1302.7 900.6,1305.1 901.2,1307.6 901.9,1310.0 902.5,1312.4 903.2,1314.8 903.9,1317.3 904.5,1319.7 905.2,1322.1 905.9,1324.5 906.6,1326.9 907.4,1329.3 908.1,1331.7 908.9,1334.1 909.6,1336.5 910.4,1338.9 911.2,1341.2 912.0,1343.6 912.8,1346.0 913.6,1348.4 914.4,1350.7 915.3,1353.1 916.1,1355.5 917.0,1357.8 917.9,1360.2 918.8,1362.5 919.8,1364.8 920.7,1367.2 921.7,1369.5 922.7,1371.8 923.7,1374.1 924.7,1376.4 925.7,1378.7 926.8,1381.0 927.9,1383.3 929.0,1385.6 930.1,1387.8 931.3,1390.0 932.5,1392.2 933.7,1394.4 934.9,1396.6 936.2,1398.8 937.5,1400.9 938.8,1403.0 940.2,1405.1 941.6,1407.2 943.0,1409.3 944.4,1411.3 945.9,1413.3 947.5,1415.3 949.0,1417.3 950.6,1419.2 952.3,1421.1 954.0,1422.9 955.7,1424.7 957.5,1426.4 959.3,1428.1 961.1,1429.7 963.1,1431.3 965.0,1432.8 967.1,1434.3 969.1,1435.6 971.3,1436.9 973.5,1438.1 975.7,1439.3 978.0,1440.3 980.4,1441.3 982.9,1442.1" fill="none" stroke="#2de000" stroke-width="3" stroke-linejoin="round" stroke-linecap="round"/>
<rect x="553.7" y="1446.5" width="5.8" height="2.6" fill="#111"/>
<rect x="553.7" y="1347.15" width="5.8" height="2.6" fill="#111"/>
<rect x="553.7" y="1247.8" width="5.8" height="2.6" fill="#111"/>
<rect x="553.7" y="1148.45" width="5.8" height="2.6" fill="#111"/>
<rect x="553.7" y="1049.1" width="5.8" height="2.6" fill="#111"/>
<rect x="577.6" y="1467.37" width="2.8" height="8.1" fill="#111"/>
<rect x="678.7" y="1467.37" width="2.8" height="8.1" fill="#111"/>
<rect x="779.8" y="1467.37" width="2.8" height="8.1" fill="#111"/>
<rect x="880.9" y="1467.37" width="2.8" height="8.1" fill="#111"/>
<rect x="982" y="1467.37" width="2.8" height="8.1" fill="#111"/>
<line x1="551.1" y1="1030.53" x2="551.1" y2="1475.67" stroke="#808080" stroke-width="1.5"/>
<rect x="109.98" y="1511.96" width="434.84" height="436.48" fill="#fcfbf9"/>
<line x1="120.2" y1="1511.96" x2="120.2" y2="1948.44" stroke="#e8e8e6" stroke-width="2.0"/>
<line x1="99.98" y1="1928.6" x2="544.82" y2="1928.6" stroke="#e8e8e6" stroke-width="2.0"/>
<line x1="170.75" y1="1511.96" x2="170.75" y2="1948.44" stroke="#e8e8e6" stroke-width="1.4"/>
<line x1="99.98" y1="1879" x2="544.82" y2="1879" stroke="#e8e8e6" stroke-width="1.4"/>
<line x1="221.3" y1="1511.96" x2="221.3" y2="1948.44" stroke="#e8e8e6" stroke-width="2.0"/>
<line x1="99.98" y1="1829.4" x2="544.82" y2="1829.4" stroke="#e8e8e6" stroke-width="2.0"/>
<line x1="271.85" y1="1511.96" x2="271.85" y2="1948.44" stroke="#e8e8e6" stroke-width="1.4"/>
<line x1="99.98" y1="1779.8" x2="544.82" y2="1779.8" stroke="#e8e8e6" stroke-width="1.4"/>
<line x1="322.4" y1="1511.96" x2="322.4" y2="1948.44" stroke="#e8e8e6" stroke-width="2.0"/>
<line x1="99.98" y1="1730.2" x2="544.82" y2="1730.2" stroke="#e8e8e6" stroke-width="2.0"/>
<line x1="372.95" y1="1511.96" x2="372.95" y2="1948.44" stroke="#e8e8e6" stroke-width="1.4"/>
<line x1="99.98" y1="1680.6" x2="544.82" y2="1680.6" stroke="#e8e8e6" stroke-width="1.4"/>
<line x1="423.5" y1="1511.96" x2="423.5" y2="1948.44" stroke="#e8e8e6" stroke-width="2.0"/>
<line x1="99.98" y1="1631" x2="544.82" y2="1631" stroke="#e8e8e6" stroke-width="2.0"/>
<line x1="474.05" y1="1511.96" x2="474.05" y2="1948.44" stroke="#e8e8e6" stroke-width="1.4"/>
<line x1="99.98" y1="1581.4" x2="544.82" y2="1581.4" stroke="#e8e8e6" stroke-width="1.4"/>
<line x1="524.6" y1="1511.96" x2="524.6" y2="1948.44" stroke="#e8e8e6" stroke-width="2.0"/>
<line x1="99.98" y1="1531.8" x2="544.82" y2="1531.8" stroke="#e8e8e6" stroke-width="2.0"/>
<path d="M120.1,1928.6 120.1,1670.9 120.2,1668.4 120.3,1665.9 120.4,1663.3 120.6,1660.8 120.7,1658.3 120.8,1655.8 120.9,1653.3 121.0,1650.8 121.2,1648.3 121.3,1645.7 121.4,1643.2 121.5,1640.7 121.7,1638.2 121.8,1635.7 122.0,1633.2 122.1,1630.6 122.2,1628.1 122.4,1625.6 122.5,1623.1 122.7,1620.6 122.9,1618.1 123.0,1615.6 123.2,1613.0 123.4,1610.5 123.6,1608.0 123.7,1605.5 123.9,1603.0 124.1,1600.5 124.3,1598.0 124.5,1595.5 124.7,1593.0 124.9,1590.5 125.1,1587.9 125.3,1585.4 125.5,1582.9 125.7,1580.4 125.9,1577.9 126.1,1575.4 126.3,1572.9 126.5,1570.4 126.7,1567.9 126.9,1565.4 127.1,1562.9 127.4,1560.4 127.6,1557.8 127.8,1555.3 128.1,1552.8 128.5,1550.3 128.9,1547.8 129.4,1545.3 130.1,1542.9 130.8,1540.4 131.6,1537.9 132.7,1535.5 133.9,1533.5 135.5,1532.2 137.1,1531.9 138.7,1532.5 140.0,1534.1 140.9,1536.2 141.7,1538.7 142.5,1541.2 143.2,1543.7 143.9,1546.2 144.7,1548.7 145.4,1551.2 146.0,1553.7 146.7,1556.2 147.4,1558.6 148.1,1561.1 148.7,1563.5 149.4,1566.0 150.1,1568.4 150.7,1570.8 151.3,1573.2 152.0,1575.7 152.6,1578.1 153.3,1580.5 153.9,1582.9 154.5,1585.3 155.2,1587.7 155.8,1590.2 156.4,1592.6 157.1,1595.0 157.7,1597.4 158.3,1599.9 159.0,1602.3 159.6,1604.7 160.2,1607.2 160.9,1609.6 161.5,1612.0 162.2,1614.4 162.8,1616.9 163.4,1619.3 164.1,1621.8 164.7,1624.2 165.4,1626.6 166.0,1629.1 166.7,1631.5 167.3,1633.9 168.0,1636.4 168.6,1638.8 169.3,1641.2 169.9,1643.7 170.6,1646.1 171.2,1648.6 171.9,1651.0 172.6,1653.4 173.2,1655.9 173.9,1658.3 174.6,1660.7 175.2,1663.2 175.9,1665.6 176.6,1668.0 177.3,1670.4 177.9,1672.9 178.6,1675.3 179.3,1677.7 180.0,1680.1 180.7,1682.6 181.4,1685.0 182.0,1687.4 182.7,1689.8 183.4,1692.2 184.1,1694.7 184.8,1697.1 185.5,1699.5 186.2,1701.9 186.9,1704.3 187.6,1706.7 188.2,1709.2 188.9,1711.6 189.6,1714.0 190.3,1716.4 190.9,1718.8 191.6,1721.3 192.2,1723.7 192.8,1726.1 193.5,1728.6 194.1,1731.0 194.7,1733.5 195.3,1735.9 195.9,1738.4 196.5,1740.8 197.1,1743.3 197.7,1745.7 198.3,1748.1 199.0,1750.6 199.7,1753.0 200.4,1755.4 201.1,1757.8 201.9,1760.2 202.7,1762.6 203.6,1764.9 204.4,1767.3 205.3,1769.6 206.2,1772.0 207.1,1774.3 208.0,1776.7 208.9,1779.0 209.8,1781.4 210.7,1783.7 211.6,1786.1 212.5,1788.5 213.4,1790.8 214.2,1793.2 215.1,1795.5 216.0,1797.9 216.9,1800.3 217.8,1802.6 218.8,1805.0 219.7,1807.3 220.6,1809.6 221.6,1811.9 222.6,1814.3 223.6,1816.6 224.7,1818.8 225.7,1821.1 226.8,1823.4 228.0,1825.6 229.1,1827.8 230.3,1830.0 231.5,1832.2 232.8,1834.4 234.1,1836.5 235.5,1838.6 236.9,1840.7 238.4,1842.7 239.9,1844.7 241.5,1846.6 243.1,1848.5 244.8,1850.4 246.5,1852.2 248.3,1854.0 250.2,1855.7 252.0,1857.4 254.0,1859.0 256.0,1860.5 258.0,1862.0 260.1,1863.5 262.2,1864.9 264.3,1866.3 266.4,1867.6 268.5,1869.0 270.5,1870.4 272.6,1871.8 274.6,1873.3 276.5,1874.8 278.4,1876.4 280.2,1878.1 282.0,1879.8 283.7,1881.6 285.4,1883.4 287.1,1885.3 288.7,1887.3 290.3,1889.3 291.9,1891.3 293.5,1893.3 295.2,1895.3 296.9,1897.2 298.7,1898.9 300.7,1900.2 302.8,1901.3 305.2,1901.9 307.6,1902.4 310.1,1902.6 312.6,1902.7 315.2,1902.8 317.7,1902.8 320.2,1902.9 322.7,1902.9 325.2,1903.0 327.7,1903.0 330.2,1903.1 332.7,1903.1 335.2,1903.2 337.7,1903.2 340.2,1903.3 342.7,1903.4 345.2,1903.4 347.7,1903.5 350.2,1903.6 352.8,1903.7 355.3,1903.8 357.8,1903.9 360.3,1904.0 362.8,1904.2 365.3,1904.3 367.8,1904.4 370.3,1904.4 372.8,1904.4 375.3,1904.4 377.8,1904.3 380.3,1904.1 382.8,1903.8 385.3,1903.4 387.8,1903.0 390.3,1902.7 392.8,1902.4 395.3,1902.4 397.7,1902.5 400.2,1902.8 402.6,1903.2 405.0,1903.8 407.4,1904.6 409.7,1905.4 412.0,1906.4 414.3,1907.4 416.6,1908.5 418.9,1909.5 421.3,1910.4 423.6,1911.2 426.0,1911.9 428.5,1912.5 431.0,1913.0 433.4,1913.4 435.9,1913.9 438.3,1914.5 440.7,1915.2 443.1,1916.0 445.4,1916.9 447.8,1917.8 450.1,1918.7 452.4,1919.6 454.8,1920.4 457.2,1921.1 459.6,1921.7 462.1,1922.2 464.6,1922.7 467.0,1923.2 469.5,1923.6 472.0,1923.9 474.5,1924.3 477.0,1924.6 479.5,1924.9 482.0,1925.3 484.4,1925.6 486.9,1925.9 489.4,1926.2 491.9,1926.5 494.4,1926.7 496.9,1927.0 499.4,1927.2 501.9,1927.4 504.4,1927.6 506.9,1927.8 509.3,1927.9 511.9,1928.1 514.4,1928.2 516.9,1928.2 519.4,1928.3 521.9,1928.3 524.4,1928.3 524.4,1928.6 Z" fill="rgba(255,110,173,0.3)" stroke="none"/>
<path d="M120.1,1670.9 120.2,1668.4 120.3,1665.9 120.4,1663.3 120.6,1660.8 120.7,1658.3 120.8,1655.8 120.9,1653.3 121.0,1650.8 121.2,1648.3 121.3,1645.7 121.4,1643.2 121.5,1640.7 121.7,1638.2 121.8,1635.7 122.0,1633.2 122.1,1630.6 122.2,1628.1 122.4,1625.6 122.5,1623.1 122.7,1620.6 122.9,1618.1 123.0,1615.6 123.2,1613.0 123.4,1610.5 123.6,1608.0 123.7,1605.5 123.9,1603.0 124.1,1600.5 124.3,1598.0 124.5,1595.5 124.7,1593.0 124.9,1590.5 125.1,1587.9 125.3,1585.4 125.5,1582.9 125.7,1580.4 125.9,1577.9 126.1,1575.4 126.3,1572.9 126.5,1570.4 126.7,1567.9 126.9,1565.4 127.1,1562.9 127.4,1560.4 127.6,1557.8 127.8,1555.3 128.1,1552.8 128.5,1550.3 128.9,1547.8 129.4,1545.3 130.1,1542.9 130.8,1540.4 131.6,1537.9 132.7,1535.5 133.9,1533.5 135.5,1532.2 137.1,1531.9 138.7,1532.5 140.0,1534.1 140.9,1536.2 141.7,1538.7 142.5,1541.2 143.2,1543.7 143.9,1546.2 144.7,1548.7 145.4,1551.2 146.0,1553.7 146.7,1556.2 147.4,1558.6 148.1,1561.1 148.7,1563.5 149.4,1566.0 150.1,1568.4 150.7,1570.8 151.3,1573.2 152.0,1575.7 152.6,1578.1 153.3,1580.5 153.9,1582.9 154.5,1585.3 155.2,1587.7 155.8,1590.2 156.4,1592.6 157.1,1595.0 157.7,1597.4 158.3,1599.9 159.0,1602.3 159.6,1604.7 160.2,1607.2 160.9,1609.6 161.5,1612.0 162.2,1614.4 162.8,1616.9 163.4,1619.3 164.1,1621.8 164.7,1624.2 165.4,1626.6 166.0,1629.1 166.7,1631.5 167.3,1633.9 168.0,1636.4 168.6,1638.8 169.3,1641.2 169.9,1643.7 170.6,1646.1 171.2,1648.6 171.9,1651.0 172.6,1653.4 173.2,1655.9 173.9,1658.3 174.6,1660.7 175.2,1663.2 175.9,1665.6 176.6,1668.0 177.3,1670.4 177.9,1672.9 178.6,1675.3 179.3,1677.7 180.0,1680.1 180.7,1682.6 181.4,1685.0 182.0,1687.4 182.7,1689.8 183.4,1692.2 184.1,1694.7 184.8,1697.1 185.5,1699.5 186.2,1701.9 186.9,1704.3 187.6,1706.7 188.2,1709.2 188.9,1711.6 189.6,1714.0 190.3,1716.4 190.9,1718.8 191.6,1721.3 192.2,1723.7 192.8,1726.1 193.5,1728.6 194.1,1731.0 194.7,1733.5 195.3,1735.9 195.9,1738.4 196.5,1740.8 197.1,1743.3 197.7,1745.7 198.3,1748.1 199.0,1750.6 199.7,1753.0 200.4,1755.4 201.1,1757.8 201.9,1760.2 202.7,1762.6 203.6,1764.9 204.4,1767.3 205.3,1769.6 206.2,1772.0 207.1,1774.3 208.0,1776.7 208.9,1779.0 209.8,1781.4 210.7,1783.7 211.6,1786.1 212.5,1788.5 213.4,1790.8 214.2,1793.2 215.1,1795.5 216.0,1797.9 216.9,1800.3 217.8,1802.6 218.8,1805.0 219.7,1807.3 220.6,1809.6 221.6,1811.9 222.6,1814.3 223.6,1816.6 224.7,1818.8 225.7,1821.1 226.8,1823.4 228.0,1825.6 229.1,1827.8 230.3,1830.0 231.5,1832.2 232.8,1834.4 234.1,1836.5 235.5,1838.6 236.9,1840.7 238.4,1842.7 239.9,1844.7 241.5,1846.6 243.1,1848.5 244.8,1850.4 246.5,1852.2 248.3,1854.0 250.2,1855.7 252.0,1857.4 254.0,1859.0 256.0,1860.5 258.0,1862.0 260.1,1863.5 262.2,1864.9 264.3,1866.3 266.4,1867.6 268.5,1869.0 270.5,1870.4 272.6,1871.8 274.6,1873.3 276.5,1874.8 278.4,1876.4 280.2,1878.1 282.0,1879.8 283.7,1881.6 285.4,1883.4 287.1,1885.3 288.7,1887.3 290.3,1889.3 291.9,1891.3 293.5,1893.3 295.2,1895.3 296.9,1897.2 298.7,1898.9 300.7,1900.2 302.8,1901.3 305.2,1901.9 307.6,1902.4 310.1,1902.6 312.6,1902.7 315.2,1902.8 317.7,1902.8 320.2,1902.9 322.7,1902.9 325.2,1903.0 327.7,1903.0 330.2,1903.1 332.7,1903.1 335.2,1903.2 337.7,1903.2 340.2,1903.3 342.7,1903.4 345.2,1903.4 347.7,1903.5 350.2,1903.6 352.8,1903.7 355.3,1903.8 357.8,1903.9 360.3,1904.0 362.8,1904.2 365.3,1904.3 367.8,1904.4 370.3,1904.4 372.8,1904.4 375.3,1904.4 377.8,1904.3 380.3,1904.1 382.8,1903.8 385.3,1903.4 387.8,1903.0 390.3,1902.7 392.8,1902.4 395.3,1902.4 397.7,1902.5 400.2,1902.8 402.6,1903.2 405.0,1903.8 407.4,1904.6 409.7,1905.4 412.0,1906.4 414.3,1907.4 416.6,1908.5 418.9,1909.5 421.3,1910.4 423.6,1911.2 426.0,1911.9 428.5,1912.5 431.0,1913.0 433.4,1913.4 435.9,1913.9 438.3,1914.5 440.7,1915.2 443.1,1916.0 445.4,1916.9 447.8,1917.8 450.1,1918.7 452.4,1919.6 454.8,1920.4 457.2,1921.1 459.6,1921.7 462.1,1922.2 464.6,1922.7 467.0,1923.2 469.5,1923.6 472.0,1923.9 474.5,1924.3 477.0,1924.6 479.5,1924.9 482.0,1925.3 484.4,1925.6 486.9,1925.9 489.4,1926.2 491.9,1926.5 494.4,1926.7 496.9,1927.0 499.4,1927.2 501.9,1927.4 504.4,1927.6 506.9,1927.8 509.3,1927.9 511.9,1928.1 514.4,1928.2 516.9,1928.2 519.4,1928.3 521.9,1928.3 524.4,1928.3" fill="none" stroke="#ff6ead" stroke-width="3" stroke-linejoin="round" stroke-linecap="round"/>
<path d="M120.1,1928.6 120.1,1704.0 120.3,1701.5 120.4,1699.0 120.6,1696.5 120.7,1694.0 120.9,1691.4 121.0,1688.9 121.2,1686.4 121.3,1683.9 121.5,1681.4 121.6,1678.8 121.8,1676.3 122.0,1673.8 122.1,1671.3 122.3,1668.8 122.4,1666.3 122.6,1663.8 122.8,1661.3 122.9,1658.7 123.1,1656.2 123.3,1653.7 123.4,1651.2 123.6,1648.7 123.8,1646.2 124.0,1643.7 124.1,1641.2 124.3,1638.7 124.5,1636.2 124.7,1633.6 124.9,1631.1 125.1,1628.6 125.3,1626.1 125.5,1623.6 125.7,1621.1 126.0,1618.6 126.2,1616.1 126.4,1613.5 126.6,1611.0 126.9,1608.5 127.1,1606.0 127.4,1603.5 127.6,1601.0 127.9,1598.4 128.1,1595.9 128.4,1593.4 128.7,1590.9 129.0,1588.4 129.2,1585.8 129.5,1583.3 129.9,1580.8 130.2,1578.3 130.5,1575.8 130.9,1573.4 131.2,1570.9 131.6,1568.5 132.0,1566.0 132.4,1563.6 132.9,1561.2 133.3,1558.8 133.8,1556.3 134.3,1553.9 134.8,1551.3 135.3,1548.8 135.9,1546.1 136.5,1543.4 137.2,1540.8 138.1,1538.3 139.2,1536.1 140.6,1534.2 142.3,1532.8 144.3,1532.0 146.3,1531.9 148.4,1532.4 150.3,1533.5 152.0,1534.9 153.6,1536.6 155.0,1538.5 156.2,1540.5 157.4,1542.7 158.4,1545.0 159.4,1547.4 160.4,1549.8 161.4,1552.2 162.3,1554.6 163.2,1557.0 164.2,1559.4 165.1,1561.8 166.0,1564.2 166.9,1566.6 167.8,1569.0 168.7,1571.4 169.6,1573.8 170.4,1576.2 171.3,1578.6 172.2,1580.9 173.0,1583.3 173.9,1585.7 174.7,1588.1 175.6,1590.4 176.4,1592.8 177.3,1595.2 178.1,1597.5 178.9,1599.9 179.8,1602.3 180.6,1604.6 181.4,1607.0 182.2,1609.4 183.0,1611.7 183.9,1614.1 184.7,1616.5 185.5,1618.8 186.3,1621.2 187.1,1623.6 187.9,1625.9 188.7,1628.3 189.6,1630.7 190.4,1633.0 191.2,1635.4 192.0,1637.8 192.8,1640.2 193.7,1642.5 194.5,1644.9 195.3,1647.3 196.2,1649.7 197.0,1652.1 197.9,1654.4 198.7,1656.8 199.6,1659.2 200.5,1661.6 201.4,1663.9 202.3,1666.3 203.2,1668.7 204.1,1671.0 205.1,1673.4 206.1,1675.7 207.1,1678.0 208.1,1680.3 209.1,1682.6 210.2,1684.9 211.3,1687.2 212.4,1689.5 213.5,1691.7 214.7,1693.9 215.9,1696.2 217.1,1698.4 218.3,1700.5 219.5,1702.7 220.8,1704.9 222.0,1707.1 223.2,1709.3 224.4,1711.5 225.5,1713.8 226.6,1716.0 227.7,1718.3 228.7,1720.6 229.7,1722.9 230.6,1725.2 231.6,1727.5 232.5,1729.9 233.5,1732.2 234.4,1734.6 235.4,1736.9 236.4,1739.2 237.3,1741.5 238.3,1743.8 239.4,1746.1 240.4,1748.5 241.4,1750.7 242.5,1753.0 243.5,1755.3 244.6,1757.6 245.7,1759.9 246.8,1762.2 247.8,1764.4 248.9,1766.7 250.1,1769.0 251.2,1771.2 252.3,1773.5 253.4,1775.8 254.5,1778.0 255.7,1780.3 256.8,1782.5 258.0,1784.8 259.1,1787.0 260.2,1789.3 261.4,1791.5 262.5,1793.7 263.7,1796.0 264.8,1798.2 266.0,1800.5 267.1,1802.7 268.2,1805.0 269.4,1807.2 270.5,1809.4 271.6,1811.7 272.8,1813.9 273.9,1816.2 275.0,1818.4 276.1,1820.7 277.2,1822.9 278.3,1825.2 279.4,1827.4 280.5,1829.7 281.6,1831.9 282.8,1834.2 283.9,1836.4 285.1,1838.7 286.3,1840.9 287.6,1843.2 288.8,1845.4 290.2,1847.6 291.6,1849.8 293.1,1851.9 294.6,1853.8 296.2,1855.7 298.0,1857.4 299.8,1858.9 301.8,1860.3 303.9,1861.4 306.1,1862.4 308.4,1863.2 310.8,1863.9 313.3,1864.4 315.8,1864.9 318.3,1865.3 320.9,1865.6 323.4,1866.0 325.9,1866.3 328.4,1866.6 330.9,1867.0 333.4,1867.4 335.9,1867.8 338.3,1868.3 340.7,1868.8 343.1,1869.4 345.5,1870.0 347.9,1870.7 350.3,1871.4 352.7,1872.2 355.1,1873.0 357.5,1873.8 359.9,1874.6 362.3,1875.3 364.7,1876.0 367.1,1876.6 369.6,1877.1 372.0,1877.5 374.5,1877.9 377.0,1878.1 379.6,1878.3 382.1,1878.5 384.6,1878.7 387.1,1879.0 389.6,1879.3 392.0,1879.7 394.5,1880.2 396.9,1880.7 399.3,1881.3 401.7,1881.9 404.1,1882.6 406.6,1883.2 409.0,1883.9 411.4,1884.5 413.9,1885.0 416.4,1885.5 418.9,1886.0 421.4,1886.4 423.9,1886.8 426.4,1887.3 428.8,1887.8 431.2,1888.4 433.6,1889.1 435.9,1889.9 438.1,1890.9 440.3,1892.1 442.4,1893.4 444.5,1894.8 446.5,1896.3 448.5,1897.9 450.5,1899.5 452.5,1901.1 454.5,1902.7 456.5,1904.2 458.5,1905.7 460.6,1907.0 462.8,1908.3 465.0,1909.5 467.2,1910.6 469.5,1911.7 471.7,1912.7 474.0,1913.7 476.3,1914.7 478.7,1915.6 481.0,1916.6 483.3,1917.6 485.6,1918.6 487.9,1919.6 490.3,1920.5 492.6,1921.4 495.0,1922.2 497.4,1923.0 499.8,1923.8 502.2,1924.4 504.6,1925.0 507.1,1925.5 509.5,1926.0 512.0,1926.4 514.5,1926.8 517.0,1927.1 519.5,1927.5 521.9,1927.9 524.4,1928.3 524.4,1928.6 Z" fill="rgba(143,230,234,0.3)" stroke="none"/>
<path d="M120.1,1704.0 120.3,1701.5 120.4,1699.0 120.6,1696.5 120.7,1694.0 120.9,1691.4 121.0,1688.9 121.2,1686.4 121.3,1683.9 121.5,1681.4 121.6,1678.8 121.8,1676.3 122.0,1673.8 122.1,1671.3 122.3,1668.8 122.4,1666.3 122.6,1663.8 122.8,1661.3 122.9,1658.7 123.1,1656.2 123.3,1653.7 123.4,1651.2 123.6,1648.7 123.8,1646.2 124.0,1643.7 124.1,1641.2 124.3,1638.7 124.5,1636.2 124.7,1633.6 124.9,1631.1 125.1,1628.6 125.3,1626.1 125.5,1623.6 125.7,1621.1 126.0,1618.6 126.2,1616.1 126.4,1613.5 126.6,1611.0 126.9,1608.5 127.1,1606.0 127.4,1603.5 127.6,1601.0 127.9,1598.4 128.1,1595.9 128.4,1593.4 128.7,1590.9 129.0,1588.4 129.2,1585.8 129.5,1583.3 129.9,1580.8 130.2,1578.3 130.5,1575.8 130.9,1573.4 131.2,1570.9 131.6,1568.5 132.0,1566.0 132.4,1563.6 132.9,1561.2 133.3,1558.8 133.8,1556.3 134.3,1553.9 134.8,1551.3 135.3,1548.8 135.9,1546.1 136.5,1543.4 137.2,1540.8 138.1,1538.3 139.2,1536.1 140.6,1534.2 142.3,1532.8 144.3,1532.0 146.3,1531.9 148.4,1532.4 150.3,1533.5 152.0,1534.9 153.6,1536.6 155.0,1538.5 156.2,1540.5 157.4,1542.7 158.4,1545.0 159.4,1547.4 160.4,1549.8 161.4,1552.2 162.3,1554.6 163.2,1557.0 164.2,1559.4 165.1,1561.8 166.0,1564.2 166.9,1566.6 167.8,1569.0 168.7,1571.4 169.6,1573.8 170.4,1576.2 171.3,1578.6 172.2,1580.9 173.0,1583.3 173.9,1585.7 174.7,1588.1 175.6,1590.4 176.4,1592.8 177.3,1595.2 178.1,1597.5 178.9,1599.9 179.8,1602.3 180.6,1604.6 181.4,1607.0 182.2,1609.4 183.0,1611.7 183.9,1614.1 184.7,1616.5 185.5,1618.8 186.3,1621.2 187.1,1623.6 187.9,1625.9 188.7,1628.3 189.6,1630.7 190.4,1633.0 191.2,1635.4 192.0,1637.8 192.8,1640.2 193.7,1642.5 194.5,1644.9 195.3,1647.3 196.2,1649.7 197.0,1652.1 197.9,1654.4 198.7,1656.8 199.6,1659.2 200.5,1661.6 201.4,1663.9 202.3,1666.3 203.2,1668.7 204.1,1671.0 205.1,1673.4 206.1,1675.7 207.1,1678.0 208.1,1680.3 209.1,1682.6 210.2,1684.9 211.3,1687.2 212.4,1689.5 213.5,1691.7 214.7,1693.9 215.9,1696.2 217.1,1698.4 218.3,1700.5 219.5,1702.7 220.8,1704.9 222.0,1707.1 223.2,1709.3 224.4,1711.5 225.5,1713.8 226.6,1716.0 227.7,1718.3 228.7,1720.6 229.7,1722.9 230.6,1725.2 231.6,1727.5 232.5,1729.9 233.5,1732.2 234.4,1734.6 235.4,1736.9 236.4,1739.2 237.3,1741.5 238.3,1743.8 239.4,1746.1 240.4,1748.5 241.4,1750.7 242.5,1753.0 243.5,1755.3 244.6,1757.6 245.7,1759.9 246.8,1762.2 247.8,1764.4 248.9,1766.7 250.1,1769.0 251.2,1771.2 252.3,1773.5 253.4,1775.8 254.5,1778.0 255.7,1780.3 256.8,1782.5 258.0,1784.8 259.1,1787.0 260.2,1789.3 261.4,1791.5 262.5,1793.7 263.7,1796.0 264.8,1798.2 266.0,1800.5 267.1,1802.7 268.2,1805.0 269.4,1807.2 270.5,1809.4 271.6,1811.7 272.8,1813.9 273.9,1816.2 275.0,1818.4 276.1,1820.7 277.2,1822.9 278.3,1825.2 279.4,1827.4 280.5,1829.7 281.6,1831.9 282.8,1834.2 283.9,1836.4 285.1,1838.7 286.3,1840.9 287.6,1843.2 288.8,1845.4 290.2,1847.6 291.6,1849.8 293.1,1851.9 294.6,1853.8 296.2,1855.7 298.0,1857.4 299.8,1858.9 301.8,1860.3 303.9,1861.4 306.1,1862.4 308.4,1863.2 310.8,1863.9 313.3,1864.4 315.8,1864.9 318.3,1865.3 320.9,1865.6 323.4,1866.0 325.9,1866.3 328.4,1866.6 330.9,1867.0 333.4,1867.4 335.9,1867.8 338.3,1868.3 340.7,1868.8 343.1,1869.4 345.5,1870.0 347.9,1870.7 350.3,1871.4 352.7,1872.2 355.1,1873.0 357.5,1873.8 359.9,1874.6 362.3,1875.3 364.7,1876.0 367.1,1876.6 369.6,1877.1 372.0,1877.5 374.5,1877.9 377.0,1878.1 379.6,1878.3 382.1,1878.5 384.6,1878.7 387.1,1879.0 389.6,1879.3 392.0,1879.7 394.5,1880.2 396.9,1880.7 399.3,1881.3 401.7,1881.9 404.1,1882.6 406.6,1883.2 409.0,1883.9 411.4,1884.5 413.9,1885.0 416.4,1885.5 418.9,1886.0 421.4,1886.4 423.9,1886.8 426.4,1887.3 428.8,1887.8 431.2,1888.4 433.6,1889.1 435.9,1889.9 438.1,1890.9 440.3,1892.1 442.4,1893.4 444.5,1894.8 446.5,1896.3 448.5,1897.9 450.5,1899.5 452.5,1901.1 454.5,1902.7 456.5,1904.2 458.5,1905.7 460.6,1907.0 462.8,1908.3 465.0,1909.5 467.2,1910.6 469.5,1911.7 471.7,1912.7 474.0,1913.7 476.3,1914.7 478.7,1915.6 481.0,1916.6 483.3,1917.6 485.6,1918.6 487.9,1919.6 490.3,1920.5 492.6,1921.4 495.0,1922.2 497.4,1923.0 499.8,1923.8 502.2,1924.4 504.6,1925.0 507.1,1925.5 509.5,1926.0 512.0,1926.4 514.5,1926.8 517.0,1927.1 519.5,1927.5 521.9,1927.9 524.4,1928.3" fill="none" stroke="#8fe6ea" stroke-width="3" stroke-linejoin="round" stroke-linecap="round"/>
<path d="M120.1,1928.6 120.1,1685.5 120.1,1682.9 120.2,1680.4 120.2,1677.9 120.2,1675.4 120.2,1672.9 120.3,1670.4 120.3,1667.8 120.3,1665.3 120.3,1662.8 120.4,1660.3 120.4,1657.7 120.4,1655.2 120.5,1652.7 120.5,1650.2 120.5,1647.6 120.5,1645.1 120.6,1642.6 120.6,1640.0 120.6,1637.5 120.6,1635.0 120.7,1632.4 120.7,1629.9 120.7,1627.4 120.8,1624.8 120.8,1622.3 120.8,1619.8 120.8,1617.3 120.9,1614.7 120.9,1612.2 120.9,1609.7 121.0,1607.1 121.0,1604.6 121.0,1602.1 121.1,1599.6 121.1,1597.1 121.2,1594.5 121.2,1592.0 121.2,1589.5 121.3,1587.0 121.3,1584.5 121.4,1582.0 121.4,1579.5 121.5,1577.0 121.5,1574.5 121.6,1572.0 121.6,1569.5 121.7,1567.0 121.7,1564.5 121.8,1562.0 121.8,1559.5 121.9,1557.0 121.9,1554.4 122.0,1551.8 122.0,1549.2 122.1,1546.6 122.1,1543.9 122.2,1541.1 122.2,1538.3 122.2,1535.6 122.3,1533.3 122.3,1531.9 122.4,1531.9 122.5,1533.4 122.6,1535.6 122.7,1537.9 122.7,1540.3 122.8,1542.8 122.9,1545.4 123.0,1548.0 123.1,1550.5 123.2,1553.1 123.2,1555.7 123.3,1558.3 123.4,1560.8 123.5,1563.4 123.6,1565.9 123.6,1568.5 123.7,1571.0 123.8,1573.5 123.9,1576.1 123.9,1578.6 124.0,1581.1 124.1,1583.7 124.2,1586.2 124.2,1588.7 124.3,1591.2 124.4,1593.7 124.5,1596.3 124.5,1598.8 124.6,1601.3 124.7,1603.8 124.8,1606.3 124.8,1608.8 124.9,1611.3 125.0,1613.9 125.1,1616.4 125.1,1618.9 125.2,1621.4 125.3,1623.9 125.4,1626.4 125.4,1629.0 125.5,1631.5 125.6,1634.0 125.7,1636.5 125.7,1639.0 125.8,1641.6 125.9,1644.1 126.0,1646.6 126.1,1649.1 126.1,1651.6 126.2,1654.2 126.3,1656.7 126.4,1659.2 126.5,1661.7 126.5,1664.3 126.6,1666.8 126.7,1669.3 126.8,1671.8 126.9,1674.4 127.0,1676.9 127.0,1679.4 127.1,1681.9 127.2,1684.4 127.3,1687.0 127.4,1689.5 127.5,1692.0 127.6,1694.5 127.7,1697.1 127.8,1699.6 127.9,1702.1 128.0,1704.6 128.1,1707.2 128.2,1709.7 128.3,1712.2 128.4,1714.7 128.5,1717.3 128.6,1719.8 128.7,1722.3 128.8,1724.8 128.9,1727.4 129.1,1729.9 129.2,1732.4 129.3,1734.9 129.4,1737.5 129.5,1740.0 129.7,1742.5 129.8,1745.0 129.9,1747.5 130.1,1750.1 130.2,1752.6 130.3,1755.1 130.5,1757.6 130.6,1760.1 130.8,1762.7 130.9,1765.2 131.1,1767.7 131.2,1770.2 131.4,1772.7 131.5,1775.3 131.7,1777.8 131.8,1780.3 132.0,1782.8 132.2,1785.3 132.3,1787.9 132.5,1790.4 132.7,1792.9 132.9,1795.4 133.1,1797.9 133.3,1800.4 133.5,1802.9 133.7,1805.5 133.9,1808.0 134.1,1810.5 134.3,1813.0 134.5,1815.5 134.7,1818.0 134.9,1820.5 135.1,1823.0 135.4,1825.5 135.6,1828.1 135.8,1830.6 136.1,1833.1 136.3,1835.6 136.6,1838.1 136.8,1840.6 137.1,1843.1 137.3,1845.6 137.6,1848.1 137.9,1850.6 138.1,1853.1 138.4,1855.6 138.7,1858.1 139.0,1860.6 139.3,1863.1 139.6,1865.7 139.9,1868.2 140.2,1870.7 140.5,1873.2 140.8,1875.7 141.1,1878.3 141.4,1880.8 141.8,1883.3 142.1,1885.9 142.4,1888.4 142.8,1890.9 143.1,1893.5 143.5,1896.0 144.0,1898.5 144.6,1900.8 145.5,1902.9 146.7,1904.8 148.3,1906.4 150.1,1907.9 151.8,1909.6 153.3,1911.6 154.6,1914.0 155.7,1916.6 156.7,1919.1 158.0,1921.5 159.4,1923.3 161.2,1924.7 163.3,1925.6 165.5,1926.1 168.0,1926.4 170.4,1926.6 173.0,1926.7 175.5,1926.9 178.0,1927.0 180.5,1927.1 183.0,1927.2 185.5,1927.3 188.0,1927.4 190.5,1927.5 193.0,1927.6 195.5,1927.7 198.0,1927.8 200.5,1927.9 203.0,1927.9 205.5,1928.0 208.1,1928.1 210.6,1928.1 213.1,1928.2 215.6,1928.2 218.1,1928.2 220.6,1928.3 223.1,1928.3 225.6,1928.3 228.1,1928.4 230.6,1928.4 233.1,1928.4 235.7,1928.4 238.2,1928.4 240.7,1928.4 243.2,1928.4 245.7,1928.4 248.2,1928.4 250.7,1928.4 253.2,1928.4 255.7,1928.4 258.3,1928.4 260.8,1928.4 263.3,1928.4 265.8,1928.4 268.3,1928.4 270.8,1928.4 273.3,1928.4 275.8,1928.4 278.4,1928.4 280.9,1928.3 283.4,1928.3 285.9,1928.3 288.4,1928.3 290.9,1928.3 293.4,1928.3 295.9,1928.3 298.4,1928.3 301.0,1928.3 303.5,1928.3 306.0,1928.3 308.5,1928.2 311.0,1928.2 313.5,1928.2 316.0,1928.2 318.5,1928.2 321.0,1928.2 323.6,1928.2 326.1,1928.2 328.6,1928.2 331.1,1928.2 333.6,1928.2 336.1,1928.2 338.6,1928.2 341.1,1928.2 343.6,1928.2 346.2,1928.2 348.7,1928.2 351.2,1928.2 353.7,1928.2 356.2,1928.2 358.7,1928.2 361.2,1928.2 363.7,1928.2 366.2,1928.2 368.8,1928.2 371.3,1928.2 373.8,1928.2 376.3,1928.2 378.8,1928.2 381.3,1928.2 383.8,1928.2 386.3,1928.2 388.8,1928.2 391.3,1928.2 393.9,1928.2 396.4,1928.2 398.9,1928.2 401.4,1928.3 403.9,1928.3 406.4,1928.3 408.9,1928.3 411.4,1928.3 413.9,1928.3 416.5,1928.3 419.0,1928.3 421.5,1928.3 424.0,1928.3 426.5,1928.3 429.0,1928.3 431.5,1928.3 434.0,1928.3 436.5,1928.3 439.0,1928.3 441.6,1928.3 444.1,1928.3 446.6,1928.3 449.1,1928.3 451.6,1928.3 454.1,1928.3 456.6,1928.3 459.1,1928.3 461.6,1928.3 464.2,1928.3 466.7,1928.3 469.2,1928.3 471.7,1928.3 474.2,1928.3 476.7,1928.3 479.2,1928.3 481.7,1928.3 484.2,1928.3 486.8,1928.3 489.3,1928.3 491.8,1928.3 494.3,1928.3 496.8,1928.3 499.3,1928.3 501.8,1928.3 504.3,1928.3 506.8,1928.3 509.4,1928.3 511.9,1928.3 514.4,1928.3 516.9,1928.3 519.4,1928.3 521.9,1928.3 524.4,1928.3 524.4,1928.6 Z" fill="rgba(31,128,222,0.3)" stroke="none"/>
<path d="M120.1,1685.5 120.1,1682.9 120.2,1680.4 120.2,1677.9 120.2,1675.4 120.2,1672.9 120.3,1670.4 120.3,1667.8 120.3,1665.3 120.3,1662.8 120.4,1660.3 120.4,1657.7 120.4,1655.2 120.5,1652.7 120.5,1650.2 120.5,1647.6 120.5,1645.1 120.6,1642.6 120.6,1640.0 120.6,1637.5 120.6,1635.0 120.7,1632.4 120.7,1629.9 120.7,1627.4 120.8,1624.8 120.8,1622.3 120.8,1619.8 120.8,1617.3 120.9,1614.7 120.9,1612.2 120.9,1609.7 121.0,1607.1 121.0,1604.6 121.0,1602.1 121.1,1599.6 121.1,1597.1 121.2,1594.5 121.2,1592.0 121.2,1589.5 121.3,1587.0 121.3,1584.5 121.4,1582.0 121.4,1579.5 121.5,1577.0 121.5,1574.5 121.6,1572.0 121.6,1569.5 121.7,1567.0 121.7,1564.5 121.8,1562.0 121.8,1559.5 121.9,1557.0 121.9,1554.4 122.0,1551.8 122.0,1549.2 122.1,1546.6 122.1,1543.9 122.2,1541.1 122.2,1538.3 122.2,1535.6 122.3,1533.3 122.3,1531.9 122.4,1531.9 122.5,1533.4 122.6,1535.6 122.7,1537.9 122.7,1540.3 122.8,1542.8 122.9,1545.4 123.0,1548.0 123.1,1550.5 123.2,1553.1 123.2,1555.7 123.3,1558.3 123.4,1560.8 123.5,1563.4 123.6,1565.9 123.6,1568.5 123.7,1571.0 123.8,1573.5 123.9,1576.1 123.9,1578.6 124.0,1581.1 124.1,1583.7 124.2,1586.2 124.2,1588.7 124.3,1591.2 124.4,1593.7 124.5,1596.3 124.5,1598.8 124.6,1601.3 124.7,1603.8 124.8,1606.3 124.8,1608.8 124.9,1611.3 125.0,1613.9 125.1,1616.4 125.1,1618.9 125.2,1621.4 125.3,1623.9 125.4,1626.4 125.4,1629.0 125.5,1631.5 125.6,1634.0 125.7,1636.5 125.7,1639.0 125.8,1641.6 125.9,1644.1 126.0,1646.6 126.1,1649.1 126.1,1651.6 126.2,1654.2 126.3,1656.7 126.4,1659.2 126.5,1661.7 126.5,1664.3 126.6,1666.8 126.7,1669.3 126.8,1671.8 126.9,1674.4 127.0,1676.9 127.0,1679.4 127.1,1681.9 127.2,1684.4 127.3,1687.0 127.4,1689.5 127.5,1692.0 127.6,1694.5 127.7,1697.1 127.8,1699.6 127.9,1702.1 128.0,1704.6 128.1,1707.2 128.2,1709.7 128.3,1712.2 128.4,1714.7 128.5,1717.3 128.6,1719.8 128.7,1722.3 128.8,1724.8 128.9,1727.4 129.1,1729.9 129.2,1732.4 129.3,1734.9 129.4,1737.5 129.5,1740.0 129.7,1742.5 129.8,1745.0 129.9,1747.5 130.1,1750.1 130.2,1752.6 130.3,1755.1 130.5,1757.6 130.6,1760.1 130.8,1762.7 130.9,1765.2 131.1,1767.7 131.2,1770.2 131.4,1772.7 131.5,1775.3 131.7,1777.8 131.8,1780.3 132.0,1782.8 132.2,1785.3 132.3,1787.9 132.5,1790.4 132.7,1792.9 132.9,1795.4 133.1,1797.9 133.3,1800.4 133.5,1802.9 133.7,1805.5 133.9,1808.0 134.1,1810.5 134.3,1813.0 134.5,1815.5 134.7,1818.0 134.9,1820.5 135.1,1823.0 135.4,1825.5 135.6,1828.1 135.8,1830.6 136.1,1833.1 136.3,1835.6 136.6,1838.1 136.8,1840.6 137.1,1843.1 137.3,1845.6 137.6,1848.1 137.9,1850.6 138.1,1853.1 138.4,1855.6 138.7,1858.1 139.0,1860.6 139.3,1863.1 139.6,1865.7 139.9,1868.2 140.2,1870.7 140.5,1873.2 140.8,1875.7 141.1,1878.3 141.4,1880.8 141.8,1883.3 142.1,1885.9 142.4,1888.4 142.8,1890.9 143.1,1893.5 143.5,1896.0 144.0,1898.5 144.6,1900.8 145.5,1902.9 146.7,1904.8 148.3,1906.4 150.1,1907.9 151.8,1909.6 153.3,1911.6 154.6,1914.0 155.7,1916.6 156.7,1919.1 158.0,1921.5 159.4,1923.3 161.2,1924.7 163.3,1925.6 165.5,1926.1 168.0,1926.4 170.4,1926.6 173.0,1926.7 175.5,1926.9 178.0,1927.0 180.5,1927.1 183.0,1927.2 185.5,1927.3 188.0,1927.4 190.5,1927.5 193.0,1927.6 195.5,1927.7 198.0,1927.8 200.5,1927.9 203.0,1927.9 205.5,1928.0 208.1,1928.1 210.6,1928.1 213.1,1928.2 215.6,1928.2 218.1,1928.2 220.6,1928.3 223.1,1928.3 225.6,1928.3 228.1,1928.4 230.6,1928.4 233.1,1928.4 235.7,1928.4 238.2,1928.4 240.7,1928.4 243.2,1928.4 245.7,1928.4 248.2,1928.4 250.7,1928.4 253.2,1928.4 255.7,1928.4 258.3,1928.4 260.8,1928.4 263.3,1928.4 265.8,1928.4 268.3,1928.4 270.8,1928.4 273.3,1928.4 275.8,1928.4 278.4,1928.4 280.9,1928.3 283.4,1928.3 285.9,1928.3 288.4,1928.3 290.9,1928.3 293.4,1928.3 295.9,1928.3 298.4,1928.3 301.0,1928.3 303.5,1928.3 306.0,1928.3 308.5,1928.2 311.0,1928.2 313.5,1928.2 316.0,1928.2 318.5,1928.2 321.0,1928.2 323.6,1928.2 326.1,1928.2 328.6,1928.2 331.1,1928.2 333.6,1928.2 336.1,1928.2 338.6,1928.2 341.1,1928.2 343.6,1928.2 346.2,1928.2 348.7,1928.2 351.2,1928.2 353.7,1928.2 356.2,1928.2 358.7,1928.2 361.2,1928.2 363.7,1928.2 366.2,1928.2 368.8,1928.2 371.3,1928.2 373.8,1928.2 376.3,1928.2 378.8,1928.2 381.3,1928.2 383.8,1928.2 386.3,1928.2 388.8,1928.2 391.3,1928.2 393.9,1928.2 396.4,1928.2 398.9,1928.2 401.4,1928.3 403.9,1928.3 406.4,1928.3 408.9,1928.3 411.4,1928.3 413.9,1928.3 416.5,1928.3 419.0,1928.3 421.5,1928.3 424.0,1928.3 426.5,1928.3 429.0,1928.3 431.5,1928.3 434.0,1928.3 436.5,1928.3 439.0,1928.3 441.6,1928.3 444.1,1928.3 446.6,1928.3 449.1,1928.3 451.6,1928.3 454.1,1928.3 456.6,1928.3 459.1,1928.3 461.6,1928.3 464.2,1928.3 466.7,1928.3 469.2,1928.3 471.7,1928.3 474.2,1928.3 476.7,1928.3 479.2,1928.3 481.7,1928.3 484.2,1928.3 486.8,1928.3 489.3,1928.3 491.8,1928.3 494.3,1928.3 496.8,1928.3 499.3,1928.3 501.8,1928.3 504.3,1928.3 506.8,1928.3 509.4,1928.3 511.9,1928.3 514.4,1928.3 516.9,1928.3 519.4,1928.3 521.9,1928.3 524.4,1928.3" fill="none" stroke="#1f80de" stroke-width="3" stroke-linejoin="round" stroke-linecap="round"/>
<path d="M120.1,1928.6 120.1,1843.8 120.8,1841.3 121.6,1838.9 122.3,1836.5 123.1,1834.1 123.9,1831.7 124.7,1829.4 125.5,1827.1 126.3,1824.7 127.1,1822.4 128.0,1820.1 128.9,1817.8 129.8,1815.4 130.8,1813.1 131.8,1810.7 132.8,1808.3 133.9,1806.0 135.0,1803.7 136.3,1801.5 137.7,1799.4 139.2,1797.5 140.8,1795.7 142.6,1794.0 144.5,1792.6 146.7,1791.5 149.0,1790.6 151.4,1790.1 153.9,1790.0 156.3,1790.5 158.6,1791.4 160.8,1792.6 163.0,1794.0 165.1,1795.4 167.1,1796.8 169.1,1798.3 171.1,1799.8 173.0,1801.3 175.0,1802.9 176.9,1804.5 178.9,1806.1 180.8,1807.7 182.8,1809.3 184.8,1810.9 186.8,1812.4 188.9,1813.9 190.9,1815.4 193.0,1816.9 195.1,1818.2 197.3,1819.5 199.5,1820.8 201.7,1822.0 203.9,1823.1 206.2,1824.1 208.5,1825.0 210.8,1825.9 213.2,1826.7 215.6,1827.4 218.0,1828.1 220.4,1828.6 222.8,1829.1 225.2,1829.5 227.7,1829.8 230.2,1830.0 232.7,1830.2 235.1,1830.2 237.6,1830.2 240.1,1830.1 242.6,1829.9 245.1,1829.6 247.6,1829.1 250.1,1828.7 252.6,1828.1 255.1,1827.4 257.6,1826.6 260.0,1825.7 262.3,1824.7 264.6,1823.6 266.8,1822.5 269.0,1821.2 271.0,1819.8 272.9,1818.3 274.8,1816.8 276.6,1815.2 278.3,1813.5 280.1,1811.8 281.8,1810.0 283.4,1808.1 285.1,1806.2 286.7,1804.3 288.2,1802.3 289.8,1800.3 291.3,1798.2 292.8,1796.2 294.2,1794.1 295.7,1792.0 297.1,1789.9 298.4,1787.7 299.8,1785.6 301.1,1783.5 302.4,1781.3 303.7,1779.1 304.9,1776.9 306.1,1774.7 307.3,1772.5 308.5,1770.3 309.6,1768.1 310.7,1765.8 311.8,1763.6 312.9,1761.3 313.9,1759.0 315.0,1756.8 316.0,1754.5 317.0,1752.2 317.9,1749.9 318.9,1747.6 319.8,1745.2 320.7,1742.9 321.6,1740.6 322.5,1738.2 323.4,1735.9 324.2,1733.5 325.1,1731.1 325.9,1728.8 326.7,1726.4 327.5,1724.0 328.2,1721.6 329.0,1719.2 329.7,1716.8 330.5,1714.4 331.2,1712.0 331.9,1709.6 332.6,1707.2 333.3,1704.8 334.0,1702.4 334.6,1699.9 335.3,1697.5 335.9,1695.1 336.6,1692.7 337.2,1690.2 337.8,1687.8 338.5,1685.3 339.1,1682.9 339.7,1680.5 340.3,1678.0 340.9,1675.6 341.5,1673.1 342.1,1670.7 342.7,1668.3 343.3,1665.8 343.8,1663.4 344.4,1660.9 345.0,1658.5 345.6,1656.0 346.2,1653.6 346.8,1651.2 347.3,1648.7 347.9,1646.3 348.5,1643.8 349.1,1641.4 349.7,1639.0 350.3,1636.5 350.9,1634.1 351.5,1631.7 352.1,1629.2 352.7,1626.8 353.4,1624.4 354.0,1621.9 354.6,1619.5 355.3,1617.1 355.9,1614.7 356.6,1612.2 357.3,1609.8 358.0,1607.4 358.7,1605.0 359.4,1602.6 360.1,1600.2 360.8,1597.8 361.6,1595.4 362.3,1593.0 363.1,1590.6 363.9,1588.2 364.7,1585.8 365.5,1583.5 366.4,1581.1 367.2,1578.7 368.1,1576.4 369.0,1574.0 369.9,1571.6 370.8,1569.3 371.8,1566.9 372.7,1564.6 373.7,1562.3 374.8,1560.0 375.8,1557.8 376.9,1555.5 378.1,1553.3 379.3,1551.1 380.5,1548.9 381.7,1546.8 383.1,1544.7 384.5,1542.7 386.0,1540.8 387.7,1538.9 389.5,1537.2 391.6,1535.6 393.8,1534.2 396.1,1533.1 398.5,1532.3 401.0,1531.9 403.4,1531.9 405.8,1532.2 408.1,1532.8 410.4,1533.8 412.6,1535.0 414.7,1536.3 416.7,1537.9 418.5,1539.6 420.2,1541.5 421.8,1543.4 423.2,1545.4 424.5,1547.5 425.7,1549.7 426.8,1551.9 427.8,1554.2 428.8,1556.5 429.8,1558.9 430.7,1561.2 431.6,1563.6 432.5,1565.9 433.3,1568.3 434.2,1570.7 435.0,1573.1 435.8,1575.4 436.6,1577.8 437.4,1580.2 438.2,1582.6 439.0,1585.0 439.7,1587.4 440.5,1589.8 441.2,1592.2 441.9,1594.6 442.6,1597.0 443.3,1599.4 444.0,1601.9 444.7,1604.3 445.3,1606.7 446.0,1609.1 446.6,1611.5 447.3,1614.0 447.9,1616.4 448.5,1618.8 449.1,1621.3 449.7,1623.7 450.3,1626.1 450.9,1628.6 451.5,1631.0 452.1,1633.5 452.6,1635.9 453.2,1638.4 453.8,1640.8 454.3,1643.3 454.9,1645.7 455.4,1648.2 456.0,1650.6 456.5,1653.1 457.0,1655.5 457.6,1658.0 458.1,1660.4 458.6,1662.9 459.2,1665.3 459.7,1667.8 460.2,1670.3 460.8,1672.7 461.3,1675.2 461.8,1677.6 462.3,1680.1 462.9,1682.5 463.4,1685.0 463.9,1687.4 464.4,1689.9 465.0,1692.4 465.5,1694.8 466.0,1697.3 466.6,1699.7 467.1,1702.2 467.6,1704.6 468.2,1707.1 468.7,1709.5 469.2,1712.0 469.8,1714.4 470.3,1716.9 470.9,1719.3 471.4,1721.8 471.9,1724.2 472.5,1726.7 473.0,1729.2 473.6,1731.6 474.1,1734.1 474.7,1736.5 475.2,1739.0 475.8,1741.4 476.3,1743.9 476.9,1746.3 477.4,1748.8 478.0,1751.2 478.5,1753.7 479.1,1756.1 479.6,1758.6 480.2,1761.0 480.8,1763.4 481.3,1765.9 481.9,1768.3 482.4,1770.8 483.0,1773.2 483.6,1775.7 484.2,1778.1 484.7,1780.6 485.3,1783.0 485.9,1785.5 486.5,1787.9 487.0,1790.4 487.6,1792.8 488.2,1795.2 488.8,1797.7 489.4,1800.1 490.0,1802.6 490.6,1805.0 491.2,1807.5 491.8,1809.9 492.4,1812.3 493.0,1814.8 493.6,1817.2 494.2,1819.7 494.8,1822.1 495.4,1824.5 496.1,1827.0 496.7,1829.4 497.4,1831.8 498.0,1834.2 498.7,1836.7 499.3,1839.1 500.0,1841.5 500.7,1843.9 501.4,1846.3 502.1,1848.7 502.8,1851.2 503.5,1853.6 504.2,1856.0 505.0,1858.4 505.7,1860.8 506.5,1863.1 507.2,1865.5 508.0,1867.9 508.8,1870.3 509.6,1872.7 510.4,1875.0 511.3,1877.4 512.1,1879.8 513.0,1882.1 513.8,1884.5 514.7,1886.8 515.6,1889.2 516.5,1891.5 517.5,1893.8 518.4,1896.2 519.4,1898.5 520.3,1900.8 521.3,1903.1 522.3,1905.4 523.4,1907.7 524.4,1910.0 524.4,1928.6 Z" fill="rgba(45,224,0,0.3)" stroke="none"/>
<path d="M120.1,1843.8 120.8,1841.3 121.6,1838.9 122.3,1836.5 123.1,1834.1 123.9,1831.7 124.7,1829.4 125.5,1827.1 126.3,1824.7 127.1,1822.4 128.0,1820.1 128.9,1817.8 129.8,1815.4 130.8,1813.1 131.8,1810.7 132.8,1808.3 133.9,1806.0 135.0,1803.7 136.3,1801.5 137.7,1799.4 139.2,1797.5 140.8,1795.7 142.6,1794.0 144.5,1792.6 146.7,1791.5 149.0,1790.6 151.4,1790.1 153.9,1790.0 156.3,1790.5 158.6,1791.4 160.8,1792.6 163.0,1794.0 165.1,1795.4 167.1,1796.8 169.1,1798.3 171.1,1799.8 173.0,1801.3 175.0,1802.9 176.9,1804.5 178.9,1806.1 180.8,1807.7 182.8,1809.3 184.8,1810.9 186.8,1812.4 188.9,1813.9 190.9,1815.4 193.0,1816.9 195.1,1818.2 197.3,1819.5 199.5,1820.8 201.7,1822.0 203.9,1823.1 206.2,1824.1 208.5,1825.0 210.8,1825.9 213.2,1826.7 215.6,1827.4 218.0,1828.1 220.4,1828.6 222.8,1829.1 225.2,1829.5 227.7,1829.8 230.2,1830.0 232.7,1830.2 235.1,1830.2 237.6,1830.2 240.1,1830.1 242.6,1829.9 245.1,1829.6 247.6,1829.1 250.1,1828.7 252.6,1828.1 255.1,1827.4 257.6,1826.6 260.0,1825.7 262.3,1824.7 264.6,1823.6 266.8,1822.5 269.0,1821.2 271.0,1819.8 272.9,1818.3 274.8,1816.8 276.6,1815.2 278.3,1813.5 280.1,1811.8 281.8,1810.0 283.4,1808.1 285.1,1806.2 286.7,1804.3 288.2,1802.3 289.8,1800.3 291.3,1798.2 292.8,1796.2 294.2,1794.1 295.7,1792.0 297.1,1789.9 298.4,1787.7 299.8,1785.6 301.1,1783.5 302.4,1781.3 303.7,1779.1 304.9,1776.9 306.1,1774.7 307.3,1772.5 308.5,1770.3 309.6,1768.1 310.7,1765.8 311.8,1763.6 312.9,1761.3 313.9,1759.0 315.0,1756.8 316.0,1754.5 317.0,1752.2 317.9,1749.9 318.9,1747.6 319.8,1745.2 320.7,1742.9 321.6,1740.6 322.5,1738.2 323.4,1735.9 324.2,1733.5 325.1,1731.1 325.9,1728.8 326.7,1726.4 327.5,1724.0 328.2,1721.6 329.0,1719.2 329.7,1716.8 330.5,1714.4 331.2,1712.0 331.9,1709.6 332.6,1707.2 333.3,1704.8 334.0,1702.4 334.6,1699.9 335.3,1697.5 335.9,1695.1 336.6,1692.7 337.2,1690.2 337.8,1687.8 338.5,1685.3 339.1,1682.9 339.7,1680.5 340.3,1678.0 340.9,1675.6 341.5,1673.1 342.1,1670.7 342.7,1668.3 343.3,1665.8 343.8,1663.4 344.4,1660.9 345.0,1658.5 345.6,1656.0 346.2,1653.6 346.8,1651.2 347.3,1648.7 347.9,1646.3 348.5,1643.8 349.1,1641.4 349.7,1639.0 350.3,1636.5 350.9,1634.1 351.5,1631.7 352.1,1629.2 352.7,1626.8 353.4,1624.4 354.0,1621.9 354.6,1619.5 355.3,1617.1 355.9,1614.7 356.6,1612.2 357.3,1609.8 358.0,1607.4 358.7,1605.0 359.4,1602.6 360.1,1600.2 360.8,1597.8 361.6,1595.4 362.3,1593.0 363.1,1590.6 363.9,1588.2 364.7,1585.8 365.5,1583.5 366.4,1581.1 367.2,1578.7 368.1,1576.4 369.0,1574.0 369.9,1571.6 370.8,1569.3 371.8,1566.9 372.7,1564.6 373.7,1562.3 374.8,1560.0 375.8,1557.8 376.9,1555.5 378.1,1553.3 379.3,1551.1 380.5,1548.9 381.7,1546.8 383.1,1544.7 384.5,1542.7 386.0,1540.8 387.7,1538.9 389.5,1537.2 391.6,1535.6 393.8,1534.2 396.1,1533.1 398.5,1532.3 401.0,1531.9 403.4,1531.9 405.8,1532.2 408.1,1532.8 410.4,1533.8 412.6,1535.0 414.7,1536.3 416.7,1537.9 418.5,1539.6 420.2,1541.5 421.8,1543.4 423.2,1545.4 424.5,1547.5 425.7,1549.7 426.8,1551.9 427.8,1554.2 428.8,1556.5 429.8,1558.9 430.7,1561.2 431.6,1563.6 432.5,1565.9 433.3,1568.3 434.2,1570.7 435.0,1573.1 435.8,1575.4 436.6,1577.8 437.4,1580.2 438.2,1582.6 439.0,1585.0 439.7,1587.4 440.5,1589.8 441.2,1592.2 441.9,1594.6 442.6,1597.0 443.3,1599.4 444.0,1601.9 444.7,1604.3 445.3,1606.7 446.0,1609.1 446.6,1611.5 447.3,1614.0 447.9,1616.4 448.5,1618.8 449.1,1621.3 449.7,1623.7 450.3,1626.1 450.9,1628.6 451.5,1631.0 452.1,1633.5 452.6,1635.9 453.2,1638.4 453.8,1640.8 454.3,1643.3 454.9,1645.7 455.4,1648.2 456.0,1650.6 456.5,1653.1 457.0,1655.5 457.6,1658.0 458.1,1660.4 458.6,1662.9 459.2,1665.3 459.7,1667.8 460.2,1670.3 460.8,1672.7 461.3,1675.2 461.8,1677.6 462.3,1680.1 462.9,1682.5 463.4,1685.0 463.9,1687.4 464.4,1689.9 465.0,1692.4 465.5,1694.8 466.0,1697.3 466.6,1699.7 467.1,1702.2 467.6,1704.6 468.2,1707.1 468.7,1709.5 469.2,1712.0 469.8,1714.4 470.3,1716.9 470.9,1719.3 471.4,1721.8 471.9,1724.2 472.5,1726.7 473.0,1729.2 473.6,1731.6 474.1,1734.1 474.7,1736.5 475.2,1739.0 475.8,1741.4 476.3,1743.9 476.9,1746.3 477.4,1748.8 478.0,1751.2 478.5,1753.7 479.1,1756.1 479.6,1758.6 480.2,1761.0 480.8,1763.4 481.3,1765.9 481.9,1768.3 482.4,1770.8 483.0,1773.2 483.6,1775.7 484.2,1778.1 484.7,1780.6 485.3,1783.0 485.9,1785.5 486.5,1787.9 487.0,1790.4 487.6,1792.8 488.2,1795.2 488.8,1797.7 489.4,1800.1 490.0,1802.6 490.6,1805.0 491.2,1807.5 491.8,1809.9 492.4,1812.3 493.0,1814.8 493.6,1817.2 494.2,1819.7 494.8,1822.1 495.4,1824.5 496.1,1827.0 496.7,1829.4 497.4,1831.8 498.0,1834.2 498.7,1836.7 499.3,1839.1 500.0,1841.5 500.7,1843.9 501.4,1846.3 502.1,1848.7 502.8,1851.2 503.5,1853.6 504.2,1856.0 505.0,1858.4 505.7,1860.8 506.5,1863.1 507.2,1865.5 508.0,1867.9 508.8,1870.3 509.6,1872.7 510.4,1875.0 511.3,1877.4 512.1,1879.8 513.0,1882.1 513.8,1884.5 514.7,1886.8 515.6,1889.2 516.5,1891.5 517.5,1893.8 518.4,1896.2 519.4,1898.5 520.3,1900.8 521.3,1903.1 522.3,1905.4 523.4,1907.7 524.4,1910.0" fill="none" stroke="#2de000" stroke-width="3" stroke-linejoin="round" stroke-linecap="round"/>
<rect x="97.7" y="1927.3" width="2.6" height="2.6" fill="#111"/>
<text transform="translate(90.6,1933.5) scale(1,1.02)" font-size="21.8" text-anchor="end" fill="#1c2626">0.00</text>
<rect x="97.7" y="1828.1" width="2.6" height="2.6" fill="#111"/>
<text transform="translate(90.6,1834.3) scale(1,1.02)" font-size="21.8" text-anchor="end" fill="#1c2626">0.25</text>
<rect x="97.7" y="1728.9" width="2.6" height="2.6" fill="#111"/>
<text transform="translate(90.6,1735.1) scale(1,1.02)" font-size="21.8" text-anchor="end" fill="#1c2626">0.50</text>
<rect x="97.7" y="1629.7" width="2.6" height="2.6" fill="#111"/>
<text transform="translate(90.6,1635.9) scale(1,1.02)" font-size="21.8" text-anchor="end" fill="#1c2626">0.75</text>
<rect x="97.7" y="1530.5" width="2.6" height="2.6" fill="#111"/>
<text transform="translate(90.6,1536.7) scale(1,1.02)" font-size="21.8" text-anchor="end" fill="#1c2626">1.00</text>
<rect x="118.8" y="1948.14" width="2.8" height="8.1" fill="#111"/>
<rect x="219.9" y="1948.14" width="2.8" height="8.1" fill="#111"/>
<rect x="321" y="1948.14" width="2.8" height="8.1" fill="#111"/>
<rect x="422.1" y="1948.14" width="2.8" height="8.1" fill="#111"/>
<rect x="523.2" y="1948.14" width="2.8" height="8.1" fill="#111"/>
<line x1="551.1" y1="1511.96" x2="551.1" y2="1956.44" stroke="#808080" stroke-width="1.5"/>
<rect x="111.98" y="1992.12" width="434.84" height="437.25" fill="#fcfbf9"/>
<line x1="122.2" y1="1992.12" x2="122.2" y2="2429.38" stroke="#e8e8e6" stroke-width="2.0"/>
<line x1="101.98" y1="2409.5" x2="546.82" y2="2409.5" stroke="#e8e8e6" stroke-width="2.0"/>
<line x1="172.75" y1="1992.12" x2="172.75" y2="2429.38" stroke="#e8e8e6" stroke-width="1.4"/>
<line x1="101.98" y1="2359.81" x2="546.82" y2="2359.81" stroke="#e8e8e6" stroke-width="1.4"/>
<line x1="223.3" y1="1992.12" x2="223.3" y2="2429.38" stroke="#e8e8e6" stroke-width="2.0"/>
<line x1="101.98" y1="2310.12" x2="546.82" y2="2310.12" stroke="#e8e8e6" stroke-width="2.0"/>
<line x1="273.85" y1="1992.12" x2="273.85" y2="2429.38" stroke="#e8e8e6" stroke-width="1.4"/>
<line x1="101.98" y1="2260.44" x2="546.82" y2="2260.44" stroke="#e8e8e6" stroke-width="1.4"/>
<line x1="324.4" y1="1992.12" x2="324.4" y2="2429.38" stroke="#e8e8e6" stroke-width="2.0"/>
<line x1="101.98" y1="2210.75" x2="546.82" y2="2210.75" stroke="#e8e8e6" stroke-width="2.0"/>
<line x1="374.95" y1="1992.12" x2="374.95" y2="2429.38" stroke="#e8e8e6" stroke-width="1.4"/>
<line x1="101.98" y1="2161.06" x2="546.82" y2="2161.06" stroke="#e8e8e6" stroke-width="1.4"/>
<line x1="425.5" y1="1992.12" x2="425.5" y2="2429.38" stroke="#e8e8e6" stroke-width="2.0"/>
<line x1="101.98" y1="2111.38" x2="546.82" y2="2111.38" stroke="#e8e8e6" stroke-width="2.0"/>
<line x1="476.05" y1="1992.12" x2="476.05" y2="2429.38" stroke="#e8e8e6" stroke-width="1.4"/>
<line x1="101.98" y1="2061.69" x2="546.82" y2="2061.69" stroke="#e8e8e6" stroke-width="1.4"/>
<line x1="526.6" y1="1992.12" x2="526.6" y2="2429.38" stroke="#e8e8e6" stroke-width="2.0"/>
<line x1="101.98" y1="2012" x2="546.82" y2="2012" stroke="#e8e8e6" stroke-width="2.0"/>
<path d="M121.7,2409.5 121.7,2105.4 121.8,2102.9 121.9,2100.4 122.0,2097.9 122.1,2095.3 122.2,2092.8 122.3,2090.3 122.4,2087.8 122.5,2085.3 122.6,2082.8 122.7,2080.2 122.8,2077.7 122.9,2075.2 123.0,2072.7 123.1,2070.2 123.2,2067.6 123.3,2065.1 123.4,2062.6 123.5,2060.1 123.6,2057.6 123.7,2055.1 123.8,2052.6 124.0,2050.1 124.1,2047.6 124.3,2045.1 124.4,2042.6 124.6,2040.0 124.8,2037.5 124.9,2035.0 125.1,2032.4 125.4,2029.9 125.6,2027.4 125.8,2024.9 126.0,2022.6 126.2,2020.3 126.5,2017.4 127.0,2014.3 127.6,2012.1 128.4,2012.1 129.3,2014.2 129.9,2016.7 130.3,2019.2 130.5,2021.7 130.6,2024.2 130.8,2026.8 130.9,2029.3 131.1,2031.8 131.2,2034.3 131.4,2036.8 131.6,2039.3 131.7,2041.9 131.9,2044.4 132.1,2046.9 132.2,2049.4 132.4,2051.9 132.6,2054.4 132.8,2056.9 133.0,2059.4 133.2,2062.0 133.3,2064.5 133.5,2067.0 133.7,2069.5 133.9,2072.0 134.1,2074.5 134.3,2077.0 134.5,2079.5 134.7,2082.0 134.9,2084.5 135.1,2087.1 135.3,2089.6 135.5,2092.1 135.7,2094.6 135.9,2097.1 136.1,2099.6 136.3,2102.1 136.5,2104.6 136.8,2107.1 137.0,2109.6 137.2,2112.1 137.4,2114.6 137.6,2117.1 137.8,2119.7 138.0,2122.2 138.3,2124.7 138.5,2127.2 138.7,2129.7 138.9,2132.2 139.1,2134.7 139.4,2137.2 139.6,2139.7 139.8,2142.2 140.0,2144.7 140.2,2147.2 140.5,2149.7 140.7,2152.3 140.9,2154.8 141.2,2157.3 141.4,2159.8 141.6,2162.3 141.8,2164.8 142.1,2167.3 142.3,2169.8 142.6,2172.3 142.8,2174.8 143.0,2177.3 143.3,2179.8 143.5,2182.3 143.8,2184.8 144.0,2187.3 144.2,2189.9 144.5,2192.4 144.7,2194.9 145.0,2197.4 145.3,2199.9 145.5,2202.4 145.8,2204.9 146.0,2207.4 146.3,2209.9 146.5,2212.4 146.8,2214.9 147.1,2217.4 147.3,2219.9 147.6,2222.4 147.9,2224.9 148.2,2227.4 148.4,2229.9 148.7,2232.4 149.0,2234.9 149.3,2237.4 149.6,2239.9 150.0,2242.4 150.3,2244.9 150.7,2247.4 151.1,2249.8 151.6,2252.3 152.1,2254.8 152.6,2257.2 153.2,2259.7 153.8,2262.1 154.4,2264.6 155.1,2267.0 155.7,2269.4 156.4,2271.9 157.1,2274.3 157.8,2276.7 158.5,2279.2 159.1,2281.6 159.7,2284.0 160.3,2286.5 161.0,2288.9 161.6,2291.3 162.2,2293.8 162.8,2296.2 163.4,2298.6 164.1,2301.1 164.8,2303.5 165.5,2305.9 166.2,2308.3 167.0,2310.7 167.8,2313.1 168.6,2315.5 169.4,2317.9 170.3,2320.3 171.2,2322.6 172.1,2324.9 173.1,2327.3 174.0,2329.6 175.0,2331.8 176.0,2334.1 177.0,2336.4 178.0,2338.7 178.9,2341.0 179.9,2343.3 180.8,2345.6 181.7,2348.0 182.6,2350.4 183.5,2352.8 184.3,2355.2 185.2,2357.6 186.1,2360.1 187.0,2362.5 187.9,2364.8 189.0,2367.1 190.1,2369.3 191.3,2371.5 192.7,2373.5 194.2,2375.4 195.8,2377.2 197.5,2379.0 199.4,2380.6 201.3,2382.1 203.4,2383.6 205.5,2385.0 207.6,2386.3 209.8,2387.6 212.0,2388.8 214.3,2390.1 216.5,2391.3 218.7,2392.4 221.0,2393.5 223.3,2394.6 225.5,2395.6 227.8,2396.6 230.2,2397.5 232.5,2398.3 234.9,2399.1 237.3,2399.8 239.7,2400.4 242.1,2401.0 244.6,2401.5 247.0,2402.0 249.5,2402.4 252.0,2402.9 254.5,2403.2 256.9,2403.6 259.4,2404.0 261.9,2404.3 264.4,2404.7 266.9,2405.0 269.4,2405.3 271.9,2405.6 274.4,2405.8 276.9,2406.0 279.4,2406.1 281.9,2406.2 284.4,2406.3 286.9,2406.3 289.4,2406.2 291.9,2406.1 294.4,2406.0 296.9,2405.9 299.4,2405.8 301.9,2405.7 304.4,2405.6 306.9,2405.6 309.4,2405.6 311.9,2405.7 314.4,2405.8 316.9,2405.9 319.4,2406.1 321.9,2406.3 324.4,2406.6 326.9,2406.8 329.4,2407.0 331.9,2407.2 334.4,2407.3 336.9,2407.4 339.4,2407.5 341.9,2407.5 344.4,2407.5 346.9,2407.5 349.4,2407.4 351.9,2407.3 354.4,2407.2 356.9,2407.1 359.4,2406.9 361.9,2406.7 364.4,2406.5 366.9,2406.2 369.4,2406.0 371.9,2405.7 374.4,2405.4 376.9,2405.1 379.4,2404.8 381.9,2404.5 384.4,2404.2 386.9,2403.9 389.4,2403.5 391.9,2403.2 394.4,2402.9 396.8,2402.6 399.3,2402.2 401.8,2401.9 404.3,2401.6 406.8,2401.3 409.2,2401.0 411.7,2400.8 414.2,2400.5 416.7,2400.3 419.1,2400.1 421.6,2399.9 424.1,2399.7 426.6,2399.6 429.1,2399.5 431.6,2399.4 434.1,2399.3 436.7,2399.3 439.2,2399.2 441.7,2399.2 444.2,2399.0 446.7,2398.8 449.1,2398.5 451.5,2398.0 453.9,2397.4 456.2,2396.8 458.5,2396.0 460.9,2395.1 463.3,2394.2 465.7,2393.3 468.1,2392.5 470.5,2392.0 472.9,2391.9 475.4,2392.1 477.8,2392.7 480.3,2393.4 482.7,2394.1 485.1,2394.9 487.6,2395.6 490.0,2396.3 492.4,2397.1 494.8,2397.8 497.2,2398.5 499.6,2399.3 502.0,2400.0 504.4,2400.7 506.7,2401.5 509.1,2402.2 511.5,2402.9 513.9,2403.6 516.3,2404.3 518.7,2405.0 521.2,2405.7 523.6,2406.4 526.0,2407.1 526.0,2409.5 Z" fill="rgba(255,110,173,0.3)" stroke="none"/>
<path d="M121.7,2105.4 121.8,2102.9 121.9,2100.4 122.0,2097.9 122.1,2095.3 122.2,2092.8 122.3,2090.3 122.4,2087.8 122.5,2085.3 122.6,2082.8 122.7,2080.2 122.8,2077.7 122.9,2075.2 123.0,2072.7 123.1,2070.2 123.2,2067.6 123.3,2065.1 123.4,2062.6 123.5,2060.1 123.6,2057.6 123.7,2055.1 123.8,2052.6 124.0,2050.1 124.1,2047.6 124.3,2045.1 124.4,2042.6 124.6,2040.0 124.8,2037.5 124.9,2035.0 125.1,2032.4 125.4,2029.9 125.6,2027.4 125.8,2024.9 126.0,2022.6 126.2,2020.3 126.5,2017.4 127.0,2014.3 127.6,2012.1 128.4,2012.1 129.3,2014.2 129.9,2016.7 130.3,2019.2 130.5,2021.7 130.6,2024.2 130.8,2026.8 130.9,2029.3 131.1,2031.8 131.2,2034.3 131.4,2036.8 131.6,2039.3 131.7,2041.9 131.9,2044.4 132.1,2046.9 132.2,2049.4 132.4,2051.9 132.6,2054.4 132.8,2056.9 133.0,2059.4 133.2,2062.0 133.3,2064.5 133.5,2067.0 133.7,2069.5 133.9,2072.0 134.1,2074.5 134.3,2077.0 134.5,2079.5 134.7,2082.0 134.9,2084.5 135.1,2087.1 135.3,2089.6 135.5,2092.1 135.7,2094.6 135.9,2097.1 136.1,2099.6 136.3,2102.1 136.5,2104.6 136.8,2107.1 137.0,2109.6 137.2,2112.1 137.4,2114.6 137.6,2117.1 137.8,2119.7 138.0,2122.2 138.3,2124.7 138.5,2127.2 138.7,2129.7 138.9,2132.2 139.1,2134.7 139.4,2137.2 139.6,2139.7 139.8,2142.2 140.0,2144.7 140.2,2147.2 140.5,2149.7 140.7,2152.3 140.9,2154.8 141.2,2157.3 141.4,2159.8 141.6,2162.3 141.8,2164.8 142.1,2167.3 142.3,2169.8 142.6,2172.3 142.8,2174.8 143.0,2177.3 143.3,2179.8 143.5,2182.3 143.8,2184.8 144.0,2187.3 144.2,2189.9 144.5,2192.4 144.7,2194.9 145.0,2197.4 145.3,2199.9 145.5,2202.4 145.8,2204.9 146.0,2207.4 146.3,2209.9 146.5,2212.4 146.8,2214.9 147.1,2217.4 147.3,2219.9 147.6,2222.4 147.9,2224.9 148.2,2227.4 148.4,2229.9 148.7,2232.4 149.0,2234.9 149.3,2237.4 149.6,2239.9 150.0,2242.4 150.3,2244.9 150.7,2247.4 151.1,2249.8 151.6,2252.3 152.1,2254.8 152.6,2257.2 153.2,2259.7 153.8,2262.1 154.4,2264.6 155.1,2267.0 155.7,2269.4 156.4,2271.9 157.1,2274.3 157.8,2276.7 158.5,2279.2 159.1,2281.6 159.7,2284.0 160.3,2286.5 161.0,2288.9 161.6,2291.3 162.2,2293.8 162.8,2296.2 163.4,2298.6 164.1,2301.1 164.8,2303.5 165.5,2305.9 166.2,2308.3 167.0,2310.7 167.8,2313.1 168.6,2315.5 169.4,2317.9 170.3,2320.3 171.2,2322.6 172.1,2324.9 173.1,2327.3 174.0,2329.6 175.0,2331.8 176.0,2334.1 177.0,2336.4 178.0,2338.7 178.9,2341.0 179.9,2343.3 180.8,2345.6 181.7,2348.0 182.6,2350.4 183.5,2352.8 184.3,2355.2 185.2,2357.6 186.1,2360.1 187.0,2362.5 187.9,2364.8 189.0,2367.1 190.1,2369.3 191.3,2371.5 192.7,2373.5 194.2,2375.4 195.8,2377.2 197.5,2379.0 199.4,2380.6 201.3,2382.1 203.4,2383.6 205.5,2385.0 207.6,2386.3 209.8,2387.6 212.0,2388.8 214.3,2390.1 216.5,2391.3 218.7,2392.4 221.0,2393.5 223.3,2394.6 225.5,2395.6 227.8,2396.6 230.2,2397.5 232.5,2398.3 234.9,2399.1 237.3,2399.8 239.7,2400.4 242.1,2401.0 244.6,2401.5 247.0,2402.0 249.5,2402.4 252.0,2402.9 254.5,2403.2 256.9,2403.6 259.4,2404.0 261.9,2404.3 264.4,2404.7 266.9,2405.0 269.4,2405.3 271.9,2405.6 274.4,2405.8 276.9,2406.0 279.4,2406.1 281.9,2406.2 284.4,2406.3 286.9,2406.3 289.4,2406.2 291.9,2406.1 294.4,2406.0 296.9,2405.9 299.4,2405.8 301.9,2405.7 304.4,2405.6 306.9,2405.6 309.4,2405.6 311.9,2405.7 314.4,2405.8 316.9,2405.9 319.4,2406.1 321.9,2406.3 324.4,2406.6 326.9,2406.8 329.4,2407.0 331.9,2407.2 334.4,2407.3 336.9,2407.4 339.4,2407.5 341.9,2407.5 344.4,2407.5 346.9,2407.5 349.4,2407.4 351.9,2407.3 354.4,2407.2 356.9,2407.1 359.4,2406.9 361.9,2406.7 364.4,2406.5 366.9,2406.2 369.4,2406.0 371.9,2405.7 374.4,2405.4 376.9,2405.1 379.4,2404.8 381.9,2404.5 384.4,2404.2 386.9,2403.9 389.4,2403.5 391.9,2403.2 394.4,2402.9 396.8,2402.6 399.3,2402.2 401.8,2401.9 404.3,2401.6 406.8,2401.3 409.2,2401.0 411.7,2400.8 414.2,2400.5 416.7,2400.3 419.1,2400.1 421.6,2399.9 424.1,2399.7 426.6,2399.6 429.1,2399.5 431.6,2399.4 434.1,2399.3 436.7,2399.3 439.2,2399.2 441.7,2399.2 444.2,2399.0 446.7,2398.8 449.1,2398.5 451.5,2398.0 453.9,2397.4 456.2,2396.8 458.5,2396.0 460.9,2395.1 463.3,2394.2 465.7,2393.3 468.1,2392.5 470.5,2392.0 472.9,2391.9 475.4,2392.1 477.8,2392.7 480.3,2393.4 482.7,2394.1 485.1,2394.9 487.6,2395.6 490.0,2396.3 492.4,2397.1 494.8,2397.8 497.2,2398.5 499.6,2399.3 502.0,2400.0 504.4,2400.7 506.7,2401.5 509.1,2402.2 511.5,2402.9 513.9,2403.6 516.3,2404.3 518.7,2405.0 521.2,2405.7 523.6,2406.4 526.0,2407.1" fill="none" stroke="#ff6ead" stroke-width="3" stroke-linejoin="round" stroke-linecap="round"/>
<path d="M121.7,2409.5 121.7,2121.6 121.8,2119.1 121.9,2116.6 122.0,2114.1 122.1,2111.6 122.2,2109.1 122.3,2106.6 122.5,2104.0 122.6,2101.5 122.7,2099.0 122.8,2096.5 122.9,2094.0 123.1,2091.5 123.2,2088.9 123.3,2086.4 123.4,2083.9 123.6,2081.4 123.7,2078.9 123.8,2076.4 124.0,2073.9 124.1,2071.4 124.2,2068.8 124.4,2066.3 124.5,2063.8 124.7,2061.3 124.8,2058.8 125.0,2056.3 125.1,2053.8 125.3,2051.3 125.5,2048.8 125.7,2046.3 125.9,2043.8 126.1,2041.3 126.3,2038.8 126.5,2036.3 126.8,2033.8 127.1,2031.3 127.4,2028.8 127.7,2026.3 128.0,2023.7 128.4,2021.2 128.7,2018.7 129.2,2016.1 130.0,2013.8 131.4,2012.1 132.8,2012.5 134.0,2014.6 134.9,2017.0 135.5,2019.5 136.1,2022.0 136.5,2024.4 137.0,2026.9 137.3,2029.4 137.7,2031.9 138.1,2034.4 138.4,2036.9 138.8,2039.4 139.1,2041.9 139.4,2044.4 139.7,2046.9 140.0,2049.4 140.3,2051.8 140.6,2054.3 140.9,2056.8 141.2,2059.3 141.4,2061.8 141.7,2064.3 142.0,2066.8 142.3,2069.3 142.6,2071.8 142.8,2074.3 143.1,2076.8 143.4,2079.3 143.7,2081.8 143.9,2084.3 144.2,2086.8 144.5,2089.3 144.8,2091.8 145.0,2094.3 145.3,2096.8 145.6,2099.3 145.8,2101.8 146.1,2104.3 146.4,2106.8 146.7,2109.3 146.9,2111.8 147.2,2114.3 147.5,2116.8 147.7,2119.3 148.0,2121.8 148.3,2124.3 148.6,2126.8 148.9,2129.3 149.1,2131.8 149.4,2134.3 149.7,2136.8 150.0,2139.3 150.3,2141.8 150.5,2144.3 150.8,2146.8 151.1,2149.3 151.4,2151.8 151.7,2154.3 152.0,2156.8 152.3,2159.3 152.6,2161.8 152.9,2164.3 153.2,2166.8 153.5,2169.3 153.8,2171.8 154.1,2174.3 154.4,2176.7 154.7,2179.2 155.0,2181.7 155.3,2184.2 155.6,2186.7 155.9,2189.2 156.3,2191.7 156.6,2194.2 156.9,2196.7 157.2,2199.2 157.6,2201.7 157.9,2204.2 158.2,2206.7 158.6,2209.2 158.9,2211.6 159.3,2214.1 159.6,2216.6 160.0,2219.1 160.3,2221.6 160.7,2224.1 161.0,2226.6 161.4,2229.1 161.8,2231.5 162.2,2234.0 162.6,2236.5 163.1,2239.0 163.5,2241.4 163.9,2243.9 164.4,2246.4 164.9,2248.8 165.4,2251.3 165.9,2253.8 166.5,2256.2 167.0,2258.7 167.6,2261.1 168.2,2263.5 168.8,2266.0 169.4,2268.4 170.1,2270.8 170.8,2273.3 171.4,2275.7 172.1,2278.1 172.8,2280.5 173.6,2282.9 174.3,2285.3 175.0,2287.7 175.7,2290.1 176.5,2292.6 177.2,2295.0 178.0,2297.4 178.7,2299.8 179.5,2302.2 180.2,2304.6 181.0,2307.0 181.7,2309.4 182.5,2311.8 183.2,2314.2 184.0,2316.6 184.7,2319.0 185.5,2321.4 186.3,2323.7 187.2,2326.1 188.1,2328.4 189.0,2330.8 190.0,2333.1 191.0,2335.4 192.0,2337.6 193.1,2339.9 194.3,2342.1 195.4,2344.3 196.7,2346.5 198.0,2348.6 199.3,2350.8 200.7,2352.9 202.1,2354.9 203.5,2357.0 205.1,2359.0 206.6,2361.0 208.2,2362.9 209.8,2364.8 211.5,2366.7 213.2,2368.6 215.0,2370.4 216.7,2372.2 218.5,2374.0 220.3,2375.7 222.2,2377.4 224.0,2379.1 225.9,2380.7 227.8,2382.3 229.8,2383.9 231.7,2385.4 233.7,2386.9 235.7,2388.3 237.8,2389.7 239.9,2391.0 242.1,2392.2 244.3,2393.4 246.6,2394.5 248.9,2395.5 251.2,2396.5 253.6,2397.3 256.0,2398.1 258.4,2398.8 260.9,2399.4 263.4,2399.9 265.9,2400.3 268.3,2400.6 270.8,2400.8 273.3,2401.0 275.8,2401.0 278.3,2401.0 280.8,2400.9 283.3,2400.8 285.8,2400.7 288.3,2400.6 290.8,2400.6 293.3,2400.6 295.8,2400.6 298.3,2400.7 300.8,2400.9 303.3,2401.1 305.7,2401.4 308.2,2401.7 310.7,2402.0 313.2,2402.3 315.7,2402.6 318.1,2402.9 320.6,2403.1 323.1,2403.2 325.6,2403.3 328.1,2403.3 330.6,2403.3 333.1,2403.2 335.6,2403.1 338.1,2403.0 340.7,2402.9 343.2,2402.8 345.7,2402.6 348.1,2402.5 350.6,2402.3 353.1,2402.2 355.6,2402.0 358.1,2401.8 360.6,2401.6 363.1,2401.4 365.6,2401.1 368.1,2400.9 370.6,2400.6 373.1,2400.3 375.6,2400.0 378.1,2399.7 380.6,2399.3 383.0,2399.0 385.5,2398.6 388.0,2398.2 390.4,2397.8 392.9,2397.4 395.4,2396.9 397.8,2396.5 400.3,2396.1 402.8,2395.6 405.2,2395.2 407.7,2394.7 410.2,2394.2 412.6,2393.7 415.1,2393.2 417.5,2392.6 419.9,2392.0 422.3,2391.3 424.7,2390.6 427.1,2389.8 429.5,2389.0 431.8,2388.2 434.2,2387.3 436.5,2386.4 438.8,2385.5 441.1,2384.5 443.4,2383.5 445.8,2382.6 448.1,2381.6 450.4,2380.6 452.7,2379.7 455.1,2378.8 457.4,2377.9 459.8,2377.1 462.2,2376.3 464.6,2375.6 467.0,2374.9 469.4,2374.4 471.9,2373.9 474.3,2373.5 476.8,2373.3 479.3,2373.2 481.8,2373.1 484.4,2373.2 486.9,2373.4 489.4,2373.7 491.9,2374.1 494.3,2374.6 496.8,2375.2 499.1,2375.9 501.5,2376.8 503.7,2377.7 505.9,2378.9 508.0,2380.1 510.0,2381.6 511.8,2383.2 513.5,2385.0 515.1,2387.0 516.6,2389.0 518.1,2391.2 519.5,2393.3 521.0,2395.4 522.6,2397.4 524.2,2399.3 526.0,2400.9 526.0,2409.5 Z" fill="rgba(143,230,234,0.3)" stroke="none"/>
<path d="M121.7,2121.6 121.8,2119.1 121.9,2116.6 122.0,2114.1 122.1,2111.6 122.2,2109.1 122.3,2106.6 122.5,2104.0 122.6,2101.5 122.7,2099.0 122.8,2096.5 122.9,2094.0 123.1,2091.5 123.2,2088.9 123.3,2086.4 123.4,2083.9 123.6,2081.4 123.7,2078.9 123.8,2076.4 124.0,2073.9 124.1,2071.4 124.2,2068.8 124.4,2066.3 124.5,2063.8 124.7,2061.3 124.8,2058.8 125.0,2056.3 125.1,2053.8 125.3,2051.3 125.5,2048.8 125.7,2046.3 125.9,2043.8 126.1,2041.3 126.3,2038.8 126.5,2036.3 126.8,2033.8 127.1,2031.3 127.4,2028.8 127.7,2026.3 128.0,2023.7 128.4,2021.2 128.7,2018.7 129.2,2016.1 130.0,2013.8 131.4,2012.1 132.8,2012.5 134.0,2014.6 134.9,2017.0 135.5,2019.5 136.1,2022.0 136.5,2024.4 137.0,2026.9 137.3,2029.4 137.7,2031.9 138.1,2034.4 138.4,2036.9 138.8,2039.4 139.1,2041.9 139.4,2044.4 139.7,2046.9 140.0,2049.4 140.3,2051.8 140.6,2054.3 140.9,2056.8 141.2,2059.3 141.4,2061.8 141.7,2064.3 142.0,2066.8 142.3,2069.3 142.6,2071.8 142.8,2074.3 143.1,2076.8 143.4,2079.3 143.7,2081.8 143.9,2084.3 144.2,2086.8 144.5,2089.3 144.8,2091.8 145.0,2094.3 145.3,2096.8 145.6,2099.3 145.8,2101.8 146.1,2104.3 146.4,2106.8 146.7,2109.3 146.9,2111.8 147.2,2114.3 147.5,2116.8 147.7,2119.3 148.0,2121.8 148.3,2124.3 148.6,2126.8 148.9,2129.3 149.1,2131.8 149.4,2134.3 149.7,2136.8 150.0,2139.3 150.3,2141.8 150.5,2144.3 150.8,2146.8 151.1,2149.3 151.4,2151.8 151.7,2154.3 152.0,2156.8 152.3,2159.3 152.6,2161.8 152.9,2164.3 153.2,2166.8 153.5,2169.3 153.8,2171.8 154.1,2174.3 154.4,2176.7 154.7,2179.2 155.0,2181.7 155.3,2184.2 155.6,2186.7 155.9,2189.2 156.3,2191.7 156.6,2194.2 156.9,2196.7 157.2,2199.2 157.6,2201.7 157.9,2204.2 158.2,2206.7 158.6,2209.2 158.9,2211.6 159.3,2214.1 159.6,2216.6 160.0,2219.1 160.3,2221.6 160.7,2224.1 161.0,2226.6 161.4,2229.1 161.8,2231.5 162.2,2234.0 162.6,2236.5 163.1,2239.0 163.5,2241.4 163.9,2243.9 164.4,2246.4 164.9,2248.8 165.4,2251.3 165.9,2253.8 166.5,2256.2 167.0,2258.7 167.6,2261.1 168.2,2263.5 168.8,2266.0 169.4,2268.4 170.1,2270.8 170.8,2273.3 171.4,2275.7 172.1,2278.1 172.8,2280.5 173.6,2282.9 174.3,2285.3 175.0,2287.7 175.7,2290.1 176.5,2292.6 177.2,2295.0 178.0,2297.4 178.7,2299.8 179.5,2302.2 180.2,2304.6 181.0,2307.0 181.7,2309.4 182.5,2311.8 183.2,2314.2 184.0,2316.6 184.7,2319.0 185.5,2321.4 186.3,2323.7 187.2,2326.1 188.1,2328.4 189.0,2330.8 190.0,2333.1 191.0,2335.4 192.0,2337.6 193.1,2339.9 194.3,2342.1 195.4,2344.3 196.7,2346.5 198.0,2348.6 199.3,2350.8 200.7,2352.9 202.1,2354.9 203.5,2357.0 205.1,2359.0 206.6,2361.0 208.2,2362.9 209.8,2364.8 211.5,2366.7 213.2,2368.6 215.0,2370.4 216.7,2372.2 218.5,2374.0 220.3,2375.7 222.2,2377.4 224.0,2379.1 225.9,2380.7 227.8,2382.3 229.8,2383.9 231.7,2385.4 233.7,2386.9 235.7,2388.3 237.8,2389.7 239.9,2391.0 242.1,2392.2 244.3,2393.4 246.6,2394.5 248.9,2395.5 251.2,2396.5 253.6,2397.3 256.0,2398.1 258.4,2398.8 260.9,2399.4 263.4,2399.9 265.9,2400.3 268.3,2400.6 270.8,2400.8 273.3,2401.0 275.8,2401.0 278.3,2401.0 280.8,2400.9 283.3,2400.8 285.8,2400.7 288.3,2400.6 290.8,2400.6 293.3,2400.6 295.8,2400.6 298.3,2400.7 300.8,2400.9 303.3,2401.1 305.7,2401.4 308.2,2401.7 310.7,2402.0 313.2,2402.3 315.7,2402.6 318.1,2402.9 320.6,2403.1 323.1,2403.2 325.6,2403.3 328.1,2403.3 330.6,2403.3 333.1,2403.2 335.6,2403.1 338.1,2403.0 340.7,2402.9 343.2,2402.8 345.7,2402.6 348.1,2402.5 350.6,2402.3 353.1,2402.2 355.6,2402.0 358.1,2401.8 360.6,2401.6 363.1,2401.4 365.6,2401.1 368.1,2400.9 370.6,2400.6 373.1,2400.3 375.6,2400.0 378.1,2399.7 380.6,2399.3 383.0,2399.0 385.5,2398.6 388.0,2398.2 390.4,2397.8 392.9,2397.4 395.4,2396.9 397.8,2396.5 400.3,2396.1 402.8,2395.6 405.2,2395.2 407.7,2394.7 410.2,2394.2 412.6,2393.7 415.1,2393.2 417.5,2392.6 419.9,2392.0 422.3,2391.3 424.7,2390.6 427.1,2389.8 429.5,2389.0 431.8,2388.2 434.2,2387.3 436.5,2386.4 438.8,2385.5 441.1,2384.5 443.4,2383.5 445.8,2382.6 448.1,2381.6 450.4,2380.6 452.7,2379.7 455.1,2378.8 457.4,2377.9 459.8,2377.1 462.2,2376.3 464.6,2375.6 467.0,2374.9 469.4,2374.4 471.9,2373.9 474.3,2373.5 476.8,2373.3 479.3,2373.2 481.8,2373.1 484.4,2373.2 486.9,2373.4 489.4,2373.7 491.9,2374.1 494.3,2374.6 496.8,2375.2 499.1,2375.9 501.5,2376.8 503.7,2377.7 505.9,2378.9 508.0,2380.1 510.0,2381.6 511.8,2383.2 513.5,2385.0 515.1,2387.0 516.6,2389.0 518.1,2391.2 519.5,2393.3 521.0,2395.4 522.6,2397.4 524.2,2399.3 526.0,2400.9" fill="none" stroke="#8fe6ea" stroke-width="3" stroke-linejoin="round" stroke-linecap="round"/>
<path d="M121.7,2409.5 121.7,2105.9 121.7,2103.4 121.7,2100.8 121.7,2098.3 121.8,2095.8 121.8,2093.3 121.8,2090.7 121.8,2088.2 121.8,2085.7 121.8,2083.2 121.8,2080.7 121.8,2078.1 121.8,2075.6 121.9,2073.1 121.9,2070.6 121.9,2068.1 121.9,2065.5 121.9,2063.0 121.9,2060.5 121.9,2058.0 122.0,2055.4 122.0,2052.9 122.0,2050.4 122.0,2047.9 122.0,2045.3 122.1,2042.8 122.1,2040.3 122.1,2037.8 122.1,2035.3 122.2,2032.8 122.2,2030.4 122.2,2027.9 122.2,2025.3 122.3,2022.6 122.3,2019.8 122.3,2016.9 122.3,2014.3 122.4,2012.5 122.4,2012.1 122.4,2013.2 122.5,2015.3 122.5,2017.6 122.6,2020.0 122.6,2022.6 122.6,2025.1 122.7,2027.7 122.7,2030.2 122.7,2032.8 122.8,2035.3 122.8,2037.9 122.8,2040.4 122.9,2043.0 122.9,2045.5 123.0,2048.1 123.0,2050.6 123.0,2053.1 123.1,2055.7 123.1,2058.2 123.2,2060.7 123.2,2063.3 123.3,2065.8 123.3,2068.3 123.3,2070.9 123.4,2073.4 123.4,2075.9 123.5,2078.4 123.5,2081.0 123.6,2083.5 123.6,2086.0 123.7,2088.5 123.7,2091.1 123.8,2093.6 123.8,2096.1 123.8,2098.6 123.9,2101.1 123.9,2103.7 124.0,2106.2 124.0,2108.7 124.1,2111.2 124.1,2113.7 124.1,2116.2 124.2,2118.8 124.2,2121.3 124.3,2123.8 124.3,2126.3 124.3,2128.8 124.4,2131.3 124.4,2133.9 124.4,2136.4 124.5,2138.9 124.5,2141.4 124.5,2143.9 124.6,2146.4 124.6,2149.0 124.6,2151.5 124.6,2154.0 124.7,2156.5 124.7,2159.0 124.7,2161.6 124.7,2164.1 124.8,2166.6 124.8,2169.1 124.8,2171.6 124.8,2174.2 124.8,2176.7 124.9,2179.2 124.9,2181.7 124.9,2184.2 124.9,2186.8 125.0,2189.3 125.0,2191.8 125.0,2194.3 125.0,2196.9 125.1,2199.4 125.1,2201.9 125.1,2204.4 125.2,2206.9 125.2,2209.5 125.2,2212.0 125.3,2214.5 125.3,2217.0 125.3,2219.6 125.4,2222.1 125.4,2224.6 125.5,2227.1 125.5,2229.6 125.5,2232.2 125.6,2234.7 125.6,2237.2 125.7,2239.7 125.8,2242.3 125.8,2244.8 125.9,2247.3 125.9,2249.8 126.0,2252.3 126.1,2254.9 126.1,2257.4 126.2,2259.9 126.3,2262.4 126.3,2264.9 126.4,2267.5 126.5,2270.0 126.6,2272.5 126.7,2275.0 126.8,2277.6 126.9,2280.1 127.0,2282.6 127.1,2285.1 127.2,2287.6 127.3,2290.2 127.4,2292.7 127.5,2295.2 127.7,2297.7 127.8,2300.2 127.9,2302.8 128.1,2305.3 128.2,2307.8 128.3,2310.3 128.5,2312.8 128.6,2315.3 128.8,2317.9 129.0,2320.4 129.1,2322.9 129.3,2325.4 129.5,2327.9 129.7,2330.5 129.9,2333.0 130.0,2335.5 130.2,2338.0 130.4,2340.5 130.7,2343.0 130.9,2345.5 131.1,2348.1 131.3,2350.6 131.6,2353.1 131.8,2355.6 132.0,2358.1 132.3,2360.6 132.6,2363.1 132.8,2365.6 133.1,2368.1 133.5,2370.6 133.8,2373.1 134.2,2375.6 134.6,2378.0 135.1,2380.4 135.5,2382.9 136.1,2385.2 136.8,2387.5 137.7,2389.7 138.8,2391.7 140.2,2393.5 141.7,2395.3 143.2,2397.2 144.7,2399.1 146.4,2400.8 148.3,2402.2 150.4,2403.5 152.6,2404.6 154.9,2405.5 157.3,2406.2 159.7,2406.8 162.2,2407.3 164.7,2407.7 167.2,2408.0 169.7,2408.3 172.2,2408.4 174.7,2408.5 177.2,2408.6 179.7,2408.6 182.2,2408.6 184.7,2408.6 187.2,2408.6 189.7,2408.6 192.2,2408.6 194.8,2408.6 197.3,2408.6 199.8,2408.6 202.3,2408.6 204.8,2408.6 207.3,2408.6 209.8,2408.6 212.3,2408.6 214.8,2408.6 217.3,2408.6 219.9,2408.6 222.4,2408.6 224.9,2408.7 227.4,2408.7 229.9,2408.7 232.4,2408.7 234.9,2408.7 237.4,2408.7 239.9,2408.8 242.4,2408.8 244.9,2408.8 247.5,2408.8 250.0,2408.8 252.5,2408.8 255.0,2408.9 257.5,2408.9 260.0,2408.9 262.5,2408.9 265.0,2409.0 267.5,2409.0 270.0,2409.0 272.6,2409.0 275.1,2409.0 277.6,2409.1 280.1,2409.1 282.6,2409.1 285.1,2409.1 287.6,2409.1 290.1,2409.2 292.6,2409.2 295.1,2409.2 297.6,2409.2 300.2,2409.2 302.7,2409.3 305.2,2409.3 307.7,2409.3 310.2,2409.3 312.7,2409.3 315.2,2409.3 317.7,2409.3 320.2,2409.4 322.7,2409.4 325.3,2409.4 327.8,2409.4 330.3,2409.4 332.8,2409.4 335.3,2409.4 337.8,2409.4 340.3,2409.4 342.8,2409.4 345.3,2409.4 347.8,2409.4 350.3,2409.4 352.9,2409.4 355.4,2409.5 357.9,2409.5 360.4,2409.5 362.9,2409.5 365.4,2409.5 367.9,2409.5 370.4,2409.5 372.9,2409.5 375.4,2409.5 378.0,2409.5 380.5,2409.5 383.0,2409.5 385.5,2409.5 388.0,2409.5 390.5,2409.5 393.0,2409.5 395.5,2409.5 398.0,2409.5 400.5,2409.5 403.0,2409.5 405.6,2409.5 408.1,2409.5 410.6,2409.4 413.1,2409.4 415.6,2409.4 418.1,2409.4 420.6,2409.4 423.1,2409.4 425.6,2409.4 428.1,2409.4 430.7,2409.4 433.2,2409.4 435.7,2409.4 438.2,2409.4 440.7,2409.4 443.2,2409.4 445.7,2409.4 448.2,2409.4 450.7,2409.4 453.2,2409.4 455.8,2409.4 458.3,2409.4 460.8,2409.4 463.3,2409.4 465.8,2409.4 468.3,2409.4 470.8,2409.4 473.3,2409.4 475.8,2409.4 478.3,2409.4 480.8,2409.4 483.4,2409.4 485.9,2409.4 488.4,2409.4 490.9,2409.4 493.4,2409.4 495.9,2409.4 498.4,2409.4 500.9,2409.4 503.4,2409.4 505.9,2409.4 508.5,2409.4 511.0,2409.4 513.5,2409.4 516.0,2409.4 518.5,2409.4 521.0,2409.4 523.5,2409.4 526.0,2409.4 526.0,2409.5 Z" fill="rgba(31,128,222,0.3)" stroke="none"/>
<path d="M121.7,2105.9 121.7,2103.4 121.7,2100.8 121.7,2098.3 121.8,2095.8 121.8,2093.3 121.8,2090.7 121.8,2088.2 121.8,2085.7 121.8,2083.2 121.8,2080.7 121.8,2078.1 121.8,2075.6 121.9,2073.1 121.9,2070.6 121.9,2068.1 121.9,2065.5 121.9,2063.0 121.9,2060.5 121.9,2058.0 122.0,2055.4 122.0,2052.9 122.0,2050.4 122.0,2047.9 122.0,2045.3 122.1,2042.8 122.1,2040.3 122.1,2037.8 122.1,2035.3 122.2,2032.8 122.2,2030.4 122.2,2027.9 122.2,2025.3 122.3,2022.6 122.3,2019.8 122.3,2016.9 122.3,2014.3 122.4,2012.5 122.4,2012.1 122.4,2013.2 122.5,2015.3 122.5,2017.6 122.6,2020.0 122.6,2022.6 122.6,2025.1 122.7,2027.7 122.7,2030.2 122.7,2032.8 122.8,2035.3 122.8,2037.9 122.8,2040.4 122.9,2043.0 122.9,2045.5 123.0,2048.1 123.0,2050.6 123.0,2053.1 123.1,2055.7 123.1,2058.2 123.2,2060.7 123.2,2063.3 123.3,2065.8 123.3,2068.3 123.3,2070.9 123.4,2073.4 123.4,2075.9 123.5,2078.4 123.5,2081.0 123.6,2083.5 123.6,2086.0 123.7,2088.5 123.7,2091.1 123.8,2093.6 123.8,2096.1 123.8,2098.6 123.9,2101.1 123.9,2103.7 124.0,2106.2 124.0,2108.7 124.1,2111.2 124.1,2113.7 124.1,2116.2 124.2,2118.8 124.2,2121.3 124.3,2123.8 124.3,2126.3 124.3,2128.8 124.4,2131.3 124.4,2133.9 124.4,2136.4 124.5,2138.9 124.5,2141.4 124.5,2143.9 124.6,2146.4 124.6,2149.0 124.6,2151.5 124.6,2154.0 124.7,2156.5 124.7,2159.0 124.7,2161.6 124.7,2164.1 124.8,2166.6 124.8,2169.1 124.8,2171.6 124.8,2174.2 124.8,2176.7 124.9,2179.2 124.9,2181.7 124.9,2184.2 124.9,2186.8 125.0,2189.3 125.0,2191.8 125.0,2194.3 125.0,2196.9 125.1,2199.4 125.1,2201.9 125.1,2204.4 125.2,2206.9 125.2,2209.5 125.2,2212.0 125.3,2214.5 125.3,2217.0 125.3,2219.6 125.4,2222.1 125.4,2224.6 125.5,2227.1 125.5,2229.6 125.5,2232.2 125.6,2234.7 125.6,2237.2 125.7,2239.7 125.8,2242.3 125.8,2244.8 125.9,2247.3 125.9,2249.8 126.0,2252.3 126.1,2254.9 126.1,2257.4 126.2,2259.9 126.3,2262.4 126.3,2264.9 126.4,2267.5 126.5,2270.0 126.6,2272.5 126.7,2275.0 126.8,2277.6 126.9,2280.1 127.0,2282.6 127.1,2285.1 127.2,2287.6 127.3,2290.2 127.4,2292.7 127.5,2295.2 127.7,2297.7 127.8,2300.2 127.9,2302.8 128.1,2305.3 128.2,2307.8 128.3,2310.3 128.5,2312.8 128.6,2315.3 128.8,2317.9 129.0,2320.4 129.1,2322.9 129.3,2325.4 129.5,2327.9 129.7,2330.5 129.9,2333.0 130.0,2335.5 130.2,2338.0 130.4,2340.5 130.7,2343.0 130.9,2345.5 131.1,2348.1 131.3,2350.6 131.6,2353.1 131.8,2355.6 132.0,2358.1 132.3,2360.6 132.6,2363.1 132.8,2365.6 133.1,2368.1 133.5,2370.6 133.8,2373.1 134.2,2375.6 134.6,2378.0 135.1,2380.4 135.5,2382.9 136.1,2385.2 136.8,2387.5 137.7,2389.7 138.8,2391.7 140.2,2393.5 141.7,2395.3 143.2,2397.2 144.7,2399.1 146.4,2400.8 148.3,2402.2 150.4,2403.5 152.6,2404.6 154.9,2405.5 157.3,2406.2 159.7,2406.8 162.2,2407.3 164.7,2407.7 167.2,2408.0 169.7,2408.3 172.2,2408.4 174.7,2408.5 177.2,2408.6 179.7,2408.6 182.2,2408.6 184.7,2408.6 187.2,2408.6 189.7,2408.6 192.2,2408.6 194.8,2408.6 197.3,2408.6 199.8,2408.6 202.3,2408.6 204.8,2408.6 207.3,2408.6 209.8,2408.6 212.3,2408.6 214.8,2408.6 217.3,2408.6 219.9,2408.6 222.4,2408.6 224.9,2408.7 227.4,2408.7 229.9,2408.7 232.4,2408.7 234.9,2408.7 237.4,2408.7 239.9,2408.8 242.4,2408.8 244.9,2408.8 247.5,2408.8 250.0,2408.8 252.5,2408.8 255.0,2408.9 257.5,2408.9 260.0,2408.9 262.5,2408.9 265.0,2409.0 267.5,2409.0 270.0,2409.0 272.6,2409.0 275.1,2409.0 277.6,2409.1 280.1,2409.1 282.6,2409.1 285.1,2409.1 287.6,2409.1 290.1,2409.2 292.6,2409.2 295.1,2409.2 297.6,2409.2 300.2,2409.2 302.7,2409.3 305.2,2409.3 307.7,2409.3 310.2,2409.3 312.7,2409.3 315.2,2409.3 317.7,2409.3 320.2,2409.4 322.7,2409.4 325.3,2409.4 327.8,2409.4 330.3,2409.4 332.8,2409.4 335.3,2409.4 337.8,2409.4 340.3,2409.4 342.8,2409.4 345.3,2409.4 347.8,2409.4 350.3,2409.4 352.9,2409.4 355.4,2409.5 357.9,2409.5 360.4,2409.5 362.9,2409.5 365.4,2409.5 367.9,2409.5 370.4,2409.5 372.9,2409.5 375.4,2409.5 378.0,2409.5 380.5,2409.5 383.0,2409.5 385.5,2409.5 388.0,2409.5 390.5,2409.5 393.0,2409.5 395.5,2409.5 398.0,2409.5 400.5,2409.5 403.0,2409.5 405.6,2409.5 408.1,2409.5 410.6,2409.4 413.1,2409.4 415.6,2409.4 418.1,2409.4 420.6,2409.4 423.1,2409.4 425.6,2409.4 428.1,2409.4 430.7,2409.4 433.2,2409.4 435.7,2409.4 438.2,2409.4 440.7,2409.4 443.2,2409.4 445.7,2409.4 448.2,2409.4 450.7,2409.4 453.2,2409.4 455.8,2409.4 458.3,2409.4 460.8,2409.4 463.3,2409.4 465.8,2409.4 468.3,2409.4 470.8,2409.4 473.3,2409.4 475.8,2409.4 478.3,2409.4 480.8,2409.4 483.4,2409.4 485.9,2409.4 488.4,2409.4 490.9,2409.4 493.4,2409.4 495.9,2409.4 498.4,2409.4 500.9,2409.4 503.4,2409.4 505.9,2409.4 508.5,2409.4 511.0,2409.4 513.5,2409.4 516.0,2409.4 518.5,2409.4 521.0,2409.4 523.5,2409.4 526.0,2409.4" fill="none" stroke="#1f80de" stroke-width="3" stroke-linejoin="round" stroke-linecap="round"/>
<path d="M121.7,2409.5 121.7,2275.4 122.8,2273.1 123.7,2270.8 124.6,2268.4 125.3,2266.0 126.0,2263.6 126.7,2261.2 127.5,2258.8 128.3,2256.4 129.3,2254.1 130.5,2251.9 131.9,2249.8 133.6,2247.7 135.5,2245.9 137.5,2244.4 139.7,2243.3 141.8,2242.8 143.8,2242.9 145.7,2243.8 147.6,2245.1 149.3,2246.8 150.9,2248.8 152.5,2250.9 154.0,2253.1 155.5,2255.2 156.9,2257.4 158.2,2259.6 159.5,2261.8 160.7,2264.0 161.9,2266.2 163.1,2268.5 164.2,2270.7 165.2,2273.0 166.3,2275.3 167.3,2277.6 168.3,2279.9 169.3,2282.2 170.2,2284.5 171.2,2286.8 172.1,2289.1 173.1,2291.4 174.0,2293.7 174.9,2296.1 175.8,2298.4 176.8,2300.7 177.7,2303.0 178.7,2305.3 179.7,2307.7 180.7,2310.0 181.7,2312.3 182.7,2314.6 183.8,2316.9 184.9,2319.1 185.9,2321.4 187.0,2323.7 188.2,2325.9 189.3,2328.2 190.5,2330.4 191.7,2332.6 192.9,2334.8 194.2,2337.0 195.4,2339.2 196.7,2341.3 198.1,2343.4 199.4,2345.6 200.8,2347.7 202.2,2349.7 203.6,2351.8 205.1,2353.8 206.6,2355.9 208.1,2357.9 209.7,2359.8 211.3,2361.8 212.9,2363.7 214.6,2365.5 216.3,2367.3 218.1,2369.1 219.9,2370.8 221.8,2372.5 223.7,2374.1 225.7,2375.6 227.7,2377.0 229.8,2378.4 232.0,2379.7 234.2,2380.9 236.4,2382.1 238.7,2383.2 241.0,2384.2 243.3,2385.1 245.7,2386.0 248.1,2386.7 250.5,2387.5 252.9,2388.1 255.3,2388.7 257.8,2389.2 260.2,2389.6 262.7,2390.0 265.2,2390.3 267.6,2390.5 270.1,2390.7 272.6,2390.9 275.1,2390.9 277.6,2390.9 280.1,2390.9 282.6,2390.8 285.1,2390.6 287.6,2390.4 290.1,2390.2 292.6,2389.9 295.1,2389.5 297.6,2389.1 300.1,2388.7 302.5,2388.2 305.0,2387.7 307.5,2387.1 309.9,2386.5 312.4,2385.9 314.8,2385.2 317.2,2384.5 319.6,2383.8 322.0,2382.9 324.3,2382.1 326.6,2381.1 328.9,2380.1 331.1,2379.1 333.3,2377.9 335.5,2376.7 337.6,2375.4 339.6,2374.0 341.6,2372.6 343.6,2371.0 345.5,2369.4 347.4,2367.8 349.3,2366.1 351.1,2364.4 352.9,2362.6 354.6,2360.8 356.4,2358.9 358.1,2357.1 359.8,2355.2 361.4,2353.3 363.1,2351.4 364.7,2349.5 366.3,2347.5 367.9,2345.6 369.4,2343.6 370.9,2341.6 372.4,2339.6 373.9,2337.5 375.4,2335.5 376.8,2333.4 378.2,2331.3 379.5,2329.2 380.9,2327.1 382.2,2324.9 383.4,2322.8 384.7,2320.6 385.9,2318.4 387.1,2316.2 388.3,2314.0 389.4,2311.8 390.5,2309.5 391.6,2307.3 392.6,2305.0 393.6,2302.7 394.6,2300.4 395.6,2298.1 396.5,2295.8 397.4,2293.4 398.3,2291.1 399.2,2288.8 400.1,2286.4 400.9,2284.0 401.8,2281.7 402.6,2279.3 403.4,2276.9 404.2,2274.5 405.0,2272.1 405.8,2269.7 406.5,2267.3 407.3,2264.9 408.1,2262.5 408.8,2260.1 409.6,2257.7 410.3,2255.3 411.1,2252.9 411.8,2250.5 412.5,2248.1 413.3,2245.6 414.0,2243.2 414.7,2240.8 415.5,2238.4 416.2,2236.0 416.9,2233.6 417.7,2231.2 418.4,2228.8 419.1,2226.4 419.8,2223.9 420.5,2221.5 421.2,2219.1 421.9,2216.7 422.6,2214.3 423.3,2211.9 424.0,2209.4 424.7,2207.0 425.4,2204.6 426.1,2202.2 426.7,2199.8 427.4,2197.3 428.1,2194.9 428.7,2192.5 429.4,2190.1 430.1,2187.6 430.7,2185.2 431.4,2182.8 432.0,2180.4 432.7,2177.9 433.3,2175.5 433.9,2173.1 434.6,2170.6 435.2,2168.2 435.8,2165.8 436.4,2163.3 437.0,2160.9 437.6,2158.5 438.2,2156.0 438.8,2153.6 439.4,2151.1 440.0,2148.7 440.6,2146.3 441.2,2143.8 441.8,2141.4 442.3,2138.9 442.9,2136.5 443.5,2134.0 444.0,2131.6 444.6,2129.1 445.1,2126.7 445.7,2124.2 446.2,2121.8 446.8,2119.3 447.3,2116.9 447.9,2114.4 448.4,2112.0 449.0,2109.5 449.5,2107.0 450.1,2104.6 450.6,2102.1 451.2,2099.7 451.8,2097.2 452.3,2094.8 452.9,2092.3 453.5,2089.9 454.1,2087.4 454.7,2085.0 455.2,2082.6 455.8,2080.1 456.5,2077.7 457.1,2075.2 457.7,2072.8 458.3,2070.3 459.0,2067.9 459.6,2065.5 460.3,2063.0 460.9,2060.6 461.6,2058.2 462.3,2055.8 463.0,2053.3 463.7,2050.9 464.4,2048.5 465.2,2046.1 465.9,2043.7 466.7,2041.3 467.5,2038.8 468.3,2036.4 469.1,2034.0 469.9,2031.6 470.8,2029.2 471.6,2026.9 472.5,2024.5 473.4,2022.2 474.5,2019.9 475.7,2017.8 477.1,2015.9 478.7,2014.3 480.6,2012.9 482.7,2012.1 484.8,2012.3 486.6,2013.6 488.3,2015.5 489.6,2017.7 490.8,2020.0 491.8,2022.3 492.7,2024.7 493.5,2027.2 494.2,2029.6 494.9,2032.0 495.6,2034.5 496.3,2036.9 497.0,2039.3 497.7,2041.7 498.4,2044.1 499.0,2046.5 499.6,2049.0 500.2,2051.4 500.8,2053.9 501.3,2056.3 501.9,2058.7 502.4,2061.2 502.9,2063.7 503.4,2066.1 503.8,2068.6 504.3,2071.1 504.8,2073.5 505.2,2076.0 505.6,2078.5 506.0,2081.0 506.5,2083.4 506.9,2085.9 507.3,2088.4 507.6,2090.9 508.0,2093.4 508.4,2095.9 508.8,2098.4 509.2,2100.9 509.5,2103.4 509.9,2105.8 510.3,2108.3 510.6,2110.8 511.0,2113.3 511.4,2115.8 511.7,2118.3 512.1,2120.8 512.4,2123.3 512.8,2125.8 513.2,2128.3 513.5,2130.8 513.9,2133.2 514.2,2135.7 514.6,2138.2 514.9,2140.7 515.3,2143.2 515.6,2145.7 516.0,2148.2 516.3,2150.7 516.7,2153.2 517.0,2155.6 517.4,2158.1 517.7,2160.6 518.1,2163.1 518.4,2165.6 518.8,2168.1 519.1,2170.6 519.5,2173.1 519.8,2175.6 520.2,2178.1 520.5,2180.6 520.9,2183.0 521.2,2185.5 521.5,2188.0 521.9,2190.5 522.2,2193.0 522.6,2195.5 522.9,2198.0 523.3,2200.5 523.6,2203.0 524.0,2205.5 524.3,2208.0 524.6,2210.5 525.0,2212.9 525.3,2215.4 525.7,2217.9 526.0,2220.4 526.0,2409.5 Z" fill="rgba(45,224,0,0.3)" stroke="none"/>
<path d="M121.7,2275.4 122.8,2273.1 123.7,2270.8 124.6,2268.4 125.3,2266.0 126.0,2263.6 126.7,2261.2 127.5,2258.8 128.3,2256.4 129.3,2254.1 130.5,2251.9 131.9,2249.8 133.6,2247.7 135.5,2245.9 137.5,2244.4 139.7,2243.3 141.8,2242.8 143.8,2242.9 145.7,2243.8 147.6,2245.1 149.3,2246.8 150.9,2248.8 152.5,2250.9 154.0,2253.1 155.5,2255.2 156.9,2257.4 158.2,2259.6 159.5,2261.8 160.7,2264.0 161.9,2266.2 163.1,2268.5 164.2,2270.7 165.2,2273.0 166.3,2275.3 167.3,2277.6 168.3,2279.9 169.3,2282.2 170.2,2284.5 171.2,2286.8 172.1,2289.1 173.1,2291.4 174.0,2293.7 174.9,2296.1 175.8,2298.4 176.8,2300.7 177.7,2303.0 178.7,2305.3 179.7,2307.7 180.7,2310.0 181.7,2312.3 182.7,2314.6 183.8,2316.9 184.9,2319.1 185.9,2321.4 187.0,2323.7 188.2,2325.9 189.3,2328.2 190.5,2330.4 191.7,2332.6 192.9,2334.8 194.2,2337.0 195.4,2339.2 196.7,2341.3 198.1,2343.4 199.4,2345.6 200.8,2347.7 202.2,2349.7 203.6,2351.8 205.1,2353.8 206.6,2355.9 208.1,2357.9 209.7,2359.8 211.3,2361.8 212.9,2363.7 214.6,2365.5 216.3,2367.3 218.1,2369.1 219.9,2370.8 221.8,2372.5 223.7,2374.1 225.7,2375.6 227.7,2377.0 229.8,2378.4 232.0,2379.7 234.2,2380.9 236.4,2382.1 238.7,2383.2 241.0,2384.2 243.3,2385.1 245.7,2386.0 248.1,2386.7 250.5,2387.5 252.9,2388.1 255.3,2388.7 257.8,2389.2 260.2,2389.6 262.7,2390.0 265.2,2390.3 267.6,2390.5 270.1,2390.7 272.6,2390.9 275.1,2390.9 277.6,2390.9 280.1,2390.9 282.6,2390.8 285.1,2390.6 287.6,2390.4 290.1,2390.2 292.6,2389.9 295.1,2389.5 297.6,2389.1 300.1,2388.7 302.5,2388.2 305.0,2387.7 307.5,2387.1 309.9,2386.5 312.4,2385.9 314.8,2385.2 317.2,2384.5 319.6,2383.8 322.0,2382.9 324.3,2382.1 326.6,2381.1 328.9,2380.1 331.1,2379.1 333.3,2377.9 335.5,2376.7 337.6,2375.4 339.6,2374.0 341.6,2372.6 343.6,2371.0 345.5,2369.4 347.4,2367.8 349.3,2366.1 351.1,2364.4 352.9,2362.6 354.6,2360.8 356.4,2358.9 358.1,2357.1 359.8,2355.2 361.4,2353.3 363.1,2351.4 364.7,2349.5 366.3,2347.5 367.9,2345.6 369.4,2343.6 370.9,2341.6 372.4,2339.6 373.9,2337.5 375.4,2335.5 376.8,2333.4 378.2,2331.3 379.5,2329.2 380.9,2327.1 382.2,2324.9 383.4,2322.8 384.7,2320.6 385.9,2318.4 387.1,2316.2 388.3,2314.0 389.4,2311.8 390.5,2309.5 391.6,2307.3 392.6,2305.0 393.6,2302.7 394.6,2300.4 395.6,2298.1 396.5,2295.8 397.4,2293.4 398.3,2291.1 399.2,2288.8 400.1,2286.4 400.9,2284.0 401.8,2281.7 402.6,2279.3 403.4,2276.9 404.2,2274.5 405.0,2272.1 405.8,2269.7 406.5,2267.3 407.3,2264.9 408.1,2262.5 408.8,2260.1 409.6,2257.7 410.3,2255.3 411.1,2252.9 411.8,2250.5 412.5,2248.1 413.3,2245.6 414.0,2243.2 414.7,2240.8 415.5,2238.4 416.2,2236.0 416.9,2233.6 417.7,2231.2 418.4,2228.8 419.1,2226.4 419.8,2223.9 420.5,2221.5 421.2,2219.1 421.9,2216.7 422.6,2214.3 423.3,2211.9 424.0,2209.4 424.7,2207.0 425.4,2204.6 426.1,2202.2 426.7,2199.8 427.4,2197.3 428.1,2194.9 428.7,2192.5 429.4,2190.1 430.1,2187.6 430.7,2185.2 431.4,2182.8 432.0,2180.4 432.7,2177.9 433.3,2175.5 433.9,2173.1 434.6,2170.6 435.2,2168.2 435.8,2165.8 436.4,2163.3 437.0,2160.9 437.6,2158.5 438.2,2156.0 438.8,2153.6 439.4,2151.1 440.0,2148.7 440.6,2146.3 441.2,2143.8 441.8,2141.4 442.3,2138.9 442.9,2136.5 443.5,2134.0 444.0,2131.6 444.6,2129.1 445.1,2126.7 445.7,2124.2 446.2,2121.8 446.8,2119.3 447.3,2116.9 447.9,2114.4 448.4,2112.0 449.0,2109.5 449.5,2107.0 450.1,2104.6 450.6,2102.1 451.2,2099.7 451.8,2097.2 452.3,2094.8 452.9,2092.3 453.5,2089.9 454.1,2087.4 454.7,2085.0 455.2,2082.6 455.8,2080.1 456.5,2077.7 457.1,2075.2 457.7,2072.8 458.3,2070.3 459.0,2067.9 459.6,2065.5 460.3,2063.0 460.9,2060.6 461.6,2058.2 462.3,2055.8 463.0,2053.3 463.7,2050.9 464.4,2048.5 465.2,2046.1 465.9,2043.7 466.7,2041.3 467.5,2038.8 468.3,2036.4 469.1,2034.0 469.9,2031.6 470.8,2029.2 471.6,2026.9 472.5,2024.5 473.4,2022.2 474.5,2019.9 475.7,2017.8 477.1,2015.9 478.7,2014.3 480.6,2012.9 482.7,2012.1 484.8,2012.3 486.6,2013.6 488.3,2015.5 489.6,2017.7 490.8,2020.0 491.8,2022.3 492.7,2024.7 493.5,2027.2 494.2,2029.6 494.9,2032.0 495.6,2034.5 496.3,2036.9 497.0,2039.3 497.7,2041.7 498.4,2044.1 499.0,2046.5 499.6,2049.0 500.2,2051.4 500.8,2053.9 501.3,2056.3 501.9,2058.7 502.4,2061.2 502.9,2063.7 503.4,2066.1 503.8,2068.6 504.3,2071.1 504.8,2073.5 505.2,2076.0 505.6,2078.5 506.0,2081.0 506.5,2083.4 506.9,2085.9 507.3,2088.4 507.6,2090.9 508.0,2093.4 508.4,2095.9 508.8,2098.4 509.2,2100.9 509.5,2103.4 509.9,2105.8 510.3,2108.3 510.6,2110.8 511.0,2113.3 511.4,2115.8 511.7,2118.3 512.1,2120.8 512.4,2123.3 512.8,2125.8 513.2,2128.3 513.5,2130.8 513.9,2133.2 514.2,2135.7 514.6,2138.2 514.9,2140.7 515.3,2143.2 515.6,2145.7 516.0,2148.2 516.3,2150.7 516.7,2153.2 517.0,2155.6 517.4,2158.1 517.7,2160.6 518.1,2163.1 518.4,2165.6 518.8,2168.1 519.1,2170.6 519.5,2173.1 519.8,2175.6 520.2,2178.1 520.5,2180.6 520.9,2183.0 521.2,2185.5 521.5,2188.0 521.9,2190.5 522.2,2193.0 522.6,2195.5 522.9,2198.0 523.3,2200.5 523.6,2203.0 524.0,2205.5 524.3,2208.0 524.6,2210.5 525.0,2212.9 525.3,2215.4 525.7,2217.9 526.0,2220.4" fill="none" stroke="#2de000" stroke-width="3" stroke-linejoin="round" stroke-linecap="round"/>
<rect x="99.7" y="2408.2" width="2.6" height="2.6" fill="#111"/>
<text transform="translate(92.6,2414.4) scale(1,1.02)" font-size="21.8" text-anchor="end" fill="#1c2626">0.00</text>
<rect x="99.7" y="2308.82" width="2.6" height="2.6" fill="#111"/>
<text transform="translate(92.6,2315.03) scale(1,1.02)" font-size="21.8" text-anchor="end" fill="#1c2626">0.25</text>
<rect x="99.7" y="2209.45" width="2.6" height="2.6" fill="#111"/>
<text transform="translate(92.6,2215.65) scale(1,1.02)" font-size="21.8" text-anchor="end" fill="#1c2626">0.50</text>
<rect x="99.7" y="2110.07" width="2.6" height="2.6" fill="#111"/>
<text transform="translate(92.6,2116.28) scale(1,1.02)" font-size="21.8" text-anchor="end" fill="#1c2626">0.75</text>
<rect x="99.7" y="2010.7" width="2.6" height="2.6" fill="#111"/>
<text transform="translate(92.6,2016.9) scale(1,1.02)" font-size="21.8" text-anchor="end" fill="#1c2626">1.00</text>
<rect x="120.8" y="2429.07" width="2.8" height="8.1" fill="#111"/>
<rect x="221.9" y="2429.07" width="2.8" height="8.1" fill="#111"/>
<rect x="323" y="2429.07" width="2.8" height="8.1" fill="#111"/>
<rect x="424.1" y="2429.07" width="2.8" height="8.1" fill="#111"/>
<rect x="525.2" y="2429.07" width="2.8" height="8.1" fill="#111"/>
<line x1="552.4" y1="1992.12" x2="552.4" y2="2437.38" stroke="#808080" stroke-width="1.5"/>
<text transform="translate(18.3,280.6) rotate(-90) scale(1,1.05)" font-size="22" font-weight="bold" text-anchor="middle" fill="#111">Scaled Posterior Density</text>
<text transform="translate(18.3,761.35) rotate(-90) scale(1,1.05)" font-size="22" font-weight="bold" text-anchor="middle" fill="#111">Scaled Posterior Density</text>
<text transform="translate(18.3,1242.6) rotate(-90) scale(1,1.05)" font-size="22" font-weight="bold" text-anchor="middle" fill="#111">Scaled Posterior Density</text>
<text transform="translate(18.3,1723.7) rotate(-90) scale(1,1.05)" font-size="22" font-weight="bold" text-anchor="middle" fill="#111">Scaled Posterior Density</text>
<text transform="translate(18.3,2204.25) rotate(-90) scale(1,1.05)" font-size="22" font-weight="bold" text-anchor="middle" fill="#111">Scaled Posterior Density</text>
<text transform="translate(582.3,1497.6) scale(1,1.02)" font-size="21.8" text-anchor="middle" fill="#1c2626">0.00</text>
<text transform="translate(683.4,1497.6) scale(1,1.02)" font-size="21.8" text-anchor="middle" fill="#1c2626">0.25</text>
<text transform="translate(784.5,1497.6) scale(1,1.02)" font-size="21.8" text-anchor="middle" fill="#1c2626">0.50</text>
<text transform="translate(885.6,1497.6) scale(1,1.02)" font-size="21.8" text-anchor="middle" fill="#1c2626">0.75</text>
<text transform="translate(986.7,1497.6) scale(1,1.02)" font-size="21.8" text-anchor="middle" fill="#1c2626">1.00</text>
<text transform="translate(808.2,1532.9) scale(1,1.0)" font-size="22" font-weight="bold" text-anchor="middle" fill="#111">Proportion of Diet</text>
<text transform="translate(125.5,2460.0) scale(1,1.02)" font-size="21.8" text-anchor="middle" fill="#1c2626">0.00</text>
<text transform="translate(226.6,2460.0) scale(1,1.02)" font-size="21.8" text-anchor="middle" fill="#1c2626">0.25</text>
<text transform="translate(327.7,2460.0) scale(1,1.02)" font-size="21.8" text-anchor="middle" fill="#1c2626">0.50</text>
<text transform="translate(428.8,2460.0) scale(1,1.02)" font-size="21.8" text-anchor="middle" fill="#1c2626">0.75</text>
<text transform="translate(529.9,2460.0) scale(1,1.02)" font-size="21.8" text-anchor="middle" fill="#1c2626">1.00</text>
<text transform="translate(351.4,2495.3) scale(1,1.0)" font-size="22" font-weight="bold" text-anchor="middle" fill="#111">Proportion of Diet</text>
<rect x="638" y="1650.8" width="30.6" height="30.6" fill="#b6fba8" stroke="#26ea00" stroke-width="2.8"/>
<text x="683.2" y="1673.3" font-size="22.4" font-weight="bold" font-style="italic" fill="#222">Laurencia sp.</text>
<rect x="638" y="1686.8" width="30.6" height="30.6" fill="#e2fbf6" stroke="#93e6e8" stroke-width="2.8"/>
<text x="683.2" y="1706.6" font-size="22.4" font-weight="bold" fill="#222">Tribe Dictyoteae</text>
<rect x="638" y="1722.8" width="30.6" height="30.6" fill="#fdd6eb" stroke="#ff6eae" stroke-width="2.8"/>
<text x="683.2" y="1743.8" font-size="22.4" font-weight="bold" font-style="italic" fill="#222">Caulerpa sertularioides</text>
<rect x="638" y="1758.8" width="30.6" height="30.6" fill="#b3eaf1" stroke="#0f78dc" stroke-width="2.8"/>
<text x="683.2" y="1779.6" font-size="22.4" font-weight="bold" font-style="italic" fill="#222">Halodule wrightii</text>
</svg></body></html>
